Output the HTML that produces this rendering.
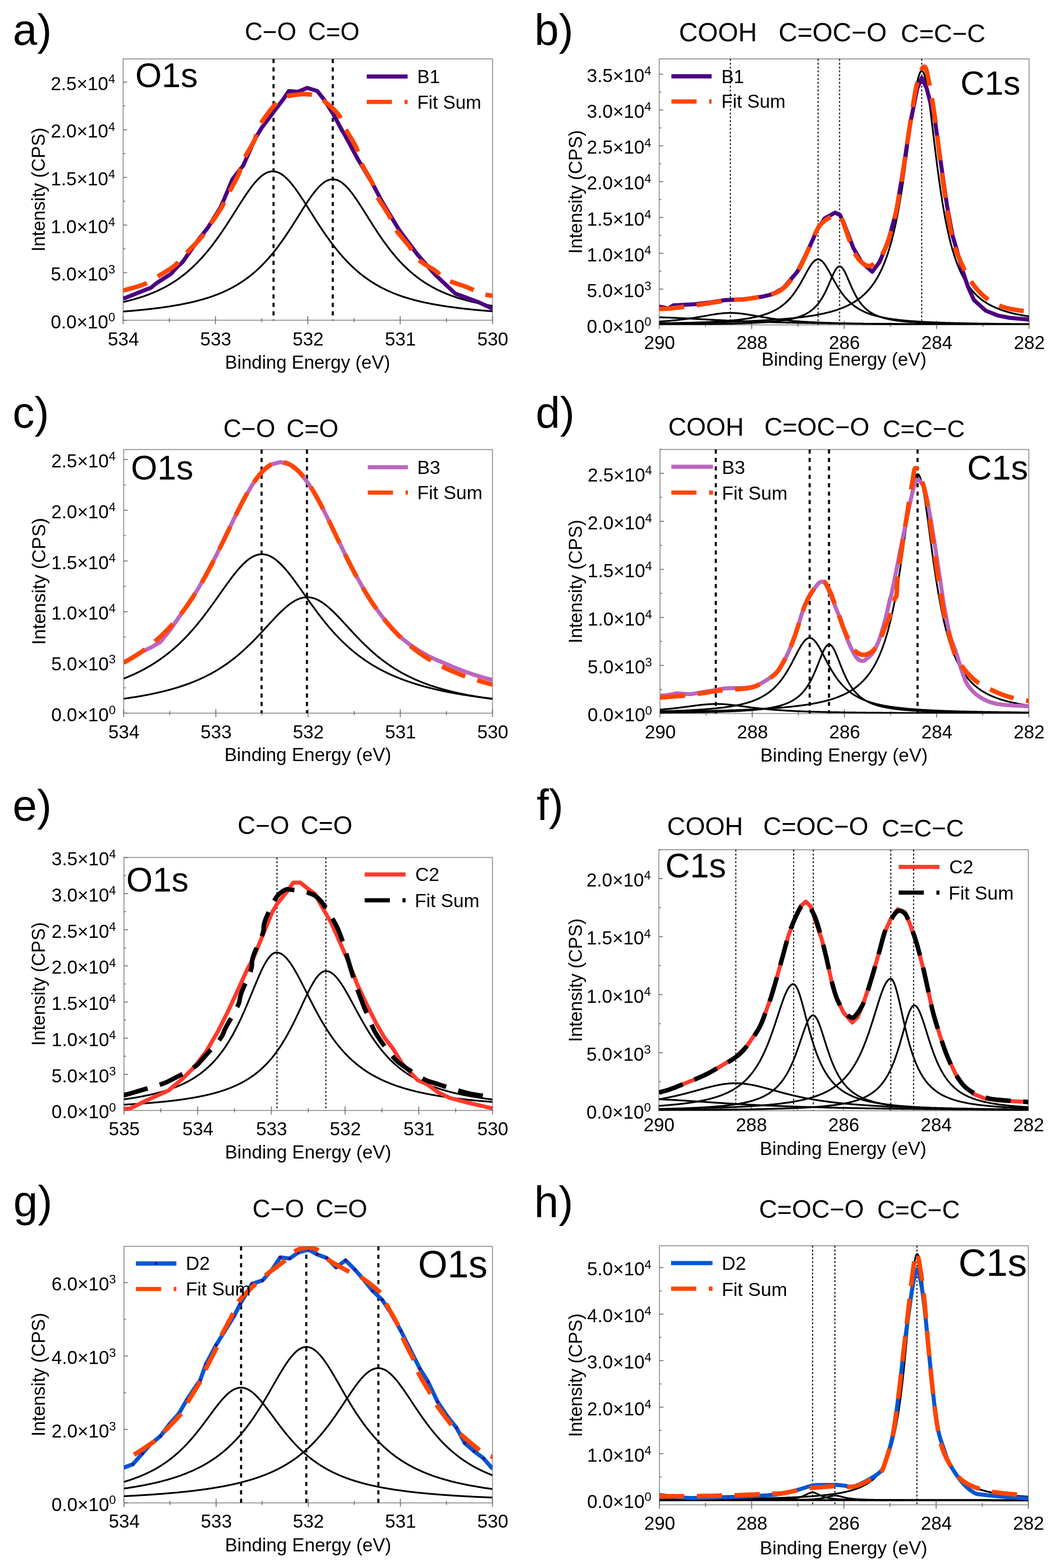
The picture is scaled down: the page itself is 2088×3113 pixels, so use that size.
<!DOCTYPE html><html><head><meta charset="utf-8"><style>html,body{margin:0;padding:0;background:#fff}svg{display:block}text{font-family:'Liberation Sans', Arial, Helvetica, sans-serif;fill:#000}</style></head><body>
<svg xmlns="http://www.w3.org/2000/svg" width="2088" height="3113" viewBox="0 0 2088 3113">
<rect width="100%" height="100%" fill="#fff"/>
<clipPath id="clipa"><rect x="244.4" y="117.0" width="733.2" height="518.7"/></clipPath>
<rect x="244.4" y="117.0" width="733.2" height="518.7" fill="none" stroke="#8c8c8c" stroke-width="1.8"/>
<line x1="244.4" y1="627.7" x2="244.4" y2="643.7" stroke="#707070" stroke-width="1.8"/>
<text x="244.9" y="685.6" font-size="37.00" text-anchor="middle">534</text>
<line x1="336.1" y1="631.7" x2="336.1" y2="639.7" stroke="#707070" stroke-width="1.8"/>
<line x1="427.7" y1="627.7" x2="427.7" y2="643.7" stroke="#707070" stroke-width="1.8"/>
<text x="428.2" y="685.6" font-size="37.00" text-anchor="middle">533</text>
<line x1="519.4" y1="631.7" x2="519.4" y2="639.7" stroke="#707070" stroke-width="1.8"/>
<line x1="611.0" y1="627.7" x2="611.0" y2="643.7" stroke="#707070" stroke-width="1.8"/>
<text x="611.5" y="685.6" font-size="37.00" text-anchor="middle">532</text>
<line x1="702.6" y1="631.7" x2="702.6" y2="639.7" stroke="#707070" stroke-width="1.8"/>
<line x1="794.3" y1="627.7" x2="794.3" y2="643.7" stroke="#707070" stroke-width="1.8"/>
<text x="794.8" y="685.6" font-size="37.00" text-anchor="middle">531</text>
<line x1="886.0" y1="631.7" x2="886.0" y2="639.7" stroke="#707070" stroke-width="1.8"/>
<line x1="977.6" y1="627.7" x2="977.6" y2="643.7" stroke="#707070" stroke-width="1.8"/>
<text x="978.1" y="685.6" font-size="37.00" text-anchor="middle">530</text>
<line x1="244.4" y1="636.0" x2="252.4" y2="636.0" stroke="#707070" stroke-width="1.8"/>
<text x="228.6" y="651.8" font-size="37" text-anchor="end">0.0×10<tspan font-size="24.5" dy="-13.8">0</tspan></text>
<line x1="244.4" y1="588.7" x2="248.4" y2="588.7" stroke="#707070" stroke-width="1.8"/>
<line x1="244.4" y1="541.4" x2="252.4" y2="541.4" stroke="#707070" stroke-width="1.8"/>
<text x="228.6" y="557.2" font-size="37" text-anchor="end">5.0×10<tspan font-size="24.5" dy="-13.8">3</tspan></text>
<line x1="244.4" y1="494.1" x2="248.4" y2="494.1" stroke="#707070" stroke-width="1.8"/>
<line x1="244.4" y1="446.8" x2="252.4" y2="446.8" stroke="#707070" stroke-width="1.8"/>
<text x="228.6" y="462.6" font-size="37" text-anchor="end">1.0×10<tspan font-size="24.5" dy="-13.8">4</tspan></text>
<line x1="244.4" y1="399.5" x2="248.4" y2="399.5" stroke="#707070" stroke-width="1.8"/>
<line x1="244.4" y1="352.2" x2="252.4" y2="352.2" stroke="#707070" stroke-width="1.8"/>
<text x="228.6" y="368.0" font-size="37" text-anchor="end">1.5×10<tspan font-size="24.5" dy="-13.8">4</tspan></text>
<line x1="244.4" y1="304.9" x2="248.4" y2="304.9" stroke="#707070" stroke-width="1.8"/>
<line x1="244.4" y1="257.6" x2="252.4" y2="257.6" stroke="#707070" stroke-width="1.8"/>
<text x="228.6" y="273.4" font-size="37" text-anchor="end">2.0×10<tspan font-size="24.5" dy="-13.8">4</tspan></text>
<line x1="244.4" y1="210.3" x2="248.4" y2="210.3" stroke="#707070" stroke-width="1.8"/>
<line x1="244.4" y1="163.0" x2="252.4" y2="163.0" stroke="#707070" stroke-width="1.8"/>
<text x="228.6" y="178.8" font-size="37" text-anchor="end">2.5×10<tspan font-size="24.5" dy="-13.8">4</tspan></text>
<text x="446.6" y="732.2" font-size="36.63" text-anchor="start">Binding Energy (eV)</text>
<text x="0" y="0" font-size="36.6" text-anchor="middle" transform="translate(88.7,376.4) rotate(-90)">Intensity (CPS)</text>
<line x1="542.9" y1="117.0" x2="542.9" y2="635.7" stroke="#000" stroke-width="4.2" stroke-dasharray="8.2,8.5"/>
<line x1="660.5" y1="117.0" x2="660.5" y2="635.7" stroke="#000" stroke-width="4.2" stroke-dasharray="8.2,8.5"/>
<path d="M244.4,599.5 L245.9,599.2 L247.3,598.9 L248.8,598.5 L250.3,598.2 L251.7,597.8 L253.2,597.5 L254.7,597.1 L256.1,596.7 L257.6,596.3 L259.1,596.0 L260.5,595.6 L262.0,595.2 L263.5,594.8 L264.9,594.4 L266.4,594.0 L267.9,593.6 L269.3,593.1 L270.8,592.7 L272.3,592.3 L273.7,591.8 L275.2,591.4 L276.7,590.9 L278.1,590.5 L279.6,590.0 L281.1,589.5 L282.5,589.1 L284.0,588.6 L285.5,588.1 L286.9,587.6 L288.4,587.1 L289.9,586.5 L291.3,586.0 L292.8,585.5 L294.3,584.9 L295.7,584.4 L297.2,583.8 L298.7,583.2 L300.1,582.7 L301.6,582.1 L303.1,581.5 L304.5,580.9 L306.0,580.2 L307.5,579.6 L308.9,579.0 L310.4,578.3 L311.9,577.7 L313.3,577.0 L314.8,576.3 L316.3,575.6 L317.7,574.9 L319.2,574.2 L320.7,573.5 L322.1,572.8 L323.6,572.0 L325.1,571.2 L326.5,570.5 L328.0,569.7 L329.5,568.9 L330.9,568.1 L332.4,567.3 L333.9,566.4 L335.3,565.6 L336.8,564.7 L338.2,563.9 L339.7,563.0 L341.2,562.1 L342.6,561.2 L344.1,560.2 L345.6,559.3 L347.0,558.3 L348.5,557.4 L350.0,556.4 L351.4,555.4 L352.9,554.4 L354.4,553.3 L355.8,552.3 L357.3,551.2 L358.8,550.1 L360.2,549.0 L361.7,547.9 L363.2,546.8 L364.6,545.6 L366.1,544.5 L367.6,543.3 L369.0,542.1 L370.5,540.9 L372.0,539.7 L373.4,538.4 L374.9,537.1 L376.4,535.8 L377.8,534.5 L379.3,533.2 L380.8,531.9 L382.2,530.5 L383.7,529.1 L385.2,527.7 L386.6,526.3 L388.1,524.9 L389.6,523.4 L391.0,521.9 L392.5,520.4 L394.0,518.9 L395.4,517.4 L396.9,515.8 L398.4,514.2 L399.8,512.6 L401.3,511.0 L402.8,509.4 L404.2,507.7 L405.7,506.0 L407.2,504.3 L408.6,502.6 L410.1,500.9 L411.6,499.1 L413.0,497.3 L414.5,495.5 L416.0,493.7 L417.4,491.9 L418.9,490.0 L420.4,488.1 L421.8,486.2 L423.3,484.3 L424.8,482.3 L426.2,480.4 L427.7,478.4 L429.2,476.4 L430.6,474.3 L432.1,472.3 L433.6,470.2 L435.0,468.2 L436.5,466.1 L438.0,463.9 L439.4,461.8 L440.9,459.7 L442.4,457.5 L443.8,455.3 L445.3,453.1 L446.8,450.9 L448.2,448.7 L449.7,446.4 L451.2,444.2 L452.6,441.9 L454.1,439.7 L455.6,437.4 L457.0,435.1 L458.5,432.8 L460.0,430.5 L461.4,428.2 L462.9,425.9 L464.4,423.5 L465.8,421.2 L467.3,418.9 L468.8,416.6 L470.2,414.2 L471.7,411.9 L473.2,409.6 L474.6,407.3 L476.1,405.0 L477.6,402.7 L479.0,400.4 L480.5,398.1 L482.0,395.9 L483.4,393.6 L484.9,391.4 L486.4,389.2 L487.8,387.0 L489.3,384.8 L490.8,382.7 L492.2,380.6 L493.7,378.5 L495.2,376.5 L496.6,374.4 L498.1,372.5 L499.6,370.5 L501.0,368.6 L502.5,366.8 L504.0,365.0 L505.4,363.2 L506.9,361.5 L508.4,359.8 L509.8,358.2 L511.3,356.7 L512.8,355.2 L514.2,353.8 L515.7,352.4 L517.2,351.1 L518.6,349.8 L520.1,348.7 L521.5,347.6 L523.0,346.5 L524.5,345.6 L525.9,344.7 L527.4,343.9 L528.9,343.2 L530.3,342.5 L531.8,341.9 L533.3,341.5 L534.7,341.0 L536.2,340.7 L537.7,340.5 L539.1,340.3 L540.6,340.2 L542.1,340.2 L543.5,340.3 L545.0,340.5 L546.5,340.7 L547.9,341.0 L549.4,341.5 L550.9,341.9 L552.3,342.5 L553.8,343.2 L555.3,343.9 L556.7,344.7 L558.2,345.6 L559.7,346.5 L561.1,347.6 L562.6,348.7 L564.1,349.8 L565.5,351.1 L567.0,352.4 L568.5,353.8 L569.9,355.2 L571.4,356.7 L572.9,358.2 L574.3,359.8 L575.8,361.5 L577.3,363.2 L578.7,365.0 L580.2,366.8 L581.7,368.6 L583.1,370.5 L584.6,372.5 L586.1,374.4 L587.5,376.5 L589.0,378.5 L590.5,380.6 L591.9,382.7 L593.4,384.8 L594.9,387.0 L596.3,389.2 L597.8,391.4 L599.3,393.6 L600.7,395.9 L602.2,398.1 L603.7,400.4 L605.1,402.7 L606.6,405.0 L608.1,407.3 L609.5,409.6 L611.0,411.9 L612.5,414.2 L613.9,416.6 L615.4,418.9 L616.9,421.2 L618.3,423.5 L619.8,425.9 L621.3,428.2 L622.7,430.5 L624.2,432.8 L625.7,435.1 L627.1,437.4 L628.6,439.7 L630.1,441.9 L631.5,444.2 L633.0,446.4 L634.5,448.7 L635.9,450.9 L637.4,453.1 L638.9,455.3 L640.3,457.5 L641.8,459.7 L643.3,461.8 L644.7,463.9 L646.2,466.1 L647.7,468.2 L649.1,470.2 L650.6,472.3 L652.1,474.3 L653.5,476.4 L655.0,478.4 L656.5,480.4 L657.9,482.3 L659.4,484.3 L660.9,486.2 L662.3,488.1 L663.8,490.0 L665.3,491.9 L666.7,493.7 L668.2,495.5 L669.7,497.3 L671.1,499.1 L672.6,500.9 L674.1,502.6 L675.5,504.3 L677.0,506.0 L678.5,507.7 L679.9,509.4 L681.4,511.0 L682.9,512.6 L684.3,514.2 L685.8,515.8 L687.3,517.4 L688.7,518.9 L690.2,520.4 L691.7,521.9 L693.1,523.4 L694.6,524.9 L696.1,526.3 L697.5,527.7 L699.0,529.1 L700.5,530.5 L701.9,531.9 L703.4,533.2 L704.8,534.5 L706.3,535.8 L707.8,537.1 L709.2,538.4 L710.7,539.7 L712.2,540.9 L713.6,542.1 L715.1,543.3 L716.6,544.5 L718.0,545.6 L719.5,546.8 L721.0,547.9 L722.4,549.0 L723.9,550.1 L725.4,551.2 L726.8,552.3 L728.3,553.3 L729.8,554.4 L731.2,555.4 L732.7,556.4 L734.2,557.4 L735.6,558.3 L737.1,559.3 L738.6,560.2 L740.0,561.2 L741.5,562.1 L743.0,563.0 L744.4,563.9 L745.9,564.7 L747.4,565.6 L748.8,566.4 L750.3,567.3 L751.8,568.1 L753.2,568.9 L754.7,569.7 L756.2,570.5 L757.6,571.2 L759.1,572.0 L760.6,572.8 L762.0,573.5 L763.5,574.2 L765.0,574.9 L766.4,575.6 L767.9,576.3 L769.4,577.0 L770.8,577.7 L772.3,578.3 L773.8,579.0 L775.2,579.6 L776.7,580.2 L778.2,580.9 L779.6,581.5 L781.1,582.1 L782.6,582.7 L784.0,583.2 L785.5,583.8 L787.0,584.4 L788.4,584.9 L789.9,585.5 L791.4,586.0 L792.8,586.5 L794.3,587.1 L795.8,587.6 L797.2,588.1 L798.7,588.6 L800.2,589.1 L801.6,589.5 L803.1,590.0 L804.6,590.5 L806.0,590.9 L807.5,591.4 L809.0,591.8 L810.4,592.3 L811.9,592.7 L813.4,593.1 L814.8,593.6 L816.3,594.0 L817.8,594.4 L819.2,594.8 L820.7,595.2 L822.2,595.6 L823.6,596.0 L825.1,596.3 L826.6,596.7 L828.0,597.1 L829.5,597.5 L831.0,597.8 L832.4,598.2 L833.9,598.5 L835.4,598.9 L836.8,599.2 L838.3,599.5 L839.8,599.9 L841.2,600.2 L842.7,600.5 L844.2,600.8 L845.6,601.1 L847.1,601.4 L848.6,601.7 L850.0,602.0 L851.5,602.3 L853.0,602.6 L854.4,602.9 L855.9,603.2 L857.4,603.5 L858.8,603.7 L860.3,604.0 L861.8,604.3 L863.2,604.6 L864.7,604.8 L866.2,605.1 L867.6,605.3 L869.1,605.6 L870.6,605.8 L872.0,606.1 L873.5,606.3 L875.0,606.6 L876.4,606.8 L877.9,607.0 L879.4,607.3 L880.8,607.5 L882.3,607.7 L883.8,607.9 L885.2,608.1 L886.7,608.4 L888.1,608.6 L889.6,608.8 L891.1,609.0 L892.5,609.2 L894.0,609.4 L895.5,609.6 L896.9,609.8 L898.4,610.0 L899.9,610.2 L901.3,610.4 L902.8,610.6 L904.3,610.8 L905.7,611.0 L907.2,611.1 L908.7,611.3 L910.1,611.5 L911.6,611.7 L913.1,611.9 L914.5,612.0 L916.0,612.2 L917.5,612.4 L918.9,612.5 L920.4,612.7 L921.9,612.9 L923.3,613.0 L924.8,613.2 L926.3,613.4 L927.7,613.5 L929.2,613.7 L930.7,613.8 L932.1,614.0 L933.6,614.1 L935.1,614.3 L936.5,614.4 L938.0,614.6 L939.5,614.7 L940.9,614.9 L942.4,615.0 L943.9,615.2 L945.3,615.3 L946.8,615.4 L948.3,615.6 L949.7,615.7 L951.2,615.8 L952.7,616.0 L954.1,616.1 L955.6,616.2 L957.1,616.4 L958.5,616.5 L960.0,616.6 L961.5,616.7 L962.9,616.9 L964.4,617.0 L965.9,617.1 L967.3,617.2 L968.8,617.3 L970.3,617.5 L971.7,617.6 L973.2,617.7 L974.7,617.8 L976.1,617.9 L977.6,618.0" fill="none" stroke="#000" stroke-width="3.5" stroke-linejoin="round" clip-path="url(#clipa)"/>
<path d="M244.4,618.5 L245.9,618.4 L247.3,618.3 L248.8,618.2 L250.3,618.0 L251.7,617.9 L253.2,617.8 L254.7,617.7 L256.1,617.5 L257.6,617.4 L259.1,617.3 L260.5,617.2 L262.0,617.0 L263.5,616.9 L264.9,616.8 L266.4,616.6 L267.9,616.5 L269.3,616.4 L270.8,616.2 L272.3,616.1 L273.7,616.0 L275.2,615.8 L276.7,615.7 L278.1,615.5 L279.6,615.4 L281.1,615.2 L282.5,615.1 L284.0,614.9 L285.5,614.8 L286.9,614.6 L288.4,614.5 L289.9,614.3 L291.3,614.2 L292.8,614.0 L294.3,613.8 L295.7,613.7 L297.2,613.5 L298.7,613.3 L300.1,613.2 L301.6,613.0 L303.1,612.8 L304.5,612.7 L306.0,612.5 L307.5,612.3 L308.9,612.1 L310.4,611.9 L311.9,611.8 L313.3,611.6 L314.8,611.4 L316.3,611.2 L317.7,611.0 L319.2,610.8 L320.7,610.6 L322.1,610.4 L323.6,610.2 L325.1,610.0 L326.5,609.8 L328.0,609.6 L329.5,609.4 L330.9,609.1 L332.4,608.9 L333.9,608.7 L335.3,608.5 L336.8,608.2 L338.2,608.0 L339.7,607.8 L341.2,607.5 L342.6,607.3 L344.1,607.1 L345.6,606.8 L347.0,606.6 L348.5,606.3 L350.0,606.1 L351.4,605.8 L352.9,605.6 L354.4,605.3 L355.8,605.0 L357.3,604.7 L358.8,604.5 L360.2,604.2 L361.7,603.9 L363.2,603.6 L364.6,603.3 L366.1,603.0 L367.6,602.7 L369.0,602.4 L370.5,602.1 L372.0,601.8 L373.4,601.5 L374.9,601.2 L376.4,600.9 L377.8,600.5 L379.3,600.2 L380.8,599.9 L382.2,599.5 L383.7,599.2 L385.2,598.8 L386.6,598.5 L388.1,598.1 L389.6,597.7 L391.0,597.4 L392.5,597.0 L394.0,596.6 L395.4,596.2 L396.9,595.8 L398.4,595.4 L399.8,595.0 L401.3,594.6 L402.8,594.2 L404.2,593.8 L405.7,593.3 L407.2,592.9 L408.6,592.4 L410.1,592.0 L411.6,591.5 L413.0,591.1 L414.5,590.6 L416.0,590.1 L417.4,589.6 L418.9,589.1 L420.4,588.6 L421.8,588.1 L423.3,587.6 L424.8,587.1 L426.2,586.5 L427.7,586.0 L429.2,585.4 L430.6,584.9 L432.1,584.3 L433.6,583.7 L435.0,583.1 L436.5,582.5 L438.0,581.9 L439.4,581.3 L440.9,580.7 L442.4,580.0 L443.8,579.4 L445.3,578.7 L446.8,578.0 L448.2,577.4 L449.7,576.7 L451.2,576.0 L452.6,575.2 L454.1,574.5 L455.6,573.8 L457.0,573.0 L458.5,572.3 L460.0,571.5 L461.4,570.7 L462.9,569.9 L464.4,569.1 L465.8,568.3 L467.3,567.4 L468.8,566.6 L470.2,565.7 L471.7,564.8 L473.2,563.9 L474.6,563.0 L476.1,562.1 L477.6,561.2 L479.0,560.2 L480.5,559.3 L482.0,558.3 L483.4,557.3 L484.9,556.3 L486.4,555.2 L487.8,554.2 L489.3,553.1 L490.8,552.0 L492.2,550.9 L493.7,549.8 L495.2,548.7 L496.6,547.5 L498.1,546.4 L499.6,545.2 L501.0,544.0 L502.5,542.7 L504.0,541.5 L505.4,540.2 L506.9,539.0 L508.4,537.7 L509.8,536.3 L511.3,535.0 L512.8,533.6 L514.2,532.3 L515.7,530.9 L517.2,529.4 L518.6,528.0 L520.1,526.5 L521.5,525.0 L523.0,523.5 L524.5,522.0 L525.9,520.5 L527.4,518.9 L528.9,517.3 L530.3,515.7 L531.8,514.0 L533.3,512.4 L534.7,510.7 L536.2,509.0 L537.7,507.3 L539.1,505.5 L540.6,503.8 L542.1,502.0 L543.5,500.2 L545.0,498.3 L546.5,496.5 L547.9,494.6 L549.4,492.7 L550.9,490.7 L552.3,488.8 L553.8,486.8 L555.3,484.8 L556.7,482.8 L558.2,480.8 L559.7,478.7 L561.1,476.7 L562.6,474.6 L564.1,472.5 L565.5,470.3 L567.0,468.2 L568.5,466.0 L569.9,463.8 L571.4,461.6 L572.9,459.4 L574.3,457.2 L575.8,454.9 L577.3,452.6 L578.7,450.4 L580.2,448.1 L581.7,445.8 L583.1,443.5 L584.6,441.1 L586.1,438.8 L587.5,436.5 L589.0,434.1 L590.5,431.8 L591.9,429.5 L593.4,427.1 L594.9,424.8 L596.3,422.4 L597.8,420.1 L599.3,417.8 L600.7,415.5 L602.2,413.1 L603.7,410.8 L605.1,408.6 L606.6,406.3 L608.1,404.0 L609.5,401.8 L611.0,399.6 L612.5,397.4 L613.9,395.3 L615.4,393.2 L616.9,391.1 L618.3,389.0 L619.8,387.0 L621.3,385.0 L622.7,383.1 L624.2,381.2 L625.7,379.4 L627.1,377.6 L628.6,375.9 L630.1,374.2 L631.5,372.6 L633.0,371.0 L634.5,369.5 L635.9,368.1 L637.4,366.8 L638.9,365.5 L640.3,364.3 L641.8,363.1 L643.3,362.1 L644.7,361.1 L646.2,360.2 L647.7,359.4 L649.1,358.7 L650.6,358.0 L652.1,357.5 L653.5,357.0 L655.0,356.6 L656.5,356.3 L657.9,356.1 L659.4,356.0 L660.9,356.0 L662.3,356.1 L663.8,356.2 L665.3,356.5 L666.7,356.8 L668.2,357.2 L669.7,357.7 L671.1,358.3 L672.6,359.0 L674.1,359.8 L675.5,360.7 L677.0,361.6 L678.5,362.6 L679.9,363.7 L681.4,364.9 L682.9,366.1 L684.3,367.4 L685.8,368.8 L687.3,370.3 L688.7,371.8 L690.2,373.4 L691.7,375.0 L693.1,376.7 L694.6,378.5 L696.1,380.3 L697.5,382.2 L699.0,384.1 L700.5,386.0 L701.9,388.0 L703.4,390.0 L704.8,392.1 L706.3,394.2 L707.8,396.3 L709.2,398.5 L710.7,400.7 L712.2,402.9 L713.6,405.2 L715.1,407.4 L716.6,409.7 L718.0,412.0 L719.5,414.3 L721.0,416.6 L722.4,418.9 L723.9,421.3 L725.4,423.6 L726.8,425.9 L728.3,428.3 L729.8,430.6 L731.2,433.0 L732.7,435.3 L734.2,437.7 L735.6,440.0 L737.1,442.3 L738.6,444.6 L740.0,446.9 L741.5,449.2 L743.0,451.5 L744.4,453.8 L745.9,456.0 L747.4,458.3 L748.8,460.5 L750.3,462.7 L751.8,464.9 L753.2,467.1 L754.7,469.3 L756.2,471.4 L757.6,473.5 L759.1,475.6 L760.6,477.7 L762.0,479.8 L763.5,481.8 L765.0,483.8 L766.4,485.8 L767.9,487.8 L769.4,489.8 L770.8,491.7 L772.3,493.6 L773.8,495.5 L775.2,497.4 L776.7,499.2 L778.2,501.1 L779.6,502.9 L781.1,504.7 L782.6,506.4 L784.0,508.1 L785.5,509.9 L787.0,511.6 L788.4,513.2 L789.9,514.9 L791.4,516.5 L792.8,518.1 L794.3,519.7 L795.8,521.2 L797.2,522.8 L798.7,524.3 L800.2,525.8 L801.6,527.3 L803.1,528.7 L804.6,530.1 L806.0,531.6 L807.5,532.9 L809.0,534.3 L810.4,535.7 L811.9,537.0 L813.4,538.3 L814.8,539.6 L816.3,540.9 L817.8,542.1 L819.2,543.4 L820.7,544.6 L822.2,545.8 L823.6,546.9 L825.1,548.1 L826.6,549.2 L828.0,550.4 L829.5,551.5 L831.0,552.6 L832.4,553.6 L833.9,554.7 L835.4,555.7 L836.8,556.8 L838.3,557.8 L839.8,558.8 L841.2,559.7 L842.7,560.7 L844.2,561.6 L845.6,562.6 L847.1,563.5 L848.6,564.4 L850.0,565.3 L851.5,566.2 L853.0,567.0 L854.4,567.9 L855.9,568.7 L857.4,569.5 L858.8,570.3 L860.3,571.1 L861.8,571.9 L863.2,572.7 L864.7,573.4 L866.2,574.2 L867.6,574.9 L869.1,575.6 L870.6,576.3 L872.0,577.0 L873.5,577.7 L875.0,578.4 L876.4,579.0 L877.9,579.7 L879.4,580.3 L880.8,581.0 L882.3,581.6 L883.8,582.2 L885.2,582.8 L886.7,583.4 L888.1,584.0 L889.6,584.6 L891.1,585.1 L892.5,585.7 L894.0,586.2 L895.5,586.8 L896.9,587.3 L898.4,587.8 L899.9,588.4 L901.3,588.9 L902.8,589.4 L904.3,589.9 L905.7,590.3 L907.2,590.8 L908.7,591.3 L910.1,591.8 L911.6,592.2 L913.1,592.7 L914.5,593.1 L916.0,593.5 L917.5,594.0 L918.9,594.4 L920.4,594.8 L921.9,595.2 L923.3,595.6 L924.8,596.0 L926.3,596.4 L927.7,596.8 L929.2,597.2 L930.7,597.6 L932.1,597.9 L933.6,598.3 L935.1,598.7 L936.5,599.0 L938.0,599.4 L939.5,599.7 L940.9,600.0 L942.4,600.4 L943.9,600.7 L945.3,601.0 L946.8,601.4 L948.3,601.7 L949.7,602.0 L951.2,602.3 L952.7,602.6 L954.1,602.9 L955.6,603.2 L957.1,603.5 L958.5,603.8 L960.0,604.1 L961.5,604.3 L962.9,604.6 L964.4,604.9 L965.9,605.2 L967.3,605.4 L968.8,605.7 L970.3,605.9 L971.7,606.2 L973.2,606.5 L974.7,606.7 L976.1,606.9 L977.6,607.2" fill="none" stroke="#000" stroke-width="3.5" stroke-linejoin="round" clip-path="url(#clipa)"/>
<path d="M244.6,593.0 L263.0,585.7 L282.1,578.0 L299.7,571.2 L308.9,563.5 L320.3,555.9 L339.5,543.6 L351.0,530.6 L362.0,520.7 L393.0,477.0 L413.0,451.4 L437.0,412.9 L443.0,400.0 L461.4,355.9 L482.9,328.4 L505.8,276.3 L519.6,253.4 L542.6,222.8 L562.5,196.7 L573.2,180.7 L591.5,182.2 L609.9,174.5 L629.8,180.7 L643.6,198.3 L662.0,227.4 L680.0,261.0 L681.2,262.1 L711.6,318.3 L739.7,365.1 L760.8,404.9 L793.6,458.7 L828.7,505.5 L863.8,545.3 L903.6,582.8 L948.0,599.2 L978.0,613.2" fill="none" stroke="#4B0082" stroke-width="8" stroke-linejoin="round" clip-path="url(#clipa)"/>
<path d="M244.0,576.9 L247.2,576.0 L251.5,574.8 L256.7,573.4 L262.4,571.9 L268.3,570.2 L274.1,568.5 L279.3,566.8 L283.8,565.2 L287.4,563.7 L290.5,562.3 L293.1,560.9 L295.6,559.5 L298.1,558.0 L300.7,556.3 L303.7,554.5 L307.2,552.3 L311.3,549.9 L316.0,547.1 L321.1,544.1 L326.3,541.0 L331.4,537.8 L336.4,534.7 L340.8,531.7 L344.6,528.9 L347.7,526.5 L350.0,524.3 L352.0,522.3 L353.6,520.3 L355.3,518.2 L357.1,515.9 L359.4,513.3 L362.2,510.2 L365.8,506.5 L370.0,502.3 L374.5,497.6 L379.3,492.8 L384.1,488.0 L388.6,483.3 L392.7,478.9 L396.1,475.1 L398.9,471.9 L401.0,469.3 L402.7,467.0 L404.2,464.9 L405.6,462.7 L407.2,460.3 L409.0,457.5 L411.3,454.0 L414.2,449.9 L417.6,445.1 L421.2,439.9 L425.0,434.4 L428.7,429.0 L432.2,423.6 L435.5,418.7 L438.3,414.2 L440.5,410.5 L442.3,407.2 L443.7,404.3 L445.0,401.5 L446.2,398.7 L447.6,395.8 L449.2,392.4 L451.1,388.5 L453.6,383.9 L456.4,378.7 L459.4,373.2 L462.5,367.4 L465.7,361.7 L468.6,356.1 L471.2,351.0 L473.4,346.4 L475.0,342.5 L476.1,339.2 L476.8,336.2 L477.4,333.5 L478.0,330.8 L478.8,327.8 L479.9,324.5 L481.6,320.6 L483.9,316.0 L486.7,310.9 L489.9,305.3 L493.3,299.6 L496.6,293.8 L499.8,288.3 L502.7,283.1 L505.0,278.5 L506.6,274.6 L507.6,271.2 L508.3,268.3 L508.8,265.5 L509.3,262.7 L510.1,259.8 L511.3,256.5 L513.2,252.8 L515.8,248.3 L519.0,243.3 L522.5,237.9 L526.4,232.4 L530.4,227.0 L534.3,221.8 L537.9,217.0 L541.2,213.0 L544.2,209.5 L547.0,206.5 L549.6,203.8 L552.1,201.5 L554.6,199.4 L557.0,197.5 L559.6,195.8 L562.3,194.2 L565.1,192.9 L568.0,191.8 L570.8,190.9 L573.8,190.2 L576.7,189.7 L579.7,189.2 L582.7,188.8 L585.7,188.4 L588.8,188.0 L592.0,187.6 L595.1,187.2 L598.4,187.0 L601.6,186.8 L604.8,186.8 L607.9,186.9 L611.0,187.2 L613.9,187.5 L616.7,187.8 L619.4,188.2 L622.1,188.8 L624.9,189.5 L627.8,190.6 L630.9,192.2 L634.4,194.2 L638.4,197.0 L642.9,200.3 L647.7,204.1 L652.6,208.3 L657.5,212.6 L662.0,216.8 L666.1,220.9 L669.5,224.7 L672.1,228.0 L674.0,231.0 L675.5,233.9 L676.6,236.8 L677.7,239.8 L678.9,242.9 L680.4,246.4 L682.4,250.4 L685.0,255.0 L688.1,260.2 L691.5,265.7 L695.0,271.5 L698.5,277.2 L701.8,282.8 L704.7,287.9 L707.0,292.5 L708.6,296.4 L709.5,299.7 L710.1,302.6 L710.5,305.3 L710.8,308.0 L711.4,310.9 L712.4,314.3 L714.0,318.3 L716.3,323.1 L719.3,328.6 L722.7,334.5 L726.2,340.7 L729.8,346.8 L733.2,352.7 L736.2,358.1 L738.6,362.8 L740.2,366.6 L741.2,369.7 L741.9,372.3 L742.3,374.6 L742.8,376.9 L743.4,379.5 L744.5,382.5 L746.3,386.2 L748.8,390.6 L751.9,395.8 L755.4,401.3 L759.1,407.1 L762.9,412.9 L766.5,418.5 L769.8,423.7 L772.5,428.3 L774.5,432.2 L776.1,435.7 L777.2,438.7 L778.2,441.6 L779.2,444.4 L780.5,447.3 L782.1,450.5 L784.2,454.0 L787.0,458.0 L790.3,462.4 L794.0,466.9 L797.9,471.6 L801.8,476.3 L805.6,480.8 L809.2,485.1 L812.3,489.1 L814.9,492.8 L817.0,496.3 L818.9,499.6 L820.6,502.8 L822.4,505.8 L824.5,508.8 L826.9,511.9 L829.8,514.9 L833.5,518.0 L837.7,521.1 L842.4,524.2 L847.2,527.2 L852.1,530.1 L856.8,533.0 L861.2,535.7 L864.9,538.3 L868.0,540.7 L870.4,542.9 L872.4,545.0 L874.3,546.9 L876.3,548.8 L878.5,550.8 L881.3,552.7 L884.8,554.7 L889.4,556.8 L894.7,558.9 L900.5,561.0 L906.7,563.2 L912.9,565.3 L918.9,567.3 L924.5,569.2 L929.3,571.1 L933.4,572.8 L937.1,574.5 L940.5,576.1 L943.5,577.6 L946.4,579.1 L949.3,580.4 L952.1,581.7 L955.1,582.8 L958.2,583.7 L961.5,584.5 L964.9,585.2 L968.1,585.8 L971.2,586.3 L973.9,586.8 L976.2,587.1 L978.0,587.5" fill="none" stroke="#FF4500" stroke-width="9" stroke-linejoin="round" stroke-dasharray="50,25" clip-path="url(#clipa)"/>
<line x1="727.9" y1="151.9" x2="809.0" y2="151.9" stroke="#4B0082" stroke-width="8.3"/>
<line x1="727.9" y1="202.3" x2="809.0" y2="202.3" stroke="#FF4500" stroke-width="8.3" stroke-dasharray="50,25"/>
<text x="828.0" y="165.1" font-size="36.97" text-anchor="start">B1</text>
<text x="828.0" y="215.7" font-size="36.97" text-anchor="start">Fit Sum</text>
<text x="268.5" y="172.5" font-size="67.60" text-anchor="start">O1s</text>
<text x="25.4" y="88.8" font-size="87.00" text-anchor="start">a)</text>
<text x="485.7" y="80.0" font-size="49.32" text-anchor="start">C−O</text>
<text x="611.5" y="80.0" font-size="49.02" text-anchor="start">C=O</text>
<clipPath id="clipb"><rect x="1308.5" y="117.0" width="734.0" height="528.0"/></clipPath>
<rect x="1308.5" y="117.0" width="734.0" height="528.0" fill="none" stroke="#8c8c8c" stroke-width="1.8"/>
<line x1="1308.5" y1="637.0" x2="1308.5" y2="653.0" stroke="#707070" stroke-width="1.8"/>
<text x="1309.0" y="692.9" font-size="37.00" text-anchor="middle">290</text>
<line x1="1400.2" y1="641.0" x2="1400.2" y2="649.0" stroke="#707070" stroke-width="1.8"/>
<line x1="1492.0" y1="637.0" x2="1492.0" y2="653.0" stroke="#707070" stroke-width="1.8"/>
<text x="1492.5" y="692.9" font-size="37.00" text-anchor="middle">288</text>
<line x1="1583.8" y1="641.0" x2="1583.8" y2="649.0" stroke="#707070" stroke-width="1.8"/>
<line x1="1675.5" y1="637.0" x2="1675.5" y2="653.0" stroke="#707070" stroke-width="1.8"/>
<text x="1676.0" y="692.9" font-size="37.00" text-anchor="middle">286</text>
<line x1="1767.2" y1="641.0" x2="1767.2" y2="649.0" stroke="#707070" stroke-width="1.8"/>
<line x1="1859.0" y1="637.0" x2="1859.0" y2="653.0" stroke="#707070" stroke-width="1.8"/>
<text x="1859.5" y="692.9" font-size="37.00" text-anchor="middle">284</text>
<line x1="1950.8" y1="641.0" x2="1950.8" y2="649.0" stroke="#707070" stroke-width="1.8"/>
<line x1="2042.5" y1="637.0" x2="2042.5" y2="653.0" stroke="#707070" stroke-width="1.8"/>
<text x="2043.0" y="692.9" font-size="37.00" text-anchor="middle">282</text>
<line x1="1308.5" y1="645.0" x2="1316.5" y2="645.0" stroke="#707070" stroke-width="1.8"/>
<text x="1292.7" y="660.8" font-size="37" text-anchor="end">0.0×10<tspan font-size="24.5" dy="-13.8">0</tspan></text>
<line x1="1308.5" y1="609.5" x2="1312.5" y2="609.5" stroke="#707070" stroke-width="1.8"/>
<line x1="1308.5" y1="573.9" x2="1316.5" y2="573.9" stroke="#707070" stroke-width="1.8"/>
<text x="1292.7" y="589.7" font-size="37" text-anchor="end">5.0×10<tspan font-size="24.5" dy="-13.8">3</tspan></text>
<line x1="1308.5" y1="538.4" x2="1312.5" y2="538.4" stroke="#707070" stroke-width="1.8"/>
<line x1="1308.5" y1="502.8" x2="1316.5" y2="502.8" stroke="#707070" stroke-width="1.8"/>
<text x="1292.7" y="518.6" font-size="37" text-anchor="end">1.0×10<tspan font-size="24.5" dy="-13.8">4</tspan></text>
<line x1="1308.5" y1="467.2" x2="1312.5" y2="467.2" stroke="#707070" stroke-width="1.8"/>
<line x1="1308.5" y1="431.7" x2="1316.5" y2="431.7" stroke="#707070" stroke-width="1.8"/>
<text x="1292.7" y="447.5" font-size="37" text-anchor="end">1.5×10<tspan font-size="24.5" dy="-13.8">4</tspan></text>
<line x1="1308.5" y1="396.2" x2="1312.5" y2="396.2" stroke="#707070" stroke-width="1.8"/>
<line x1="1308.5" y1="360.6" x2="1316.5" y2="360.6" stroke="#707070" stroke-width="1.8"/>
<text x="1292.7" y="376.4" font-size="37" text-anchor="end">2.0×10<tspan font-size="24.5" dy="-13.8">4</tspan></text>
<line x1="1308.5" y1="325.1" x2="1312.5" y2="325.1" stroke="#707070" stroke-width="1.8"/>
<line x1="1308.5" y1="289.5" x2="1316.5" y2="289.5" stroke="#707070" stroke-width="1.8"/>
<text x="1292.7" y="305.3" font-size="37" text-anchor="end">2.5×10<tspan font-size="24.5" dy="-13.8">4</tspan></text>
<line x1="1308.5" y1="254.0" x2="1312.5" y2="254.0" stroke="#707070" stroke-width="1.8"/>
<line x1="1308.5" y1="218.4" x2="1316.5" y2="218.4" stroke="#707070" stroke-width="1.8"/>
<text x="1292.7" y="234.2" font-size="37" text-anchor="end">3.0×10<tspan font-size="24.5" dy="-13.8">4</tspan></text>
<line x1="1308.5" y1="182.9" x2="1312.5" y2="182.9" stroke="#707070" stroke-width="1.8"/>
<line x1="1308.5" y1="147.3" x2="1316.5" y2="147.3" stroke="#707070" stroke-width="1.8"/>
<text x="1292.7" y="163.1" font-size="37" text-anchor="end">3.5×10<tspan font-size="24.5" dy="-13.8">4</tspan></text>
<text x="1511.5" y="726.0" font-size="36.59" text-anchor="start">Binding Energy (eV)</text>
<text x="0" y="0" font-size="36.5" text-anchor="middle" transform="translate(1155.3,381.0) rotate(-90)">Intensity (CPS)</text>
<line x1="1449.6" y1="117.0" x2="1449.6" y2="645.0" stroke="#000" stroke-width="2" stroke-dasharray="3.8,3.8"/>
<line x1="1623.7" y1="117.0" x2="1623.7" y2="645.0" stroke="#000" stroke-width="2" stroke-dasharray="3.8,3.8"/>
<line x1="1666.4" y1="117.0" x2="1666.4" y2="645.0" stroke="#000" stroke-width="2" stroke-dasharray="3.8,3.8"/>
<line x1="1829.4" y1="117.0" x2="1829.4" y2="645.0" stroke="#000" stroke-width="2" stroke-dasharray="3.8,3.8"/>
<path d="M1308.5,641.7 L1310.0,641.7 L1311.4,641.7 L1312.9,641.7 L1314.4,641.6 L1315.8,641.6 L1317.3,641.6 L1318.8,641.6 L1320.2,641.6 L1321.7,641.5 L1323.2,641.5 L1324.6,641.5 L1326.1,641.5 L1327.6,641.5 L1329.1,641.4 L1330.5,641.4 L1332.0,641.4 L1333.5,641.4 L1334.9,641.4 L1336.4,641.3 L1337.9,641.3 L1339.3,641.3 L1340.8,641.3 L1342.3,641.2 L1343.7,641.2 L1345.2,641.2 L1346.7,641.2 L1348.1,641.2 L1349.6,641.1 L1351.1,641.1 L1352.5,641.1 L1354.0,641.1 L1355.5,641.0 L1356.9,641.0 L1358.4,641.0 L1359.9,641.0 L1361.3,640.9 L1362.8,640.9 L1364.3,640.9 L1365.8,640.9 L1367.2,640.8 L1368.7,640.8 L1370.2,640.8 L1371.6,640.8 L1373.1,640.7 L1374.6,640.7 L1376.0,640.7 L1377.5,640.6 L1379.0,640.6 L1380.4,640.6 L1381.9,640.6 L1383.4,640.5 L1384.8,640.5 L1386.3,640.5 L1387.8,640.4 L1389.2,640.4 L1390.7,640.4 L1392.2,640.3 L1393.6,640.3 L1395.1,640.3 L1396.6,640.3 L1398.0,640.2 L1399.5,640.2 L1401.0,640.2 L1402.5,640.1 L1403.9,640.1 L1405.4,640.1 L1406.9,640.0 L1408.3,640.0 L1409.8,640.0 L1411.3,639.9 L1412.7,639.9 L1414.2,639.8 L1415.7,639.8 L1417.1,639.8 L1418.6,639.7 L1420.1,639.7 L1421.5,639.7 L1423.0,639.6 L1424.5,639.6 L1425.9,639.5 L1427.4,639.5 L1428.9,639.5 L1430.3,639.4 L1431.8,639.4 L1433.3,639.3 L1434.7,639.3 L1436.2,639.3 L1437.7,639.2 L1439.2,639.2 L1440.6,639.1 L1442.1,639.1 L1443.6,639.0 L1445.0,639.0 L1446.5,639.0 L1448.0,638.9 L1449.4,638.9 L1450.9,638.8 L1452.4,638.8 L1453.8,638.7 L1455.3,638.7 L1456.8,638.6 L1458.2,638.6 L1459.7,638.5 L1461.2,638.5 L1462.6,638.4 L1464.1,638.4 L1465.6,638.3 L1467.0,638.3 L1468.5,638.2 L1470.0,638.1 L1471.4,638.1 L1472.9,638.0 L1474.4,638.0 L1475.9,637.9 L1477.3,637.9 L1478.8,637.8 L1480.3,637.7 L1481.7,637.7 L1483.2,637.6 L1484.7,637.6 L1486.1,637.5 L1487.6,637.4 L1489.1,637.4 L1490.5,637.3 L1492.0,637.2 L1493.5,637.2 L1494.9,637.1 L1496.4,637.0 L1497.9,637.0 L1499.3,636.9 L1500.8,636.8 L1502.3,636.8 L1503.7,636.7 L1505.2,636.6 L1506.7,636.5 L1508.1,636.5 L1509.6,636.4 L1511.1,636.3 L1512.6,636.2 L1514.0,636.1 L1515.5,636.1 L1517.0,636.0 L1518.4,635.9 L1519.9,635.8 L1521.4,635.7 L1522.8,635.6 L1524.3,635.5 L1525.8,635.5 L1527.2,635.4 L1528.7,635.3 L1530.2,635.2 L1531.6,635.1 L1533.1,635.0 L1534.6,634.9 L1536.0,634.8 L1537.5,634.7 L1539.0,634.6 L1540.4,634.5 L1541.9,634.4 L1543.4,634.3 L1544.8,634.2 L1546.3,634.0 L1547.8,633.9 L1549.3,633.8 L1550.7,633.7 L1552.2,633.6 L1553.7,633.5 L1555.1,633.3 L1556.6,633.2 L1558.1,633.1 L1559.5,633.0 L1561.0,632.8 L1562.5,632.7 L1563.9,632.6 L1565.4,632.4 L1566.9,632.3 L1568.3,632.2 L1569.8,632.0 L1571.3,631.9 L1572.7,631.7 L1574.2,631.6 L1575.7,631.4 L1577.1,631.3 L1578.6,631.1 L1580.1,631.0 L1581.5,630.8 L1583.0,630.6 L1584.5,630.5 L1586.0,630.3 L1587.4,630.1 L1588.9,630.0 L1590.4,629.8 L1591.8,629.6 L1593.3,629.4 L1594.8,629.2 L1596.2,629.0 L1597.7,628.8 L1599.2,628.6 L1600.6,628.4 L1602.1,628.2 L1603.6,628.0 L1605.0,627.8 L1606.5,627.6 L1608.0,627.4 L1609.4,627.1 L1610.9,626.9 L1612.4,626.7 L1613.8,626.4 L1615.3,626.2 L1616.8,625.9 L1618.2,625.7 L1619.7,625.4 L1621.2,625.1 L1622.7,624.9 L1624.1,624.6 L1625.6,624.3 L1627.1,624.0 L1628.5,623.7 L1630.0,623.4 L1631.5,623.1 L1632.9,622.8 L1634.4,622.5 L1635.9,622.2 L1637.3,621.8 L1638.8,621.5 L1640.3,621.1 L1641.7,620.8 L1643.2,620.4 L1644.7,620.0 L1646.1,619.7 L1647.6,619.3 L1649.1,618.9 L1650.5,618.5 L1652.0,618.0 L1653.5,617.6 L1654.9,617.2 L1656.4,616.7 L1657.9,616.3 L1659.4,615.8 L1660.8,615.3 L1662.3,614.8 L1663.8,614.3 L1665.2,613.8 L1666.7,613.3 L1668.2,612.7 L1669.6,612.2 L1671.1,611.6 L1672.6,611.0 L1674.0,610.4 L1675.5,609.8 L1677.0,609.2 L1678.4,608.5 L1679.9,607.9 L1681.4,607.2 L1682.8,606.5 L1684.3,605.8 L1685.8,605.0 L1687.2,604.3 L1688.7,603.5 L1690.2,602.7 L1691.6,601.8 L1693.1,601.0 L1694.6,600.1 L1696.1,599.2 L1697.5,598.3 L1699.0,597.3 L1700.5,596.3 L1701.9,595.3 L1703.4,594.3 L1704.9,593.2 L1706.3,592.1 L1707.8,591.0 L1709.3,589.8 L1710.7,588.6 L1712.2,587.3 L1713.7,586.0 L1715.1,584.7 L1716.6,583.3 L1718.1,581.8 L1719.5,580.4 L1721.0,578.8 L1722.5,577.3 L1723.9,575.6 L1725.4,573.9 L1726.9,572.2 L1728.3,570.4 L1729.8,568.5 L1731.3,566.5 L1732.8,564.5 L1734.2,562.4 L1735.7,560.3 L1737.2,558.0 L1738.6,555.7 L1740.1,553.3 L1741.6,550.8 L1743.0,548.2 L1744.5,545.5 L1746.0,542.7 L1747.4,539.8 L1748.9,536.7 L1750.4,533.6 L1751.8,530.3 L1753.3,526.9 L1754.8,523.3 L1756.2,519.6 L1757.7,515.8 L1759.2,511.8 L1760.6,507.6 L1762.1,503.3 L1763.6,498.8 L1765.0,494.0 L1766.5,489.1 L1768.0,484.0 L1769.5,478.7 L1770.9,473.1 L1772.4,467.4 L1773.9,461.3 L1775.3,455.1 L1776.8,448.5 L1778.3,441.7 L1779.7,434.7 L1781.2,427.3 L1782.7,419.7 L1784.1,411.7 L1785.6,403.5 L1787.1,394.9 L1788.5,386.1 L1790.0,376.9 L1791.5,367.5 L1792.9,357.7 L1794.4,347.7 L1795.9,337.4 L1797.3,326.8 L1798.8,316.0 L1800.3,305.0 L1801.7,293.8 L1803.2,282.5 L1804.7,271.2 L1806.2,259.8 L1807.6,248.4 L1809.1,237.2 L1810.6,226.1 L1812.0,215.3 L1813.5,204.9 L1815.0,194.9 L1816.4,185.5 L1817.9,176.7 L1819.4,168.7 L1820.8,161.5 L1822.3,155.3 L1823.8,150.1 L1825.2,145.9 L1826.7,142.9 L1828.2,141.1 L1829.6,140.5 L1831.1,141.2 L1832.6,143.3 L1834.0,146.7 L1835.5,151.4 L1837.0,157.4 L1838.4,164.4 L1839.9,172.5 L1841.4,181.5 L1842.9,191.3 L1844.3,201.8 L1845.8,212.9 L1847.3,224.3 L1848.7,236.1 L1850.2,248.2 L1851.7,260.3 L1853.1,272.5 L1854.6,284.7 L1856.1,296.7 L1857.5,308.6 L1859.0,320.3 L1860.5,331.7 L1861.9,342.9 L1863.4,353.8 L1864.9,364.3 L1866.3,374.5 L1867.8,384.4 L1869.3,393.9 L1870.7,403.1 L1872.2,411.9 L1873.7,420.4 L1875.1,428.5 L1876.6,436.3 L1878.1,443.8 L1879.6,451.0 L1881.0,457.9 L1882.5,464.4 L1884.0,470.8 L1885.4,476.8 L1886.9,482.6 L1888.4,488.1 L1889.8,493.4 L1891.3,498.4 L1892.8,503.3 L1894.2,507.9 L1895.7,512.4 L1897.2,516.6 L1898.6,520.7 L1900.1,524.6 L1901.6,528.3 L1903.0,531.9 L1904.5,535.3 L1906.0,538.6 L1907.4,541.8 L1908.9,544.8 L1910.4,547.8 L1911.8,550.6 L1913.3,553.2 L1914.8,555.8 L1916.3,558.3 L1917.7,560.7 L1919.2,563.0 L1920.7,565.2 L1922.1,567.3 L1923.6,569.4 L1925.1,571.3 L1926.5,573.2 L1928.0,575.1 L1929.5,576.8 L1930.9,578.5 L1932.4,580.2 L1933.9,581.8 L1935.3,583.3 L1936.8,584.8 L1938.3,586.2 L1939.7,587.6 L1941.2,588.9 L1942.7,590.2 L1944.1,591.5 L1945.6,592.7 L1947.1,593.8 L1948.5,595.0 L1950.0,596.1 L1951.5,597.1 L1953.0,598.2 L1954.4,599.1 L1955.9,600.1 L1957.4,601.0 L1958.8,602.0 L1960.3,602.8 L1961.8,603.7 L1963.2,604.5 L1964.7,605.3 L1966.2,606.1 L1967.6,606.9 L1969.1,607.6 L1970.6,608.3 L1972.0,609.0 L1973.5,609.7 L1975.0,610.4 L1976.4,611.0 L1977.9,611.6 L1979.4,612.2 L1980.8,612.8 L1982.3,613.4 L1983.8,614.0 L1985.2,614.5 L1986.7,615.1 L1988.2,615.6 L1989.7,616.1 L1991.1,616.6 L1992.6,617.1 L1994.1,617.5 L1995.5,618.0 L1997.0,618.4 L1998.5,618.9 L1999.9,619.3 L2001.4,619.7 L2002.9,620.1 L2004.3,620.5 L2005.8,620.9 L2007.3,621.3 L2008.7,621.7 L2010.2,622.0 L2011.7,622.4 L2013.1,622.7 L2014.6,623.0 L2016.1,623.4 L2017.5,623.7 L2019.0,624.0 L2020.5,624.3 L2021.9,624.6 L2023.4,624.9 L2024.9,625.2 L2026.4,625.5 L2027.8,625.8 L2029.3,626.0 L2030.8,626.3 L2032.2,626.6 L2033.7,626.8 L2035.2,627.1 L2036.6,627.3 L2038.1,627.6 L2039.6,627.8 L2041.0,628.0 L2042.5,628.2" fill="none" stroke="#000" stroke-width="3.5" stroke-linejoin="round" clip-path="url(#clipb)"/>
<path d="M1308.5,642.3 L1310.0,642.3 L1311.4,642.2 L1312.9,642.2 L1314.4,642.2 L1315.8,642.2 L1317.3,642.1 L1318.8,642.1 L1320.2,642.1 L1321.7,642.1 L1323.2,642.0 L1324.6,642.0 L1326.1,642.0 L1327.6,641.9 L1329.1,641.9 L1330.5,641.9 L1332.0,641.9 L1333.5,641.8 L1334.9,641.8 L1336.4,641.8 L1337.9,641.7 L1339.3,641.7 L1340.8,641.7 L1342.3,641.6 L1343.7,641.6 L1345.2,641.6 L1346.7,641.5 L1348.1,641.5 L1349.6,641.5 L1351.1,641.4 L1352.5,641.4 L1354.0,641.3 L1355.5,641.3 L1356.9,641.3 L1358.4,641.2 L1359.9,641.2 L1361.3,641.1 L1362.8,641.1 L1364.3,641.1 L1365.8,641.0 L1367.2,641.0 L1368.7,640.9 L1370.2,640.9 L1371.6,640.8 L1373.1,640.8 L1374.6,640.7 L1376.0,640.7 L1377.5,640.6 L1379.0,640.6 L1380.4,640.5 L1381.9,640.5 L1383.4,640.4 L1384.8,640.4 L1386.3,640.3 L1387.8,640.3 L1389.2,640.2 L1390.7,640.1 L1392.2,640.1 L1393.6,640.0 L1395.1,640.0 L1396.6,639.9 L1398.0,639.8 L1399.5,639.8 L1401.0,639.7 L1402.5,639.6 L1403.9,639.6 L1405.4,639.5 L1406.9,639.4 L1408.3,639.3 L1409.8,639.3 L1411.3,639.2 L1412.7,639.1 L1414.2,639.0 L1415.7,639.0 L1417.1,638.9 L1418.6,638.8 L1420.1,638.7 L1421.5,638.6 L1423.0,638.5 L1424.5,638.4 L1425.9,638.3 L1427.4,638.3 L1428.9,638.2 L1430.3,638.1 L1431.8,638.0 L1433.3,637.9 L1434.7,637.7 L1436.2,637.6 L1437.7,637.5 L1439.2,637.4 L1440.6,637.3 L1442.1,637.2 L1443.6,637.1 L1445.0,636.9 L1446.5,636.8 L1448.0,636.7 L1449.4,636.6 L1450.9,636.4 L1452.4,636.3 L1453.8,636.1 L1455.3,636.0 L1456.8,635.9 L1458.2,635.7 L1459.7,635.5 L1461.2,635.4 L1462.6,635.2 L1464.1,635.1 L1465.6,634.9 L1467.0,634.7 L1468.5,634.5 L1470.0,634.3 L1471.4,634.2 L1472.9,634.0 L1474.4,633.8 L1475.9,633.6 L1477.3,633.4 L1478.8,633.1 L1480.3,632.9 L1481.7,632.7 L1483.2,632.5 L1484.7,632.2 L1486.1,632.0 L1487.6,631.7 L1489.1,631.4 L1490.5,631.2 L1492.0,630.9 L1493.5,630.6 L1494.9,630.3 L1496.4,630.0 L1497.9,629.7 L1499.3,629.4 L1500.8,629.1 L1502.3,628.7 L1503.7,628.4 L1505.2,628.0 L1506.7,627.6 L1508.1,627.3 L1509.6,626.9 L1511.1,626.5 L1512.6,626.0 L1514.0,625.6 L1515.5,625.2 L1517.0,624.7 L1518.4,624.2 L1519.9,623.7 L1521.4,623.2 L1522.8,622.7 L1524.3,622.1 L1525.8,621.6 L1527.2,621.0 L1528.7,620.4 L1530.2,619.7 L1531.6,619.1 L1533.1,618.4 L1534.6,617.7 L1536.0,617.0 L1537.5,616.2 L1539.0,615.5 L1540.4,614.7 L1541.9,613.8 L1543.4,613.0 L1544.8,612.1 L1546.3,611.1 L1547.8,610.1 L1549.3,609.1 L1550.7,608.1 L1552.2,607.0 L1553.7,605.9 L1555.1,604.7 L1556.6,603.5 L1558.1,602.2 L1559.5,600.9 L1561.0,599.6 L1562.5,598.2 L1563.9,596.7 L1565.4,595.2 L1566.9,593.6 L1568.3,592.0 L1569.8,590.3 L1571.3,588.5 L1572.7,586.7 L1574.2,584.8 L1575.7,582.8 L1577.1,580.8 L1578.6,578.7 L1580.1,576.6 L1581.5,574.3 L1583.0,572.1 L1584.5,569.7 L1586.0,567.3 L1587.4,564.8 L1588.9,562.3 L1590.4,559.7 L1591.8,557.1 L1593.3,554.5 L1594.8,551.8 L1596.2,549.1 L1597.7,546.4 L1599.2,543.7 L1600.6,541.0 L1602.1,538.4 L1603.6,535.8 L1605.0,533.2 L1606.5,530.8 L1608.0,528.4 L1609.4,526.2 L1610.9,524.1 L1612.4,522.2 L1613.8,520.5 L1615.3,519.0 L1616.8,517.7 L1618.2,516.6 L1619.7,515.8 L1621.2,515.2 L1622.7,514.9 L1624.1,514.8 L1625.6,515.0 L1627.1,515.5 L1628.5,516.2 L1630.0,517.2 L1631.5,518.5 L1632.9,519.9 L1634.4,521.6 L1635.9,523.4 L1637.3,525.4 L1638.8,527.6 L1640.3,529.9 L1641.7,532.3 L1643.2,534.8 L1644.7,537.4 L1646.1,540.0 L1647.6,542.7 L1649.1,545.4 L1650.5,548.1 L1652.0,550.8 L1653.5,553.5 L1654.9,556.1 L1656.4,558.8 L1657.9,561.4 L1659.4,563.9 L1660.8,566.4 L1662.3,568.8 L1663.8,571.2 L1665.2,573.5 L1666.7,575.7 L1668.2,577.9 L1669.6,580.0 L1671.1,582.1 L1672.6,584.1 L1674.0,586.0 L1675.5,587.8 L1677.0,589.6 L1678.4,591.3 L1679.9,593.0 L1681.4,594.6 L1682.8,596.1 L1684.3,597.6 L1685.8,599.0 L1687.2,600.4 L1688.7,601.8 L1690.2,603.0 L1691.6,604.3 L1693.1,605.5 L1694.6,606.6 L1696.1,607.7 L1697.5,608.8 L1699.0,609.8 L1700.5,610.8 L1701.9,611.7 L1703.4,612.6 L1704.9,613.5 L1706.3,614.3 L1707.8,615.2 L1709.3,616.0 L1710.7,616.7 L1712.2,617.4 L1713.7,618.2 L1715.1,618.8 L1716.6,619.5 L1718.1,620.1 L1719.5,620.7 L1721.0,621.3 L1722.5,621.9 L1723.9,622.5 L1725.4,623.0 L1726.9,623.5 L1728.3,624.0 L1729.8,624.5 L1731.3,625.0 L1732.8,625.4 L1734.2,625.9 L1735.7,626.3 L1737.2,626.7 L1738.6,627.1 L1740.1,627.5 L1741.6,627.9 L1743.0,628.2 L1744.5,628.6 L1746.0,628.9 L1747.4,629.3 L1748.9,629.6 L1750.4,629.9 L1751.8,630.2 L1753.3,630.5 L1754.8,630.8 L1756.2,631.1 L1757.7,631.3 L1759.2,631.6 L1760.6,631.9 L1762.1,632.1 L1763.6,632.4 L1765.0,632.6 L1766.5,632.8 L1768.0,633.1 L1769.5,633.3 L1770.9,633.5 L1772.4,633.7 L1773.9,633.9 L1775.3,634.1 L1776.8,634.3 L1778.3,634.5 L1779.7,634.6 L1781.2,634.8 L1782.7,635.0 L1784.1,635.2 L1785.6,635.3 L1787.1,635.5 L1788.5,635.6 L1790.0,635.8 L1791.5,635.9 L1792.9,636.1 L1794.4,636.2 L1795.9,636.4 L1797.3,636.5 L1798.8,636.6 L1800.3,636.8 L1801.7,636.9 L1803.2,637.0 L1804.7,637.1 L1806.2,637.3 L1807.6,637.4 L1809.1,637.5 L1810.6,637.6 L1812.0,637.7 L1813.5,637.8 L1815.0,637.9 L1816.4,638.0 L1817.9,638.1 L1819.4,638.2 L1820.8,638.3 L1822.3,638.4 L1823.8,638.5 L1825.2,638.6 L1826.7,638.7 L1828.2,638.8 L1829.6,638.8 L1831.1,638.9 L1832.6,639.0 L1834.0,639.1 L1835.5,639.2 L1837.0,639.2 L1838.4,639.3 L1839.9,639.4 L1841.4,639.5 L1842.9,639.5 L1844.3,639.6 L1845.8,639.7 L1847.3,639.7 L1848.7,639.8 L1850.2,639.9 L1851.7,639.9 L1853.1,640.0 L1854.6,640.1 L1856.1,640.1 L1857.5,640.2 L1859.0,640.2 L1860.5,640.3 L1861.9,640.3 L1863.4,640.4 L1864.9,640.5 L1866.3,640.5 L1867.8,640.6 L1869.3,640.6 L1870.7,640.7 L1872.2,640.7 L1873.7,640.8 L1875.1,640.8 L1876.6,640.9 L1878.1,640.9 L1879.6,640.9 L1881.0,641.0 L1882.5,641.0 L1884.0,641.1 L1885.4,641.1 L1886.9,641.2 L1888.4,641.2 L1889.8,641.2 L1891.3,641.3 L1892.8,641.3 L1894.2,641.4 L1895.7,641.4 L1897.2,641.4 L1898.6,641.5 L1900.1,641.5 L1901.6,641.5 L1903.0,641.6 L1904.5,641.6 L1906.0,641.7 L1907.4,641.7 L1908.9,641.7 L1910.4,641.8 L1911.8,641.8 L1913.3,641.8 L1914.8,641.8 L1916.3,641.9 L1917.7,641.9 L1919.2,641.9 L1920.7,642.0 L1922.1,642.0 L1923.6,642.0 L1925.1,642.1 L1926.5,642.1 L1928.0,642.1 L1929.5,642.1 L1930.9,642.2 L1932.4,642.2 L1933.9,642.2 L1935.3,642.2 L1936.8,642.3 L1938.3,642.3 L1939.7,642.3 L1941.2,642.3 L1942.7,642.4 L1944.1,642.4 L1945.6,642.4 L1947.1,642.4 L1948.5,642.5 L1950.0,642.5 L1951.5,642.5 L1953.0,642.5 L1954.4,642.5 L1955.9,642.6 L1957.4,642.6 L1958.8,642.6 L1960.3,642.6 L1961.8,642.6 L1963.2,642.7 L1964.7,642.7 L1966.2,642.7 L1967.6,642.7 L1969.1,642.7 L1970.6,642.8 L1972.0,642.8 L1973.5,642.8 L1975.0,642.8 L1976.4,642.8 L1977.9,642.9 L1979.4,642.9 L1980.8,642.9 L1982.3,642.9 L1983.8,642.9 L1985.2,642.9 L1986.7,643.0 L1988.2,643.0 L1989.7,643.0 L1991.1,643.0 L1992.6,643.0 L1994.1,643.0 L1995.5,643.0 L1997.0,643.1 L1998.5,643.1 L1999.9,643.1 L2001.4,643.1 L2002.9,643.1 L2004.3,643.1 L2005.8,643.2 L2007.3,643.2 L2008.7,643.2 L2010.2,643.2 L2011.7,643.2 L2013.1,643.2 L2014.6,643.2 L2016.1,643.2 L2017.5,643.3 L2019.0,643.3 L2020.5,643.3 L2021.9,643.3 L2023.4,643.3 L2024.9,643.3 L2026.4,643.3 L2027.8,643.3 L2029.3,643.4 L2030.8,643.4 L2032.2,643.4 L2033.7,643.4 L2035.2,643.4 L2036.6,643.4 L2038.1,643.4 L2039.6,643.4 L2041.0,643.4 L2042.5,643.5" fill="none" stroke="#000" stroke-width="3.5" stroke-linejoin="round" clip-path="url(#clipb)"/>
<path d="M1308.5,644.1 L1310.0,644.1 L1311.4,644.1 L1312.9,644.0 L1314.4,644.0 L1315.8,644.0 L1317.3,644.0 L1318.8,644.0 L1320.2,644.0 L1321.7,644.0 L1323.2,644.0 L1324.6,644.0 L1326.1,644.0 L1327.6,644.0 L1329.1,644.0 L1330.5,643.9 L1332.0,643.9 L1333.5,643.9 L1334.9,643.9 L1336.4,643.9 L1337.9,643.9 L1339.3,643.9 L1340.8,643.9 L1342.3,643.9 L1343.7,643.9 L1345.2,643.9 L1346.7,643.8 L1348.1,643.8 L1349.6,643.8 L1351.1,643.8 L1352.5,643.8 L1354.0,643.8 L1355.5,643.8 L1356.9,643.8 L1358.4,643.8 L1359.9,643.7 L1361.3,643.7 L1362.8,643.7 L1364.3,643.7 L1365.8,643.7 L1367.2,643.7 L1368.7,643.7 L1370.2,643.7 L1371.6,643.6 L1373.1,643.6 L1374.6,643.6 L1376.0,643.6 L1377.5,643.6 L1379.0,643.6 L1380.4,643.6 L1381.9,643.5 L1383.4,643.5 L1384.8,643.5 L1386.3,643.5 L1387.8,643.5 L1389.2,643.5 L1390.7,643.4 L1392.2,643.4 L1393.6,643.4 L1395.1,643.4 L1396.6,643.4 L1398.0,643.4 L1399.5,643.3 L1401.0,643.3 L1402.5,643.3 L1403.9,643.3 L1405.4,643.3 L1406.9,643.2 L1408.3,643.2 L1409.8,643.2 L1411.3,643.2 L1412.7,643.2 L1414.2,643.1 L1415.7,643.1 L1417.1,643.1 L1418.6,643.1 L1420.1,643.1 L1421.5,643.0 L1423.0,643.0 L1424.5,643.0 L1425.9,643.0 L1427.4,642.9 L1428.9,642.9 L1430.3,642.9 L1431.8,642.9 L1433.3,642.8 L1434.7,642.8 L1436.2,642.8 L1437.7,642.8 L1439.2,642.7 L1440.6,642.7 L1442.1,642.7 L1443.6,642.6 L1445.0,642.6 L1446.5,642.6 L1448.0,642.5 L1449.4,642.5 L1450.9,642.5 L1452.4,642.4 L1453.8,642.4 L1455.3,642.4 L1456.8,642.3 L1458.2,642.3 L1459.7,642.3 L1461.2,642.2 L1462.6,642.2 L1464.1,642.1 L1465.6,642.1 L1467.0,642.1 L1468.5,642.0 L1470.0,642.0 L1471.4,641.9 L1472.9,641.9 L1474.4,641.8 L1475.9,641.8 L1477.3,641.7 L1478.8,641.7 L1480.3,641.6 L1481.7,641.6 L1483.2,641.5 L1484.7,641.5 L1486.1,641.4 L1487.6,641.4 L1489.1,641.3 L1490.5,641.3 L1492.0,641.2 L1493.5,641.1 L1494.9,641.1 L1496.4,641.0 L1497.9,640.9 L1499.3,640.9 L1500.8,640.8 L1502.3,640.7 L1503.7,640.6 L1505.2,640.6 L1506.7,640.5 L1508.1,640.4 L1509.6,640.3 L1511.1,640.2 L1512.6,640.2 L1514.0,640.1 L1515.5,640.0 L1517.0,639.9 L1518.4,639.8 L1519.9,639.7 L1521.4,639.6 L1522.8,639.5 L1524.3,639.4 L1525.8,639.2 L1527.2,639.1 L1528.7,639.0 L1530.2,638.9 L1531.6,638.8 L1533.1,638.6 L1534.6,638.5 L1536.0,638.4 L1537.5,638.2 L1539.0,638.1 L1540.4,637.9 L1541.9,637.8 L1543.4,637.6 L1544.8,637.4 L1546.3,637.3 L1547.8,637.1 L1549.3,636.9 L1550.7,636.7 L1552.2,636.5 L1553.7,636.3 L1555.1,636.1 L1556.6,635.9 L1558.1,635.6 L1559.5,635.4 L1561.0,635.1 L1562.5,634.9 L1563.9,634.6 L1565.4,634.3 L1566.9,634.1 L1568.3,633.8 L1569.8,633.4 L1571.3,633.1 L1572.7,632.8 L1574.2,632.4 L1575.7,632.1 L1577.1,631.7 L1578.6,631.3 L1580.1,630.9 L1581.5,630.5 L1583.0,630.0 L1584.5,629.5 L1586.0,629.0 L1587.4,628.5 L1588.9,628.0 L1590.4,627.4 L1591.8,626.8 L1593.3,626.2 L1594.8,625.6 L1596.2,624.9 L1597.7,624.2 L1599.2,623.4 L1600.6,622.7 L1602.1,621.8 L1603.6,621.0 L1605.0,620.1 L1606.5,619.1 L1608.0,618.1 L1609.4,617.0 L1610.9,615.9 L1612.4,614.7 L1613.8,613.5 L1615.3,612.1 L1616.8,610.7 L1618.2,609.3 L1619.7,607.7 L1621.2,606.1 L1622.7,604.4 L1624.1,602.5 L1625.6,600.6 L1627.1,598.6 L1628.5,596.5 L1630.0,594.2 L1631.5,591.9 L1632.9,589.4 L1634.4,586.8 L1635.9,584.1 L1637.3,581.2 L1638.8,578.3 L1640.3,575.2 L1641.7,572.0 L1643.2,568.7 L1644.7,565.4 L1646.1,562.0 L1647.6,558.6 L1649.1,555.1 L1650.5,551.7 L1652.0,548.3 L1653.5,545.1 L1654.9,542.0 L1656.4,539.2 L1657.9,536.6 L1659.4,534.3 L1660.8,532.3 L1662.3,530.8 L1663.8,529.7 L1665.2,529.1 L1666.7,528.9 L1668.2,529.2 L1669.6,530.0 L1671.1,531.3 L1672.6,533.0 L1674.0,535.1 L1675.5,537.5 L1677.0,540.2 L1678.4,543.2 L1679.9,546.3 L1681.4,549.6 L1682.8,553.0 L1684.3,556.4 L1685.8,559.8 L1687.2,563.3 L1688.7,566.7 L1690.2,570.0 L1691.6,573.2 L1693.1,576.3 L1694.6,579.4 L1696.1,582.3 L1697.5,585.1 L1699.0,587.8 L1700.5,590.3 L1701.9,592.8 L1703.4,595.1 L1704.9,597.3 L1706.3,599.4 L1707.8,601.4 L1709.3,603.2 L1710.7,605.0 L1712.2,606.7 L1713.7,608.3 L1715.1,609.8 L1716.6,611.3 L1718.1,612.6 L1719.5,613.9 L1721.0,615.2 L1722.5,616.3 L1723.9,617.4 L1725.4,618.5 L1726.9,619.5 L1728.3,620.4 L1729.8,621.3 L1731.3,622.1 L1732.8,623.0 L1734.2,623.7 L1735.7,624.5 L1737.2,625.2 L1738.6,625.8 L1740.1,626.5 L1741.6,627.1 L1743.0,627.6 L1744.5,628.2 L1746.0,628.7 L1747.4,629.2 L1748.9,629.7 L1750.4,630.2 L1751.8,630.6 L1753.3,631.0 L1754.8,631.5 L1756.2,631.8 L1757.7,632.2 L1759.2,632.6 L1760.6,632.9 L1762.1,633.2 L1763.6,633.6 L1765.0,633.9 L1766.5,634.2 L1768.0,634.4 L1769.5,634.7 L1770.9,635.0 L1772.4,635.2 L1773.9,635.5 L1775.3,635.7 L1776.8,635.9 L1778.3,636.2 L1779.7,636.4 L1781.2,636.6 L1782.7,636.8 L1784.1,637.0 L1785.6,637.1 L1787.1,637.3 L1788.5,637.5 L1790.0,637.7 L1791.5,637.8 L1792.9,638.0 L1794.4,638.1 L1795.9,638.3 L1797.3,638.4 L1798.8,638.5 L1800.3,638.7 L1801.7,638.8 L1803.2,638.9 L1804.7,639.1 L1806.2,639.2 L1807.6,639.3 L1809.1,639.4 L1810.6,639.5 L1812.0,639.6 L1813.5,639.7 L1815.0,639.8 L1816.4,639.9 L1817.9,640.0 L1819.4,640.1 L1820.8,640.2 L1822.3,640.3 L1823.8,640.4 L1825.2,640.4 L1826.7,640.5 L1828.2,640.6 L1829.6,640.7 L1831.1,640.7 L1832.6,640.8 L1834.0,640.9 L1835.5,641.0 L1837.0,641.0 L1838.4,641.1 L1839.9,641.2 L1841.4,641.2 L1842.9,641.3 L1844.3,641.3 L1845.8,641.4 L1847.3,641.5 L1848.7,641.5 L1850.2,641.6 L1851.7,641.6 L1853.1,641.7 L1854.6,641.7 L1856.1,641.8 L1857.5,641.8 L1859.0,641.9 L1860.5,641.9 L1861.9,642.0 L1863.4,642.0 L1864.9,642.0 L1866.3,642.1 L1867.8,642.1 L1869.3,642.2 L1870.7,642.2 L1872.2,642.2 L1873.7,642.3 L1875.1,642.3 L1876.6,642.4 L1878.1,642.4 L1879.6,642.4 L1881.0,642.5 L1882.5,642.5 L1884.0,642.5 L1885.4,642.6 L1886.9,642.6 L1888.4,642.6 L1889.8,642.6 L1891.3,642.7 L1892.8,642.7 L1894.2,642.7 L1895.7,642.8 L1897.2,642.8 L1898.6,642.8 L1900.1,642.8 L1901.6,642.9 L1903.0,642.9 L1904.5,642.9 L1906.0,643.0 L1907.4,643.0 L1908.9,643.0 L1910.4,643.0 L1911.8,643.0 L1913.3,643.1 L1914.8,643.1 L1916.3,643.1 L1917.7,643.1 L1919.2,643.2 L1920.7,643.2 L1922.1,643.2 L1923.6,643.2 L1925.1,643.2 L1926.5,643.3 L1928.0,643.3 L1929.5,643.3 L1930.9,643.3 L1932.4,643.3 L1933.9,643.3 L1935.3,643.4 L1936.8,643.4 L1938.3,643.4 L1939.7,643.4 L1941.2,643.4 L1942.7,643.5 L1944.1,643.5 L1945.6,643.5 L1947.1,643.5 L1948.5,643.5 L1950.0,643.5 L1951.5,643.5 L1953.0,643.6 L1954.4,643.6 L1955.9,643.6 L1957.4,643.6 L1958.8,643.6 L1960.3,643.6 L1961.8,643.6 L1963.2,643.7 L1964.7,643.7 L1966.2,643.7 L1967.6,643.7 L1969.1,643.7 L1970.6,643.7 L1972.0,643.7 L1973.5,643.7 L1975.0,643.8 L1976.4,643.8 L1977.9,643.8 L1979.4,643.8 L1980.8,643.8 L1982.3,643.8 L1983.8,643.8 L1985.2,643.8 L1986.7,643.8 L1988.2,643.9 L1989.7,643.9 L1991.1,643.9 L1992.6,643.9 L1994.1,643.9 L1995.5,643.9 L1997.0,643.9 L1998.5,643.9 L1999.9,643.9 L2001.4,643.9 L2002.9,644.0 L2004.3,644.0 L2005.8,644.0 L2007.3,644.0 L2008.7,644.0 L2010.2,644.0 L2011.7,644.0 L2013.1,644.0 L2014.6,644.0 L2016.1,644.0 L2017.5,644.0 L2019.0,644.0 L2020.5,644.1 L2021.9,644.1 L2023.4,644.1 L2024.9,644.1 L2026.4,644.1 L2027.8,644.1 L2029.3,644.1 L2030.8,644.1 L2032.2,644.1 L2033.7,644.1 L2035.2,644.1 L2036.6,644.1 L2038.1,644.1 L2039.6,644.1 L2041.0,644.2 L2042.5,644.2" fill="none" stroke="#000" stroke-width="3.5" stroke-linejoin="round" clip-path="url(#clipb)"/>
<path d="M1308.5,638.5 L1310.0,638.4 L1311.4,638.3 L1312.9,638.1 L1314.4,638.0 L1315.8,637.9 L1317.3,637.8 L1318.8,637.7 L1320.2,637.6 L1321.7,637.5 L1323.2,637.4 L1324.6,637.2 L1326.1,637.1 L1327.6,637.0 L1329.1,636.9 L1330.5,636.7 L1332.0,636.6 L1333.5,636.5 L1334.9,636.3 L1336.4,636.2 L1337.9,636.0 L1339.3,635.9 L1340.8,635.7 L1342.3,635.6 L1343.7,635.4 L1345.2,635.3 L1346.7,635.1 L1348.1,634.9 L1349.6,634.8 L1351.1,634.6 L1352.5,634.4 L1354.0,634.2 L1355.5,634.1 L1356.9,633.9 L1358.4,633.7 L1359.9,633.5 L1361.3,633.3 L1362.8,633.1 L1364.3,632.9 L1365.8,632.7 L1367.2,632.5 L1368.7,632.3 L1370.2,632.1 L1371.6,631.8 L1373.1,631.6 L1374.6,631.4 L1376.0,631.2 L1377.5,630.9 L1379.0,630.7 L1380.4,630.5 L1381.9,630.2 L1383.4,630.0 L1384.8,629.7 L1386.3,629.5 L1387.8,629.2 L1389.2,629.0 L1390.7,628.7 L1392.2,628.5 L1393.6,628.2 L1395.1,628.0 L1396.6,627.7 L1398.0,627.4 L1399.5,627.2 L1401.0,626.9 L1402.5,626.7 L1403.9,626.4 L1405.4,626.1 L1406.9,625.9 L1408.3,625.6 L1409.8,625.4 L1411.3,625.1 L1412.7,624.9 L1414.2,624.6 L1415.7,624.4 L1417.1,624.2 L1418.6,623.9 L1420.1,623.7 L1421.5,623.5 L1423.0,623.3 L1424.5,623.1 L1425.9,622.9 L1427.4,622.7 L1428.9,622.5 L1430.3,622.4 L1431.8,622.2 L1433.3,622.1 L1434.7,621.9 L1436.2,621.8 L1437.7,621.7 L1439.2,621.6 L1440.6,621.5 L1442.1,621.4 L1443.6,621.4 L1445.0,621.3 L1446.5,621.3 L1448.0,621.3 L1449.4,621.3 L1450.9,621.3 L1452.4,621.3 L1453.8,621.3 L1455.3,621.3 L1456.8,621.4 L1458.2,621.5 L1459.7,621.6 L1461.2,621.7 L1462.6,621.8 L1464.1,621.9 L1465.6,622.0 L1467.0,622.1 L1468.5,622.3 L1470.0,622.5 L1471.4,622.6 L1472.9,622.8 L1474.4,623.0 L1475.9,623.2 L1477.3,623.4 L1478.8,623.6 L1480.3,623.8 L1481.7,624.1 L1483.2,624.3 L1484.7,624.5 L1486.1,624.8 L1487.6,625.0 L1489.1,625.3 L1490.5,625.5 L1492.0,625.8 L1493.5,626.0 L1494.9,626.3 L1496.4,626.5 L1497.9,626.8 L1499.3,627.1 L1500.8,627.3 L1502.3,627.6 L1503.7,627.8 L1505.2,628.1 L1506.7,628.3 L1508.1,628.6 L1509.6,628.9 L1511.1,629.1 L1512.6,629.4 L1514.0,629.6 L1515.5,629.9 L1517.0,630.1 L1518.4,630.3 L1519.9,630.6 L1521.4,630.8 L1522.8,631.0 L1524.3,631.3 L1525.8,631.5 L1527.2,631.7 L1528.7,631.9 L1530.2,632.2 L1531.6,632.4 L1533.1,632.6 L1534.6,632.8 L1536.0,633.0 L1537.5,633.2 L1539.0,633.4 L1540.4,633.6 L1541.9,633.8 L1543.4,634.0 L1544.8,634.2 L1546.3,634.3 L1547.8,634.5 L1549.3,634.7 L1550.7,634.9 L1552.2,635.0 L1553.7,635.2 L1555.1,635.3 L1556.6,635.5 L1558.1,635.7 L1559.5,635.8 L1561.0,636.0 L1562.5,636.1 L1563.9,636.3 L1565.4,636.4 L1566.9,636.5 L1568.3,636.7 L1569.8,636.8 L1571.3,636.9 L1572.7,637.1 L1574.2,637.2 L1575.7,637.3 L1577.1,637.4 L1578.6,637.5 L1580.1,637.7 L1581.5,637.8 L1583.0,637.9 L1584.5,638.0 L1586.0,638.1 L1587.4,638.2 L1588.9,638.3 L1590.4,638.4 L1591.8,638.5 L1593.3,638.6 L1594.8,638.7 L1596.2,638.8 L1597.7,638.9 L1599.2,639.0 L1600.6,639.1 L1602.1,639.1 L1603.6,639.2 L1605.0,639.3 L1606.5,639.4 L1608.0,639.5 L1609.4,639.5 L1610.9,639.6 L1612.4,639.7 L1613.8,639.8 L1615.3,639.8 L1616.8,639.9 L1618.2,640.0 L1619.7,640.1 L1621.2,640.1 L1622.7,640.2 L1624.1,640.3 L1625.6,640.3 L1627.1,640.4 L1628.5,640.4 L1630.0,640.5 L1631.5,640.6 L1632.9,640.6 L1634.4,640.7 L1635.9,640.7 L1637.3,640.8 L1638.8,640.8 L1640.3,640.9 L1641.7,640.9 L1643.2,641.0 L1644.7,641.0 L1646.1,641.1 L1647.6,641.1 L1649.1,641.2 L1650.5,641.2 L1652.0,641.3 L1653.5,641.3 L1654.9,641.4 L1656.4,641.4 L1657.9,641.5 L1659.4,641.5 L1660.8,641.5 L1662.3,641.6 L1663.8,641.6 L1665.2,641.7 L1666.7,641.7 L1668.2,641.7 L1669.6,641.8 L1671.1,641.8 L1672.6,641.8 L1674.0,641.9 L1675.5,641.9 L1677.0,642.0 L1678.4,642.0 L1679.9,642.0 L1681.4,642.1 L1682.8,642.1 L1684.3,642.1 L1685.8,642.1 L1687.2,642.2 L1688.7,642.2 L1690.2,642.2 L1691.6,642.3 L1693.1,642.3 L1694.6,642.3 L1696.1,642.4 L1697.5,642.4 L1699.0,642.4 L1700.5,642.4 L1701.9,642.5 L1703.4,642.5 L1704.9,642.5 L1706.3,642.5 L1707.8,642.6 L1709.3,642.6 L1710.7,642.6 L1712.2,642.6 L1713.7,642.7 L1715.1,642.7 L1716.6,642.7 L1718.1,642.7 L1719.5,642.8 L1721.0,642.8 L1722.5,642.8 L1723.9,642.8 L1725.4,642.8 L1726.9,642.9 L1728.3,642.9 L1729.8,642.9 L1731.3,642.9 L1732.8,642.9 L1734.2,643.0 L1735.7,643.0 L1737.2,643.0 L1738.6,643.0 L1740.1,643.0 L1741.6,643.1 L1743.0,643.1 L1744.5,643.1 L1746.0,643.1 L1747.4,643.1 L1748.9,643.1 L1750.4,643.2 L1751.8,643.2 L1753.3,643.2 L1754.8,643.2 L1756.2,643.2 L1757.7,643.2 L1759.2,643.3 L1760.6,643.3 L1762.1,643.3 L1763.6,643.3 L1765.0,643.3 L1766.5,643.3 L1768.0,643.3 L1769.5,643.4 L1770.9,643.4 L1772.4,643.4 L1773.9,643.4 L1775.3,643.4 L1776.8,643.4 L1778.3,643.4 L1779.7,643.5 L1781.2,643.5 L1782.7,643.5 L1784.1,643.5 L1785.6,643.5 L1787.1,643.5 L1788.5,643.5 L1790.0,643.5 L1791.5,643.5 L1792.9,643.6 L1794.4,643.6 L1795.9,643.6 L1797.3,643.6 L1798.8,643.6 L1800.3,643.6 L1801.7,643.6 L1803.2,643.6 L1804.7,643.6 L1806.2,643.7 L1807.6,643.7 L1809.1,643.7 L1810.6,643.7 L1812.0,643.7 L1813.5,643.7 L1815.0,643.7 L1816.4,643.7 L1817.9,643.7 L1819.4,643.7 L1820.8,643.8 L1822.3,643.8 L1823.8,643.8 L1825.2,643.8 L1826.7,643.8 L1828.2,643.8 L1829.6,643.8 L1831.1,643.8 L1832.6,643.8 L1834.0,643.8 L1835.5,643.8 L1837.0,643.9 L1838.4,643.9 L1839.9,643.9 L1841.4,643.9 L1842.9,643.9 L1844.3,643.9 L1845.8,643.9 L1847.3,643.9 L1848.7,643.9 L1850.2,643.9 L1851.7,643.9 L1853.1,643.9 L1854.6,643.9 L1856.1,644.0 L1857.5,644.0 L1859.0,644.0 L1860.5,644.0 L1861.9,644.0 L1863.4,644.0 L1864.9,644.0 L1866.3,644.0 L1867.8,644.0 L1869.3,644.0 L1870.7,644.0 L1872.2,644.0 L1873.7,644.0 L1875.1,644.0 L1876.6,644.0 L1878.1,644.1 L1879.6,644.1 L1881.0,644.1 L1882.5,644.1 L1884.0,644.1 L1885.4,644.1 L1886.9,644.1 L1888.4,644.1 L1889.8,644.1 L1891.3,644.1 L1892.8,644.1 L1894.2,644.1 L1895.7,644.1 L1897.2,644.1 L1898.6,644.1 L1900.1,644.1 L1901.6,644.1 L1903.0,644.2 L1904.5,644.2 L1906.0,644.2 L1907.4,644.2 L1908.9,644.2 L1910.4,644.2 L1911.8,644.2 L1913.3,644.2 L1914.8,644.2 L1916.3,644.2 L1917.7,644.2 L1919.2,644.2 L1920.7,644.2 L1922.1,644.2 L1923.6,644.2 L1925.1,644.2 L1926.5,644.2 L1928.0,644.2 L1929.5,644.2 L1930.9,644.2 L1932.4,644.2 L1933.9,644.3 L1935.3,644.3 L1936.8,644.3 L1938.3,644.3 L1939.7,644.3 L1941.2,644.3 L1942.7,644.3 L1944.1,644.3 L1945.6,644.3 L1947.1,644.3 L1948.5,644.3 L1950.0,644.3 L1951.5,644.3 L1953.0,644.3 L1954.4,644.3 L1955.9,644.3 L1957.4,644.3 L1958.8,644.3 L1960.3,644.3 L1961.8,644.3 L1963.2,644.3 L1964.7,644.3 L1966.2,644.3 L1967.6,644.3 L1969.1,644.3 L1970.6,644.4 L1972.0,644.4 L1973.5,644.4 L1975.0,644.4 L1976.4,644.4 L1977.9,644.4 L1979.4,644.4 L1980.8,644.4 L1982.3,644.4 L1983.8,644.4 L1985.2,644.4 L1986.7,644.4 L1988.2,644.4 L1989.7,644.4 L1991.1,644.4 L1992.6,644.4 L1994.1,644.4 L1995.5,644.4 L1997.0,644.4 L1998.5,644.4 L1999.9,644.4 L2001.4,644.4 L2002.9,644.4 L2004.3,644.4 L2005.8,644.4 L2007.3,644.4 L2008.7,644.4 L2010.2,644.4 L2011.7,644.4 L2013.1,644.4 L2014.6,644.4 L2016.1,644.5 L2017.5,644.5 L2019.0,644.5 L2020.5,644.5 L2021.9,644.5 L2023.4,644.5 L2024.9,644.5 L2026.4,644.5 L2027.8,644.5 L2029.3,644.5 L2030.8,644.5 L2032.2,644.5 L2033.7,644.5 L2035.2,644.5 L2036.6,644.5 L2038.1,644.5 L2039.6,644.5 L2041.0,644.5 L2042.5,644.5" fill="none" stroke="#000" stroke-width="3.5" stroke-linejoin="round" clip-path="url(#clipb)"/>
<path d="M1308.5,630.0 L1310.0,630.0 L1311.4,630.1 L1312.9,630.1 L1314.4,630.1 L1315.8,630.2 L1317.3,630.2 L1318.8,630.3 L1320.2,630.3 L1321.7,630.4 L1323.2,630.4 L1324.6,630.5 L1326.1,630.5 L1327.6,630.6 L1329.1,630.6 L1330.5,630.7 L1332.0,630.7 L1333.5,630.8 L1334.9,630.9 L1336.4,630.9 L1337.9,631.0 L1339.3,631.1 L1340.8,631.1 L1342.3,631.2 L1343.7,631.3 L1345.2,631.3 L1346.7,631.4 L1348.1,631.5 L1349.6,631.5 L1351.1,631.6 L1352.5,631.7 L1354.0,631.7 L1355.5,631.8 L1356.9,631.9 L1358.4,632.0 L1359.9,632.0 L1361.3,632.1 L1362.8,632.2 L1364.3,632.3 L1365.8,632.3 L1367.2,632.4 L1368.7,632.5 L1370.2,632.6 L1371.6,632.7 L1373.1,632.7 L1374.6,632.8 L1376.0,632.9 L1377.5,633.0 L1379.0,633.1 L1380.4,633.1 L1381.9,633.2 L1383.4,633.3 L1384.8,633.4 L1386.3,633.4 L1387.8,633.5 L1389.2,633.6 L1390.7,633.7 L1392.2,633.8 L1393.6,633.8 L1395.1,633.9 L1396.6,634.0 L1398.0,634.1 L1399.5,634.2 L1401.0,634.2 L1402.5,634.3 L1403.9,634.4 L1405.4,634.5 L1406.9,634.6 L1408.3,634.6 L1409.8,634.7 L1411.3,634.8 L1412.7,634.9 L1414.2,634.9 L1415.7,635.0 L1417.1,635.1 L1418.6,635.2 L1420.1,635.2 L1421.5,635.3 L1423.0,635.4 L1424.5,635.5 L1425.9,635.5 L1427.4,635.6 L1428.9,635.7 L1430.3,635.8 L1431.8,635.8 L1433.3,635.9 L1434.7,636.0 L1436.2,636.0 L1437.7,636.1 L1439.2,636.2 L1440.6,636.3 L1442.1,636.3 L1443.6,636.4 L1445.0,636.5 L1446.5,636.5 L1448.0,636.6 L1449.4,636.7 L1450.9,636.7 L1452.4,636.8 L1453.8,636.9 L1455.3,636.9 L1456.8,637.0 L1458.2,637.1 L1459.7,637.1 L1461.2,637.2 L1462.6,637.2 L1464.1,637.3 L1465.6,637.4 L1467.0,637.4 L1468.5,637.5 L1470.0,637.5 L1471.4,637.6 L1472.9,637.7 L1474.4,637.7 L1475.9,637.8 L1477.3,637.8 L1478.8,637.9 L1480.3,638.0 L1481.7,638.0 L1483.2,638.1 L1484.7,638.1 L1486.1,638.2 L1487.6,638.2 L1489.1,638.3 L1490.5,638.3 L1492.0,638.4 L1493.5,638.4 L1494.9,638.5 L1496.4,638.5 L1497.9,638.6 L1499.3,638.6 L1500.8,638.7 L1502.3,638.7 L1503.7,638.8 L1505.2,638.8 L1506.7,638.9 L1508.1,638.9 L1509.6,639.0 L1511.1,639.0 L1512.6,639.1 L1514.0,639.1 L1515.5,639.2 L1517.0,639.2 L1518.4,639.3 L1519.9,639.3 L1521.4,639.3 L1522.8,639.4 L1524.3,639.4 L1525.8,639.5 L1527.2,639.5 L1528.7,639.6 L1530.2,639.6 L1531.6,639.6 L1533.1,639.7 L1534.6,639.7 L1536.0,639.8 L1537.5,639.8 L1539.0,639.8 L1540.4,639.9 L1541.9,639.9 L1543.4,640.0 L1544.8,640.0 L1546.3,640.0 L1547.8,640.1 L1549.3,640.1 L1550.7,640.1 L1552.2,640.2 L1553.7,640.2 L1555.1,640.2 L1556.6,640.3 L1558.1,640.3 L1559.5,640.4 L1561.0,640.4 L1562.5,640.4 L1563.9,640.5 L1565.4,640.5 L1566.9,640.5 L1568.3,640.6 L1569.8,640.6 L1571.3,640.6 L1572.7,640.6 L1574.2,640.7 L1575.7,640.7 L1577.1,640.7 L1578.6,640.8 L1580.1,640.8 L1581.5,640.8 L1583.0,640.9 L1584.5,640.9 L1586.0,640.9 L1587.4,640.9 L1588.9,641.0 L1590.4,641.0 L1591.8,641.0 L1593.3,641.1 L1594.8,641.1 L1596.2,641.1 L1597.7,641.1 L1599.2,641.2 L1600.6,641.2 L1602.1,641.2 L1603.6,641.2 L1605.0,641.3 L1606.5,641.3 L1608.0,641.3 L1609.4,641.3 L1610.9,641.4 L1612.4,641.4 L1613.8,641.4 L1615.3,641.4 L1616.8,641.5 L1618.2,641.5 L1619.7,641.5 L1621.2,641.5 L1622.7,641.6 L1624.1,641.6 L1625.6,641.6 L1627.1,641.6 L1628.5,641.7 L1630.0,641.7 L1631.5,641.7 L1632.9,641.7 L1634.4,641.7 L1635.9,641.8 L1637.3,641.8 L1638.8,641.8 L1640.3,641.8 L1641.7,641.8 L1643.2,641.9 L1644.7,641.9 L1646.1,641.9 L1647.6,641.9 L1649.1,641.9 L1650.5,642.0 L1652.0,642.0 L1653.5,642.0 L1654.9,642.0 L1656.4,642.0 L1657.9,642.1 L1659.4,642.1 L1660.8,642.1 L1662.3,642.1 L1663.8,642.1 L1665.2,642.1 L1666.7,642.2 L1668.2,642.2 L1669.6,642.2 L1671.1,642.2 L1672.6,642.2 L1674.0,642.3 L1675.5,642.3 L1677.0,642.3 L1678.4,642.3 L1679.9,642.3 L1681.4,642.3 L1682.8,642.4 L1684.3,642.4 L1685.8,642.4 L1687.2,642.4 L1688.7,642.4 L1690.2,642.4 L1691.6,642.4 L1693.1,642.5 L1694.6,642.5 L1696.1,642.5 L1697.5,642.5 L1699.0,642.5 L1700.5,642.5 L1701.9,642.5 L1703.4,642.6 L1704.9,642.6 L1706.3,642.6 L1707.8,642.6 L1709.3,642.6 L1710.7,642.6 L1712.2,642.6 L1713.7,642.7 L1715.1,642.7 L1716.6,642.7 L1718.1,642.7 L1719.5,642.7 L1721.0,642.7 L1722.5,642.7 L1723.9,642.8 L1725.4,642.8 L1726.9,642.8 L1728.3,642.8 L1729.8,642.8 L1731.3,642.8 L1732.8,642.8 L1734.2,642.8 L1735.7,642.8 L1737.2,642.9 L1738.6,642.9 L1740.1,642.9 L1741.6,642.9 L1743.0,642.9 L1744.5,642.9 L1746.0,642.9 L1747.4,642.9 L1748.9,643.0 L1750.4,643.0 L1751.8,643.0 L1753.3,643.0 L1754.8,643.0 L1756.2,643.0 L1757.7,643.0 L1759.2,643.0 L1760.6,643.0 L1762.1,643.0 L1763.6,643.1 L1765.0,643.1 L1766.5,643.1 L1768.0,643.1 L1769.5,643.1 L1770.9,643.1 L1772.4,643.1 L1773.9,643.1 L1775.3,643.1 L1776.8,643.1 L1778.3,643.2 L1779.7,643.2 L1781.2,643.2 L1782.7,643.2 L1784.1,643.2 L1785.6,643.2 L1787.1,643.2 L1788.5,643.2 L1790.0,643.2 L1791.5,643.2 L1792.9,643.3 L1794.4,643.3 L1795.9,643.3 L1797.3,643.3 L1798.8,643.3 L1800.3,643.3 L1801.7,643.3 L1803.2,643.3 L1804.7,643.3 L1806.2,643.3 L1807.6,643.3 L1809.1,643.3 L1810.6,643.4 L1812.0,643.4 L1813.5,643.4 L1815.0,643.4 L1816.4,643.4 L1817.9,643.4 L1819.4,643.4 L1820.8,643.4 L1822.3,643.4 L1823.8,643.4 L1825.2,643.4 L1826.7,643.4 L1828.2,643.4 L1829.6,643.5 L1831.1,643.5 L1832.6,643.5 L1834.0,643.5 L1835.5,643.5 L1837.0,643.5 L1838.4,643.5 L1839.9,643.5 L1841.4,643.5 L1842.9,643.5 L1844.3,643.5 L1845.8,643.5 L1847.3,643.5 L1848.7,643.5 L1850.2,643.6 L1851.7,643.6 L1853.1,643.6 L1854.6,643.6 L1856.1,643.6 L1857.5,643.6 L1859.0,643.6 L1860.5,643.6 L1861.9,643.6 L1863.4,643.6 L1864.9,643.6 L1866.3,643.6 L1867.8,643.6 L1869.3,643.6 L1870.7,643.6 L1872.2,643.7 L1873.7,643.7 L1875.1,643.7 L1876.6,643.7 L1878.1,643.7 L1879.6,643.7 L1881.0,643.7 L1882.5,643.7 L1884.0,643.7 L1885.4,643.7 L1886.9,643.7 L1888.4,643.7 L1889.8,643.7 L1891.3,643.7 L1892.8,643.7 L1894.2,643.7 L1895.7,643.7 L1897.2,643.7 L1898.6,643.8 L1900.1,643.8 L1901.6,643.8 L1903.0,643.8 L1904.5,643.8 L1906.0,643.8 L1907.4,643.8 L1908.9,643.8 L1910.4,643.8 L1911.8,643.8 L1913.3,643.8 L1914.8,643.8 L1916.3,643.8 L1917.7,643.8 L1919.2,643.8 L1920.7,643.8 L1922.1,643.8 L1923.6,643.8 L1925.1,643.8 L1926.5,643.9 L1928.0,643.9 L1929.5,643.9 L1930.9,643.9 L1932.4,643.9 L1933.9,643.9 L1935.3,643.9 L1936.8,643.9 L1938.3,643.9 L1939.7,643.9 L1941.2,643.9 L1942.7,643.9 L1944.1,643.9 L1945.6,643.9 L1947.1,643.9 L1948.5,643.9 L1950.0,643.9 L1951.5,643.9 L1953.0,643.9 L1954.4,643.9 L1955.9,643.9 L1957.4,643.9 L1958.8,644.0 L1960.3,644.0 L1961.8,644.0 L1963.2,644.0 L1964.7,644.0 L1966.2,644.0 L1967.6,644.0 L1969.1,644.0 L1970.6,644.0 L1972.0,644.0 L1973.5,644.0 L1975.0,644.0 L1976.4,644.0 L1977.9,644.0 L1979.4,644.0 L1980.8,644.0 L1982.3,644.0 L1983.8,644.0 L1985.2,644.0 L1986.7,644.0 L1988.2,644.0 L1989.7,644.0 L1991.1,644.0 L1992.6,644.0 L1994.1,644.0 L1995.5,644.0 L1997.0,644.1 L1998.5,644.1 L1999.9,644.1 L2001.4,644.1 L2002.9,644.1 L2004.3,644.1 L2005.8,644.1 L2007.3,644.1 L2008.7,644.1 L2010.2,644.1 L2011.7,644.1 L2013.1,644.1 L2014.6,644.1 L2016.1,644.1 L2017.5,644.1 L2019.0,644.1 L2020.5,644.1 L2021.9,644.1 L2023.4,644.1 L2024.9,644.1 L2026.4,644.1 L2027.8,644.1 L2029.3,644.1 L2030.8,644.1 L2032.2,644.1 L2033.7,644.1 L2035.2,644.1 L2036.6,644.1 L2038.1,644.1 L2039.6,644.2 L2041.0,644.2 L2042.5,644.2" fill="none" stroke="#000" stroke-width="3.5" stroke-linejoin="round" clip-path="url(#clipb)"/>
<path d="M1308.0,608.7 L1326.8,612.2 L1336.2,606.3 L1378.4,604.0 L1408.9,600.5 L1439.4,595.8 L1472.3,594.6 L1514.5,588.7 L1533.3,584.0 L1554.4,572.3 L1582.6,539.4 L1603.7,497.2 L1622.5,454.9 L1636.6,433.8 L1657.7,422.1 L1667.1,426.8 L1675.0,443.2 L1693.8,492.5 L1710.2,520.7 L1731.3,539.4 L1745.4,520.7 L1761.8,483.1 L1778.3,422.1 L1792.3,340.0 L1806.4,246.1 L1820.5,175.7 L1829.4,154.5 L1839.3,175.7 L1855.7,239.0 L1867.4,323.5 L1879.2,405.7 L1890.9,469.0 L1898.0,492.5 L1909.7,534.7 L1921.4,569.9 L1933.2,595.8 L1956.6,616.9 L1980.1,626.3 L2003.6,631.0 L2043.0,634.5" fill="none" stroke="#4B0082" stroke-width="8" stroke-linejoin="round" clip-path="url(#clipb)"/>
<path d="M1308.0,613.4 L1309.7,613.3 L1311.7,613.3 L1314.1,613.2 L1316.8,613.1 L1319.9,613.0 L1323.4,612.8 L1327.3,612.6 L1331.5,612.2 L1336.3,611.7 L1341.9,611.0 L1348.1,610.3 L1354.5,609.5 L1361.0,608.6 L1367.3,607.8 L1373.2,607.0 L1378.4,606.3 L1382.9,605.7 L1387.0,605.1 L1390.6,604.5 L1394.1,604.0 L1397.5,603.4 L1401.0,602.9 L1404.8,602.3 L1408.9,601.6 L1413.5,600.9 L1418.3,600.2 L1423.4,599.4 L1428.6,598.5 L1433.8,597.8 L1438.9,597.0 L1444.0,596.3 L1448.8,595.8 L1453.4,595.3 L1457.7,595.1 L1461.8,594.9 L1466.0,594.8 L1470.2,594.7 L1474.5,594.4 L1479.1,594.0 L1484.0,593.4 L1489.5,592.6 L1495.5,591.6 L1501.8,590.5 L1508.2,589.3 L1514.6,588.0 L1520.6,586.7 L1526.1,585.4 L1531.0,584.0 L1535.0,582.8 L1538.4,581.8 L1541.3,580.7 L1543.9,579.6 L1546.3,578.3 L1548.8,576.8 L1551.4,574.8 L1554.4,572.3 L1557.8,569.3 L1561.3,565.8 L1564.9,561.9 L1568.6,557.8 L1572.3,553.4 L1575.9,548.8 L1579.4,544.1 L1582.6,539.4 L1585.6,534.6 L1588.4,529.5 L1591.1,524.3 L1593.7,518.9 L1596.3,513.4 L1598.8,508.0 L1601.2,502.5 L1603.7,497.2 L1606.2,491.7 L1608.7,486.0 L1611.1,480.2 L1613.5,474.5 L1615.9,468.9 L1618.2,463.7 L1620.4,459.0 L1622.5,454.9 L1624.4,451.6 L1626.2,448.9 L1627.8,446.7 L1629.4,444.8 L1631.0,443.2 L1632.7,441.7 L1634.5,440.2 L1636.6,438.5 L1638.9,436.7 L1641.6,434.9 L1644.5,433.2 L1647.4,431.5 L1650.3,429.9 L1653.1,428.6 L1655.6,427.5 L1657.7,426.8 L1659.4,426.3 L1660.9,426.1 L1662.1,426.0 L1663.2,426.2 L1664.2,426.6 L1665.1,427.2 L1666.0,428.1 L1667.1,429.1 L1668.1,430.3 L1668.9,431.4 L1669.7,432.7 L1670.4,434.3 L1671.3,436.2 L1672.3,438.6 L1673.5,441.7 L1675.0,445.6 L1676.8,450.5 L1679.0,456.7 L1681.3,463.6 L1683.9,470.9 L1686.4,478.3 L1689.0,485.4 L1691.5,491.8 L1693.8,497.2 L1695.9,501.6 L1698.0,505.4 L1700.1,508.8 L1702.1,511.7 L1704.1,514.3 L1706.2,516.6 L1708.2,518.7 L1710.2,520.7 L1712.2,522.5 L1714.3,524.1 L1716.3,525.4 L1718.3,526.5 L1720.3,527.3 L1722.4,527.8 L1724.5,527.9 L1726.6,527.7 L1728.9,527.1 L1731.2,526.1 L1733.6,524.8 L1736.0,523.2 L1738.4,521.2 L1740.8,519.0 L1743.2,516.4 L1745.4,513.6 L1747.6,510.6 L1749.7,507.3 L1751.7,503.8 L1753.8,500.0 L1755.8,495.8 L1757.8,491.2 L1759.8,486.2 L1761.8,480.8 L1763.9,474.8 L1766.0,468.5 L1768.1,461.7 L1770.2,454.5 L1772.3,446.9 L1774.3,439.0 L1776.3,430.7 L1778.3,422.1 L1780.1,413.0 L1781.9,403.5 L1783.7,393.5 L1785.4,383.2 L1787.2,372.6 L1788.9,361.9 L1790.6,350.9 L1792.3,340.0 L1794.1,328.7 L1795.9,317.0 L1797.6,305.1 L1799.4,293.0 L1801.1,280.9 L1802.9,269.0 L1804.7,257.3 L1806.4,246.1 L1808.2,234.9 L1809.9,223.5 L1811.7,212.2 L1813.5,201.1 L1815.2,190.5 L1817.0,180.6 L1818.7,171.7 L1820.5,163.9 L1822.3,157.1 L1824.1,151.0 L1826.0,145.6 L1827.8,141.0 L1829.7,137.3 L1831.4,134.5 L1833.1,132.8 L1834.6,132.3 L1836.0,132.9 L1837.2,134.8 L1838.3,137.8 L1839.4,141.7 L1840.5,146.4 L1841.6,151.8 L1842.7,157.7 L1844.0,163.9 L1845.3,170.7 L1846.7,178.3 L1848.2,186.5 L1849.7,195.3 L1851.2,204.5 L1852.7,214.2 L1854.2,224.2 L1855.7,234.3 L1857.2,245.0 L1858.6,256.4 L1860.1,268.3 L1861.6,280.5 L1863.0,292.8 L1864.5,305.0 L1866.0,316.9 L1867.4,328.2 L1868.9,339.2 L1870.4,350.0 L1871.8,360.6 L1873.3,371.0 L1874.8,381.3 L1876.2,391.3 L1877.7,401.0 L1879.2,410.4 L1880.6,419.5 L1882.0,428.4 L1883.4,437.1 L1884.8,445.6 L1886.2,453.7 L1887.6,461.5 L1889.2,469.0 L1890.9,476.1 L1892.7,482.7 L1894.6,488.8 L1896.5,494.5 L1898.5,500.0 L1900.6,505.2 L1902.8,510.3 L1905.0,515.5 L1907.3,520.7 L1909.7,525.9 L1912.1,531.2 L1914.6,536.4 L1917.2,541.5 L1919.8,546.5 L1922.6,551.4 L1925.5,556.1 L1928.5,560.6 L1931.6,564.9 L1934.8,569.1 L1938.2,573.2 L1941.7,577.1 L1945.2,580.9 L1948.9,584.5 L1952.7,587.9 L1956.6,591.1 L1960.6,594.0 L1964.6,596.8 L1968.6,599.4 L1972.8,601.8 L1977.1,604.0 L1981.7,606.1 L1986.6,608.0 L1991.8,609.8 L1997.8,611.5 L2004.7,613.1 L2012.1,614.5 L2019.6,615.7 L2026.8,616.8 L2033.4,617.8 L2038.9,618.6 L2043.0,619.2" fill="none" stroke="#FF4500" stroke-width="9" stroke-linejoin="round" stroke-dasharray="50,25" clip-path="url(#clipb)"/>
<line x1="1332.6" y1="151.5" x2="1412.4" y2="151.5" stroke="#4B0082" stroke-width="8.3"/>
<line x1="1332.6" y1="201.5" x2="1412.4" y2="201.5" stroke="#FF4500" stroke-width="8.3" stroke-dasharray="50,25"/>
<text x="1431.7" y="165.1" font-size="37.00" text-anchor="start">B1</text>
<text x="1431.7" y="214.4" font-size="37.00" text-anchor="start">Fit Sum</text>
<text x="1906.3" y="188.0" font-size="66.80" text-anchor="start">C1s</text>
<text x="1060.7" y="88.6" font-size="87.00" text-anchor="start">b)</text>
<text x="1347.5" y="81.8" font-size="51.74" text-anchor="start">COOH</text>
<text x="1545.2" y="81.8" font-size="51.55" text-anchor="start">C=OC−O</text>
<text x="1787.7" y="84.0" font-size="50.48" text-anchor="start">C=C−C</text>
<clipPath id="clipc"><rect x="245.4" y="892.5" width="732.1" height="523.3"/></clipPath>
<rect x="245.4" y="892.5" width="732.1" height="523.3" fill="none" stroke="#8c8c8c" stroke-width="1.8"/>
<line x1="245.4" y1="1407.8" x2="245.4" y2="1423.8" stroke="#707070" stroke-width="1.8"/>
<text x="245.9" y="1465.6" font-size="37.00" text-anchor="middle">534</text>
<line x1="336.9" y1="1411.8" x2="336.9" y2="1419.8" stroke="#707070" stroke-width="1.8"/>
<line x1="428.4" y1="1407.8" x2="428.4" y2="1423.8" stroke="#707070" stroke-width="1.8"/>
<text x="428.9" y="1465.6" font-size="37.00" text-anchor="middle">533</text>
<line x1="519.9" y1="1411.8" x2="519.9" y2="1419.8" stroke="#707070" stroke-width="1.8"/>
<line x1="611.5" y1="1407.8" x2="611.5" y2="1423.8" stroke="#707070" stroke-width="1.8"/>
<text x="612.0" y="1465.6" font-size="37.00" text-anchor="middle">532</text>
<line x1="703.0" y1="1411.8" x2="703.0" y2="1419.8" stroke="#707070" stroke-width="1.8"/>
<line x1="794.5" y1="1407.8" x2="794.5" y2="1423.8" stroke="#707070" stroke-width="1.8"/>
<text x="795.0" y="1465.6" font-size="37.00" text-anchor="middle">531</text>
<line x1="886.0" y1="1411.8" x2="886.0" y2="1419.8" stroke="#707070" stroke-width="1.8"/>
<line x1="977.5" y1="1407.8" x2="977.5" y2="1423.8" stroke="#707070" stroke-width="1.8"/>
<text x="978.0" y="1465.6" font-size="37.00" text-anchor="middle">530</text>
<line x1="245.4" y1="1415.8" x2="253.4" y2="1415.8" stroke="#707070" stroke-width="1.8"/>
<text x="229.6" y="1431.6" font-size="37" text-anchor="end">0.0×10<tspan font-size="24.5" dy="-13.8">0</tspan></text>
<line x1="245.4" y1="1365.5" x2="249.4" y2="1365.5" stroke="#707070" stroke-width="1.8"/>
<line x1="245.4" y1="1315.1" x2="253.4" y2="1315.1" stroke="#707070" stroke-width="1.8"/>
<text x="229.6" y="1330.9" font-size="37" text-anchor="end">5.0×10<tspan font-size="24.5" dy="-13.8">3</tspan></text>
<line x1="245.4" y1="1264.8" x2="249.4" y2="1264.8" stroke="#707070" stroke-width="1.8"/>
<line x1="245.4" y1="1214.4" x2="253.4" y2="1214.4" stroke="#707070" stroke-width="1.8"/>
<text x="229.6" y="1230.2" font-size="37" text-anchor="end">1.0×10<tspan font-size="24.5" dy="-13.8">4</tspan></text>
<line x1="245.4" y1="1164.0" x2="249.4" y2="1164.0" stroke="#707070" stroke-width="1.8"/>
<line x1="245.4" y1="1113.7" x2="253.4" y2="1113.7" stroke="#707070" stroke-width="1.8"/>
<text x="229.6" y="1129.5" font-size="37" text-anchor="end">1.5×10<tspan font-size="24.5" dy="-13.8">4</tspan></text>
<line x1="245.4" y1="1063.3" x2="249.4" y2="1063.3" stroke="#707070" stroke-width="1.8"/>
<line x1="245.4" y1="1013.0" x2="253.4" y2="1013.0" stroke="#707070" stroke-width="1.8"/>
<text x="229.6" y="1028.8" font-size="37" text-anchor="end">2.0×10<tspan font-size="24.5" dy="-13.8">4</tspan></text>
<line x1="245.4" y1="962.6" x2="249.4" y2="962.6" stroke="#707070" stroke-width="1.8"/>
<line x1="245.4" y1="912.3" x2="253.4" y2="912.3" stroke="#707070" stroke-width="1.8"/>
<text x="229.6" y="928.1" font-size="37" text-anchor="end">2.5×10<tspan font-size="24.5" dy="-13.8">4</tspan></text>
<text x="445.4" y="1510.8" font-size="37.02" text-anchor="start">Binding Energy (eV)</text>
<text x="0" y="0" font-size="37.5" text-anchor="middle" transform="translate(89.5,1154.2) rotate(-90)">Intensity (CPS)</text>
<line x1="519.2" y1="892.5" x2="519.2" y2="1415.8" stroke="#000" stroke-width="4.2" stroke-dasharray="8.2,8.5"/>
<line x1="609.2" y1="892.5" x2="609.2" y2="1415.8" stroke="#000" stroke-width="4.2" stroke-dasharray="8.2,8.5"/>
<path d="M245.4,1347.3 L246.9,1346.7 L248.3,1346.1 L249.8,1345.5 L251.3,1345.0 L252.7,1344.3 L254.2,1343.7 L255.6,1343.1 L257.1,1342.5 L258.6,1341.9 L260.0,1341.2 L261.5,1340.6 L263.0,1339.9 L264.4,1339.3 L265.9,1338.6 L267.4,1337.9 L268.8,1337.2 L270.3,1336.6 L271.8,1335.9 L273.2,1335.1 L274.7,1334.4 L276.1,1333.7 L277.6,1333.0 L279.1,1332.2 L280.5,1331.5 L282.0,1330.7 L283.5,1329.9 L284.9,1329.2 L286.4,1328.4 L287.9,1327.6 L289.3,1326.8 L290.8,1326.0 L292.3,1325.1 L293.7,1324.3 L295.2,1323.4 L296.6,1322.6 L298.1,1321.7 L299.6,1320.9 L301.0,1320.0 L302.5,1319.1 L304.0,1318.2 L305.4,1317.2 L306.9,1316.3 L308.4,1315.4 L309.8,1314.4 L311.3,1313.4 L312.8,1312.5 L314.2,1311.5 L315.7,1310.5 L317.1,1309.5 L318.6,1308.4 L320.1,1307.4 L321.5,1306.4 L323.0,1305.3 L324.5,1304.2 L325.9,1303.1 L327.4,1302.0 L328.9,1300.9 L330.3,1299.8 L331.8,1298.7 L333.3,1297.5 L334.7,1296.3 L336.2,1295.2 L337.6,1294.0 L339.1,1292.8 L340.6,1291.5 L342.0,1290.3 L343.5,1289.0 L345.0,1287.8 L346.4,1286.5 L347.9,1285.2 L349.4,1283.9 L350.8,1282.6 L352.3,1281.2 L353.8,1279.9 L355.2,1278.5 L356.7,1277.1 L358.1,1275.7 L359.6,1274.3 L361.1,1272.9 L362.5,1271.4 L364.0,1269.9 L365.5,1268.5 L366.9,1267.0 L368.4,1265.5 L369.9,1263.9 L371.3,1262.4 L372.8,1260.8 L374.2,1259.2 L375.7,1257.7 L377.2,1256.0 L378.6,1254.4 L380.1,1252.8 L381.6,1251.1 L383.0,1249.4 L384.5,1247.8 L386.0,1246.0 L387.4,1244.3 L388.9,1242.6 L390.4,1240.8 L391.8,1239.1 L393.3,1237.3 L394.7,1235.5 L396.2,1233.7 L397.7,1231.8 L399.1,1230.0 L400.6,1228.1 L402.1,1226.3 L403.5,1224.4 L405.0,1222.5 L406.5,1220.6 L407.9,1218.6 L409.4,1216.7 L410.9,1214.7 L412.3,1212.8 L413.8,1210.8 L415.2,1208.8 L416.7,1206.8 L418.2,1204.8 L419.6,1202.8 L421.1,1200.8 L422.6,1198.7 L424.0,1196.7 L425.5,1194.7 L427.0,1192.6 L428.4,1190.5 L429.9,1188.5 L431.4,1186.4 L432.8,1184.3 L434.3,1182.3 L435.7,1180.2 L437.2,1178.1 L438.7,1176.0 L440.1,1174.0 L441.6,1171.9 L443.1,1169.8 L444.5,1167.8 L446.0,1165.7 L447.5,1163.7 L448.9,1161.6 L450.4,1159.6 L451.9,1157.6 L453.3,1155.6 L454.8,1153.6 L456.2,1151.6 L457.7,1149.6 L459.2,1147.7 L460.6,1145.7 L462.1,1143.8 L463.6,1141.9 L465.0,1140.1 L466.5,1138.2 L468.0,1136.4 L469.4,1134.6 L470.9,1132.9 L472.4,1131.1 L473.8,1129.4 L475.3,1127.8 L476.7,1126.2 L478.2,1124.6 L479.7,1123.0 L481.1,1121.5 L482.6,1120.0 L484.1,1118.6 L485.5,1117.2 L487.0,1115.9 L488.5,1114.6 L489.9,1113.3 L491.4,1112.1 L492.8,1111.0 L494.3,1109.9 L495.8,1108.9 L497.2,1107.9 L498.7,1107.0 L500.2,1106.1 L501.6,1105.3 L503.1,1104.5 L504.6,1103.8 L506.0,1103.2 L507.5,1102.6 L509.0,1102.1 L510.4,1101.7 L511.9,1101.3 L513.3,1101.0 L514.8,1100.7 L516.3,1100.5 L517.7,1100.4 L519.2,1100.3 L520.7,1100.3 L522.1,1100.4 L523.6,1100.5 L525.1,1100.7 L526.5,1101.0 L528.0,1101.3 L529.5,1101.7 L530.9,1102.1 L532.4,1102.6 L533.8,1103.2 L535.3,1103.8 L536.8,1104.5 L538.2,1105.3 L539.7,1106.1 L541.2,1107.0 L542.6,1107.9 L544.1,1108.9 L545.6,1109.9 L547.0,1111.0 L548.5,1112.1 L550.0,1113.3 L551.4,1114.6 L552.9,1115.9 L554.3,1117.2 L555.8,1118.6 L557.3,1120.0 L558.7,1121.5 L560.2,1123.0 L561.7,1124.6 L563.1,1126.2 L564.6,1127.8 L566.1,1129.4 L567.5,1131.1 L569.0,1132.9 L570.5,1134.6 L571.9,1136.4 L573.4,1138.2 L574.8,1140.1 L576.3,1141.9 L577.8,1143.8 L579.2,1145.7 L580.7,1147.7 L582.2,1149.6 L583.6,1151.6 L585.1,1153.6 L586.6,1155.6 L588.0,1157.6 L589.5,1159.6 L591.0,1161.6 L592.4,1163.7 L593.9,1165.7 L595.3,1167.8 L596.8,1169.8 L598.3,1171.9 L599.7,1174.0 L601.2,1176.0 L602.7,1178.1 L604.1,1180.2 L605.6,1182.3 L607.1,1184.3 L608.5,1186.4 L610.0,1188.5 L611.5,1190.5 L612.9,1192.6 L614.4,1194.7 L615.8,1196.7 L617.3,1198.7 L618.8,1200.8 L620.2,1202.8 L621.7,1204.8 L623.2,1206.8 L624.6,1208.8 L626.1,1210.8 L627.6,1212.8 L629.0,1214.7 L630.5,1216.7 L631.9,1218.6 L633.4,1220.6 L634.9,1222.5 L636.3,1224.4 L637.8,1226.3 L639.3,1228.1 L640.7,1230.0 L642.2,1231.8 L643.7,1233.7 L645.1,1235.5 L646.6,1237.3 L648.1,1239.1 L649.5,1240.8 L651.0,1242.6 L652.4,1244.3 L653.9,1246.0 L655.4,1247.8 L656.8,1249.4 L658.3,1251.1 L659.8,1252.8 L661.2,1254.4 L662.7,1256.0 L664.2,1257.7 L665.6,1259.2 L667.1,1260.8 L668.6,1262.4 L670.0,1263.9 L671.5,1265.5 L672.9,1267.0 L674.4,1268.5 L675.9,1269.9 L677.3,1271.4 L678.8,1272.9 L680.3,1274.3 L681.7,1275.7 L683.2,1277.1 L684.7,1278.5 L686.1,1279.9 L687.6,1281.2 L689.1,1282.6 L690.5,1283.9 L692.0,1285.2 L693.4,1286.5 L694.9,1287.8 L696.4,1289.0 L697.8,1290.3 L699.3,1291.5 L700.8,1292.8 L702.2,1294.0 L703.7,1295.2 L705.2,1296.3 L706.6,1297.5 L708.1,1298.7 L709.6,1299.8 L711.0,1300.9 L712.5,1302.0 L713.9,1303.1 L715.4,1304.2 L716.9,1305.3 L718.3,1306.4 L719.8,1307.4 L721.3,1308.4 L722.7,1309.5 L724.2,1310.5 L725.7,1311.5 L727.1,1312.5 L728.6,1313.4 L730.1,1314.4 L731.5,1315.4 L733.0,1316.3 L734.4,1317.2 L735.9,1318.2 L737.4,1319.1 L738.8,1320.0 L740.3,1320.9 L741.8,1321.7 L743.2,1322.6 L744.7,1323.4 L746.2,1324.3 L747.6,1325.1 L749.1,1326.0 L750.5,1326.8 L752.0,1327.6 L753.5,1328.4 L754.9,1329.2 L756.4,1329.9 L757.9,1330.7 L759.3,1331.5 L760.8,1332.2 L762.3,1333.0 L763.7,1333.7 L765.2,1334.4 L766.7,1335.1 L768.1,1335.9 L769.6,1336.6 L771.0,1337.2 L772.5,1337.9 L774.0,1338.6 L775.4,1339.3 L776.9,1339.9 L778.4,1340.6 L779.8,1341.2 L781.3,1341.9 L782.8,1342.5 L784.2,1343.1 L785.7,1343.7 L787.2,1344.3 L788.6,1345.0 L790.1,1345.5 L791.5,1346.1 L793.0,1346.7 L794.5,1347.3 L795.9,1347.9 L797.4,1348.4 L798.9,1349.0 L800.3,1349.5 L801.8,1350.1 L803.3,1350.6 L804.7,1351.1 L806.2,1351.7 L807.7,1352.2 L809.1,1352.7 L810.6,1353.2 L812.0,1353.7 L813.5,1354.2 L815.0,1354.7 L816.4,1355.2 L817.9,1355.7 L819.4,1356.1 L820.8,1356.6 L822.3,1357.1 L823.8,1357.5 L825.2,1358.0 L826.7,1358.4 L828.2,1358.9 L829.6,1359.3 L831.1,1359.8 L832.5,1360.2 L834.0,1360.6 L835.5,1361.0 L836.9,1361.5 L838.4,1361.9 L839.9,1362.3 L841.3,1362.7 L842.8,1363.1 L844.3,1363.5 L845.7,1363.9 L847.2,1364.3 L848.7,1364.7 L850.1,1365.0 L851.6,1365.4 L853.0,1365.8 L854.5,1366.1 L856.0,1366.5 L857.4,1366.9 L858.9,1367.2 L860.4,1367.6 L861.8,1367.9 L863.3,1368.3 L864.8,1368.6 L866.2,1369.0 L867.7,1369.3 L869.1,1369.6 L870.6,1370.0 L872.1,1370.3 L873.5,1370.6 L875.0,1370.9 L876.5,1371.2 L877.9,1371.6 L879.4,1371.9 L880.9,1372.2 L882.3,1372.5 L883.8,1372.8 L885.3,1373.1 L886.7,1373.4 L888.2,1373.7 L889.6,1373.9 L891.1,1374.2 L892.6,1374.5 L894.0,1374.8 L895.5,1375.1 L897.0,1375.3 L898.4,1375.6 L899.9,1375.9 L901.4,1376.2 L902.8,1376.4 L904.3,1376.7 L905.8,1376.9 L907.2,1377.2 L908.7,1377.5 L910.1,1377.7 L911.6,1378.0 L913.1,1378.2 L914.5,1378.5 L916.0,1378.7 L917.5,1378.9 L918.9,1379.2 L920.4,1379.4 L921.9,1379.6 L923.3,1379.9 L924.8,1380.1 L926.3,1380.3 L927.7,1380.6 L929.2,1380.8 L930.6,1381.0 L932.1,1381.2 L933.6,1381.4 L935.0,1381.7 L936.5,1381.9 L938.0,1382.1 L939.4,1382.3 L940.9,1382.5 L942.4,1382.7 L943.8,1382.9 L945.3,1383.1 L946.8,1383.3 L948.2,1383.5 L949.7,1383.7 L951.1,1383.9 L952.6,1384.1 L954.1,1384.3 L955.5,1384.5 L957.0,1384.7 L958.5,1384.9 L959.9,1385.1 L961.4,1385.2 L962.9,1385.4 L964.3,1385.6 L965.8,1385.8 L967.3,1386.0 L968.7,1386.1 L970.2,1386.3 L971.6,1386.5 L973.1,1386.6 L974.6,1386.8 L976.0,1387.0 L977.5,1387.2" fill="none" stroke="#000" stroke-width="3.5" stroke-linejoin="round" clip-path="url(#clipc)"/>
<path d="M245.4,1387.2 L246.9,1387.0 L248.3,1386.8 L249.8,1386.6 L251.3,1386.4 L252.7,1386.1 L254.2,1385.9 L255.6,1385.7 L257.1,1385.5 L258.6,1385.3 L260.0,1385.1 L261.5,1384.8 L263.0,1384.6 L264.4,1384.4 L265.9,1384.1 L267.4,1383.9 L268.8,1383.7 L270.3,1383.4 L271.8,1383.2 L273.2,1383.0 L274.7,1382.7 L276.1,1382.5 L277.6,1382.2 L279.1,1382.0 L280.5,1381.7 L282.0,1381.4 L283.5,1381.2 L284.9,1380.9 L286.4,1380.6 L287.9,1380.4 L289.3,1380.1 L290.8,1379.8 L292.3,1379.5 L293.7,1379.3 L295.2,1379.0 L296.6,1378.7 L298.1,1378.4 L299.6,1378.1 L301.0,1377.8 L302.5,1377.5 L304.0,1377.2 L305.4,1376.9 L306.9,1376.6 L308.4,1376.2 L309.8,1375.9 L311.3,1375.6 L312.8,1375.3 L314.2,1374.9 L315.7,1374.6 L317.1,1374.3 L318.6,1373.9 L320.1,1373.6 L321.5,1373.2 L323.0,1372.9 L324.5,1372.5 L325.9,1372.1 L327.4,1371.8 L328.9,1371.4 L330.3,1371.0 L331.8,1370.7 L333.3,1370.3 L334.7,1369.9 L336.2,1369.5 L337.6,1369.1 L339.1,1368.7 L340.6,1368.3 L342.0,1367.9 L343.5,1367.4 L345.0,1367.0 L346.4,1366.6 L347.9,1366.2 L349.4,1365.7 L350.8,1365.3 L352.3,1364.8 L353.8,1364.4 L355.2,1363.9 L356.7,1363.5 L358.1,1363.0 L359.6,1362.5 L361.1,1362.0 L362.5,1361.5 L364.0,1361.0 L365.5,1360.5 L366.9,1360.0 L368.4,1359.5 L369.9,1359.0 L371.3,1358.5 L372.8,1357.9 L374.2,1357.4 L375.7,1356.9 L377.2,1356.3 L378.6,1355.7 L380.1,1355.2 L381.6,1354.6 L383.0,1354.0 L384.5,1353.4 L386.0,1352.8 L387.4,1352.2 L388.9,1351.6 L390.4,1351.0 L391.8,1350.4 L393.3,1349.8 L394.7,1349.1 L396.2,1348.5 L397.7,1347.8 L399.1,1347.1 L400.6,1346.5 L402.1,1345.8 L403.5,1345.1 L405.0,1344.4 L406.5,1343.7 L407.9,1343.0 L409.4,1342.2 L410.9,1341.5 L412.3,1340.7 L413.8,1340.0 L415.2,1339.2 L416.7,1338.5 L418.2,1337.7 L419.6,1336.9 L421.1,1336.1 L422.6,1335.3 L424.0,1334.4 L425.5,1333.6 L427.0,1332.8 L428.4,1331.9 L429.9,1331.0 L431.4,1330.2 L432.8,1329.3 L434.3,1328.4 L435.7,1327.5 L437.2,1326.5 L438.7,1325.6 L440.1,1324.6 L441.6,1323.7 L443.1,1322.7 L444.5,1321.7 L446.0,1320.8 L447.5,1319.7 L448.9,1318.7 L450.4,1317.7 L451.9,1316.7 L453.3,1315.6 L454.8,1314.5 L456.2,1313.5 L457.7,1312.4 L459.2,1311.3 L460.6,1310.2 L462.1,1309.0 L463.6,1307.9 L465.0,1306.7 L466.5,1305.6 L468.0,1304.4 L469.4,1303.2 L470.9,1302.0 L472.4,1300.8 L473.8,1299.5 L475.3,1298.3 L476.7,1297.0 L478.2,1295.7 L479.7,1294.5 L481.1,1293.2 L482.6,1291.8 L484.1,1290.5 L485.5,1289.2 L487.0,1287.8 L488.5,1286.5 L489.9,1285.1 L491.4,1283.7 L492.8,1282.3 L494.3,1280.9 L495.8,1279.5 L497.2,1278.0 L498.7,1276.6 L500.2,1275.1 L501.6,1273.7 L503.1,1272.2 L504.6,1270.7 L506.0,1269.2 L507.5,1267.7 L509.0,1266.2 L510.4,1264.6 L511.9,1263.1 L513.3,1261.6 L514.8,1260.0 L516.3,1258.5 L517.7,1256.9 L519.2,1255.3 L520.7,1253.7 L522.1,1252.2 L523.6,1250.6 L525.1,1249.0 L526.5,1247.4 L528.0,1245.8 L529.5,1244.2 L530.9,1242.6 L532.4,1241.0 L533.8,1239.4 L535.3,1237.8 L536.8,1236.3 L538.2,1234.7 L539.7,1233.1 L541.2,1231.5 L542.6,1230.0 L544.1,1228.4 L545.6,1226.8 L547.0,1225.3 L548.5,1223.8 L550.0,1222.3 L551.4,1220.8 L552.9,1219.3 L554.3,1217.8 L555.8,1216.3 L557.3,1214.9 L558.7,1213.5 L560.2,1212.1 L561.7,1210.7 L563.1,1209.4 L564.6,1208.1 L566.1,1206.8 L567.5,1205.5 L569.0,1204.2 L570.5,1203.0 L571.9,1201.8 L573.4,1200.7 L574.8,1199.6 L576.3,1198.5 L577.8,1197.5 L579.2,1196.4 L580.7,1195.5 L582.2,1194.6 L583.6,1193.7 L585.1,1192.8 L586.6,1192.0 L588.0,1191.3 L589.5,1190.5 L591.0,1189.9 L592.4,1189.3 L593.9,1188.7 L595.3,1188.2 L596.8,1187.7 L598.3,1187.3 L599.7,1186.9 L601.2,1186.6 L602.7,1186.3 L604.1,1186.1 L605.6,1185.9 L607.1,1185.8 L608.5,1185.7 L610.0,1185.7 L611.5,1185.7 L612.9,1185.8 L614.4,1186.0 L615.8,1186.2 L617.3,1186.4 L618.8,1186.7 L620.2,1187.1 L621.7,1187.5 L623.2,1187.9 L624.6,1188.4 L626.1,1189.0 L627.6,1189.6 L629.0,1190.2 L630.5,1190.9 L631.9,1191.6 L633.4,1192.4 L634.9,1193.2 L636.3,1194.1 L637.8,1195.0 L639.3,1196.0 L640.7,1196.9 L642.2,1198.0 L643.7,1199.0 L645.1,1200.1 L646.6,1201.3 L648.1,1202.4 L649.5,1203.6 L651.0,1204.9 L652.4,1206.1 L653.9,1207.4 L655.4,1208.7 L656.8,1210.0 L658.3,1211.4 L659.8,1212.8 L661.2,1214.2 L662.7,1215.6 L664.2,1217.1 L665.6,1218.5 L667.1,1220.0 L668.6,1221.5 L670.0,1223.0 L671.5,1224.5 L672.9,1226.1 L674.4,1227.6 L675.9,1229.2 L677.3,1230.7 L678.8,1232.3 L680.3,1233.9 L681.7,1235.5 L683.2,1237.1 L684.7,1238.6 L686.1,1240.2 L687.6,1241.8 L689.1,1243.4 L690.5,1245.0 L692.0,1246.6 L693.4,1248.2 L694.9,1249.8 L696.4,1251.4 L697.8,1253.0 L699.3,1254.5 L700.8,1256.1 L702.2,1257.7 L703.7,1259.2 L705.2,1260.8 L706.6,1262.3 L708.1,1263.9 L709.6,1265.4 L711.0,1266.9 L712.5,1268.4 L713.9,1269.9 L715.4,1271.4 L716.9,1272.9 L718.3,1274.4 L719.8,1275.9 L721.3,1277.3 L722.7,1278.8 L724.2,1280.2 L725.7,1281.6 L727.1,1283.0 L728.6,1284.4 L730.1,1285.8 L731.5,1287.1 L733.0,1288.5 L734.4,1289.8 L735.9,1291.2 L737.4,1292.5 L738.8,1293.8 L740.3,1295.1 L741.8,1296.4 L743.2,1297.6 L744.7,1298.9 L746.2,1300.1 L747.6,1301.4 L749.1,1302.6 L750.5,1303.8 L752.0,1305.0 L753.5,1306.1 L754.9,1307.3 L756.4,1308.5 L757.9,1309.6 L759.3,1310.7 L760.8,1311.8 L762.3,1312.9 L763.7,1314.0 L765.2,1315.1 L766.7,1316.1 L768.1,1317.2 L769.6,1318.2 L771.0,1319.2 L772.5,1320.3 L774.0,1321.2 L775.4,1322.2 L776.9,1323.2 L778.4,1324.2 L779.8,1325.1 L781.3,1326.1 L782.8,1327.0 L784.2,1327.9 L785.7,1328.8 L787.2,1329.7 L788.6,1330.6 L790.1,1331.5 L791.5,1332.3 L793.0,1333.2 L794.5,1334.0 L795.9,1334.8 L797.4,1335.7 L798.9,1336.5 L800.3,1337.3 L801.8,1338.1 L803.3,1338.8 L804.7,1339.6 L806.2,1340.4 L807.7,1341.1 L809.1,1341.9 L810.6,1342.6 L812.0,1343.3 L813.5,1344.0 L815.0,1344.7 L816.4,1345.4 L817.9,1346.1 L819.4,1346.8 L820.8,1347.5 L822.3,1348.1 L823.8,1348.8 L825.2,1349.4 L826.7,1350.1 L828.2,1350.7 L829.6,1351.3 L831.1,1351.9 L832.5,1352.5 L834.0,1353.1 L835.5,1353.7 L836.9,1354.3 L838.4,1354.9 L839.9,1355.5 L841.3,1356.0 L842.8,1356.6 L844.3,1357.1 L845.7,1357.7 L847.2,1358.2 L848.7,1358.7 L850.1,1359.3 L851.6,1359.8 L853.0,1360.3 L854.5,1360.8 L856.0,1361.3 L857.4,1361.8 L858.9,1362.3 L860.4,1362.7 L861.8,1363.2 L863.3,1363.7 L864.8,1364.1 L866.2,1364.6 L867.7,1365.1 L869.1,1365.5 L870.6,1365.9 L872.1,1366.4 L873.5,1366.8 L875.0,1367.2 L876.5,1367.7 L877.9,1368.1 L879.4,1368.5 L880.9,1368.9 L882.3,1369.3 L883.8,1369.7 L885.3,1370.1 L886.7,1370.5 L888.2,1370.8 L889.6,1371.2 L891.1,1371.6 L892.6,1372.0 L894.0,1372.3 L895.5,1372.7 L897.0,1373.0 L898.4,1373.4 L899.9,1373.7 L901.4,1374.1 L902.8,1374.4 L904.3,1374.8 L905.8,1375.1 L907.2,1375.4 L908.7,1375.8 L910.1,1376.1 L911.6,1376.4 L913.1,1376.7 L914.5,1377.0 L916.0,1377.3 L917.5,1377.6 L918.9,1377.9 L920.4,1378.2 L921.9,1378.5 L923.3,1378.8 L924.8,1379.1 L926.3,1379.4 L927.7,1379.7 L929.2,1380.0 L930.6,1380.2 L932.1,1380.5 L933.6,1380.8 L935.0,1381.0 L936.5,1381.3 L938.0,1381.6 L939.4,1381.8 L940.9,1382.1 L942.4,1382.3 L943.8,1382.6 L945.3,1382.8 L946.8,1383.1 L948.2,1383.3 L949.7,1383.6 L951.1,1383.8 L952.6,1384.0 L954.1,1384.3 L955.5,1384.5 L957.0,1384.7 L958.5,1384.9 L959.9,1385.2 L961.4,1385.4 L962.9,1385.6 L964.3,1385.8 L965.8,1386.0 L967.3,1386.3 L968.7,1386.5 L970.2,1386.7 L971.6,1386.9 L973.1,1387.1 L974.6,1387.3 L976.0,1387.5 L977.5,1387.7" fill="none" stroke="#000" stroke-width="3.5" stroke-linejoin="round" clip-path="url(#clipc)"/>
<path d="M245.4,1315.5 L263.7,1305.2 L282.0,1293.8 L300.3,1285.1 L318.6,1274.2 L336.9,1251.8 L355.2,1225.4 L373.5,1199.2 L391.8,1171.1 L410.1,1139.3 L428.4,1104.2 L446.7,1066.8 L465.0,1028.7 L483.3,992.5 L501.6,961.0 L519.9,937.0 L538.2,922.2 L556.5,917.3 L574.8,922.1 L593.1,936.2 L611.5,958.9 L629.8,988.9 L648.1,1024.2 L666.4,1062.1 L684.7,1100.1 L703.0,1136.0 L721.3,1168.8 L739.6,1198.0 L757.9,1223.5 L776.2,1245.6 L794.5,1264.7 L812.8,1279.3 L831.1,1291.6 L849.4,1302.0 L867.7,1310.8 L886.0,1318.2 L904.3,1326.3 L922.6,1333.3 L940.9,1339.6 L959.2,1345.1 L977.5,1350.0" fill="none" stroke="#BC66BE" stroke-width="8" stroke-linejoin="round" clip-path="url(#clipc)"/>
<path d="M245.4,1315.5 L247.8,1314.2 L250.3,1312.8 L252.7,1311.5 L255.2,1310.1 L257.6,1308.8 L260.0,1307.3 L262.5,1305.9 L264.9,1304.4 L267.4,1302.9 L269.8,1301.4 L272.2,1299.8 L274.7,1298.2 L277.1,1296.6 L279.6,1295.0 L282.0,1293.3 L284.4,1291.6 L286.9,1289.8 L289.3,1288.0 L291.8,1286.2 L294.2,1284.4 L296.6,1282.5 L299.1,1280.5 L301.5,1278.6 L304.0,1276.6 L306.4,1274.5 L308.8,1272.4 L311.3,1270.3 L313.7,1268.1 L316.2,1265.9 L318.6,1263.7 L321.1,1261.4 L323.5,1259.0 L325.9,1256.6 L328.4,1254.2 L330.8,1251.7 L333.3,1249.1 L335.7,1246.5 L338.1,1243.9 L340.6,1241.2 L343.0,1238.5 L345.5,1235.7 L347.9,1232.8 L350.3,1229.9 L352.8,1226.9 L355.2,1223.9 L357.7,1220.8 L360.1,1217.6 L362.5,1214.4 L365.0,1211.2 L367.4,1207.8 L369.9,1204.5 L372.3,1201.0 L374.7,1197.5 L377.2,1193.9 L379.6,1190.3 L382.1,1186.6 L384.5,1182.8 L386.9,1178.9 L389.4,1175.0 L391.8,1171.1 L394.3,1167.0 L396.7,1162.9 L399.1,1158.8 L401.6,1154.6 L404.0,1150.3 L406.5,1145.9 L408.9,1141.5 L411.3,1137.0 L413.8,1132.5 L416.2,1127.9 L418.7,1123.3 L421.1,1118.6 L423.5,1113.9 L426.0,1109.1 L428.4,1104.2 L430.9,1099.3 L433.3,1094.4 L435.7,1089.5 L438.2,1084.5 L440.6,1079.4 L443.1,1074.4 L445.5,1069.3 L447.9,1064.3 L450.4,1059.2 L452.8,1054.1 L455.3,1049.0 L457.7,1043.9 L460.1,1038.8 L462.6,1033.8 L465.0,1028.7 L467.5,1023.7 L469.9,1018.8 L472.4,1013.9 L474.8,1009.0 L477.2,1004.2 L479.7,999.5 L482.1,994.8 L484.6,990.2 L487.0,985.7 L489.4,981.4 L491.9,977.1 L494.3,972.9 L496.8,968.8 L499.2,964.9 L501.6,961.0 L504.1,957.4 L506.5,953.8 L509.0,950.4 L511.4,947.2 L513.8,944.1 L516.3,941.1 L518.7,938.4 L521.2,935.7 L523.6,933.3 L526.0,931.0 L528.5,928.9 L530.9,927.0 L533.4,925.2 L535.8,923.6 L538.2,922.2 L540.7,921.0 L543.1,919.9 L545.6,919.1 L548.0,918.4 L550.4,917.8 L552.9,917.5 L555.3,917.3 L557.8,917.3 L560.2,917.5 L562.6,917.8 L565.1,918.3 L567.5,919.0 L570.0,919.9 L572.4,920.9 L574.8,922.1 L577.3,923.4 L579.7,924.9 L582.2,926.6 L584.6,928.5 L587.0,930.5 L589.5,932.6 L591.9,934.9 L594.4,937.4 L596.8,940.0 L599.2,942.8 L601.7,945.7 L604.1,948.8 L606.6,952.0 L609.0,955.4 L611.5,958.9 L613.9,962.5 L616.3,966.2 L618.8,970.1 L621.2,974.1 L623.7,978.2 L626.1,982.4 L628.5,986.7 L631.0,991.2 L633.4,995.7 L635.9,1000.2 L638.3,1004.9 L640.7,1009.7 L643.2,1014.5 L645.6,1019.3 L648.1,1024.2 L650.5,1029.2 L652.9,1034.2 L655.4,1039.2 L657.8,1044.3 L660.3,1049.4 L662.7,1054.5 L665.1,1059.6 L667.6,1064.7 L670.0,1069.8 L672.5,1074.9 L674.9,1080.0 L677.3,1085.0 L679.8,1090.1 L682.2,1095.1 L684.7,1100.1 L687.1,1105.0 L689.5,1109.9 L692.0,1114.8 L694.4,1119.6 L696.9,1124.3 L699.3,1129.0 L701.7,1133.7 L704.2,1138.3 L706.6,1142.9 L709.1,1147.3 L711.5,1151.8 L713.9,1156.1 L716.4,1160.4 L718.8,1164.7 L721.3,1168.8 L723.7,1172.9 L726.1,1177.0 L728.6,1180.9 L731.0,1184.9 L733.5,1188.7 L735.9,1192.5 L738.3,1196.2 L740.8,1199.8 L743.2,1203.4 L745.7,1206.9 L748.1,1210.4 L750.5,1213.8 L753.0,1217.1 L755.4,1220.3 L757.9,1223.5 L760.3,1226.7 L762.8,1229.7 L765.2,1232.8 L767.6,1235.7 L770.1,1238.6 L772.5,1241.5 L775.0,1244.3 L777.4,1247.0 L779.8,1249.7 L782.3,1252.3 L784.7,1254.9 L787.2,1257.4 L789.6,1259.9 L792.0,1262.3 L794.5,1264.7 L796.9,1267.0 L799.4,1269.3 L801.8,1271.6 L804.2,1273.8 L806.7,1275.9 L809.1,1278.0 L811.6,1280.1 L814.0,1282.1 L816.4,1284.1 L818.9,1286.1 L821.3,1288.0 L823.8,1289.8 L826.2,1291.7 L828.6,1293.5 L831.1,1295.3 L833.5,1297.0 L836.0,1298.7 L838.4,1300.4 L840.8,1302.0 L843.3,1303.6 L845.7,1305.2 L848.2,1306.7 L850.6,1308.2 L853.0,1309.7 L855.5,1311.2 L857.9,1312.6 L860.4,1314.0 L862.8,1315.4 L865.2,1316.7 L867.7,1318.1 L870.1,1319.4 L872.6,1320.7 L875.0,1321.9 L877.4,1323.1 L879.9,1324.4 L882.3,1325.5 L884.8,1326.7 L887.2,1327.9 L889.6,1329.0 L892.1,1330.1 L894.5,1331.2 L897.0,1332.2 L899.4,1333.3 L901.8,1334.3 L904.3,1335.3 L906.7,1336.3 L909.2,1337.3 L911.6,1338.3 L914.1,1339.2 L916.5,1340.1 L918.9,1341.1 L921.4,1342.0 L923.8,1342.8 L926.3,1343.7 L928.7,1344.6 L931.1,1345.4 L933.6,1346.2 L936.0,1347.0 L938.5,1347.8 L940.9,1348.6 L943.3,1349.4 L945.8,1350.2 L948.2,1350.9 L950.7,1351.6 L953.1,1352.4 L955.5,1353.1 L958.0,1353.8 L960.4,1354.5 L962.9,1355.2 L965.3,1355.8 L967.7,1356.5 L970.2,1357.1 L972.6,1357.8 L975.1,1358.4 L977.5,1359.0" fill="none" stroke="#FF4500" stroke-width="9" stroke-linejoin="round" stroke-dasharray="50,25" clip-path="url(#clipc)"/>
<line x1="729.9" y1="927.6" x2="809.7" y2="927.6" stroke="#BC66BE" stroke-width="8.3"/>
<line x1="729.9" y1="977.8" x2="809.7" y2="977.8" stroke="#FF4500" stroke-width="8.3" stroke-dasharray="50,25"/>
<text x="827.9" y="940.7" font-size="37.70" text-anchor="start">B3</text>
<text x="827.9" y="990.9" font-size="37.70" text-anchor="start">Fit Sum</text>
<text x="259.8" y="952.4" font-size="67.60" text-anchor="start">O1s</text>
<text x="25.1" y="849.0" font-size="87.00" text-anchor="start">c)</text>
<text x="443.3" y="867.5" font-size="49.52" text-anchor="start">C−O</text>
<text x="568.5" y="867.5" font-size="49.67" text-anchor="start">C=O</text>
<clipPath id="clipd"><rect x="1310.0" y="892.4" width="732.0" height="524.1"/></clipPath>
<rect x="1310.0" y="892.4" width="732.0" height="524.1" fill="none" stroke="#8c8c8c" stroke-width="1.8"/>
<line x1="1310.0" y1="1408.5" x2="1310.0" y2="1424.5" stroke="#707070" stroke-width="1.8"/>
<text x="1310.5" y="1465.9" font-size="37.00" text-anchor="middle">290</text>
<line x1="1401.5" y1="1412.5" x2="1401.5" y2="1420.5" stroke="#707070" stroke-width="1.8"/>
<line x1="1493.0" y1="1408.5" x2="1493.0" y2="1424.5" stroke="#707070" stroke-width="1.8"/>
<text x="1493.5" y="1465.9" font-size="37.00" text-anchor="middle">288</text>
<line x1="1584.5" y1="1412.5" x2="1584.5" y2="1420.5" stroke="#707070" stroke-width="1.8"/>
<line x1="1676.0" y1="1408.5" x2="1676.0" y2="1424.5" stroke="#707070" stroke-width="1.8"/>
<text x="1676.5" y="1465.9" font-size="37.00" text-anchor="middle">286</text>
<line x1="1767.5" y1="1412.5" x2="1767.5" y2="1420.5" stroke="#707070" stroke-width="1.8"/>
<line x1="1859.0" y1="1408.5" x2="1859.0" y2="1424.5" stroke="#707070" stroke-width="1.8"/>
<text x="1859.5" y="1465.9" font-size="37.00" text-anchor="middle">284</text>
<line x1="1950.5" y1="1412.5" x2="1950.5" y2="1420.5" stroke="#707070" stroke-width="1.8"/>
<line x1="2042.0" y1="1408.5" x2="2042.0" y2="1424.5" stroke="#707070" stroke-width="1.8"/>
<text x="2042.5" y="1465.9" font-size="37.00" text-anchor="middle">282</text>
<line x1="1310.0" y1="1416.5" x2="1318.0" y2="1416.5" stroke="#707070" stroke-width="1.8"/>
<text x="1294.2" y="1432.3" font-size="37" text-anchor="end">0.0×10<tspan font-size="24.5" dy="-13.8">0</tspan></text>
<line x1="1310.0" y1="1368.8" x2="1314.0" y2="1368.8" stroke="#707070" stroke-width="1.8"/>
<line x1="1310.0" y1="1321.1" x2="1318.0" y2="1321.1" stroke="#707070" stroke-width="1.8"/>
<text x="1294.2" y="1336.9" font-size="37" text-anchor="end">5.0×10<tspan font-size="24.5" dy="-13.8">3</tspan></text>
<line x1="1310.0" y1="1273.5" x2="1314.0" y2="1273.5" stroke="#707070" stroke-width="1.8"/>
<line x1="1310.0" y1="1225.8" x2="1318.0" y2="1225.8" stroke="#707070" stroke-width="1.8"/>
<text x="1294.2" y="1241.6" font-size="37" text-anchor="end">1.0×10<tspan font-size="24.5" dy="-13.8">4</tspan></text>
<line x1="1310.0" y1="1178.1" x2="1314.0" y2="1178.1" stroke="#707070" stroke-width="1.8"/>
<line x1="1310.0" y1="1130.4" x2="1318.0" y2="1130.4" stroke="#707070" stroke-width="1.8"/>
<text x="1294.2" y="1146.2" font-size="37" text-anchor="end">1.5×10<tspan font-size="24.5" dy="-13.8">4</tspan></text>
<line x1="1310.0" y1="1082.7" x2="1314.0" y2="1082.7" stroke="#707070" stroke-width="1.8"/>
<line x1="1310.0" y1="1035.1" x2="1318.0" y2="1035.1" stroke="#707070" stroke-width="1.8"/>
<text x="1294.2" y="1050.9" font-size="37" text-anchor="end">2.0×10<tspan font-size="24.5" dy="-13.8">4</tspan></text>
<line x1="1310.0" y1="987.4" x2="1314.0" y2="987.4" stroke="#707070" stroke-width="1.8"/>
<line x1="1310.0" y1="939.7" x2="1318.0" y2="939.7" stroke="#707070" stroke-width="1.8"/>
<text x="1294.2" y="955.5" font-size="37" text-anchor="end">2.5×10<tspan font-size="24.5" dy="-13.8">4</tspan></text>
<line x1="1310.0" y1="892.0" x2="1314.0" y2="892.0" stroke="#707070" stroke-width="1.8"/>
<text x="1508.9" y="1512.3" font-size="37.17" text-anchor="start">Binding Energy (eV)</text>
<text x="0" y="0" font-size="36.5" text-anchor="middle" transform="translate(1155.3,1154.5) rotate(-90)">Intensity (CPS)</text>
<line x1="1420.7" y1="892.4" x2="1420.7" y2="1416.5" stroke="#000" stroke-width="4.2" stroke-dasharray="8.2,8.5"/>
<line x1="1607.0" y1="892.4" x2="1607.0" y2="1416.5" stroke="#000" stroke-width="4.2" stroke-dasharray="8.2,8.5"/>
<line x1="1645.4" y1="892.4" x2="1645.4" y2="1416.5" stroke="#000" stroke-width="4.2" stroke-dasharray="8.2,8.5"/>
<line x1="1821.2" y1="892.4" x2="1821.2" y2="1416.5" stroke="#000" stroke-width="4.2" stroke-dasharray="8.2,8.5"/>
<path d="M1310.0,1413.2 L1311.5,1413.1 L1312.9,1413.1 L1314.4,1413.1 L1315.9,1413.1 L1317.3,1413.1 L1318.8,1413.0 L1320.2,1413.0 L1321.7,1413.0 L1323.2,1413.0 L1324.6,1413.0 L1326.1,1412.9 L1327.6,1412.9 L1329.0,1412.9 L1330.5,1412.9 L1332.0,1412.9 L1333.4,1412.8 L1334.9,1412.8 L1336.4,1412.8 L1337.8,1412.8 L1339.3,1412.7 L1340.7,1412.7 L1342.2,1412.7 L1343.7,1412.7 L1345.1,1412.7 L1346.6,1412.6 L1348.1,1412.6 L1349.5,1412.6 L1351.0,1412.6 L1352.5,1412.5 L1353.9,1412.5 L1355.4,1412.5 L1356.8,1412.5 L1358.3,1412.4 L1359.8,1412.4 L1361.2,1412.4 L1362.7,1412.4 L1364.2,1412.3 L1365.6,1412.3 L1367.1,1412.3 L1368.6,1412.3 L1370.0,1412.2 L1371.5,1412.2 L1373.0,1412.2 L1374.4,1412.1 L1375.9,1412.1 L1377.3,1412.1 L1378.8,1412.1 L1380.3,1412.0 L1381.7,1412.0 L1383.2,1412.0 L1384.7,1411.9 L1386.1,1411.9 L1387.6,1411.9 L1389.1,1411.8 L1390.5,1411.8 L1392.0,1411.8 L1393.4,1411.8 L1394.9,1411.7 L1396.4,1411.7 L1397.8,1411.7 L1399.3,1411.6 L1400.8,1411.6 L1402.2,1411.6 L1403.7,1411.5 L1405.2,1411.5 L1406.6,1411.4 L1408.1,1411.4 L1409.6,1411.4 L1411.0,1411.3 L1412.5,1411.3 L1413.9,1411.3 L1415.4,1411.2 L1416.9,1411.2 L1418.3,1411.2 L1419.8,1411.1 L1421.3,1411.1 L1422.7,1411.0 L1424.2,1411.0 L1425.7,1411.0 L1427.1,1410.9 L1428.6,1410.9 L1430.0,1410.8 L1431.5,1410.8 L1433.0,1410.7 L1434.4,1410.7 L1435.9,1410.7 L1437.4,1410.6 L1438.8,1410.6 L1440.3,1410.5 L1441.8,1410.5 L1443.2,1410.4 L1444.7,1410.4 L1446.2,1410.3 L1447.6,1410.3 L1449.1,1410.2 L1450.5,1410.2 L1452.0,1410.1 L1453.5,1410.1 L1454.9,1410.0 L1456.4,1410.0 L1457.9,1409.9 L1459.3,1409.9 L1460.8,1409.8 L1462.3,1409.8 L1463.7,1409.7 L1465.2,1409.7 L1466.6,1409.6 L1468.1,1409.6 L1469.6,1409.5 L1471.0,1409.4 L1472.5,1409.4 L1474.0,1409.3 L1475.4,1409.3 L1476.9,1409.2 L1478.4,1409.1 L1479.8,1409.1 L1481.3,1409.0 L1482.8,1409.0 L1484.2,1408.9 L1485.7,1408.8 L1487.1,1408.8 L1488.6,1408.7 L1490.1,1408.6 L1491.5,1408.6 L1493.0,1408.5 L1494.5,1408.4 L1495.9,1408.3 L1497.4,1408.3 L1498.9,1408.2 L1500.3,1408.1 L1501.8,1408.1 L1503.2,1408.0 L1504.7,1407.9 L1506.2,1407.8 L1507.6,1407.7 L1509.1,1407.7 L1510.6,1407.6 L1512.0,1407.5 L1513.5,1407.4 L1515.0,1407.3 L1516.4,1407.2 L1517.9,1407.2 L1519.4,1407.1 L1520.8,1407.0 L1522.3,1406.9 L1523.7,1406.8 L1525.2,1406.7 L1526.7,1406.6 L1528.1,1406.5 L1529.6,1406.4 L1531.1,1406.3 L1532.5,1406.2 L1534.0,1406.1 L1535.5,1406.0 L1536.9,1405.9 L1538.4,1405.8 L1539.8,1405.7 L1541.3,1405.6 L1542.8,1405.4 L1544.2,1405.3 L1545.7,1405.2 L1547.2,1405.1 L1548.6,1405.0 L1550.1,1404.9 L1551.6,1404.7 L1553.0,1404.6 L1554.5,1404.5 L1556.0,1404.4 L1557.4,1404.2 L1558.9,1404.1 L1560.3,1404.0 L1561.8,1403.8 L1563.3,1403.7 L1564.7,1403.5 L1566.2,1403.4 L1567.7,1403.2 L1569.1,1403.1 L1570.6,1402.9 L1572.1,1402.8 L1573.5,1402.6 L1575.0,1402.5 L1576.4,1402.3 L1577.9,1402.1 L1579.4,1402.0 L1580.8,1401.8 L1582.3,1401.6 L1583.8,1401.4 L1585.2,1401.3 L1586.7,1401.1 L1588.2,1400.9 L1589.6,1400.7 L1591.1,1400.5 L1592.6,1400.3 L1594.0,1400.1 L1595.5,1399.9 L1596.9,1399.7 L1598.4,1399.5 L1599.9,1399.3 L1601.3,1399.0 L1602.8,1398.8 L1604.3,1398.6 L1605.7,1398.3 L1607.2,1398.1 L1608.7,1397.9 L1610.1,1397.6 L1611.6,1397.4 L1613.0,1397.1 L1614.5,1396.8 L1616.0,1396.6 L1617.4,1396.3 L1618.9,1396.0 L1620.4,1395.7 L1621.8,1395.4 L1623.3,1395.1 L1624.8,1394.8 L1626.2,1394.5 L1627.7,1394.2 L1629.2,1393.9 L1630.6,1393.5 L1632.1,1393.2 L1633.5,1392.9 L1635.0,1392.5 L1636.5,1392.1 L1637.9,1391.8 L1639.4,1391.4 L1640.9,1391.0 L1642.3,1390.6 L1643.8,1390.2 L1645.3,1389.8 L1646.7,1389.4 L1648.2,1388.9 L1649.6,1388.5 L1651.1,1388.0 L1652.6,1387.6 L1654.0,1387.1 L1655.5,1386.6 L1657.0,1386.1 L1658.4,1385.6 L1659.9,1385.1 L1661.4,1384.5 L1662.8,1384.0 L1664.3,1383.4 L1665.8,1382.8 L1667.2,1382.2 L1668.7,1381.6 L1670.1,1381.0 L1671.6,1380.3 L1673.1,1379.7 L1674.5,1379.0 L1676.0,1378.3 L1677.5,1377.6 L1678.9,1376.9 L1680.4,1376.1 L1681.9,1375.3 L1683.3,1374.5 L1684.8,1373.7 L1686.2,1372.9 L1687.7,1372.0 L1689.2,1371.1 L1690.6,1370.2 L1692.1,1369.2 L1693.6,1368.2 L1695.0,1367.2 L1696.5,1366.2 L1698.0,1365.1 L1699.4,1364.0 L1700.9,1362.9 L1702.4,1361.7 L1703.8,1360.5 L1705.3,1359.2 L1706.7,1358.0 L1708.2,1356.6 L1709.7,1355.3 L1711.1,1353.8 L1712.6,1352.4 L1714.1,1350.8 L1715.5,1349.3 L1717.0,1347.7 L1718.5,1346.0 L1719.9,1344.2 L1721.4,1342.4 L1722.8,1340.6 L1724.3,1338.7 L1725.8,1336.7 L1727.2,1334.6 L1728.7,1332.4 L1730.2,1330.2 L1731.6,1327.9 L1733.1,1325.5 L1734.6,1323.0 L1736.0,1320.5 L1737.5,1317.8 L1739.0,1315.0 L1740.4,1312.1 L1741.9,1309.1 L1743.3,1306.0 L1744.8,1302.8 L1746.3,1299.4 L1747.7,1295.9 L1749.2,1292.2 L1750.7,1288.5 L1752.1,1284.5 L1753.6,1280.4 L1755.1,1276.1 L1756.5,1271.7 L1758.0,1267.1 L1759.4,1262.2 L1760.9,1257.2 L1762.4,1252.0 L1763.8,1246.6 L1765.3,1240.9 L1766.8,1235.0 L1768.2,1228.9 L1769.7,1222.5 L1771.2,1215.9 L1772.6,1209.0 L1774.1,1201.9 L1775.6,1194.5 L1777.0,1186.8 L1778.5,1178.9 L1779.9,1170.6 L1781.4,1162.1 L1782.9,1153.4 L1784.3,1144.3 L1785.8,1135.0 L1787.3,1125.5 L1788.7,1115.7 L1790.2,1105.7 L1791.7,1095.6 L1793.1,1085.3 L1794.6,1074.9 L1796.0,1064.4 L1797.5,1053.9 L1799.0,1043.4 L1800.4,1033.0 L1801.9,1022.8 L1803.4,1012.8 L1804.8,1003.2 L1806.3,993.9 L1807.8,985.1 L1809.2,976.9 L1810.7,969.4 L1812.2,962.6 L1813.6,956.6 L1815.1,951.5 L1816.5,947.4 L1818.0,944.3 L1819.5,942.2 L1820.9,941.3 L1822.4,941.4 L1823.9,942.8 L1825.3,945.3 L1826.8,949.0 L1828.3,953.7 L1829.7,959.5 L1831.2,966.2 L1832.6,973.7 L1834.1,982.1 L1835.6,991.0 L1837.0,1000.6 L1838.5,1010.6 L1840.0,1020.9 L1841.4,1031.5 L1842.9,1042.4 L1844.4,1053.3 L1845.8,1064.3 L1847.3,1075.2 L1848.8,1086.1 L1850.2,1096.8 L1851.7,1107.4 L1853.1,1117.8 L1854.6,1127.9 L1856.1,1137.8 L1857.5,1147.5 L1859.0,1156.8 L1860.5,1165.8 L1861.9,1174.6 L1863.4,1183.0 L1864.9,1191.2 L1866.3,1199.0 L1867.8,1206.6 L1869.2,1213.9 L1870.7,1220.9 L1872.2,1227.6 L1873.6,1234.0 L1875.1,1240.2 L1876.6,1246.1 L1878.0,1251.8 L1879.5,1257.3 L1881.0,1262.5 L1882.4,1267.5 L1883.9,1272.3 L1885.4,1277.0 L1886.8,1281.4 L1888.3,1285.6 L1889.7,1289.7 L1891.2,1293.6 L1892.7,1297.4 L1894.1,1300.9 L1895.6,1304.4 L1897.1,1307.7 L1898.5,1310.9 L1900.0,1314.0 L1901.5,1316.9 L1902.9,1319.7 L1904.4,1322.4 L1905.8,1325.1 L1907.3,1327.6 L1908.8,1330.0 L1910.2,1332.3 L1911.7,1334.6 L1913.2,1336.7 L1914.6,1338.8 L1916.1,1340.8 L1917.6,1342.7 L1919.0,1344.6 L1920.5,1346.4 L1922.0,1348.1 L1923.4,1349.8 L1924.9,1351.4 L1926.3,1353.0 L1927.8,1354.5 L1929.3,1356.0 L1930.7,1357.4 L1932.2,1358.7 L1933.7,1360.1 L1935.1,1361.3 L1936.6,1362.6 L1938.1,1363.8 L1939.5,1364.9 L1941.0,1366.1 L1942.4,1367.1 L1943.9,1368.2 L1945.4,1369.2 L1946.8,1370.2 L1948.3,1371.2 L1949.8,1372.1 L1951.2,1373.0 L1952.7,1373.9 L1954.2,1374.7 L1955.6,1375.6 L1957.1,1376.4 L1958.6,1377.2 L1960.0,1377.9 L1961.5,1378.7 L1962.9,1379.4 L1964.4,1380.1 L1965.9,1380.8 L1967.3,1381.4 L1968.8,1382.1 L1970.3,1382.7 L1971.7,1383.3 L1973.2,1383.9 L1974.7,1384.5 L1976.1,1385.0 L1977.6,1385.6 L1979.0,1386.1 L1980.5,1386.6 L1982.0,1387.1 L1983.4,1387.6 L1984.9,1388.1 L1986.4,1388.6 L1987.8,1389.1 L1989.3,1389.5 L1990.8,1389.9 L1992.2,1390.4 L1993.7,1390.8 L1995.2,1391.2 L1996.6,1391.6 L1998.1,1392.0 L1999.5,1392.4 L2001.0,1392.7 L2002.5,1393.1 L2003.9,1393.5 L2005.4,1393.8 L2006.9,1394.2 L2008.3,1394.5 L2009.8,1394.8 L2011.3,1395.1 L2012.7,1395.4 L2014.2,1395.7 L2015.6,1396.0 L2017.1,1396.3 L2018.6,1396.6 L2020.0,1396.9 L2021.5,1397.2 L2023.0,1397.4 L2024.4,1397.7 L2025.9,1398.0 L2027.4,1398.2 L2028.8,1398.5 L2030.3,1398.7 L2031.8,1398.9 L2033.2,1399.2 L2034.7,1399.4 L2036.1,1399.6 L2037.6,1399.9 L2039.1,1400.1 L2040.5,1400.3 L2042.0,1400.5" fill="none" stroke="#000" stroke-width="3.5" stroke-linejoin="round" clip-path="url(#clipd)"/>
<path d="M1310.0,1412.3 L1311.5,1412.3 L1312.9,1412.2 L1314.4,1412.2 L1315.9,1412.1 L1317.3,1412.1 L1318.8,1412.1 L1320.2,1412.0 L1321.7,1412.0 L1323.2,1411.9 L1324.6,1411.9 L1326.1,1411.8 L1327.6,1411.8 L1329.0,1411.7 L1330.5,1411.7 L1332.0,1411.6 L1333.4,1411.6 L1334.9,1411.5 L1336.4,1411.5 L1337.8,1411.4 L1339.3,1411.4 L1340.7,1411.3 L1342.2,1411.3 L1343.7,1411.2 L1345.1,1411.2 L1346.6,1411.1 L1348.1,1411.0 L1349.5,1411.0 L1351.0,1410.9 L1352.5,1410.9 L1353.9,1410.8 L1355.4,1410.7 L1356.8,1410.7 L1358.3,1410.6 L1359.8,1410.5 L1361.2,1410.5 L1362.7,1410.4 L1364.2,1410.3 L1365.6,1410.3 L1367.1,1410.2 L1368.6,1410.1 L1370.0,1410.0 L1371.5,1410.0 L1373.0,1409.9 L1374.4,1409.8 L1375.9,1409.7 L1377.3,1409.6 L1378.8,1409.5 L1380.3,1409.5 L1381.7,1409.4 L1383.2,1409.3 L1384.7,1409.2 L1386.1,1409.1 L1387.6,1409.0 L1389.1,1408.9 L1390.5,1408.8 L1392.0,1408.7 L1393.4,1408.6 L1394.9,1408.5 L1396.4,1408.4 L1397.8,1408.3 L1399.3,1408.2 L1400.8,1408.1 L1402.2,1408.0 L1403.7,1407.8 L1405.2,1407.7 L1406.6,1407.6 L1408.1,1407.5 L1409.6,1407.4 L1411.0,1407.2 L1412.5,1407.1 L1413.9,1407.0 L1415.4,1406.8 L1416.9,1406.7 L1418.3,1406.5 L1419.8,1406.4 L1421.3,1406.2 L1422.7,1406.1 L1424.2,1405.9 L1425.7,1405.8 L1427.1,1405.6 L1428.6,1405.4 L1430.0,1405.3 L1431.5,1405.1 L1433.0,1404.9 L1434.4,1404.7 L1435.9,1404.6 L1437.4,1404.4 L1438.8,1404.2 L1440.3,1404.0 L1441.8,1403.8 L1443.2,1403.6 L1444.7,1403.3 L1446.2,1403.1 L1447.6,1402.9 L1449.1,1402.7 L1450.5,1402.4 L1452.0,1402.2 L1453.5,1401.9 L1454.9,1401.7 L1456.4,1401.4 L1457.9,1401.2 L1459.3,1400.9 L1460.8,1400.6 L1462.3,1400.3 L1463.7,1400.0 L1465.2,1399.7 L1466.6,1399.4 L1468.1,1399.1 L1469.6,1398.8 L1471.0,1398.4 L1472.5,1398.1 L1474.0,1397.7 L1475.4,1397.4 L1476.9,1397.0 L1478.4,1396.6 L1479.8,1396.2 L1481.3,1395.8 L1482.8,1395.4 L1484.2,1394.9 L1485.7,1394.5 L1487.1,1394.0 L1488.6,1393.5 L1490.1,1393.1 L1491.5,1392.6 L1493.0,1392.0 L1494.5,1391.5 L1495.9,1391.0 L1497.4,1390.4 L1498.9,1389.8 L1500.3,1389.2 L1501.8,1388.6 L1503.2,1387.9 L1504.7,1387.3 L1506.2,1386.6 L1507.6,1385.9 L1509.1,1385.2 L1510.6,1384.4 L1512.0,1383.6 L1513.5,1382.8 L1515.0,1382.0 L1516.4,1381.1 L1517.9,1380.2 L1519.4,1379.3 L1520.8,1378.4 L1522.3,1377.4 L1523.7,1376.4 L1525.2,1375.3 L1526.7,1374.2 L1528.1,1373.1 L1529.6,1371.9 L1531.1,1370.7 L1532.5,1369.5 L1534.0,1368.2 L1535.5,1366.9 L1536.9,1365.5 L1538.4,1364.0 L1539.8,1362.6 L1541.3,1361.0 L1542.8,1359.4 L1544.2,1357.8 L1545.7,1356.1 L1547.2,1354.4 L1548.6,1352.5 L1550.1,1350.7 L1551.6,1348.7 L1553.0,1346.8 L1554.5,1344.7 L1556.0,1342.6 L1557.4,1340.4 L1558.9,1338.2 L1560.3,1335.8 L1561.8,1333.5 L1563.3,1331.0 L1564.7,1328.6 L1566.2,1326.0 L1567.7,1323.4 L1569.1,1320.8 L1570.6,1318.1 L1572.1,1315.3 L1573.5,1312.5 L1575.0,1309.7 L1576.4,1306.9 L1577.9,1304.1 L1579.4,1301.2 L1580.8,1298.4 L1582.3,1295.6 L1583.8,1292.9 L1585.2,1290.2 L1586.7,1287.5 L1588.2,1285.0 L1589.6,1282.5 L1591.1,1280.1 L1592.6,1277.9 L1594.0,1275.9 L1595.5,1274.0 L1596.9,1272.3 L1598.4,1270.8 L1599.9,1269.5 L1601.3,1268.4 L1602.8,1267.5 L1604.3,1266.9 L1605.7,1266.6 L1607.2,1266.5 L1608.7,1266.7 L1610.1,1267.1 L1611.6,1267.7 L1613.0,1268.6 L1614.5,1269.8 L1616.0,1271.1 L1617.4,1272.7 L1618.9,1274.4 L1620.4,1276.4 L1621.8,1278.5 L1623.3,1280.7 L1624.8,1283.1 L1626.2,1285.6 L1627.7,1288.2 L1629.2,1290.8 L1630.6,1293.6 L1632.1,1296.3 L1633.5,1299.1 L1635.0,1302.0 L1636.5,1304.8 L1637.9,1307.6 L1639.4,1310.4 L1640.9,1313.2 L1642.3,1316.0 L1643.8,1318.7 L1645.3,1321.4 L1646.7,1324.1 L1648.2,1326.6 L1649.6,1329.2 L1651.1,1331.7 L1652.6,1334.1 L1654.0,1336.4 L1655.5,1338.7 L1657.0,1341.0 L1658.4,1343.1 L1659.9,1345.2 L1661.4,1347.3 L1662.8,1349.2 L1664.3,1351.2 L1665.8,1353.0 L1667.2,1354.8 L1668.7,1356.5 L1670.1,1358.2 L1671.6,1359.8 L1673.1,1361.4 L1674.5,1362.9 L1676.0,1364.4 L1677.5,1365.8 L1678.9,1367.2 L1680.4,1368.5 L1681.9,1369.8 L1683.3,1371.0 L1684.8,1372.2 L1686.2,1373.4 L1687.7,1374.5 L1689.2,1375.6 L1690.6,1376.6 L1692.1,1377.6 L1693.6,1378.6 L1695.0,1379.5 L1696.5,1380.5 L1698.0,1381.3 L1699.4,1382.2 L1700.9,1383.0 L1702.4,1383.8 L1703.8,1384.6 L1705.3,1385.3 L1706.7,1386.1 L1708.2,1386.8 L1709.7,1387.4 L1711.1,1388.1 L1712.6,1388.7 L1714.1,1389.4 L1715.5,1390.0 L1717.0,1390.5 L1718.5,1391.1 L1719.9,1391.6 L1721.4,1392.2 L1722.8,1392.7 L1724.3,1393.2 L1725.8,1393.7 L1727.2,1394.1 L1728.7,1394.6 L1730.2,1395.0 L1731.6,1395.5 L1733.1,1395.9 L1734.6,1396.3 L1736.0,1396.7 L1737.5,1397.1 L1739.0,1397.4 L1740.4,1397.8 L1741.9,1398.2 L1743.3,1398.5 L1744.8,1398.8 L1746.3,1399.2 L1747.7,1399.5 L1749.2,1399.8 L1750.7,1400.1 L1752.1,1400.4 L1753.6,1400.7 L1755.1,1401.0 L1756.5,1401.2 L1758.0,1401.5 L1759.4,1401.8 L1760.9,1402.0 L1762.4,1402.3 L1763.8,1402.5 L1765.3,1402.7 L1766.8,1403.0 L1768.2,1403.2 L1769.7,1403.4 L1771.2,1403.6 L1772.6,1403.8 L1774.1,1404.0 L1775.6,1404.2 L1777.0,1404.4 L1778.5,1404.6 L1779.9,1404.8 L1781.4,1405.0 L1782.9,1405.1 L1784.3,1405.3 L1785.8,1405.5 L1787.3,1405.7 L1788.7,1405.8 L1790.2,1406.0 L1791.7,1406.1 L1793.1,1406.3 L1794.6,1406.4 L1796.0,1406.6 L1797.5,1406.7 L1799.0,1406.9 L1800.4,1407.0 L1801.9,1407.1 L1803.4,1407.3 L1804.8,1407.4 L1806.3,1407.5 L1807.8,1407.6 L1809.2,1407.8 L1810.7,1407.9 L1812.2,1408.0 L1813.6,1408.1 L1815.1,1408.2 L1816.5,1408.3 L1818.0,1408.4 L1819.5,1408.5 L1820.9,1408.6 L1822.4,1408.7 L1823.9,1408.8 L1825.3,1408.9 L1826.8,1409.0 L1828.3,1409.1 L1829.7,1409.2 L1831.2,1409.3 L1832.6,1409.4 L1834.1,1409.5 L1835.6,1409.6 L1837.0,1409.6 L1838.5,1409.7 L1840.0,1409.8 L1841.4,1409.9 L1842.9,1410.0 L1844.4,1410.0 L1845.8,1410.1 L1847.3,1410.2 L1848.8,1410.3 L1850.2,1410.3 L1851.7,1410.4 L1853.1,1410.5 L1854.6,1410.5 L1856.1,1410.6 L1857.5,1410.7 L1859.0,1410.7 L1860.5,1410.8 L1861.9,1410.9 L1863.4,1410.9 L1864.9,1411.0 L1866.3,1411.1 L1867.8,1411.1 L1869.2,1411.2 L1870.7,1411.2 L1872.2,1411.3 L1873.6,1411.3 L1875.1,1411.4 L1876.6,1411.4 L1878.0,1411.5 L1879.5,1411.6 L1881.0,1411.6 L1882.4,1411.7 L1883.9,1411.7 L1885.4,1411.8 L1886.8,1411.8 L1888.3,1411.8 L1889.7,1411.9 L1891.2,1411.9 L1892.7,1412.0 L1894.1,1412.0 L1895.6,1412.1 L1897.1,1412.1 L1898.5,1412.2 L1900.0,1412.2 L1901.5,1412.2 L1902.9,1412.3 L1904.4,1412.3 L1905.8,1412.4 L1907.3,1412.4 L1908.8,1412.4 L1910.2,1412.5 L1911.7,1412.5 L1913.2,1412.6 L1914.6,1412.6 L1916.1,1412.6 L1917.6,1412.7 L1919.0,1412.7 L1920.5,1412.7 L1922.0,1412.8 L1923.4,1412.8 L1924.9,1412.8 L1926.3,1412.9 L1927.8,1412.9 L1929.3,1412.9 L1930.7,1413.0 L1932.2,1413.0 L1933.7,1413.0 L1935.1,1413.1 L1936.6,1413.1 L1938.1,1413.1 L1939.5,1413.1 L1941.0,1413.2 L1942.4,1413.2 L1943.9,1413.2 L1945.4,1413.3 L1946.8,1413.3 L1948.3,1413.3 L1949.8,1413.3 L1951.2,1413.4 L1952.7,1413.4 L1954.2,1413.4 L1955.6,1413.4 L1957.1,1413.5 L1958.6,1413.5 L1960.0,1413.5 L1961.5,1413.5 L1962.9,1413.6 L1964.4,1413.6 L1965.9,1413.6 L1967.3,1413.6 L1968.8,1413.7 L1970.3,1413.7 L1971.7,1413.7 L1973.2,1413.7 L1974.7,1413.7 L1976.1,1413.8 L1977.6,1413.8 L1979.0,1413.8 L1980.5,1413.8 L1982.0,1413.8 L1983.4,1413.9 L1984.9,1413.9 L1986.4,1413.9 L1987.8,1413.9 L1989.3,1413.9 L1990.8,1414.0 L1992.2,1414.0 L1993.7,1414.0 L1995.2,1414.0 L1996.6,1414.0 L1998.1,1414.1 L1999.5,1414.1 L2001.0,1414.1 L2002.5,1414.1 L2003.9,1414.1 L2005.4,1414.1 L2006.9,1414.2 L2008.3,1414.2 L2009.8,1414.2 L2011.3,1414.2 L2012.7,1414.2 L2014.2,1414.2 L2015.6,1414.3 L2017.1,1414.3 L2018.6,1414.3 L2020.0,1414.3 L2021.5,1414.3 L2023.0,1414.3 L2024.4,1414.4 L2025.9,1414.4 L2027.4,1414.4 L2028.8,1414.4 L2030.3,1414.4 L2031.8,1414.4 L2033.2,1414.4 L2034.7,1414.5 L2036.1,1414.5 L2037.6,1414.5 L2039.1,1414.5 L2040.5,1414.5 L2042.0,1414.5" fill="none" stroke="#000" stroke-width="3.5" stroke-linejoin="round" clip-path="url(#clipd)"/>
<path d="M1310.0,1415.0 L1311.5,1415.0 L1312.9,1415.0 L1314.4,1415.0 L1315.9,1415.0 L1317.3,1415.0 L1318.8,1415.0 L1320.2,1415.0 L1321.7,1414.9 L1323.2,1414.9 L1324.6,1414.9 L1326.1,1414.9 L1327.6,1414.9 L1329.0,1414.9 L1330.5,1414.9 L1332.0,1414.8 L1333.4,1414.8 L1334.9,1414.8 L1336.4,1414.8 L1337.8,1414.8 L1339.3,1414.8 L1340.7,1414.7 L1342.2,1414.7 L1343.7,1414.7 L1345.1,1414.7 L1346.6,1414.7 L1348.1,1414.7 L1349.5,1414.6 L1351.0,1414.6 L1352.5,1414.6 L1353.9,1414.6 L1355.4,1414.6 L1356.8,1414.5 L1358.3,1414.5 L1359.8,1414.5 L1361.2,1414.5 L1362.7,1414.5 L1364.2,1414.4 L1365.6,1414.4 L1367.1,1414.4 L1368.6,1414.4 L1370.0,1414.4 L1371.5,1414.3 L1373.0,1414.3 L1374.4,1414.3 L1375.9,1414.3 L1377.3,1414.2 L1378.8,1414.2 L1380.3,1414.2 L1381.7,1414.2 L1383.2,1414.1 L1384.7,1414.1 L1386.1,1414.1 L1387.6,1414.1 L1389.1,1414.0 L1390.5,1414.0 L1392.0,1414.0 L1393.4,1413.9 L1394.9,1413.9 L1396.4,1413.9 L1397.8,1413.9 L1399.3,1413.8 L1400.8,1413.8 L1402.2,1413.8 L1403.7,1413.7 L1405.2,1413.7 L1406.6,1413.7 L1408.1,1413.6 L1409.6,1413.6 L1411.0,1413.6 L1412.5,1413.5 L1413.9,1413.5 L1415.4,1413.4 L1416.9,1413.4 L1418.3,1413.4 L1419.8,1413.3 L1421.3,1413.3 L1422.7,1413.2 L1424.2,1413.2 L1425.7,1413.2 L1427.1,1413.1 L1428.6,1413.1 L1430.0,1413.0 L1431.5,1413.0 L1433.0,1412.9 L1434.4,1412.9 L1435.9,1412.8 L1437.4,1412.8 L1438.8,1412.7 L1440.3,1412.7 L1441.8,1412.6 L1443.2,1412.6 L1444.7,1412.5 L1446.2,1412.5 L1447.6,1412.4 L1449.1,1412.3 L1450.5,1412.3 L1452.0,1412.2 L1453.5,1412.2 L1454.9,1412.1 L1456.4,1412.0 L1457.9,1412.0 L1459.3,1411.9 L1460.8,1411.8 L1462.3,1411.7 L1463.7,1411.7 L1465.2,1411.6 L1466.6,1411.5 L1468.1,1411.4 L1469.6,1411.4 L1471.0,1411.3 L1472.5,1411.2 L1474.0,1411.1 L1475.4,1411.0 L1476.9,1410.9 L1478.4,1410.8 L1479.8,1410.7 L1481.3,1410.6 L1482.8,1410.5 L1484.2,1410.4 L1485.7,1410.3 L1487.1,1410.2 L1488.6,1410.1 L1490.1,1410.0 L1491.5,1409.9 L1493.0,1409.7 L1494.5,1409.6 L1495.9,1409.5 L1497.4,1409.4 L1498.9,1409.2 L1500.3,1409.1 L1501.8,1408.9 L1503.2,1408.8 L1504.7,1408.6 L1506.2,1408.5 L1507.6,1408.3 L1509.1,1408.1 L1510.6,1408.0 L1512.0,1407.8 L1513.5,1407.6 L1515.0,1407.4 L1516.4,1407.2 L1517.9,1407.0 L1519.4,1406.8 L1520.8,1406.6 L1522.3,1406.4 L1523.7,1406.2 L1525.2,1405.9 L1526.7,1405.7 L1528.1,1405.5 L1529.6,1405.2 L1531.1,1404.9 L1532.5,1404.7 L1534.0,1404.4 L1535.5,1404.1 L1536.9,1403.8 L1538.4,1403.5 L1539.8,1403.1 L1541.3,1402.8 L1542.8,1402.4 L1544.2,1402.1 L1545.7,1401.7 L1547.2,1401.3 L1548.6,1400.9 L1550.1,1400.5 L1551.6,1400.0 L1553.0,1399.6 L1554.5,1399.1 L1556.0,1398.6 L1557.4,1398.1 L1558.9,1397.5 L1560.3,1397.0 L1561.8,1396.4 L1563.3,1395.8 L1564.7,1395.1 L1566.2,1394.5 L1567.7,1393.8 L1569.1,1393.0 L1570.6,1392.3 L1572.1,1391.5 L1573.5,1390.6 L1575.0,1389.8 L1576.4,1388.8 L1577.9,1387.9 L1579.4,1386.9 L1580.8,1385.8 L1582.3,1384.7 L1583.8,1383.6 L1585.2,1382.4 L1586.7,1381.1 L1588.2,1379.8 L1589.6,1378.4 L1591.1,1376.9 L1592.6,1375.3 L1594.0,1373.7 L1595.5,1372.0 L1596.9,1370.2 L1598.4,1368.3 L1599.9,1366.3 L1601.3,1364.2 L1602.8,1362.0 L1604.3,1359.7 L1605.7,1357.3 L1607.2,1354.8 L1608.7,1352.1 L1610.1,1349.4 L1611.6,1346.5 L1613.0,1343.5 L1614.5,1340.4 L1616.0,1337.1 L1617.4,1333.8 L1618.9,1330.3 L1620.4,1326.8 L1621.8,1323.1 L1623.3,1319.4 L1624.8,1315.7 L1626.2,1312.0 L1627.7,1308.2 L1629.2,1304.5 L1630.6,1300.9 L1632.1,1297.5 L1633.5,1294.2 L1635.0,1291.1 L1636.5,1288.3 L1637.9,1285.8 L1639.4,1283.7 L1640.9,1281.9 L1642.3,1280.6 L1643.8,1279.8 L1645.3,1279.4 L1646.7,1279.5 L1648.2,1280.2 L1649.6,1281.2 L1651.1,1282.7 L1652.6,1284.7 L1654.0,1287.0 L1655.5,1289.7 L1657.0,1292.6 L1658.4,1295.8 L1659.9,1299.2 L1661.4,1302.7 L1662.8,1306.4 L1664.3,1310.1 L1665.8,1313.8 L1667.2,1317.6 L1668.7,1321.3 L1670.1,1324.9 L1671.6,1328.5 L1673.1,1332.0 L1674.5,1335.5 L1676.0,1338.8 L1677.5,1341.9 L1678.9,1345.0 L1680.4,1348.0 L1681.9,1350.8 L1683.3,1353.5 L1684.8,1356.1 L1686.2,1358.5 L1687.7,1360.9 L1689.2,1363.1 L1690.6,1365.3 L1692.1,1367.3 L1693.6,1369.3 L1695.0,1371.1 L1696.5,1372.9 L1698.0,1374.5 L1699.4,1376.1 L1700.9,1377.6 L1702.4,1379.1 L1703.8,1380.4 L1705.3,1381.7 L1706.7,1383.0 L1708.2,1384.2 L1709.7,1385.3 L1711.1,1386.4 L1712.6,1387.4 L1714.1,1388.4 L1715.5,1389.3 L1717.0,1390.2 L1718.5,1391.1 L1719.9,1391.9 L1721.4,1392.6 L1722.8,1393.4 L1724.3,1394.1 L1725.8,1394.8 L1727.2,1395.4 L1728.7,1396.1 L1730.2,1396.7 L1731.6,1397.2 L1733.1,1397.8 L1734.6,1398.3 L1736.0,1398.8 L1737.5,1399.3 L1739.0,1399.8 L1740.4,1400.2 L1741.9,1400.7 L1743.3,1401.1 L1744.8,1401.5 L1746.3,1401.9 L1747.7,1402.3 L1749.2,1402.6 L1750.7,1403.0 L1752.1,1403.3 L1753.6,1403.6 L1755.1,1403.9 L1756.5,1404.2 L1758.0,1404.5 L1759.4,1404.8 L1760.9,1405.1 L1762.4,1405.3 L1763.8,1405.6 L1765.3,1405.8 L1766.8,1406.1 L1768.2,1406.3 L1769.7,1406.5 L1771.2,1406.7 L1772.6,1406.9 L1774.1,1407.1 L1775.6,1407.3 L1777.0,1407.5 L1778.5,1407.7 L1779.9,1407.9 L1781.4,1408.1 L1782.9,1408.2 L1784.3,1408.4 L1785.8,1408.6 L1787.3,1408.7 L1788.7,1408.9 L1790.2,1409.0 L1791.7,1409.1 L1793.1,1409.3 L1794.6,1409.4 L1796.0,1409.5 L1797.5,1409.7 L1799.0,1409.8 L1800.4,1409.9 L1801.9,1410.0 L1803.4,1410.1 L1804.8,1410.3 L1806.3,1410.4 L1807.8,1410.5 L1809.2,1410.6 L1810.7,1410.7 L1812.2,1410.8 L1813.6,1410.9 L1815.1,1411.0 L1816.5,1411.1 L1818.0,1411.1 L1819.5,1411.2 L1820.9,1411.3 L1822.4,1411.4 L1823.9,1411.5 L1825.3,1411.6 L1826.8,1411.6 L1828.3,1411.7 L1829.7,1411.8 L1831.2,1411.9 L1832.6,1411.9 L1834.1,1412.0 L1835.6,1412.1 L1837.0,1412.1 L1838.5,1412.2 L1840.0,1412.2 L1841.4,1412.3 L1842.9,1412.4 L1844.4,1412.4 L1845.8,1412.5 L1847.3,1412.5 L1848.8,1412.6 L1850.2,1412.7 L1851.7,1412.7 L1853.1,1412.8 L1854.6,1412.8 L1856.1,1412.9 L1857.5,1412.9 L1859.0,1413.0 L1860.5,1413.0 L1861.9,1413.0 L1863.4,1413.1 L1864.9,1413.1 L1866.3,1413.2 L1867.8,1413.2 L1869.2,1413.3 L1870.7,1413.3 L1872.2,1413.3 L1873.6,1413.4 L1875.1,1413.4 L1876.6,1413.5 L1878.0,1413.5 L1879.5,1413.5 L1881.0,1413.6 L1882.4,1413.6 L1883.9,1413.6 L1885.4,1413.7 L1886.8,1413.7 L1888.3,1413.7 L1889.7,1413.8 L1891.2,1413.8 L1892.7,1413.8 L1894.1,1413.9 L1895.6,1413.9 L1897.1,1413.9 L1898.5,1414.0 L1900.0,1414.0 L1901.5,1414.0 L1902.9,1414.0 L1904.4,1414.1 L1905.8,1414.1 L1907.3,1414.1 L1908.8,1414.1 L1910.2,1414.2 L1911.7,1414.2 L1913.2,1414.2 L1914.6,1414.2 L1916.1,1414.3 L1917.6,1414.3 L1919.0,1414.3 L1920.5,1414.3 L1922.0,1414.4 L1923.4,1414.4 L1924.9,1414.4 L1926.3,1414.4 L1927.8,1414.4 L1929.3,1414.5 L1930.7,1414.5 L1932.2,1414.5 L1933.7,1414.5 L1935.1,1414.6 L1936.6,1414.6 L1938.1,1414.6 L1939.5,1414.6 L1941.0,1414.6 L1942.4,1414.6 L1943.9,1414.7 L1945.4,1414.7 L1946.8,1414.7 L1948.3,1414.7 L1949.8,1414.7 L1951.2,1414.7 L1952.7,1414.8 L1954.2,1414.8 L1955.6,1414.8 L1957.1,1414.8 L1958.6,1414.8 L1960.0,1414.8 L1961.5,1414.9 L1962.9,1414.9 L1964.4,1414.9 L1965.9,1414.9 L1967.3,1414.9 L1968.8,1414.9 L1970.3,1414.9 L1971.7,1415.0 L1973.2,1415.0 L1974.7,1415.0 L1976.1,1415.0 L1977.6,1415.0 L1979.0,1415.0 L1980.5,1415.0 L1982.0,1415.1 L1983.4,1415.1 L1984.9,1415.1 L1986.4,1415.1 L1987.8,1415.1 L1989.3,1415.1 L1990.8,1415.1 L1992.2,1415.1 L1993.7,1415.1 L1995.2,1415.2 L1996.6,1415.2 L1998.1,1415.2 L1999.5,1415.2 L2001.0,1415.2 L2002.5,1415.2 L2003.9,1415.2 L2005.4,1415.2 L2006.9,1415.2 L2008.3,1415.3 L2009.8,1415.3 L2011.3,1415.3 L2012.7,1415.3 L2014.2,1415.3 L2015.6,1415.3 L2017.1,1415.3 L2018.6,1415.3 L2020.0,1415.3 L2021.5,1415.3 L2023.0,1415.3 L2024.4,1415.4 L2025.9,1415.4 L2027.4,1415.4 L2028.8,1415.4 L2030.3,1415.4 L2031.8,1415.4 L2033.2,1415.4 L2034.7,1415.4 L2036.1,1415.4 L2037.6,1415.4 L2039.1,1415.4 L2040.5,1415.4 L2042.0,1415.5" fill="none" stroke="#000" stroke-width="3.5" stroke-linejoin="round" clip-path="url(#clipd)"/>
<path d="M1310.0,1408.9 L1311.5,1408.8 L1312.9,1408.7 L1314.4,1408.5 L1315.9,1408.4 L1317.3,1408.3 L1318.8,1408.1 L1320.2,1408.0 L1321.7,1407.9 L1323.2,1407.7 L1324.6,1407.6 L1326.1,1407.5 L1327.6,1407.3 L1329.0,1407.2 L1330.5,1407.0 L1332.0,1406.9 L1333.4,1406.7 L1334.9,1406.5 L1336.4,1406.4 L1337.8,1406.2 L1339.3,1406.1 L1340.7,1405.9 L1342.2,1405.7 L1343.7,1405.5 L1345.1,1405.4 L1346.6,1405.2 L1348.1,1405.0 L1349.5,1404.8 L1351.0,1404.7 L1352.5,1404.5 L1353.9,1404.3 L1355.4,1404.1 L1356.8,1403.9 L1358.3,1403.7 L1359.8,1403.5 L1361.2,1403.3 L1362.7,1403.1 L1364.2,1402.9 L1365.6,1402.7 L1367.1,1402.6 L1368.6,1402.4 L1370.0,1402.2 L1371.5,1402.0 L1373.0,1401.8 L1374.4,1401.6 L1375.9,1401.4 L1377.3,1401.2 L1378.8,1401.0 L1380.3,1400.8 L1381.7,1400.6 L1383.2,1400.4 L1384.7,1400.3 L1386.1,1400.1 L1387.6,1399.9 L1389.1,1399.7 L1390.5,1399.6 L1392.0,1399.4 L1393.4,1399.2 L1394.9,1399.1 L1396.4,1398.9 L1397.8,1398.8 L1399.3,1398.7 L1400.8,1398.5 L1402.2,1398.4 L1403.7,1398.3 L1405.2,1398.2 L1406.6,1398.1 L1408.1,1398.0 L1409.6,1397.9 L1411.0,1397.9 L1412.5,1397.8 L1413.9,1397.7 L1415.4,1397.7 L1416.9,1397.7 L1418.3,1397.6 L1419.8,1397.6 L1421.3,1397.6 L1422.7,1397.6 L1424.2,1397.6 L1425.7,1397.6 L1427.1,1397.7 L1428.6,1397.7 L1430.0,1397.8 L1431.5,1397.8 L1433.0,1397.9 L1434.4,1398.0 L1435.9,1398.0 L1437.4,1398.1 L1438.8,1398.2 L1440.3,1398.4 L1441.8,1398.5 L1443.2,1398.6 L1444.7,1398.7 L1446.2,1398.9 L1447.6,1399.0 L1449.1,1399.2 L1450.5,1399.3 L1452.0,1399.5 L1453.5,1399.6 L1454.9,1399.8 L1456.4,1400.0 L1457.9,1400.2 L1459.3,1400.3 L1460.8,1400.5 L1462.3,1400.7 L1463.7,1400.9 L1465.2,1401.1 L1466.6,1401.3 L1468.1,1401.5 L1469.6,1401.7 L1471.0,1401.9 L1472.5,1402.1 L1474.0,1402.3 L1475.4,1402.5 L1476.9,1402.7 L1478.4,1402.8 L1479.8,1403.0 L1481.3,1403.2 L1482.8,1403.4 L1484.2,1403.6 L1485.7,1403.8 L1487.1,1404.0 L1488.6,1404.2 L1490.1,1404.4 L1491.5,1404.6 L1493.0,1404.7 L1494.5,1404.9 L1495.9,1405.1 L1497.4,1405.3 L1498.9,1405.5 L1500.3,1405.6 L1501.8,1405.8 L1503.2,1406.0 L1504.7,1406.1 L1506.2,1406.3 L1507.6,1406.5 L1509.1,1406.6 L1510.6,1406.8 L1512.0,1406.9 L1513.5,1407.1 L1515.0,1407.2 L1516.4,1407.4 L1517.9,1407.5 L1519.4,1407.7 L1520.8,1407.8 L1522.3,1407.9 L1523.7,1408.1 L1525.2,1408.2 L1526.7,1408.3 L1528.1,1408.5 L1529.6,1408.6 L1531.1,1408.7 L1532.5,1408.8 L1534.0,1409.0 L1535.5,1409.1 L1536.9,1409.2 L1538.4,1409.3 L1539.8,1409.4 L1541.3,1409.5 L1542.8,1409.6 L1544.2,1409.7 L1545.7,1409.8 L1547.2,1409.9 L1548.6,1410.0 L1550.1,1410.1 L1551.6,1410.2 L1553.0,1410.3 L1554.5,1410.4 L1556.0,1410.5 L1557.4,1410.6 L1558.9,1410.7 L1560.3,1410.8 L1561.8,1410.9 L1563.3,1410.9 L1564.7,1411.0 L1566.2,1411.1 L1567.7,1411.2 L1569.1,1411.2 L1570.6,1411.3 L1572.1,1411.4 L1573.5,1411.5 L1575.0,1411.5 L1576.4,1411.6 L1577.9,1411.7 L1579.4,1411.7 L1580.8,1411.8 L1582.3,1411.9 L1583.8,1411.9 L1585.2,1412.0 L1586.7,1412.1 L1588.2,1412.1 L1589.6,1412.2 L1591.1,1412.2 L1592.6,1412.3 L1594.0,1412.3 L1595.5,1412.4 L1596.9,1412.5 L1598.4,1412.5 L1599.9,1412.6 L1601.3,1412.6 L1602.8,1412.7 L1604.3,1412.7 L1605.7,1412.8 L1607.2,1412.8 L1608.7,1412.8 L1610.1,1412.9 L1611.6,1412.9 L1613.0,1413.0 L1614.5,1413.0 L1616.0,1413.1 L1617.4,1413.1 L1618.9,1413.2 L1620.4,1413.2 L1621.8,1413.2 L1623.3,1413.3 L1624.8,1413.3 L1626.2,1413.3 L1627.7,1413.4 L1629.2,1413.4 L1630.6,1413.5 L1632.1,1413.5 L1633.5,1413.5 L1635.0,1413.6 L1636.5,1413.6 L1637.9,1413.6 L1639.4,1413.7 L1640.9,1413.7 L1642.3,1413.7 L1643.8,1413.8 L1645.3,1413.8 L1646.7,1413.8 L1648.2,1413.8 L1649.6,1413.9 L1651.1,1413.9 L1652.6,1413.9 L1654.0,1414.0 L1655.5,1414.0 L1657.0,1414.0 L1658.4,1414.0 L1659.9,1414.1 L1661.4,1414.1 L1662.8,1414.1 L1664.3,1414.1 L1665.8,1414.2 L1667.2,1414.2 L1668.7,1414.2 L1670.1,1414.2 L1671.6,1414.3 L1673.1,1414.3 L1674.5,1414.3 L1676.0,1414.3 L1677.5,1414.4 L1678.9,1414.4 L1680.4,1414.4 L1681.9,1414.4 L1683.3,1414.4 L1684.8,1414.5 L1686.2,1414.5 L1687.7,1414.5 L1689.2,1414.5 L1690.6,1414.5 L1692.1,1414.6 L1693.6,1414.6 L1695.0,1414.6 L1696.5,1414.6 L1698.0,1414.6 L1699.4,1414.7 L1700.9,1414.7 L1702.4,1414.7 L1703.8,1414.7 L1705.3,1414.7 L1706.7,1414.7 L1708.2,1414.8 L1709.7,1414.8 L1711.1,1414.8 L1712.6,1414.8 L1714.1,1414.8 L1715.5,1414.8 L1717.0,1414.8 L1718.5,1414.9 L1719.9,1414.9 L1721.4,1414.9 L1722.8,1414.9 L1724.3,1414.9 L1725.8,1414.9 L1727.2,1414.9 L1728.7,1415.0 L1730.2,1415.0 L1731.6,1415.0 L1733.1,1415.0 L1734.6,1415.0 L1736.0,1415.0 L1737.5,1415.0 L1739.0,1415.0 L1740.4,1415.1 L1741.9,1415.1 L1743.3,1415.1 L1744.8,1415.1 L1746.3,1415.1 L1747.7,1415.1 L1749.2,1415.1 L1750.7,1415.1 L1752.1,1415.2 L1753.6,1415.2 L1755.1,1415.2 L1756.5,1415.2 L1758.0,1415.2 L1759.4,1415.2 L1760.9,1415.2 L1762.4,1415.2 L1763.8,1415.2 L1765.3,1415.2 L1766.8,1415.3 L1768.2,1415.3 L1769.7,1415.3 L1771.2,1415.3 L1772.6,1415.3 L1774.1,1415.3 L1775.6,1415.3 L1777.0,1415.3 L1778.5,1415.3 L1779.9,1415.3 L1781.4,1415.4 L1782.9,1415.4 L1784.3,1415.4 L1785.8,1415.4 L1787.3,1415.4 L1788.7,1415.4 L1790.2,1415.4 L1791.7,1415.4 L1793.1,1415.4 L1794.6,1415.4 L1796.0,1415.4 L1797.5,1415.4 L1799.0,1415.5 L1800.4,1415.5 L1801.9,1415.5 L1803.4,1415.5 L1804.8,1415.5 L1806.3,1415.5 L1807.8,1415.5 L1809.2,1415.5 L1810.7,1415.5 L1812.2,1415.5 L1813.6,1415.5 L1815.1,1415.5 L1816.5,1415.5 L1818.0,1415.5 L1819.5,1415.6 L1820.9,1415.6 L1822.4,1415.6 L1823.9,1415.6 L1825.3,1415.6 L1826.8,1415.6 L1828.3,1415.6 L1829.7,1415.6 L1831.2,1415.6 L1832.6,1415.6 L1834.1,1415.6 L1835.6,1415.6 L1837.0,1415.6 L1838.5,1415.6 L1840.0,1415.6 L1841.4,1415.6 L1842.9,1415.6 L1844.4,1415.7 L1845.8,1415.7 L1847.3,1415.7 L1848.8,1415.7 L1850.2,1415.7 L1851.7,1415.7 L1853.1,1415.7 L1854.6,1415.7 L1856.1,1415.7 L1857.5,1415.7 L1859.0,1415.7 L1860.5,1415.7 L1861.9,1415.7 L1863.4,1415.7 L1864.9,1415.7 L1866.3,1415.7 L1867.8,1415.7 L1869.2,1415.7 L1870.7,1415.7 L1872.2,1415.8 L1873.6,1415.8 L1875.1,1415.8 L1876.6,1415.8 L1878.0,1415.8 L1879.5,1415.8 L1881.0,1415.8 L1882.4,1415.8 L1883.9,1415.8 L1885.4,1415.8 L1886.8,1415.8 L1888.3,1415.8 L1889.7,1415.8 L1891.2,1415.8 L1892.7,1415.8 L1894.1,1415.8 L1895.6,1415.8 L1897.1,1415.8 L1898.5,1415.8 L1900.0,1415.8 L1901.5,1415.8 L1902.9,1415.8 L1904.4,1415.8 L1905.8,1415.8 L1907.3,1415.9 L1908.8,1415.9 L1910.2,1415.9 L1911.7,1415.9 L1913.2,1415.9 L1914.6,1415.9 L1916.1,1415.9 L1917.6,1415.9 L1919.0,1415.9 L1920.5,1415.9 L1922.0,1415.9 L1923.4,1415.9 L1924.9,1415.9 L1926.3,1415.9 L1927.8,1415.9 L1929.3,1415.9 L1930.7,1415.9 L1932.2,1415.9 L1933.7,1415.9 L1935.1,1415.9 L1936.6,1415.9 L1938.1,1415.9 L1939.5,1415.9 L1941.0,1415.9 L1942.4,1415.9 L1943.9,1415.9 L1945.4,1415.9 L1946.8,1415.9 L1948.3,1415.9 L1949.8,1415.9 L1951.2,1416.0 L1952.7,1416.0 L1954.2,1416.0 L1955.6,1416.0 L1957.1,1416.0 L1958.6,1416.0 L1960.0,1416.0 L1961.5,1416.0 L1962.9,1416.0 L1964.4,1416.0 L1965.9,1416.0 L1967.3,1416.0 L1968.8,1416.0 L1970.3,1416.0 L1971.7,1416.0 L1973.2,1416.0 L1974.7,1416.0 L1976.1,1416.0 L1977.6,1416.0 L1979.0,1416.0 L1980.5,1416.0 L1982.0,1416.0 L1983.4,1416.0 L1984.9,1416.0 L1986.4,1416.0 L1987.8,1416.0 L1989.3,1416.0 L1990.8,1416.0 L1992.2,1416.0 L1993.7,1416.0 L1995.2,1416.0 L1996.6,1416.0 L1998.1,1416.0 L1999.5,1416.0 L2001.0,1416.0 L2002.5,1416.0 L2003.9,1416.0 L2005.4,1416.0 L2006.9,1416.0 L2008.3,1416.1 L2009.8,1416.1 L2011.3,1416.1 L2012.7,1416.1 L2014.2,1416.1 L2015.6,1416.1 L2017.1,1416.1 L2018.6,1416.1 L2020.0,1416.1 L2021.5,1416.1 L2023.0,1416.1 L2024.4,1416.1 L2025.9,1416.1 L2027.4,1416.1 L2028.8,1416.1 L2030.3,1416.1 L2031.8,1416.1 L2033.2,1416.1 L2034.7,1416.1 L2036.1,1416.1 L2037.6,1416.1 L2039.1,1416.1 L2040.5,1416.1 L2042.0,1416.1" fill="none" stroke="#000" stroke-width="3.5" stroke-linejoin="round" clip-path="url(#clipd)"/>
<path d="M1310.0,1381.2 L1312.7,1381.0 L1316.6,1380.8 L1320.9,1380.5 L1325.0,1380.0 L1329.0,1379.3 L1333.1,1378.5 L1336.9,1377.6 L1340.0,1377.0 L1341.7,1376.7 L1342.4,1376.5 L1343.4,1376.5 L1346.0,1376.6 L1350.7,1376.9 L1356.8,1377.5 L1363.5,1378.0 L1370.0,1378.0 L1376.2,1377.4 L1382.4,1376.3 L1388.7,1375.1 L1395.0,1374.0 L1401.4,1373.0 L1408.0,1371.9 L1414.3,1370.9 L1420.0,1370.0 L1424.8,1369.1 L1429.0,1368.3 L1433.1,1367.5 L1437.7,1366.9 L1442.9,1366.5 L1448.4,1366.3 L1454.1,1366.2 L1460.0,1366.0 L1466.3,1365.9 L1473.0,1365.8 L1479.5,1365.6 L1485.5,1365.0 L1490.7,1364.1 L1495.3,1363.0 L1499.8,1361.5 L1504.6,1359.5 L1510.0,1356.9 L1515.6,1353.8 L1521.2,1350.4 L1526.3,1347.0 L1530.9,1343.8 L1535.1,1340.6 L1539.1,1337.1 L1542.9,1333.0 L1546.6,1328.0 L1550.2,1322.4 L1553.6,1316.4 L1556.9,1310.5 L1559.9,1304.8 L1562.7,1299.2 L1565.5,1293.1 L1568.4,1286.3 L1571.6,1278.4 L1574.9,1269.6 L1578.2,1260.6 L1581.2,1251.8 L1584.0,1243.2 L1586.5,1234.5 L1589.0,1226.2 L1591.4,1218.7 L1593.7,1212.1 L1595.9,1206.2 L1598.1,1200.8 L1600.3,1195.7 L1602.5,1191.1 L1604.7,1186.9 L1606.9,1183.0 L1609.2,1179.1 L1611.7,1175.2 L1614.4,1171.3 L1617.0,1167.7 L1619.4,1164.5 L1621.5,1161.7 L1623.4,1159.3 L1625.3,1157.3 L1627.3,1156.0 L1629.6,1155.1 L1631.9,1154.5 L1634.4,1155.0 L1637.0,1157.0 L1639.7,1161.0 L1642.4,1166.6 L1645.3,1173.2 L1648.2,1180.0 L1651.2,1187.3 L1654.4,1195.2 L1657.5,1203.3 L1660.5,1210.8 L1663.2,1217.4 L1665.8,1223.6 L1668.3,1229.8 L1670.8,1236.4 L1673.4,1243.9 L1675.9,1251.9 L1678.4,1259.9 L1681.0,1267.2 L1683.6,1273.8 L1686.1,1279.9 L1688.7,1285.6 L1691.3,1290.8 L1693.9,1295.7 L1696.4,1300.2 L1699.0,1304.1 L1701.6,1307.3 L1704.3,1309.6 L1707.0,1311.3 L1709.8,1312.2 L1712.4,1312.4 L1714.9,1311.7 L1717.3,1310.3 L1719.7,1308.3 L1722.1,1306.2 L1724.7,1304.1 L1727.3,1301.7 L1730.0,1299.0 L1732.4,1296.0 L1734.6,1292.6 L1736.7,1288.8 L1738.7,1284.8 L1740.6,1280.6 L1742.4,1276.6 L1744.1,1272.6 L1745.8,1268.0 L1747.8,1262.1 L1750.2,1254.3 L1752.8,1245.2 L1755.5,1235.6 L1758.0,1226.2 L1760.3,1216.6 L1762.5,1206.7 L1764.6,1197.5 L1766.2,1190.3 L1767.1,1186.9 L1767.6,1186.3 L1768.1,1185.0 L1769.3,1180.0 L1771.4,1170.2 L1774.0,1157.5 L1777.0,1142.5 L1780.3,1126.1 L1784.0,1107.4 L1788.2,1086.4 L1792.5,1064.8 L1796.7,1044.1 L1801.0,1023.5 L1805.4,1002.6 L1809.6,983.7 L1813.1,969.2 L1815.6,960.3 L1817.4,955.3 L1819.1,953.3 L1821.3,952.9 L1824.2,953.8 L1827.5,956.7 L1830.9,961.7 L1834.2,969.2 L1837.1,978.9 L1839.8,990.7 L1842.6,1005.3 L1845.9,1023.1 L1849.7,1046.0 L1854.1,1073.1 L1858.4,1101.0 L1862.2,1126.1 L1865.5,1147.6 L1868.4,1167.5 L1871.1,1185.9 L1873.9,1203.3 L1876.9,1219.8 L1879.8,1235.3 L1882.7,1249.4 L1885.6,1261.8 L1888.6,1271.7 L1891.5,1279.5 L1894.4,1286.7 L1897.4,1294.6 L1900.3,1303.8 L1903.2,1313.6 L1906.1,1323.2 L1909.1,1332.0 L1911.7,1339.8 L1914.2,1346.9 L1917.0,1353.6 L1920.8,1360.1 L1925.5,1366.5 L1931.0,1372.7 L1937.2,1378.4 L1944.2,1383.5 L1951.5,1387.9 L1959.3,1391.7 L1968.3,1394.9 L1979.3,1397.6 L1994.5,1399.5 L2012.8,1400.8 L2030.1,1401.6 L2042.0,1402.2" fill="none" stroke="#BC66BE" stroke-width="8" stroke-linejoin="round" clip-path="url(#clipd)"/>
<path d="M1310.0,1384.8 L1313.6,1384.5 L1318.5,1384.2 L1324.3,1383.8 L1330.8,1383.3 L1337.5,1382.8 L1344.1,1382.3 L1350.4,1381.7 L1356.0,1381.2 L1361.0,1380.7 L1365.7,1380.1 L1370.3,1379.6 L1374.7,1379.0 L1379.0,1378.4 L1383.3,1377.8 L1387.6,1377.1 L1392.0,1376.5 L1396.4,1375.8 L1400.9,1375.1 L1405.3,1374.4 L1409.7,1373.6 L1414.1,1372.9 L1418.4,1372.2 L1422.7,1371.5 L1427.0,1371.0 L1431.3,1370.5 L1435.6,1370.2 L1439.9,1369.8 L1444.1,1369.6 L1448.3,1369.3 L1452.3,1369.1 L1456.2,1368.8 L1460.0,1368.5 L1463.6,1368.2 L1467.1,1367.9 L1470.4,1367.7 L1473.6,1367.5 L1476.7,1367.2 L1479.8,1366.9 L1482.7,1366.5 L1485.5,1366.0 L1488.2,1365.5 L1490.7,1365.0 L1493.0,1364.4 L1495.3,1363.8 L1497.5,1363.1 L1499.8,1362.3 L1502.1,1361.4 L1504.6,1360.3 L1507.2,1359.0 L1510.0,1357.6 L1512.8,1356.1 L1515.6,1354.4 L1518.4,1352.7 L1521.2,1351.0 L1523.8,1349.2 L1526.3,1347.5 L1528.6,1345.9 L1530.9,1344.3 L1533.0,1342.7 L1535.1,1341.1 L1537.1,1339.5 L1539.1,1337.7 L1541.0,1335.7 L1542.9,1333.5 L1544.8,1331.1 L1546.6,1328.4 L1548.5,1325.6 L1550.2,1322.6 L1551.9,1319.6 L1553.6,1316.5 L1555.3,1313.5 L1556.9,1310.5 L1558.4,1307.6 L1559.9,1304.8 L1561.3,1302.0 L1562.7,1299.1 L1564.1,1296.2 L1565.5,1293.1 L1566.9,1289.8 L1568.4,1286.3 L1570.0,1282.5 L1571.6,1278.4 L1573.2,1274.1 L1574.9,1269.6 L1576.5,1265.1 L1578.2,1260.6 L1579.7,1256.1 L1581.2,1251.8 L1582.6,1247.5 L1584.0,1243.2 L1585.3,1238.8 L1586.5,1234.5 L1587.8,1230.3 L1589.0,1226.2 L1590.2,1222.3 L1591.4,1218.7 L1592.6,1215.3 L1593.7,1212.1 L1594.8,1209.1 L1595.9,1206.2 L1597.0,1203.4 L1598.1,1200.8 L1599.2,1198.2 L1600.3,1195.7 L1601.4,1193.3 L1602.5,1191.1 L1603.6,1188.9 L1604.7,1186.9 L1605.8,1184.9 L1606.9,1183.0 L1608.0,1181.1 L1609.2,1179.1 L1610.4,1177.1 L1611.7,1175.0 L1613.0,1173.0 L1614.4,1170.9 L1615.7,1169.0 L1617.0,1167.1 L1618.2,1165.4 L1619.4,1163.8 L1620.5,1162.4 L1621.5,1161.0 L1622.5,1159.8 L1623.4,1158.7 L1624.3,1157.7 L1625.3,1156.8 L1626.2,1156.1 L1627.3,1155.5 L1628.4,1155.0 L1629.6,1154.5 L1630.7,1154.2 L1631.9,1154.0 L1633.2,1154.0 L1634.4,1154.3 L1635.7,1154.9 L1637.0,1156.0 L1638.4,1157.6 L1639.8,1159.6 L1641.3,1162.1 L1642.8,1164.8 L1644.2,1167.7 L1645.6,1170.6 L1647.0,1173.4 L1648.2,1176.0 L1649.3,1178.4 L1650.2,1180.7 L1651.1,1183.0 L1651.9,1185.2 L1652.6,1187.5 L1653.5,1190.0 L1654.4,1192.6 L1655.4,1195.4 L1656.6,1198.5 L1657.8,1201.8 L1659.1,1205.4 L1660.5,1209.0 L1661.9,1212.6 L1663.2,1216.3 L1664.5,1219.8 L1665.7,1223.1 L1666.8,1226.3 L1667.9,1229.4 L1668.9,1232.4 L1669.9,1235.3 L1670.8,1238.3 L1671.8,1241.1 L1672.8,1243.9 L1673.9,1246.7 L1675.0,1249.4 L1676.1,1252.0 L1677.2,1254.6 L1678.3,1257.1 L1679.5,1259.6 L1680.6,1262.1 L1681.8,1264.6 L1683.1,1267.2 L1684.4,1269.9 L1685.8,1272.8 L1687.3,1275.8 L1688.8,1278.8 L1690.2,1281.6 L1691.7,1284.3 L1693.1,1286.7 L1694.4,1288.8 L1695.6,1290.5 L1696.8,1291.9 L1698.0,1293.1 L1699.1,1294.1 L1700.2,1294.9 L1701.3,1295.6 L1702.4,1296.3 L1703.6,1297.0 L1704.8,1297.7 L1706.1,1298.3 L1707.3,1298.8 L1708.6,1299.3 L1709.9,1299.6 L1711.2,1299.9 L1712.6,1300.0 L1713.9,1300.1 L1715.3,1300.0 L1716.7,1299.9 L1718.1,1299.6 L1719.6,1299.3 L1721.0,1298.8 L1722.4,1298.3 L1723.8,1297.7 L1725.2,1297.0 L1726.5,1296.3 L1727.8,1295.6 L1729.0,1294.9 L1730.2,1294.1 L1731.5,1293.1 L1732.7,1291.9 L1734.0,1290.5 L1735.4,1288.8 L1736.9,1286.8 L1738.4,1284.4 L1740.0,1281.9 L1741.6,1279.1 L1743.2,1276.2 L1744.8,1273.2 L1746.3,1270.2 L1747.8,1267.2 L1749.2,1264.1 L1750.6,1260.9 L1751.9,1257.6 L1753.2,1254.2 L1754.4,1250.9 L1755.6,1247.6 L1756.8,1244.5 L1758.0,1241.6 L1759.1,1239.0 L1760.2,1236.8 L1761.2,1234.8 L1762.2,1232.8 L1763.1,1230.8 L1764.1,1228.6 L1765.1,1226.0 L1766.2,1223.1 L1767.3,1219.5 L1768.6,1215.4 L1769.8,1210.9 L1771.1,1206.2 L1772.3,1201.6 L1773.5,1197.3 L1774.6,1193.4 L1775.5,1190.3 L1776.3,1188.2 L1776.9,1186.9 L1777.5,1186.2 L1777.9,1185.7 L1778.4,1185.2 L1778.8,1184.3 L1779.2,1182.7 L1779.6,1180.0 L1780.0,1176.6 L1780.2,1172.9 L1780.3,1168.8 L1780.5,1164.1 L1780.8,1158.8 L1781.2,1152.7 L1781.8,1145.7 L1782.7,1137.8 L1783.9,1128.5 L1785.4,1117.8 L1787.1,1106.1 L1789.0,1093.7 L1791.0,1081.0 L1792.9,1068.3 L1794.9,1055.9 L1796.7,1044.1 L1798.5,1032.6 L1800.4,1020.6 L1802.3,1008.6 L1804.2,996.7 L1806.1,985.4 L1807.8,974.9 L1809.4,965.5 L1810.8,957.5 L1811.8,950.9 L1812.7,945.4 L1813.3,940.8 L1813.9,937.1 L1814.4,934.2 L1815.0,932.0 L1815.7,930.4 L1816.6,929.4 L1817.7,929.2 L1818.9,929.8 L1820.2,931.1 L1821.5,933.1 L1822.9,935.7 L1824.3,938.7 L1825.7,942.1 L1827.1,945.8 L1828.5,949.8 L1830.0,954.2 L1831.4,959.0 L1832.9,964.3 L1834.4,970.0 L1835.9,976.2 L1837.4,983.0 L1838.8,990.3 L1840.3,998.4 L1841.8,1007.2 L1843.2,1016.7 L1844.7,1026.6 L1846.2,1036.8 L1847.6,1047.1 L1849.1,1057.4 L1850.5,1067.5 L1852.0,1077.6 L1853.5,1088.0 L1854.9,1098.4 L1856.4,1108.9 L1857.9,1119.4 L1859.3,1129.7 L1860.8,1139.7 L1862.2,1149.5 L1863.7,1159.0 L1865.2,1168.4 L1866.6,1177.7 L1868.1,1186.8 L1869.6,1195.6 L1871.0,1204.0 L1872.5,1212.1 L1873.9,1219.7 L1875.4,1226.7 L1876.8,1233.1 L1878.2,1239.2 L1879.7,1244.8 L1881.1,1250.3 L1882.6,1255.7 L1884.1,1261.0 L1885.6,1266.5 L1887.2,1272.0 L1888.6,1277.4 L1889.9,1282.7 L1891.4,1288.0 L1893.0,1293.2 L1894.8,1298.4 L1897.0,1303.5 L1899.7,1308.6 L1902.9,1313.8 L1906.5,1319.2 L1910.5,1324.5 L1914.8,1329.8 L1919.2,1335.0 L1923.7,1339.8 L1928.1,1344.3 L1932.5,1348.4 L1936.7,1352.0 L1941.1,1355.2 L1945.5,1358.0 L1949.9,1360.5 L1954.3,1362.9 L1958.7,1365.1 L1963.2,1367.3 L1967.6,1369.5 L1971.9,1371.6 L1976.2,1373.6 L1980.5,1375.5 L1984.9,1377.3 L1989.2,1379.0 L1993.6,1380.6 L1998.1,1382.1 L2002.7,1383.5 L2007.7,1384.9 L2013.1,1386.2 L2018.8,1387.4 L2024.5,1388.5 L2029.9,1389.5 L2034.8,1390.4 L2038.9,1391.1 L2042.0,1391.7" fill="none" stroke="#FF4500" stroke-width="9" stroke-linejoin="round" stroke-dasharray="50,25" clip-path="url(#clipd)"/>
<line x1="1332.4" y1="926.6" x2="1415.0" y2="926.6" stroke="#BC66BE" stroke-width="8.3"/>
<line x1="1332.4" y1="977.8" x2="1415.0" y2="977.8" stroke="#FF4500" stroke-width="8.3" stroke-dasharray="50,25"/>
<text x="1432.7" y="940.7" font-size="37.85" text-anchor="start">B3</text>
<text x="1432.7" y="991.9" font-size="37.85" text-anchor="start">Fit Sum</text>
<text x="1919.6" y="952.4" font-size="68.05" text-anchor="start">C1s</text>
<text x="1063.2" y="848.5" font-size="87.00" text-anchor="start">d)</text>
<text x="1326.2" y="864.8" font-size="50.10" text-anchor="start">COOH</text>
<text x="1516.9" y="864.8" font-size="50.10" text-anchor="start">C=OC−O</text>
<text x="1752.0" y="867.7" font-size="48.94" text-anchor="start">C=C−C</text>
<clipPath id="clipe"><rect x="246.0" y="1702.4" width="731.5" height="502.2"/></clipPath>
<rect x="246.0" y="1702.4" width="731.5" height="502.2" fill="none" stroke="#8c8c8c" stroke-width="1.8"/>
<line x1="246.0" y1="2196.6" x2="246.0" y2="2212.6" stroke="#707070" stroke-width="1.8"/>
<text x="246.5" y="2254.3" font-size="37.00" text-anchor="middle">535</text>
<line x1="319.1" y1="2200.6" x2="319.1" y2="2208.6" stroke="#707070" stroke-width="1.8"/>
<line x1="392.3" y1="2196.6" x2="392.3" y2="2212.6" stroke="#707070" stroke-width="1.8"/>
<text x="392.8" y="2254.3" font-size="37.00" text-anchor="middle">534</text>
<line x1="465.4" y1="2200.6" x2="465.4" y2="2208.6" stroke="#707070" stroke-width="1.8"/>
<line x1="538.6" y1="2196.6" x2="538.6" y2="2212.6" stroke="#707070" stroke-width="1.8"/>
<text x="539.1" y="2254.3" font-size="37.00" text-anchor="middle">533</text>
<line x1="611.8" y1="2200.6" x2="611.8" y2="2208.6" stroke="#707070" stroke-width="1.8"/>
<line x1="684.9" y1="2196.6" x2="684.9" y2="2212.6" stroke="#707070" stroke-width="1.8"/>
<text x="685.4" y="2254.3" font-size="37.00" text-anchor="middle">532</text>
<line x1="758.0" y1="2200.6" x2="758.0" y2="2208.6" stroke="#707070" stroke-width="1.8"/>
<line x1="831.2" y1="2196.6" x2="831.2" y2="2212.6" stroke="#707070" stroke-width="1.8"/>
<text x="831.7" y="2254.3" font-size="37.00" text-anchor="middle">531</text>
<line x1="904.4" y1="2200.6" x2="904.4" y2="2208.6" stroke="#707070" stroke-width="1.8"/>
<line x1="977.5" y1="2196.6" x2="977.5" y2="2212.6" stroke="#707070" stroke-width="1.8"/>
<text x="978.0" y="2254.3" font-size="37.00" text-anchor="middle">530</text>
<line x1="246.0" y1="2204.6" x2="254.0" y2="2204.6" stroke="#707070" stroke-width="1.8"/>
<text x="230.2" y="2220.4" font-size="37" text-anchor="end">0.0×10<tspan font-size="24.5" dy="-13.8">0</tspan></text>
<line x1="246.0" y1="2168.7" x2="250.0" y2="2168.7" stroke="#707070" stroke-width="1.8"/>
<line x1="246.0" y1="2132.9" x2="254.0" y2="2132.9" stroke="#707070" stroke-width="1.8"/>
<text x="230.2" y="2148.7" font-size="37" text-anchor="end">5.0×10<tspan font-size="24.5" dy="-13.8">3</tspan></text>
<line x1="246.0" y1="2097.0" x2="250.0" y2="2097.0" stroke="#707070" stroke-width="1.8"/>
<line x1="246.0" y1="2061.1" x2="254.0" y2="2061.1" stroke="#707070" stroke-width="1.8"/>
<text x="230.2" y="2076.9" font-size="37" text-anchor="end">1.0×10<tspan font-size="24.5" dy="-13.8">4</tspan></text>
<line x1="246.0" y1="2025.2" x2="250.0" y2="2025.2" stroke="#707070" stroke-width="1.8"/>
<line x1="246.0" y1="1989.4" x2="254.0" y2="1989.4" stroke="#707070" stroke-width="1.8"/>
<text x="230.2" y="2005.2" font-size="37" text-anchor="end">1.5×10<tspan font-size="24.5" dy="-13.8">4</tspan></text>
<line x1="246.0" y1="1953.5" x2="250.0" y2="1953.5" stroke="#707070" stroke-width="1.8"/>
<line x1="246.0" y1="1917.6" x2="254.0" y2="1917.6" stroke="#707070" stroke-width="1.8"/>
<text x="230.2" y="1933.4" font-size="37" text-anchor="end">2.0×10<tspan font-size="24.5" dy="-13.8">4</tspan></text>
<line x1="246.0" y1="1881.8" x2="250.0" y2="1881.8" stroke="#707070" stroke-width="1.8"/>
<line x1="246.0" y1="1845.9" x2="254.0" y2="1845.9" stroke="#707070" stroke-width="1.8"/>
<text x="230.2" y="1861.7" font-size="37" text-anchor="end">2.5×10<tspan font-size="24.5" dy="-13.8">4</tspan></text>
<line x1="246.0" y1="1810.0" x2="250.0" y2="1810.0" stroke="#707070" stroke-width="1.8"/>
<line x1="246.0" y1="1774.2" x2="254.0" y2="1774.2" stroke="#707070" stroke-width="1.8"/>
<text x="230.2" y="1790.0" font-size="37" text-anchor="end">3.0×10<tspan font-size="24.5" dy="-13.8">4</tspan></text>
<line x1="246.0" y1="1738.3" x2="250.0" y2="1738.3" stroke="#707070" stroke-width="1.8"/>
<line x1="246.0" y1="1702.4" x2="254.0" y2="1702.4" stroke="#707070" stroke-width="1.8"/>
<text x="230.2" y="1718.2" font-size="37" text-anchor="end">3.5×10<tspan font-size="24.5" dy="-13.8">4</tspan></text>
<text x="446.5" y="2300.0" font-size="36.90" text-anchor="start">Binding Energy (eV)</text>
<text x="0" y="0" font-size="36.5" text-anchor="middle" transform="translate(89.0,1953.5) rotate(-90)">Intensity (CPS)</text>
<line x1="549.7" y1="1702.4" x2="549.7" y2="2204.6" stroke="#000" stroke-width="2" stroke-dasharray="3.8,3.8"/>
<line x1="646.8" y1="1702.4" x2="646.8" y2="2204.6" stroke="#000" stroke-width="2" stroke-dasharray="3.8,3.8"/>
<path d="M246.0,2182.5 L247.5,2182.3 L248.9,2182.1 L250.4,2181.9 L251.9,2181.7 L253.3,2181.5 L254.8,2181.3 L256.2,2181.0 L257.7,2180.8 L259.2,2180.6 L260.6,2180.4 L262.1,2180.2 L263.6,2179.9 L265.0,2179.7 L266.5,2179.4 L267.9,2179.2 L269.4,2179.0 L270.9,2178.7 L272.3,2178.5 L273.8,2178.2 L275.3,2177.9 L276.7,2177.7 L278.2,2177.4 L279.6,2177.1 L281.1,2176.9 L282.6,2176.6 L284.0,2176.3 L285.5,2176.0 L287.0,2175.7 L288.4,2175.4 L289.9,2175.1 L291.4,2174.8 L292.8,2174.5 L294.3,2174.2 L295.7,2173.9 L297.2,2173.6 L298.7,2173.2 L300.1,2172.9 L301.6,2172.6 L303.1,2172.2 L304.5,2171.9 L306.0,2171.5 L307.4,2171.2 L308.9,2170.8 L310.4,2170.4 L311.8,2170.1 L313.3,2169.7 L314.8,2169.3 L316.2,2168.9 L317.7,2168.5 L319.1,2168.1 L320.6,2167.7 L322.1,2167.3 L323.5,2166.8 L325.0,2166.4 L326.5,2165.9 L327.9,2165.5 L329.4,2165.0 L330.9,2164.6 L332.3,2164.1 L333.8,2163.6 L335.2,2163.1 L336.7,2162.6 L338.2,2162.1 L339.6,2161.6 L341.1,2161.1 L342.6,2160.6 L344.0,2160.0 L345.5,2159.5 L346.9,2158.9 L348.4,2158.3 L349.9,2157.8 L351.3,2157.2 L352.8,2156.6 L354.3,2156.0 L355.7,2155.3 L357.2,2154.7 L358.7,2154.0 L360.1,2153.4 L361.6,2152.7 L363.0,2152.0 L364.5,2151.3 L366.0,2150.6 L367.4,2149.9 L368.9,2149.2 L370.4,2148.4 L371.8,2147.7 L373.3,2146.9 L374.7,2146.1 L376.2,2145.3 L377.7,2144.5 L379.1,2143.6 L380.6,2142.8 L382.1,2141.9 L383.5,2141.0 L385.0,2140.1 L386.4,2139.2 L387.9,2138.2 L389.4,2137.3 L390.8,2136.3 L392.3,2135.3 L393.8,2134.3 L395.2,2133.2 L396.7,2132.2 L398.2,2131.1 L399.6,2130.0 L401.1,2128.9 L402.5,2127.7 L404.0,2126.5 L405.5,2125.4 L406.9,2124.1 L408.4,2122.9 L409.9,2121.6 L411.3,2120.3 L412.8,2119.0 L414.2,2117.6 L415.7,2116.3 L417.2,2114.8 L418.6,2113.4 L420.1,2111.9 L421.6,2110.4 L423.0,2108.9 L424.5,2107.4 L425.9,2105.8 L427.4,2104.1 L428.9,2102.5 L430.3,2100.8 L431.8,2099.0 L433.3,2097.3 L434.7,2095.5 L436.2,2093.6 L437.7,2091.7 L439.1,2089.8 L440.6,2087.9 L442.0,2085.9 L443.5,2083.8 L445.0,2081.7 L446.4,2079.6 L447.9,2077.4 L449.4,2075.2 L450.8,2073.0 L452.3,2070.7 L453.7,2068.3 L455.2,2065.9 L456.7,2063.5 L458.1,2061.0 L459.6,2058.5 L461.1,2055.9 L462.5,2053.3 L464.0,2050.6 L465.4,2047.8 L466.9,2045.1 L468.4,2042.3 L469.8,2039.4 L471.3,2036.5 L472.8,2033.5 L474.2,2030.5 L475.7,2027.4 L477.2,2024.3 L478.6,2021.2 L480.1,2018.0 L481.5,2014.7 L483.0,2011.5 L484.5,2008.2 L485.9,2004.8 L487.4,2001.4 L488.9,1998.0 L490.3,1994.5 L491.8,1991.1 L493.2,1987.6 L494.7,1984.0 L496.2,1980.5 L497.6,1976.9 L499.1,1973.4 L500.6,1969.8 L502.0,1966.2 L503.5,1962.7 L505.0,1959.1 L506.4,1955.6 L507.9,1952.0 L509.3,1948.5 L510.8,1945.1 L512.3,1941.7 L513.7,1938.3 L515.2,1935.0 L516.7,1931.7 L518.1,1928.6 L519.6,1925.5 L521.0,1922.4 L522.5,1919.5 L524.0,1916.7 L525.4,1914.0 L526.9,1911.4 L528.4,1908.9 L529.8,1906.6 L531.3,1904.4 L532.7,1902.4 L534.2,1900.5 L535.7,1898.7 L537.1,1897.2 L538.6,1895.8 L540.1,1894.5 L541.5,1893.5 L543.0,1892.6 L544.5,1892.0 L545.9,1891.5 L547.4,1891.2 L548.8,1891.1 L550.3,1891.2 L551.8,1891.4 L553.2,1891.7 L554.7,1892.1 L556.2,1892.7 L557.6,1893.4 L559.1,1894.2 L560.5,1895.1 L562.0,1896.2 L563.5,1897.4 L564.9,1898.7 L566.4,1900.0 L567.9,1901.5 L569.3,1903.2 L570.8,1904.9 L572.2,1906.7 L573.7,1908.6 L575.2,1910.5 L576.6,1912.6 L578.1,1914.8 L579.6,1917.0 L581.0,1919.3 L582.5,1921.6 L584.0,1924.1 L585.4,1926.6 L586.9,1929.1 L588.3,1931.7 L589.8,1934.3 L591.3,1937.0 L592.7,1939.7 L594.2,1942.5 L595.7,1945.3 L597.1,1948.1 L598.6,1950.9 L600.0,1953.8 L601.5,1956.7 L603.0,1959.6 L604.4,1962.5 L605.9,1965.4 L607.4,1968.3 L608.8,1971.2 L610.3,1974.1 L611.8,1977.0 L613.2,1979.9 L614.7,1982.8 L616.1,1985.6 L617.6,1988.5 L619.1,1991.4 L620.5,1994.2 L622.0,1997.0 L623.5,1999.8 L624.9,2002.6 L626.4,2005.3 L627.8,2008.1 L629.3,2010.8 L630.8,2013.4 L632.2,2016.1 L633.7,2018.7 L635.2,2021.3 L636.6,2023.9 L638.1,2026.4 L639.5,2028.9 L641.0,2031.4 L642.5,2033.8 L643.9,2036.3 L645.4,2038.6 L646.9,2041.0 L648.3,2043.3 L649.8,2045.6 L651.3,2047.8 L652.7,2050.1 L654.2,2052.3 L655.6,2054.4 L657.1,2056.5 L658.6,2058.6 L660.0,2060.7 L661.5,2062.7 L663.0,2064.7 L664.4,2066.7 L665.9,2068.7 L667.3,2070.6 L668.8,2072.4 L670.3,2074.3 L671.7,2076.1 L673.2,2077.9 L674.7,2079.7 L676.1,2081.4 L677.6,2083.1 L679.0,2084.8 L680.5,2086.4 L682.0,2088.1 L683.4,2089.7 L684.9,2091.2 L686.4,2092.8 L687.8,2094.3 L689.3,2095.8 L690.8,2097.2 L692.2,2098.7 L693.7,2100.1 L695.1,2101.5 L696.6,2102.9 L698.1,2104.2 L699.5,2105.5 L701.0,2106.9 L702.5,2108.1 L703.9,2109.4 L705.4,2110.6 L706.8,2111.9 L708.3,2113.1 L709.8,2114.2 L711.2,2115.4 L712.7,2116.5 L714.2,2117.7 L715.6,2118.8 L717.1,2119.8 L718.5,2120.9 L720.0,2122.0 L721.5,2123.0 L722.9,2124.0 L724.4,2125.0 L725.9,2126.0 L727.3,2127.0 L728.8,2127.9 L730.3,2128.8 L731.7,2129.8 L733.2,2130.7 L734.6,2131.5 L736.1,2132.4 L737.6,2133.3 L739.0,2134.1 L740.5,2135.0 L742.0,2135.8 L743.4,2136.6 L744.9,2137.4 L746.3,2138.2 L747.8,2138.9 L749.3,2139.7 L750.7,2140.4 L752.2,2141.2 L753.7,2141.9 L755.1,2142.6 L756.6,2143.3 L758.0,2144.0 L759.5,2144.7 L761.0,2145.3 L762.4,2146.0 L763.9,2146.7 L765.4,2147.3 L766.8,2147.9 L768.3,2148.5 L769.8,2149.1 L771.2,2149.7 L772.7,2150.3 L774.1,2150.9 L775.6,2151.5 L777.1,2152.1 L778.5,2152.6 L780.0,2153.2 L781.5,2153.7 L782.9,2154.2 L784.4,2154.8 L785.8,2155.3 L787.3,2155.8 L788.8,2156.3 L790.2,2156.8 L791.7,2157.3 L793.2,2157.7 L794.6,2158.2 L796.1,2158.7 L797.6,2159.2 L799.0,2159.6 L800.5,2160.1 L801.9,2160.5 L803.4,2160.9 L804.9,2161.4 L806.3,2161.8 L807.8,2162.2 L809.3,2162.6 L810.7,2163.0 L812.2,2163.4 L813.6,2163.8 L815.1,2164.2 L816.6,2164.6 L818.0,2165.0 L819.5,2165.3 L821.0,2165.7 L822.4,2166.1 L823.9,2166.4 L825.3,2166.8 L826.8,2167.1 L828.3,2167.5 L829.7,2167.8 L831.2,2168.2 L832.7,2168.5 L834.1,2168.8 L835.6,2169.1 L837.1,2169.5 L838.5,2169.8 L840.0,2170.1 L841.4,2170.4 L842.9,2170.7 L844.4,2171.0 L845.8,2171.3 L847.3,2171.6 L848.8,2171.9 L850.2,2172.1 L851.7,2172.4 L853.1,2172.7 L854.6,2173.0 L856.1,2173.2 L857.5,2173.5 L859.0,2173.8 L860.5,2174.0 L861.9,2174.3 L863.4,2174.6 L864.8,2174.8 L866.3,2175.1 L867.8,2175.3 L869.2,2175.5 L870.7,2175.8 L872.2,2176.0 L873.6,2176.2 L875.1,2176.5 L876.6,2176.7 L878.0,2176.9 L879.5,2177.2 L880.9,2177.4 L882.4,2177.6 L883.9,2177.8 L885.3,2178.0 L886.8,2178.2 L888.3,2178.4 L889.7,2178.6 L891.2,2178.8 L892.6,2179.1 L894.1,2179.2 L895.6,2179.4 L897.0,2179.6 L898.5,2179.8 L900.0,2180.0 L901.4,2180.2 L902.9,2180.4 L904.4,2180.6 L905.8,2180.8 L907.3,2180.9 L908.7,2181.1 L910.2,2181.3 L911.7,2181.5 L913.1,2181.6 L914.6,2181.8 L916.1,2182.0 L917.5,2182.1 L919.0,2182.3 L920.4,2182.5 L921.9,2182.6 L923.4,2182.8 L924.8,2182.9 L926.3,2183.1 L927.8,2183.3 L929.2,2183.4 L930.7,2183.6 L932.1,2183.7 L933.6,2183.9 L935.1,2184.0 L936.5,2184.2 L938.0,2184.3 L939.5,2184.4 L940.9,2184.6 L942.4,2184.7 L943.9,2184.9 L945.3,2185.0 L946.8,2185.1 L948.2,2185.3 L949.7,2185.4 L951.2,2185.5 L952.6,2185.7 L954.1,2185.8 L955.6,2185.9 L957.0,2186.0 L958.5,2186.2 L959.9,2186.3 L961.4,2186.4 L962.9,2186.5 L964.3,2186.6 L965.8,2186.8 L967.3,2186.9 L968.7,2187.0 L970.2,2187.1 L971.6,2187.2 L973.1,2187.3 L974.6,2187.5 L976.0,2187.6 L977.5,2187.7" fill="none" stroke="#000" stroke-width="3.5" stroke-linejoin="round" clip-path="url(#clipe)"/>
<path d="M246.0,2193.1 L247.5,2193.0 L248.9,2193.0 L250.4,2192.9 L251.9,2192.8 L253.3,2192.7 L254.8,2192.6 L256.2,2192.5 L257.7,2192.5 L259.2,2192.4 L260.6,2192.3 L262.1,2192.2 L263.6,2192.1 L265.0,2192.0 L266.5,2191.9 L267.9,2191.8 L269.4,2191.7 L270.9,2191.6 L272.3,2191.5 L273.8,2191.4 L275.3,2191.3 L276.7,2191.2 L278.2,2191.1 L279.6,2191.0 L281.1,2190.9 L282.6,2190.8 L284.0,2190.7 L285.5,2190.6 L287.0,2190.5 L288.4,2190.4 L289.9,2190.3 L291.4,2190.2 L292.8,2190.1 L294.3,2189.9 L295.7,2189.8 L297.2,2189.7 L298.7,2189.6 L300.1,2189.5 L301.6,2189.3 L303.1,2189.2 L304.5,2189.1 L306.0,2189.0 L307.4,2188.8 L308.9,2188.7 L310.4,2188.6 L311.8,2188.5 L313.3,2188.3 L314.8,2188.2 L316.2,2188.1 L317.7,2187.9 L319.1,2187.8 L320.6,2187.6 L322.1,2187.5 L323.5,2187.3 L325.0,2187.2 L326.5,2187.0 L327.9,2186.9 L329.4,2186.7 L330.9,2186.6 L332.3,2186.4 L333.8,2186.3 L335.2,2186.1 L336.7,2185.9 L338.2,2185.8 L339.6,2185.6 L341.1,2185.4 L342.6,2185.3 L344.0,2185.1 L345.5,2184.9 L346.9,2184.7 L348.4,2184.6 L349.9,2184.4 L351.3,2184.2 L352.8,2184.0 L354.3,2183.8 L355.7,2183.6 L357.2,2183.4 L358.7,2183.2 L360.1,2183.0 L361.6,2182.8 L363.0,2182.6 L364.5,2182.4 L366.0,2182.2 L367.4,2182.0 L368.9,2181.8 L370.4,2181.5 L371.8,2181.3 L373.3,2181.1 L374.7,2180.8 L376.2,2180.6 L377.7,2180.4 L379.1,2180.1 L380.6,2179.9 L382.1,2179.6 L383.5,2179.4 L385.0,2179.1 L386.4,2178.9 L387.9,2178.6 L389.4,2178.3 L390.8,2178.1 L392.3,2177.8 L393.8,2177.5 L395.2,2177.2 L396.7,2176.9 L398.2,2176.6 L399.6,2176.3 L401.1,2176.0 L402.5,2175.7 L404.0,2175.4 L405.5,2175.1 L406.9,2174.8 L408.4,2174.5 L409.9,2174.1 L411.3,2173.8 L412.8,2173.4 L414.2,2173.1 L415.7,2172.7 L417.2,2172.4 L418.6,2172.0 L420.1,2171.6 L421.6,2171.3 L423.0,2170.9 L424.5,2170.5 L425.9,2170.1 L427.4,2169.7 L428.9,2169.3 L430.3,2168.9 L431.8,2168.4 L433.3,2168.0 L434.7,2167.6 L436.2,2167.1 L437.7,2166.7 L439.1,2166.2 L440.6,2165.7 L442.0,2165.3 L443.5,2164.8 L445.0,2164.3 L446.4,2163.8 L447.9,2163.3 L449.4,2162.7 L450.8,2162.2 L452.3,2161.7 L453.7,2161.1 L455.2,2160.6 L456.7,2160.0 L458.1,2159.4 L459.6,2158.8 L461.1,2158.2 L462.5,2157.6 L464.0,2157.0 L465.4,2156.3 L466.9,2155.7 L468.4,2155.0 L469.8,2154.3 L471.3,2153.7 L472.8,2153.0 L474.2,2152.3 L475.7,2151.5 L477.2,2150.8 L478.6,2150.0 L480.1,2149.3 L481.5,2148.5 L483.0,2147.7 L484.5,2146.9 L485.9,2146.0 L487.4,2145.2 L488.9,2144.3 L490.3,2143.4 L491.8,2142.5 L493.2,2141.6 L494.7,2140.7 L496.2,2139.7 L497.6,2138.8 L499.1,2137.8 L500.6,2136.7 L502.0,2135.7 L503.5,2134.7 L505.0,2133.6 L506.4,2132.5 L507.9,2131.4 L509.3,2130.2 L510.8,2129.0 L512.3,2127.8 L513.7,2126.6 L515.2,2125.4 L516.7,2124.1 L518.1,2122.8 L519.6,2121.5 L521.0,2120.1 L522.5,2118.8 L524.0,2117.4 L525.4,2115.9 L526.9,2114.5 L528.4,2113.0 L529.8,2111.4 L531.3,2109.9 L532.7,2108.3 L534.2,2106.6 L535.7,2105.0 L537.1,2103.3 L538.6,2101.6 L540.1,2099.8 L541.5,2098.0 L543.0,2096.2 L544.5,2094.3 L545.9,2092.4 L547.4,2090.4 L548.8,2088.4 L550.3,2086.4 L551.8,2084.3 L553.2,2082.2 L554.7,2080.0 L556.2,2077.9 L557.6,2075.6 L559.1,2073.3 L560.5,2071.0 L562.0,2068.7 L563.5,2066.2 L564.9,2063.8 L566.4,2061.3 L567.9,2058.8 L569.3,2056.2 L570.8,2053.6 L572.2,2050.9 L573.7,2048.2 L575.2,2045.5 L576.6,2042.7 L578.1,2039.9 L579.6,2037.0 L581.0,2034.1 L582.5,2031.2 L584.0,2028.3 L585.4,2025.3 L586.9,2022.2 L588.3,2019.2 L589.8,2016.1 L591.3,2013.0 L592.7,2009.9 L594.2,2006.8 L595.7,2003.7 L597.1,2000.5 L598.6,1997.4 L600.0,1994.2 L601.5,1991.1 L603.0,1987.9 L604.4,1984.8 L605.9,1981.7 L607.4,1978.6 L608.8,1975.6 L610.3,1972.5 L611.8,1969.6 L613.2,1966.6 L614.7,1963.8 L616.1,1961.0 L617.6,1958.2 L619.1,1955.6 L620.5,1953.0 L622.0,1950.5 L623.5,1948.1 L624.9,1945.8 L626.4,1943.6 L627.8,1941.6 L629.3,1939.6 L630.8,1937.8 L632.2,1936.2 L633.7,1934.6 L635.2,1933.2 L636.6,1932.0 L638.1,1930.9 L639.5,1930.0 L641.0,1929.3 L642.5,1928.7 L643.9,1928.2 L645.4,1928.0 L646.9,1927.9 L648.3,1928.0 L649.8,1928.2 L651.3,1928.5 L652.7,1928.9 L654.2,1929.5 L655.6,1930.2 L657.1,1931.0 L658.6,1931.9 L660.0,1933.0 L661.5,1934.1 L663.0,1935.4 L664.4,1936.8 L665.9,1938.2 L667.3,1939.8 L668.8,1941.5 L670.3,1943.3 L671.7,1945.1 L673.2,1947.1 L674.7,1949.1 L676.1,1951.2 L677.6,1953.3 L679.0,1955.6 L680.5,1957.9 L682.0,1960.2 L683.4,1962.6 L684.9,1965.1 L686.4,1967.6 L687.8,1970.1 L689.3,1972.7 L690.8,1975.3 L692.2,1977.9 L693.7,1980.6 L695.1,1983.2 L696.6,1985.9 L698.1,1988.6 L699.5,1991.3 L701.0,1994.1 L702.5,1996.8 L703.9,1999.5 L705.4,2002.2 L706.8,2004.9 L708.3,2007.7 L709.8,2010.4 L711.2,2013.0 L712.7,2015.7 L714.2,2018.4 L715.6,2021.0 L717.1,2023.6 L718.5,2026.2 L720.0,2028.8 L721.5,2031.3 L722.9,2033.9 L724.4,2036.4 L725.9,2038.9 L727.3,2041.3 L728.8,2043.7 L730.3,2046.1 L731.7,2048.5 L733.2,2050.8 L734.6,2053.1 L736.1,2055.4 L737.6,2057.6 L739.0,2059.8 L740.5,2062.0 L742.0,2064.1 L743.4,2066.2 L744.9,2068.3 L746.3,2070.4 L747.8,2072.4 L749.3,2074.4 L750.7,2076.3 L752.2,2078.3 L753.7,2080.1 L755.1,2082.0 L756.6,2083.8 L758.0,2085.6 L759.5,2087.4 L761.0,2089.1 L762.4,2090.9 L763.9,2092.5 L765.4,2094.2 L766.8,2095.8 L768.3,2097.4 L769.8,2099.0 L771.2,2100.5 L772.7,2102.0 L774.1,2103.5 L775.6,2105.0 L777.1,2106.4 L778.5,2107.8 L780.0,2109.2 L781.5,2110.6 L782.9,2111.9 L784.4,2113.2 L785.8,2114.5 L787.3,2115.8 L788.8,2117.0 L790.2,2118.3 L791.7,2119.5 L793.2,2120.6 L794.6,2121.8 L796.1,2122.9 L797.6,2124.1 L799.0,2125.2 L800.5,2126.2 L801.9,2127.3 L803.4,2128.3 L804.9,2129.4 L806.3,2130.4 L807.8,2131.4 L809.3,2132.3 L810.7,2133.3 L812.2,2134.2 L813.6,2135.1 L815.1,2136.0 L816.6,2136.9 L818.0,2137.8 L819.5,2138.7 L821.0,2139.5 L822.4,2140.3 L823.9,2141.2 L825.3,2142.0 L826.8,2142.7 L828.3,2143.5 L829.7,2144.3 L831.2,2145.0 L832.7,2145.8 L834.1,2146.5 L835.6,2147.2 L837.1,2147.9 L838.5,2148.6 L840.0,2149.3 L841.4,2149.9 L842.9,2150.6 L844.4,2151.2 L845.8,2151.9 L847.3,2152.5 L848.8,2153.1 L850.2,2153.7 L851.7,2154.3 L853.1,2154.9 L854.6,2155.4 L856.1,2156.0 L857.5,2156.6 L859.0,2157.1 L860.5,2157.6 L861.9,2158.2 L863.4,2158.7 L864.8,2159.2 L866.3,2159.7 L867.8,2160.2 L869.2,2160.7 L870.7,2161.2 L872.2,2161.7 L873.6,2162.1 L875.1,2162.6 L876.6,2163.0 L878.0,2163.5 L879.5,2163.9 L880.9,2164.4 L882.4,2164.8 L883.9,2165.2 L885.3,2165.6 L886.8,2166.0 L888.3,2166.4 L889.7,2166.8 L891.2,2167.2 L892.6,2167.6 L894.1,2168.0 L895.6,2168.4 L897.0,2168.7 L898.5,2169.1 L900.0,2169.4 L901.4,2169.8 L902.9,2170.1 L904.4,2170.5 L905.8,2170.8 L907.3,2171.2 L908.7,2171.5 L910.2,2171.8 L911.7,2172.1 L913.1,2172.4 L914.6,2172.8 L916.1,2173.1 L917.5,2173.4 L919.0,2173.7 L920.4,2174.0 L921.9,2174.2 L923.4,2174.5 L924.8,2174.8 L926.3,2175.1 L927.8,2175.4 L929.2,2175.6 L930.7,2175.9 L932.1,2176.2 L933.6,2176.4 L935.1,2176.7 L936.5,2176.9 L938.0,2177.2 L939.5,2177.4 L940.9,2177.7 L942.4,2177.9 L943.9,2178.1 L945.3,2178.4 L946.8,2178.6 L948.2,2178.8 L949.7,2179.1 L951.2,2179.3 L952.6,2179.5 L954.1,2179.7 L955.6,2179.9 L957.0,2180.2 L958.5,2180.4 L959.9,2180.6 L961.4,2180.8 L962.9,2181.0 L964.3,2181.2 L965.8,2181.4 L967.3,2181.6 L968.7,2181.8 L970.2,2181.9 L971.6,2182.1 L973.1,2182.3 L974.6,2182.5 L976.0,2182.7 L977.5,2182.9" fill="none" stroke="#000" stroke-width="3.5" stroke-linejoin="round" clip-path="url(#clipe)"/>
<path d="M245.0,2201.7 L259.0,2200.5 L291.8,2184.2 L333.9,2165.4 L362.0,2142.0 L385.4,2118.6 L408.8,2088.2 L432.2,2048.4 L451.0,2011.0 L467.4,1975.8 L490.8,1924.4 L502.5,1903.3 L523.5,1851.8 L539.9,1812.0 L549.3,1795.6 L568.0,1772.2 L582.0,1752.3 L596.1,1752.3 L612.0,1765.2 L625.0,1774.6 L639.1,1800.3 L657.8,1833.1 L676.5,1875.2 L692.9,1912.6 L709.3,1954.8 L728.0,1994.6 L746.8,2032.0 L763.1,2060.1 L779.5,2081.2 L798.2,2111.6 L828.7,2144.4 L847.4,2152.6 L868.5,2167.8 L891.9,2179.5 L927.0,2188.8 L978.0,2200.5" fill="none" stroke="#FF3A2D" stroke-width="8" stroke-linejoin="round" clip-path="url(#clipe)"/>
<path d="M245.0,2174.8 L247.0,2174.2 L249.6,2173.5 L252.7,2172.6 L256.1,2171.6 L259.9,2170.5 L264.1,2169.3 L268.5,2168.0 L273.1,2166.6 L278.2,2165.1 L284.0,2163.4 L290.3,2161.6 L296.8,2159.7 L303.2,2157.8 L309.4,2156.0 L315.0,2154.2 L319.9,2152.6 L323.8,2151.2 L327.0,2150.0 L329.6,2148.9 L331.9,2147.9 L334.2,2146.8 L336.7,2145.5 L339.6,2143.9 L343.3,2142.0 L347.8,2139.7 L353.1,2137.0 L358.8,2134.0 L364.7,2130.8 L370.5,2127.6 L376.1,2124.4 L381.2,2121.4 L385.4,2118.6 L388.8,2116.2 L391.4,2114.0 L393.6,2112.1 L395.4,2110.1 L397.1,2108.1 L399.0,2105.8 L401.3,2103.1 L404.2,2099.9 L407.7,2096.0 L411.9,2091.5 L416.3,2086.6 L421.0,2081.5 L425.6,2076.3 L429.9,2071.3 L433.7,2066.6 L436.9,2062.4 L439.3,2059.0 L441.1,2056.0 L442.3,2053.5 L443.4,2051.0 L444.3,2048.6 L445.4,2045.9 L446.7,2042.8 L448.6,2039.0 L451.1,2034.6 L454.0,2029.4 L457.3,2023.9 L460.6,2018.1 L463.9,2012.3 L467.1,2006.7 L469.8,2001.5 L472.0,1996.9 L473.6,1993.0 L474.7,1989.8 L475.4,1986.9 L475.8,1984.2 L476.3,1981.5 L476.9,1978.5 L477.7,1975.2 L479.1,1971.2 L480.9,1966.4 L483.2,1961.0 L485.8,1955.1 L488.6,1949.1 L491.3,1943.0 L493.8,1937.1 L496.0,1931.6 L497.8,1926.7 L498.9,1922.5 L499.6,1918.9 L499.9,1915.7 L500.1,1912.6 L500.3,1909.6 L500.6,1906.4 L501.3,1902.8 L502.5,1898.6 L504.2,1893.7 L506.5,1888.2 L509.1,1882.3 L511.8,1876.2 L514.6,1870.2 L517.2,1864.3 L519.4,1858.9 L521.2,1854.1 L522.3,1850.1 L523.0,1846.8 L523.2,1843.9 L523.4,1841.3 L523.5,1838.6 L523.9,1835.7 L524.6,1832.4 L525.9,1828.4 L527.7,1823.5 L530.1,1817.9 L532.7,1811.9 L535.6,1805.6 L538.6,1799.4 L541.5,1793.5 L544.4,1788.3 L546.9,1783.9 L549.3,1780.4 L551.7,1777.5 L554.0,1775.0 L556.2,1773.0 L558.4,1771.3 L560.5,1769.9 L562.5,1768.7 L564.5,1767.5 L566.2,1766.6 L567.5,1766.0 L568.7,1765.7 L569.9,1765.6 L571.2,1765.6 L572.8,1765.8 L574.8,1766.1 L577.4,1766.4 L580.6,1766.7 L584.5,1767.1 L588.9,1767.7 L593.5,1768.3 L598.2,1769.1 L602.8,1770.0 L607.1,1771.0 L611.0,1772.2 L614.4,1773.4 L617.5,1774.5 L620.3,1775.6 L623.0,1777.0 L625.7,1778.6 L628.5,1780.6 L631.3,1783.1 L634.4,1786.3 L637.8,1790.2 L641.4,1794.9 L645.1,1800.2 L648.9,1805.9 L652.6,1811.7 L656.2,1817.5 L659.5,1823.2 L662.5,1828.4 L665.1,1833.1 L667.3,1837.3 L669.3,1841.3 L671.1,1845.4 L672.9,1849.6 L674.7,1854.3 L676.7,1859.6 L678.9,1865.8 L681.3,1873.2 L683.9,1881.6 L686.6,1890.8 L689.4,1900.4 L692.2,1910.0 L694.9,1919.4 L697.5,1928.2 L699.9,1936.1 L702.2,1943.0 L704.3,1949.3 L706.2,1955.1 L708.1,1960.6 L710.0,1966.0 L712.0,1971.4 L714.1,1977.0 L716.3,1982.9 L718.8,1989.3 L721.4,1996.0 L724.2,2003.0 L727.0,2009.9 L729.8,2016.7 L732.5,2023.2 L735.1,2029.1 L737.4,2034.4 L739.4,2038.7 L741.1,2042.3 L742.6,2045.4 L744.0,2048.1 L745.4,2050.7 L747.1,2053.4 L749.1,2056.5 L751.4,2060.1 L754.3,2064.4 L757.6,2069.1 L761.2,2074.1 L765.0,2079.3 L768.9,2084.4 L772.7,2089.2 L776.2,2093.7 L779.5,2097.6 L782.4,2100.7 L784.8,2103.4 L787.1,2105.6 L789.3,2107.6 L791.6,2109.6 L794.2,2111.5 L797.1,2113.7 L800.6,2116.3 L804.8,2119.3 L809.5,2122.6 L814.8,2126.1 L820.2,2129.7 L825.7,2133.3 L831.0,2136.6 L835.9,2139.5 L840.4,2142.0 L844.1,2143.9 L847.4,2145.4 L850.2,2146.5 L853.0,2147.4 L855.7,2148.3 L858.7,2149.1 L862.1,2150.1 L866.1,2151.4 L870.9,2153.0 L876.3,2154.7 L882.1,2156.6 L888.2,2158.6 L894.3,2160.5 L900.2,2162.3 L905.7,2164.0 L910.6,2165.4 L914.8,2166.7 L918.5,2167.7 L921.8,2168.6 L925.0,2169.5 L928.0,2170.2 L931.2,2170.9 L934.7,2171.7 L938.7,2172.5 L943.3,2173.3 L948.6,2174.1 L954.3,2175.0 L960.1,2175.8 L965.6,2176.6 L970.7,2177.3 L974.9,2177.9 L978.0,2178.3" fill="none" stroke="#000" stroke-width="9" stroke-linejoin="round" stroke-dasharray="50,25" clip-path="url(#clipe)"/>
<line x1="723.8" y1="1736.2" x2="805.0" y2="1736.2" stroke="#FF3A2D" stroke-width="8.3"/>
<line x1="723.8" y1="1787.3" x2="805.0" y2="1787.3" stroke="#000" stroke-width="8.3" stroke-dasharray="50,25"/>
<text x="824.3" y="1749.3" font-size="37.27" text-anchor="start">C2</text>
<text x="823.2" y="1801.0" font-size="37.27" text-anchor="start">Fit Sum</text>
<text x="250.4" y="1770.4" font-size="67.60" text-anchor="start">O1s</text>
<text x="25.1" y="1629.0" font-size="87.00" text-anchor="start">e)</text>
<text x="471.6" y="1656.3" font-size="49.27" text-anchor="start">C−O</text>
<text x="596.8" y="1656.3" font-size="49.27" text-anchor="start">C=O</text>
<clipPath id="clipf"><rect x="1307.6" y="1687.0" width="733.4" height="518.1"/></clipPath>
<rect x="1307.6" y="1687.0" width="733.4" height="518.1" fill="none" stroke="#8c8c8c" stroke-width="1.8"/>
<line x1="1307.6" y1="2197.1" x2="1307.6" y2="2205.1" stroke="#707070" stroke-width="1.8"/>
<text x="1308.1" y="2246.3" font-size="37.00" text-anchor="middle">290</text>
<line x1="1399.3" y1="2201.1" x2="1399.3" y2="2205.1" stroke="#707070" stroke-width="1.8"/>
<line x1="1490.9" y1="2197.1" x2="1490.9" y2="2205.1" stroke="#707070" stroke-width="1.8"/>
<text x="1491.4" y="2246.3" font-size="37.00" text-anchor="middle">288</text>
<line x1="1582.6" y1="2201.1" x2="1582.6" y2="2205.1" stroke="#707070" stroke-width="1.8"/>
<line x1="1674.3" y1="2197.1" x2="1674.3" y2="2205.1" stroke="#707070" stroke-width="1.8"/>
<text x="1674.8" y="2246.3" font-size="37.00" text-anchor="middle">286</text>
<line x1="1766.0" y1="2201.1" x2="1766.0" y2="2205.1" stroke="#707070" stroke-width="1.8"/>
<line x1="1857.7" y1="2197.1" x2="1857.7" y2="2205.1" stroke="#707070" stroke-width="1.8"/>
<text x="1858.2" y="2246.3" font-size="37.00" text-anchor="middle">284</text>
<line x1="1949.3" y1="2201.1" x2="1949.3" y2="2205.1" stroke="#707070" stroke-width="1.8"/>
<line x1="2041.0" y1="2197.1" x2="2041.0" y2="2205.1" stroke="#707070" stroke-width="1.8"/>
<text x="2041.5" y="2246.3" font-size="37.00" text-anchor="middle">282</text>
<line x1="1307.6" y1="2205.1" x2="1315.6" y2="2205.1" stroke="#707070" stroke-width="1.8"/>
<text x="1291.8" y="2220.9" font-size="37" text-anchor="end">0.0×10<tspan font-size="24.5" dy="-13.8">0</tspan></text>
<line x1="1307.6" y1="2147.5" x2="1311.6" y2="2147.5" stroke="#707070" stroke-width="1.8"/>
<line x1="1307.6" y1="2089.9" x2="1315.6" y2="2089.9" stroke="#707070" stroke-width="1.8"/>
<text x="1291.8" y="2105.7" font-size="37" text-anchor="end">5.0×10<tspan font-size="24.5" dy="-13.8">3</tspan></text>
<line x1="1307.6" y1="2032.3" x2="1311.6" y2="2032.3" stroke="#707070" stroke-width="1.8"/>
<line x1="1307.6" y1="1974.7" x2="1315.6" y2="1974.7" stroke="#707070" stroke-width="1.8"/>
<text x="1291.8" y="1990.5" font-size="37" text-anchor="end">1.0×10<tspan font-size="24.5" dy="-13.8">4</tspan></text>
<line x1="1307.6" y1="1917.1" x2="1311.6" y2="1917.1" stroke="#707070" stroke-width="1.8"/>
<line x1="1307.6" y1="1859.5" x2="1315.6" y2="1859.5" stroke="#707070" stroke-width="1.8"/>
<text x="1291.8" y="1875.3" font-size="37" text-anchor="end">1.5×10<tspan font-size="24.5" dy="-13.8">4</tspan></text>
<line x1="1307.6" y1="1801.9" x2="1311.6" y2="1801.9" stroke="#707070" stroke-width="1.8"/>
<line x1="1307.6" y1="1744.3" x2="1315.6" y2="1744.3" stroke="#707070" stroke-width="1.8"/>
<text x="1291.8" y="1760.1" font-size="37" text-anchor="end">2.0×10<tspan font-size="24.5" dy="-13.8">4</tspan></text>
<line x1="1307.6" y1="1686.7" x2="1311.6" y2="1686.7" stroke="#707070" stroke-width="1.8"/>
<text x="1508.1" y="2292.9" font-size="36.97" text-anchor="start">Binding Energy (eV)</text>
<text x="0" y="0" font-size="36.5" text-anchor="middle" transform="translate(1155.3,1946.0) rotate(-90)">Intensity (CPS)</text>
<line x1="1460.4" y1="1687.0" x2="1460.4" y2="2205.1" stroke="#000" stroke-width="2" stroke-dasharray="3.8,3.8"/>
<line x1="1575.2" y1="1687.0" x2="1575.2" y2="2205.1" stroke="#000" stroke-width="2" stroke-dasharray="3.8,3.8"/>
<line x1="1614.2" y1="1687.0" x2="1614.2" y2="2205.1" stroke="#000" stroke-width="2" stroke-dasharray="3.8,3.8"/>
<line x1="1768.1" y1="1687.0" x2="1768.1" y2="2205.1" stroke="#000" stroke-width="2" stroke-dasharray="3.8,3.8"/>
<line x1="1813.3" y1="1687.0" x2="1813.3" y2="2205.1" stroke="#000" stroke-width="2" stroke-dasharray="3.8,3.8"/>
<path d="M1307.6,2182.5 L1309.1,2182.2 L1310.5,2181.9 L1312.0,2181.7 L1313.5,2181.4 L1314.9,2181.1 L1316.4,2180.9 L1317.9,2180.6 L1319.3,2180.3 L1320.8,2180.0 L1322.3,2179.7 L1323.7,2179.4 L1325.2,2179.1 L1326.7,2178.8 L1328.1,2178.5 L1329.6,2178.2 L1331.1,2177.9 L1332.5,2177.6 L1334.0,2177.3 L1335.5,2177.0 L1336.9,2176.7 L1338.4,2176.3 L1339.9,2176.0 L1341.3,2175.7 L1342.8,2175.3 L1344.3,2175.0 L1345.7,2174.7 L1347.2,2174.3 L1348.7,2174.0 L1350.1,2173.6 L1351.6,2173.2 L1353.1,2172.9 L1354.5,2172.5 L1356.0,2172.2 L1357.5,2171.8 L1358.9,2171.4 L1360.4,2171.0 L1361.9,2170.7 L1363.3,2170.3 L1364.8,2169.9 L1366.3,2169.5 L1367.7,2169.1 L1369.2,2168.7 L1370.7,2168.3 L1372.1,2167.9 L1373.6,2167.5 L1375.1,2167.1 L1376.5,2166.7 L1378.0,2166.3 L1379.5,2165.9 L1380.9,2165.5 L1382.4,2165.1 L1383.9,2164.7 L1385.3,2164.3 L1386.8,2163.9 L1388.3,2163.5 L1389.7,2163.1 L1391.2,2162.7 L1392.7,2162.3 L1394.1,2161.9 L1395.6,2161.5 L1397.1,2161.1 L1398.5,2160.7 L1400.0,2160.3 L1401.5,2159.9 L1402.9,2159.5 L1404.4,2159.2 L1405.9,2158.8 L1407.3,2158.4 L1408.8,2158.0 L1410.3,2157.7 L1411.7,2157.3 L1413.2,2157.0 L1414.7,2156.6 L1416.1,2156.3 L1417.6,2155.9 L1419.1,2155.6 L1420.5,2155.3 L1422.0,2155.0 L1423.5,2154.6 L1424.9,2154.3 L1426.4,2154.1 L1427.9,2153.8 L1429.3,2153.5 L1430.8,2153.3 L1432.3,2153.0 L1433.7,2152.8 L1435.2,2152.5 L1436.7,2152.3 L1438.1,2152.1 L1439.6,2151.9 L1441.1,2151.7 L1442.5,2151.6 L1444.0,2151.4 L1445.5,2151.3 L1446.9,2151.1 L1448.4,2151.0 L1449.9,2150.9 L1451.3,2150.8 L1452.8,2150.8 L1454.3,2150.7 L1455.7,2150.7 L1457.2,2150.6 L1458.7,2150.6 L1460.1,2150.6 L1461.6,2150.6 L1463.1,2150.6 L1464.5,2150.7 L1466.0,2150.7 L1467.5,2150.8 L1468.9,2150.9 L1470.4,2151.0 L1471.9,2151.1 L1473.3,2151.2 L1474.8,2151.3 L1476.3,2151.5 L1477.7,2151.7 L1479.2,2151.8 L1480.7,2152.0 L1482.1,2152.2 L1483.6,2152.4 L1485.1,2152.6 L1486.5,2152.9 L1488.0,2153.1 L1489.5,2153.4 L1490.9,2153.6 L1492.4,2153.9 L1493.9,2154.2 L1495.4,2154.5 L1496.8,2154.8 L1498.3,2155.1 L1499.8,2155.4 L1501.2,2155.8 L1502.7,2156.1 L1504.2,2156.4 L1505.6,2156.8 L1507.1,2157.1 L1508.6,2157.5 L1510.0,2157.8 L1511.5,2158.2 L1513.0,2158.6 L1514.4,2159.0 L1515.9,2159.4 L1517.4,2159.7 L1518.8,2160.1 L1520.3,2160.5 L1521.8,2160.9 L1523.2,2161.3 L1524.7,2161.7 L1526.2,2162.1 L1527.6,2162.5 L1529.1,2162.9 L1530.6,2163.3 L1532.0,2163.7 L1533.5,2164.1 L1535.0,2164.5 L1536.4,2164.9 L1537.9,2165.3 L1539.4,2165.7 L1540.8,2166.1 L1542.3,2166.5 L1543.8,2166.9 L1545.2,2167.3 L1546.7,2167.7 L1548.2,2168.1 L1549.6,2168.5 L1551.1,2168.9 L1552.6,2169.3 L1554.0,2169.7 L1555.5,2170.1 L1557.0,2170.5 L1558.4,2170.8 L1559.9,2171.2 L1561.4,2171.6 L1562.8,2172.0 L1564.3,2172.3 L1565.8,2172.7 L1567.2,2173.1 L1568.7,2173.4 L1570.2,2173.8 L1571.6,2174.1 L1573.1,2174.5 L1574.6,2174.8 L1576.0,2175.2 L1577.5,2175.5 L1579.0,2175.8 L1580.4,2176.2 L1581.9,2176.5 L1583.4,2176.8 L1584.8,2177.1 L1586.3,2177.5 L1587.8,2177.8 L1589.2,2178.1 L1590.7,2178.4 L1592.2,2178.7 L1593.6,2179.0 L1595.1,2179.3 L1596.6,2179.6 L1598.0,2179.9 L1599.5,2180.2 L1601.0,2180.4 L1602.4,2180.7 L1603.9,2181.0 L1605.4,2181.3 L1606.8,2181.5 L1608.3,2181.8 L1609.8,2182.1 L1611.2,2182.3 L1612.7,2182.6 L1614.2,2182.8 L1615.6,2183.1 L1617.1,2183.3 L1618.6,2183.6 L1620.0,2183.8 L1621.5,2184.0 L1623.0,2184.3 L1624.4,2184.5 L1625.9,2184.7 L1627.4,2185.0 L1628.8,2185.2 L1630.3,2185.4 L1631.8,2185.6 L1633.2,2185.8 L1634.7,2186.0 L1636.2,2186.2 L1637.6,2186.4 L1639.1,2186.6 L1640.6,2186.8 L1642.0,2187.0 L1643.5,2187.2 L1645.0,2187.4 L1646.4,2187.6 L1647.9,2187.8 L1649.4,2188.0 L1650.8,2188.2 L1652.3,2188.3 L1653.8,2188.5 L1655.2,2188.7 L1656.7,2188.9 L1658.2,2189.0 L1659.6,2189.2 L1661.1,2189.4 L1662.6,2189.5 L1664.0,2189.7 L1665.5,2189.8 L1667.0,2190.0 L1668.4,2190.1 L1669.9,2190.3 L1671.4,2190.4 L1672.8,2190.6 L1674.3,2190.7 L1675.8,2190.9 L1677.2,2191.0 L1678.7,2191.2 L1680.2,2191.3 L1681.6,2191.4 L1683.1,2191.6 L1684.6,2191.7 L1686.0,2191.8 L1687.5,2192.0 L1689.0,2192.1 L1690.4,2192.2 L1691.9,2192.3 L1693.4,2192.5 L1694.8,2192.6 L1696.3,2192.7 L1697.8,2192.8 L1699.2,2192.9 L1700.7,2193.1 L1702.2,2193.2 L1703.6,2193.3 L1705.1,2193.4 L1706.6,2193.5 L1708.0,2193.6 L1709.5,2193.7 L1711.0,2193.8 L1712.4,2193.9 L1713.9,2194.0 L1715.4,2194.1 L1716.8,2194.2 L1718.3,2194.3 L1719.8,2194.4 L1721.2,2194.5 L1722.7,2194.6 L1724.2,2194.7 L1725.6,2194.8 L1727.1,2194.9 L1728.6,2195.0 L1730.0,2195.1 L1731.5,2195.2 L1733.0,2195.2 L1734.4,2195.3 L1735.9,2195.4 L1737.4,2195.5 L1738.8,2195.6 L1740.3,2195.7 L1741.8,2195.7 L1743.2,2195.8 L1744.7,2195.9 L1746.2,2196.0 L1747.6,2196.1 L1749.1,2196.1 L1750.6,2196.2 L1752.0,2196.3 L1753.5,2196.4 L1755.0,2196.4 L1756.4,2196.5 L1757.9,2196.6 L1759.4,2196.7 L1760.8,2196.7 L1762.3,2196.8 L1763.8,2196.9 L1765.2,2196.9 L1766.7,2197.0 L1768.2,2197.1 L1769.6,2197.1 L1771.1,2197.2 L1772.6,2197.2 L1774.0,2197.3 L1775.5,2197.4 L1777.0,2197.4 L1778.4,2197.5 L1779.9,2197.6 L1781.4,2197.6 L1782.8,2197.7 L1784.3,2197.7 L1785.8,2197.8 L1787.2,2197.8 L1788.7,2197.9 L1790.2,2198.0 L1791.6,2198.0 L1793.1,2198.1 L1794.6,2198.1 L1796.0,2198.2 L1797.5,2198.2 L1799.0,2198.3 L1800.4,2198.3 L1801.9,2198.4 L1803.4,2198.4 L1804.8,2198.5 L1806.3,2198.5 L1807.8,2198.6 L1809.2,2198.6 L1810.7,2198.7 L1812.2,2198.7 L1813.6,2198.8 L1815.1,2198.8 L1816.6,2198.9 L1818.0,2198.9 L1819.5,2198.9 L1821.0,2199.0 L1822.4,2199.0 L1823.9,2199.1 L1825.4,2199.1 L1826.8,2199.2 L1828.3,2199.2 L1829.8,2199.2 L1831.2,2199.3 L1832.7,2199.3 L1834.2,2199.4 L1835.6,2199.4 L1837.1,2199.4 L1838.6,2199.5 L1840.0,2199.5 L1841.5,2199.6 L1843.0,2199.6 L1844.4,2199.6 L1845.9,2199.7 L1847.4,2199.7 L1848.8,2199.8 L1850.3,2199.8 L1851.8,2199.8 L1853.2,2199.9 L1854.7,2199.9 L1856.2,2199.9 L1857.7,2200.0 L1859.1,2200.0 L1860.6,2200.0 L1862.1,2200.1 L1863.5,2200.1 L1865.0,2200.1 L1866.5,2200.2 L1867.9,2200.2 L1869.4,2200.2 L1870.9,2200.3 L1872.3,2200.3 L1873.8,2200.3 L1875.3,2200.4 L1876.7,2200.4 L1878.2,2200.4 L1879.7,2200.4 L1881.1,2200.5 L1882.6,2200.5 L1884.1,2200.5 L1885.5,2200.6 L1887.0,2200.6 L1888.5,2200.6 L1889.9,2200.6 L1891.4,2200.7 L1892.9,2200.7 L1894.3,2200.7 L1895.8,2200.8 L1897.3,2200.8 L1898.7,2200.8 L1900.2,2200.8 L1901.7,2200.9 L1903.1,2200.9 L1904.6,2200.9 L1906.1,2200.9 L1907.5,2201.0 L1909.0,2201.0 L1910.5,2201.0 L1911.9,2201.0 L1913.4,2201.1 L1914.9,2201.1 L1916.3,2201.1 L1917.8,2201.1 L1919.3,2201.2 L1920.7,2201.2 L1922.2,2201.2 L1923.7,2201.2 L1925.1,2201.2 L1926.6,2201.3 L1928.1,2201.3 L1929.5,2201.3 L1931.0,2201.3 L1932.5,2201.4 L1933.9,2201.4 L1935.4,2201.4 L1936.9,2201.4 L1938.3,2201.4 L1939.8,2201.5 L1941.3,2201.5 L1942.7,2201.5 L1944.2,2201.5 L1945.7,2201.5 L1947.1,2201.6 L1948.6,2201.6 L1950.1,2201.6 L1951.5,2201.6 L1953.0,2201.6 L1954.5,2201.7 L1955.9,2201.7 L1957.4,2201.7 L1958.9,2201.7 L1960.3,2201.7 L1961.8,2201.8 L1963.3,2201.8 L1964.7,2201.8 L1966.2,2201.8 L1967.7,2201.8 L1969.1,2201.8 L1970.6,2201.9 L1972.1,2201.9 L1973.5,2201.9 L1975.0,2201.9 L1976.5,2201.9 L1977.9,2202.0 L1979.4,2202.0 L1980.9,2202.0 L1982.3,2202.0 L1983.8,2202.0 L1985.3,2202.0 L1986.7,2202.0 L1988.2,2202.1 L1989.7,2202.1 L1991.1,2202.1 L1992.6,2202.1 L1994.1,2202.1 L1995.5,2202.1 L1997.0,2202.2 L1998.5,2202.2 L1999.9,2202.2 L2001.4,2202.2 L2002.9,2202.2 L2004.3,2202.2 L2005.8,2202.2 L2007.3,2202.3 L2008.7,2202.3 L2010.2,2202.3 L2011.7,2202.3 L2013.1,2202.3 L2014.6,2202.3 L2016.1,2202.3 L2017.5,2202.4 L2019.0,2202.4 L2020.5,2202.4 L2021.9,2202.4 L2023.4,2202.4 L2024.9,2202.4 L2026.3,2202.4 L2027.8,2202.5 L2029.3,2202.5 L2030.7,2202.5 L2032.2,2202.5 L2033.7,2202.5 L2035.1,2202.5 L2036.6,2202.5 L2038.1,2202.5 L2039.5,2202.6 L2041.0,2202.6" fill="none" stroke="#000" stroke-width="3.5" stroke-linejoin="round" clip-path="url(#clipf)"/>
<path d="M1307.6,2195.5 L1309.1,2195.4 L1310.5,2195.3 L1312.0,2195.2 L1313.5,2195.1 L1314.9,2195.0 L1316.4,2194.9 L1317.9,2194.7 L1319.3,2194.6 L1320.8,2194.5 L1322.3,2194.4 L1323.7,2194.3 L1325.2,2194.2 L1326.7,2194.0 L1328.1,2193.9 L1329.6,2193.8 L1331.1,2193.6 L1332.5,2193.5 L1334.0,2193.4 L1335.5,2193.2 L1336.9,2193.1 L1338.4,2193.0 L1339.9,2192.8 L1341.3,2192.7 L1342.8,2192.5 L1344.3,2192.4 L1345.7,2192.2 L1347.2,2192.0 L1348.7,2191.9 L1350.1,2191.7 L1351.6,2191.6 L1353.1,2191.4 L1354.5,2191.2 L1356.0,2191.0 L1357.5,2190.9 L1358.9,2190.7 L1360.4,2190.5 L1361.9,2190.3 L1363.3,2190.1 L1364.8,2189.9 L1366.3,2189.7 L1367.7,2189.5 L1369.2,2189.3 L1370.7,2189.1 L1372.1,2188.9 L1373.6,2188.6 L1375.1,2188.4 L1376.5,2188.2 L1378.0,2187.9 L1379.5,2187.7 L1380.9,2187.4 L1382.4,2187.2 L1383.9,2186.9 L1385.3,2186.7 L1386.8,2186.4 L1388.3,2186.1 L1389.7,2185.9 L1391.2,2185.6 L1392.7,2185.3 L1394.1,2185.0 L1395.6,2184.7 L1397.1,2184.4 L1398.5,2184.0 L1400.0,2183.7 L1401.5,2183.4 L1402.9,2183.0 L1404.4,2182.7 L1405.9,2182.3 L1407.3,2182.0 L1408.8,2181.6 L1410.3,2181.2 L1411.7,2180.8 L1413.2,2180.4 L1414.7,2180.0 L1416.1,2179.6 L1417.6,2179.2 L1419.1,2178.7 L1420.5,2178.3 L1422.0,2177.8 L1423.5,2177.3 L1424.9,2176.9 L1426.4,2176.4 L1427.9,2175.8 L1429.3,2175.3 L1430.8,2174.8 L1432.3,2174.2 L1433.7,2173.7 L1435.2,2173.1 L1436.7,2172.5 L1438.1,2171.9 L1439.6,2171.2 L1441.1,2170.6 L1442.5,2169.9 L1444.0,2169.3 L1445.5,2168.6 L1446.9,2167.8 L1448.4,2167.1 L1449.9,2166.3 L1451.3,2165.5 L1452.8,2164.7 L1454.3,2163.9 L1455.7,2163.1 L1457.2,2162.2 L1458.7,2161.3 L1460.1,2160.3 L1461.6,2159.4 L1463.1,2158.4 L1464.5,2157.4 L1466.0,2156.3 L1467.5,2155.3 L1468.9,2154.1 L1470.4,2153.0 L1471.9,2151.8 L1473.3,2150.6 L1474.8,2149.3 L1476.3,2148.0 L1477.7,2146.7 L1479.2,2145.3 L1480.7,2143.9 L1482.1,2142.4 L1483.6,2140.9 L1485.1,2139.3 L1486.5,2137.7 L1488.0,2136.0 L1489.5,2134.3 L1490.9,2132.5 L1492.4,2130.7 L1493.9,2128.8 L1495.4,2126.8 L1496.8,2124.8 L1498.3,2122.6 L1499.8,2120.5 L1501.2,2118.2 L1502.7,2115.9 L1504.2,2113.5 L1505.6,2111.1 L1507.1,2108.5 L1508.6,2105.9 L1510.0,2103.2 L1511.5,2100.3 L1513.0,2097.5 L1514.4,2094.5 L1515.9,2091.4 L1517.4,2088.2 L1518.8,2085.0 L1520.3,2081.6 L1521.8,2078.1 L1523.2,2074.6 L1524.7,2071.0 L1526.2,2067.2 L1527.6,2063.4 L1529.1,2059.5 L1530.6,2055.4 L1532.0,2051.4 L1533.5,2047.2 L1535.0,2042.9 L1536.4,2038.6 L1537.9,2034.3 L1539.4,2029.8 L1540.8,2025.4 L1542.3,2020.9 L1543.8,2016.4 L1545.2,2011.9 L1546.7,2007.4 L1548.2,2003.0 L1549.6,1998.6 L1551.1,1994.2 L1552.6,1990.0 L1554.0,1985.9 L1555.5,1982.0 L1557.0,1978.2 L1558.4,1974.6 L1559.9,1971.2 L1561.4,1968.0 L1562.8,1965.1 L1564.3,1962.5 L1565.8,1960.2 L1567.2,1958.3 L1568.7,1956.6 L1570.2,1955.4 L1571.6,1954.5 L1573.1,1953.9 L1574.6,1953.8 L1576.0,1954.2 L1577.5,1955.2 L1579.0,1956.7 L1580.4,1958.9 L1581.9,1961.5 L1583.4,1964.7 L1584.8,1968.3 L1586.3,1972.4 L1587.8,1976.8 L1589.2,1981.5 L1590.7,1986.5 L1592.2,1991.7 L1593.6,1997.1 L1595.1,2002.7 L1596.6,2008.3 L1598.0,2013.9 L1599.5,2019.6 L1601.0,2025.3 L1602.4,2030.9 L1603.9,2036.4 L1605.4,2041.9 L1606.8,2047.3 L1608.3,2052.5 L1609.8,2057.6 L1611.2,2062.6 L1612.7,2067.5 L1614.2,2072.1 L1615.6,2076.7 L1617.1,2081.1 L1618.6,2085.3 L1620.0,2089.4 L1621.5,2093.3 L1623.0,2097.1 L1624.4,2100.8 L1625.9,2104.3 L1627.4,2107.7 L1628.8,2110.9 L1630.3,2114.0 L1631.8,2117.0 L1633.2,2119.9 L1634.7,2122.6 L1636.2,2125.2 L1637.6,2127.8 L1639.1,2130.2 L1640.6,2132.5 L1642.0,2134.8 L1643.5,2136.9 L1645.0,2139.0 L1646.4,2141.0 L1647.9,2142.9 L1649.4,2144.7 L1650.8,2146.5 L1652.3,2148.2 L1653.8,2149.8 L1655.2,2151.4 L1656.7,2152.9 L1658.2,2154.3 L1659.6,2155.7 L1661.1,2157.0 L1662.6,2158.3 L1664.0,2159.6 L1665.5,2160.8 L1667.0,2161.9 L1668.4,2163.0 L1669.9,2164.1 L1671.4,2165.1 L1672.8,2166.1 L1674.3,2167.1 L1675.8,2168.0 L1677.2,2168.9 L1678.7,2169.8 L1680.2,2170.6 L1681.6,2171.5 L1683.1,2172.2 L1684.6,2173.0 L1686.0,2173.7 L1687.5,2174.4 L1689.0,2175.1 L1690.4,2175.8 L1691.9,2176.4 L1693.4,2177.1 L1694.8,2177.7 L1696.3,2178.3 L1697.8,2178.8 L1699.2,2179.4 L1700.7,2179.9 L1702.2,2180.4 L1703.6,2180.9 L1705.1,2181.4 L1706.6,2181.9 L1708.0,2182.4 L1709.5,2182.8 L1711.0,2183.2 L1712.4,2183.7 L1713.9,2184.1 L1715.4,2184.5 L1716.8,2184.9 L1718.3,2185.2 L1719.8,2185.6 L1721.2,2186.0 L1722.7,2186.3 L1724.2,2186.6 L1725.6,2187.0 L1727.1,2187.3 L1728.6,2187.6 L1730.0,2187.9 L1731.5,2188.2 L1733.0,2188.5 L1734.4,2188.8 L1735.9,2189.1 L1737.4,2189.3 L1738.8,2189.6 L1740.3,2189.9 L1741.8,2190.1 L1743.2,2190.3 L1744.7,2190.6 L1746.2,2190.8 L1747.6,2191.0 L1749.1,2191.3 L1750.6,2191.5 L1752.0,2191.7 L1753.5,2191.9 L1755.0,2192.1 L1756.4,2192.3 L1757.9,2192.5 L1759.4,2192.7 L1760.8,2192.9 L1762.3,2193.1 L1763.8,2193.2 L1765.2,2193.4 L1766.7,2193.6 L1768.2,2193.7 L1769.6,2193.9 L1771.1,2194.1 L1772.6,2194.2 L1774.0,2194.4 L1775.5,2194.5 L1777.0,2194.7 L1778.4,2194.8 L1779.9,2194.9 L1781.4,2195.1 L1782.8,2195.2 L1784.3,2195.4 L1785.8,2195.5 L1787.2,2195.6 L1788.7,2195.7 L1790.2,2195.9 L1791.6,2196.0 L1793.1,2196.1 L1794.6,2196.2 L1796.0,2196.3 L1797.5,2196.4 L1799.0,2196.5 L1800.4,2196.6 L1801.9,2196.8 L1803.4,2196.9 L1804.8,2197.0 L1806.3,2197.1 L1807.8,2197.2 L1809.2,2197.3 L1810.7,2197.3 L1812.2,2197.4 L1813.6,2197.5 L1815.1,2197.6 L1816.6,2197.7 L1818.0,2197.8 L1819.5,2197.9 L1821.0,2198.0 L1822.4,2198.0 L1823.9,2198.1 L1825.4,2198.2 L1826.8,2198.3 L1828.3,2198.4 L1829.8,2198.4 L1831.2,2198.5 L1832.7,2198.6 L1834.2,2198.6 L1835.6,2198.7 L1837.1,2198.8 L1838.6,2198.9 L1840.0,2198.9 L1841.5,2199.0 L1843.0,2199.1 L1844.4,2199.1 L1845.9,2199.2 L1847.4,2199.2 L1848.8,2199.3 L1850.3,2199.4 L1851.8,2199.4 L1853.2,2199.5 L1854.7,2199.5 L1856.2,2199.6 L1857.7,2199.7 L1859.1,2199.7 L1860.6,2199.8 L1862.1,2199.8 L1863.5,2199.9 L1865.0,2199.9 L1866.5,2200.0 L1867.9,2200.0 L1869.4,2200.1 L1870.9,2200.1 L1872.3,2200.2 L1873.8,2200.2 L1875.3,2200.3 L1876.7,2200.3 L1878.2,2200.3 L1879.7,2200.4 L1881.1,2200.4 L1882.6,2200.5 L1884.1,2200.5 L1885.5,2200.6 L1887.0,2200.6 L1888.5,2200.6 L1889.9,2200.7 L1891.4,2200.7 L1892.9,2200.8 L1894.3,2200.8 L1895.8,2200.8 L1897.3,2200.9 L1898.7,2200.9 L1900.2,2201.0 L1901.7,2201.0 L1903.1,2201.0 L1904.6,2201.1 L1906.1,2201.1 L1907.5,2201.1 L1909.0,2201.2 L1910.5,2201.2 L1911.9,2201.2 L1913.4,2201.3 L1914.9,2201.3 L1916.3,2201.3 L1917.8,2201.4 L1919.3,2201.4 L1920.7,2201.4 L1922.2,2201.5 L1923.7,2201.5 L1925.1,2201.5 L1926.6,2201.5 L1928.1,2201.6 L1929.5,2201.6 L1931.0,2201.6 L1932.5,2201.7 L1933.9,2201.7 L1935.4,2201.7 L1936.9,2201.7 L1938.3,2201.8 L1939.8,2201.8 L1941.3,2201.8 L1942.7,2201.8 L1944.2,2201.9 L1945.7,2201.9 L1947.1,2201.9 L1948.6,2201.9 L1950.1,2202.0 L1951.5,2202.0 L1953.0,2202.0 L1954.5,2202.0 L1955.9,2202.1 L1957.4,2202.1 L1958.9,2202.1 L1960.3,2202.1 L1961.8,2202.2 L1963.3,2202.2 L1964.7,2202.2 L1966.2,2202.2 L1967.7,2202.2 L1969.1,2202.3 L1970.6,2202.3 L1972.1,2202.3 L1973.5,2202.3 L1975.0,2202.3 L1976.5,2202.4 L1977.9,2202.4 L1979.4,2202.4 L1980.9,2202.4 L1982.3,2202.4 L1983.8,2202.5 L1985.3,2202.5 L1986.7,2202.5 L1988.2,2202.5 L1989.7,2202.5 L1991.1,2202.6 L1992.6,2202.6 L1994.1,2202.6 L1995.5,2202.6 L1997.0,2202.6 L1998.5,2202.6 L1999.9,2202.7 L2001.4,2202.7 L2002.9,2202.7 L2004.3,2202.7 L2005.8,2202.7 L2007.3,2202.7 L2008.7,2202.8 L2010.2,2202.8 L2011.7,2202.8 L2013.1,2202.8 L2014.6,2202.8 L2016.1,2202.8 L2017.5,2202.8 L2019.0,2202.9 L2020.5,2202.9 L2021.9,2202.9 L2023.4,2202.9 L2024.9,2202.9 L2026.3,2202.9 L2027.8,2202.9 L2029.3,2203.0 L2030.7,2203.0 L2032.2,2203.0 L2033.7,2203.0 L2035.1,2203.0 L2036.6,2203.0 L2038.1,2203.0 L2039.5,2203.1 L2041.0,2203.1" fill="none" stroke="#000" stroke-width="3.5" stroke-linejoin="round" clip-path="url(#clipf)"/>
<path d="M1307.6,2201.7 L1309.1,2201.7 L1310.5,2201.7 L1312.0,2201.6 L1313.5,2201.6 L1314.9,2201.6 L1316.4,2201.5 L1317.9,2201.5 L1319.3,2201.5 L1320.8,2201.4 L1322.3,2201.4 L1323.7,2201.3 L1325.2,2201.3 L1326.7,2201.3 L1328.1,2201.2 L1329.6,2201.2 L1331.1,2201.2 L1332.5,2201.1 L1334.0,2201.1 L1335.5,2201.0 L1336.9,2201.0 L1338.4,2200.9 L1339.9,2200.9 L1341.3,2200.9 L1342.8,2200.8 L1344.3,2200.8 L1345.7,2200.7 L1347.2,2200.7 L1348.7,2200.6 L1350.1,2200.6 L1351.6,2200.5 L1353.1,2200.5 L1354.5,2200.4 L1356.0,2200.4 L1357.5,2200.3 L1358.9,2200.3 L1360.4,2200.2 L1361.9,2200.2 L1363.3,2200.1 L1364.8,2200.0 L1366.3,2200.0 L1367.7,2199.9 L1369.2,2199.9 L1370.7,2199.8 L1372.1,2199.7 L1373.6,2199.7 L1375.1,2199.6 L1376.5,2199.5 L1378.0,2199.5 L1379.5,2199.4 L1380.9,2199.3 L1382.4,2199.3 L1383.9,2199.2 L1385.3,2199.1 L1386.8,2199.0 L1388.3,2199.0 L1389.7,2198.9 L1391.2,2198.8 L1392.7,2198.7 L1394.1,2198.7 L1395.6,2198.6 L1397.1,2198.5 L1398.5,2198.4 L1400.0,2198.3 L1401.5,2198.2 L1402.9,2198.1 L1404.4,2198.0 L1405.9,2197.9 L1407.3,2197.8 L1408.8,2197.7 L1410.3,2197.6 L1411.7,2197.5 L1413.2,2197.4 L1414.7,2197.3 L1416.1,2197.2 L1417.6,2197.1 L1419.1,2197.0 L1420.5,2196.8 L1422.0,2196.7 L1423.5,2196.6 L1424.9,2196.5 L1426.4,2196.3 L1427.9,2196.2 L1429.3,2196.1 L1430.8,2195.9 L1432.3,2195.8 L1433.7,2195.7 L1435.2,2195.5 L1436.7,2195.4 L1438.1,2195.2 L1439.6,2195.0 L1441.1,2194.9 L1442.5,2194.7 L1444.0,2194.5 L1445.5,2194.4 L1446.9,2194.2 L1448.4,2194.0 L1449.9,2193.8 L1451.3,2193.6 L1452.8,2193.4 L1454.3,2193.2 L1455.7,2193.0 L1457.2,2192.8 L1458.7,2192.6 L1460.1,2192.4 L1461.6,2192.1 L1463.1,2191.9 L1464.5,2191.7 L1466.0,2191.4 L1467.5,2191.2 L1468.9,2190.9 L1470.4,2190.6 L1471.9,2190.3 L1473.3,2190.1 L1474.8,2189.8 L1476.3,2189.5 L1477.7,2189.2 L1479.2,2188.8 L1480.7,2188.5 L1482.1,2188.2 L1483.6,2187.8 L1485.1,2187.5 L1486.5,2187.1 L1488.0,2186.7 L1489.5,2186.3 L1490.9,2185.9 L1492.4,2185.5 L1493.9,2185.1 L1495.4,2184.6 L1496.8,2184.2 L1498.3,2183.7 L1499.8,2183.2 L1501.2,2182.7 L1502.7,2182.2 L1504.2,2181.6 L1505.6,2181.1 L1507.1,2180.5 L1508.6,2179.9 L1510.0,2179.3 L1511.5,2178.6 L1513.0,2178.0 L1514.4,2177.3 L1515.9,2176.6 L1517.4,2175.8 L1518.8,2175.1 L1520.3,2174.3 L1521.8,2173.4 L1523.2,2172.6 L1524.7,2171.7 L1526.2,2170.8 L1527.6,2169.8 L1529.1,2168.8 L1530.6,2167.8 L1532.0,2166.7 L1533.5,2165.6 L1535.0,2164.4 L1536.4,2163.2 L1537.9,2161.9 L1539.4,2160.6 L1540.8,2159.3 L1542.3,2157.8 L1543.8,2156.3 L1545.2,2154.8 L1546.7,2153.2 L1548.2,2151.5 L1549.6,2149.7 L1551.1,2147.9 L1552.6,2146.0 L1554.0,2144.0 L1555.5,2141.9 L1557.0,2139.8 L1558.4,2137.5 L1559.9,2135.2 L1561.4,2132.7 L1562.8,2130.2 L1564.3,2127.5 L1565.8,2124.8 L1567.2,2121.9 L1568.7,2118.9 L1570.2,2115.8 L1571.6,2112.5 L1573.1,2109.2 L1574.6,2105.7 L1576.0,2102.1 L1577.5,2098.4 L1579.0,2094.6 L1580.4,2090.7 L1581.9,2086.6 L1583.4,2082.5 L1584.8,2078.3 L1586.3,2074.0 L1587.8,2069.7 L1589.2,2065.4 L1590.7,2061.0 L1592.2,2056.6 L1593.6,2052.3 L1595.1,2048.1 L1596.6,2043.9 L1598.0,2039.9 L1599.5,2036.1 L1601.0,2032.5 L1602.4,2029.2 L1603.9,2026.1 L1605.4,2023.4 L1606.8,2021.1 L1608.3,2019.1 L1609.8,2017.6 L1611.2,2016.5 L1612.7,2015.9 L1614.2,2015.8 L1615.6,2016.2 L1617.1,2017.2 L1618.6,2018.7 L1620.0,2020.6 L1621.5,2023.1 L1623.0,2026.0 L1624.4,2029.2 L1625.9,2032.8 L1627.4,2036.7 L1628.8,2040.8 L1630.3,2045.2 L1631.8,2049.7 L1633.2,2054.2 L1634.7,2058.9 L1636.2,2063.6 L1637.6,2068.2 L1639.1,2072.9 L1640.6,2077.5 L1642.0,2082.0 L1643.5,2086.4 L1645.0,2090.7 L1646.4,2094.9 L1647.9,2099.0 L1649.4,2103.0 L1650.8,2106.8 L1652.3,2110.5 L1653.8,2114.0 L1655.2,2117.4 L1656.7,2120.7 L1658.2,2123.8 L1659.6,2126.8 L1661.1,2129.7 L1662.6,2132.4 L1664.0,2135.1 L1665.5,2137.6 L1667.0,2140.0 L1668.4,2142.3 L1669.9,2144.5 L1671.4,2146.6 L1672.8,2148.6 L1674.3,2150.5 L1675.8,2152.4 L1677.2,2154.1 L1678.7,2155.8 L1680.2,2157.4 L1681.6,2159.0 L1683.1,2160.5 L1684.6,2161.9 L1686.0,2163.2 L1687.5,2164.5 L1689.0,2165.8 L1690.4,2167.0 L1691.9,2168.1 L1693.4,2169.2 L1694.8,2170.2 L1696.3,2171.2 L1697.8,2172.2 L1699.2,2173.1 L1700.7,2174.0 L1702.2,2174.9 L1703.6,2175.7 L1705.1,2176.5 L1706.6,2177.3 L1708.0,2178.0 L1709.5,2178.7 L1711.0,2179.4 L1712.4,2180.1 L1713.9,2180.7 L1715.4,2181.3 L1716.8,2181.9 L1718.3,2182.5 L1719.8,2183.0 L1721.2,2183.6 L1722.7,2184.1 L1724.2,2184.6 L1725.6,2185.0 L1727.1,2185.5 L1728.6,2186.0 L1730.0,2186.4 L1731.5,2186.8 L1733.0,2187.2 L1734.4,2187.6 L1735.9,2188.0 L1737.4,2188.3 L1738.8,2188.7 L1740.3,2189.1 L1741.8,2189.4 L1743.2,2189.7 L1744.7,2190.0 L1746.2,2190.3 L1747.6,2190.6 L1749.1,2190.9 L1750.6,2191.2 L1752.0,2191.5 L1753.5,2191.7 L1755.0,2192.0 L1756.4,2192.2 L1757.9,2192.5 L1759.4,2192.7 L1760.8,2193.0 L1762.3,2193.2 L1763.8,2193.4 L1765.2,2193.6 L1766.7,2193.8 L1768.2,2194.0 L1769.6,2194.2 L1771.1,2194.4 L1772.6,2194.6 L1774.0,2194.8 L1775.5,2194.9 L1777.0,2195.1 L1778.4,2195.3 L1779.9,2195.4 L1781.4,2195.6 L1782.8,2195.8 L1784.3,2195.9 L1785.8,2196.1 L1787.2,2196.2 L1788.7,2196.4 L1790.2,2196.5 L1791.6,2196.6 L1793.1,2196.8 L1794.6,2196.9 L1796.0,2197.0 L1797.5,2197.1 L1799.0,2197.3 L1800.4,2197.4 L1801.9,2197.5 L1803.4,2197.6 L1804.8,2197.7 L1806.3,2197.8 L1807.8,2197.9 L1809.2,2198.0 L1810.7,2198.1 L1812.2,2198.2 L1813.6,2198.3 L1815.1,2198.4 L1816.6,2198.5 L1818.0,2198.6 L1819.5,2198.7 L1821.0,2198.8 L1822.4,2198.9 L1823.9,2199.0 L1825.4,2199.0 L1826.8,2199.1 L1828.3,2199.2 L1829.8,2199.3 L1831.2,2199.3 L1832.7,2199.4 L1834.2,2199.5 L1835.6,2199.6 L1837.1,2199.6 L1838.6,2199.7 L1840.0,2199.8 L1841.5,2199.8 L1843.0,2199.9 L1844.4,2200.0 L1845.9,2200.0 L1847.4,2200.1 L1848.8,2200.2 L1850.3,2200.2 L1851.8,2200.3 L1853.2,2200.3 L1854.7,2200.4 L1856.2,2200.4 L1857.7,2200.5 L1859.1,2200.5 L1860.6,2200.6 L1862.1,2200.7 L1863.5,2200.7 L1865.0,2200.8 L1866.5,2200.8 L1867.9,2200.9 L1869.4,2200.9 L1870.9,2200.9 L1872.3,2201.0 L1873.8,2201.0 L1875.3,2201.1 L1876.7,2201.1 L1878.2,2201.2 L1879.7,2201.2 L1881.1,2201.3 L1882.6,2201.3 L1884.1,2201.3 L1885.5,2201.4 L1887.0,2201.4 L1888.5,2201.5 L1889.9,2201.5 L1891.4,2201.5 L1892.9,2201.6 L1894.3,2201.6 L1895.8,2201.6 L1897.3,2201.7 L1898.7,2201.7 L1900.2,2201.7 L1901.7,2201.8 L1903.1,2201.8 L1904.6,2201.8 L1906.1,2201.9 L1907.5,2201.9 L1909.0,2201.9 L1910.5,2202.0 L1911.9,2202.0 L1913.4,2202.0 L1914.9,2202.1 L1916.3,2202.1 L1917.8,2202.1 L1919.3,2202.1 L1920.7,2202.2 L1922.2,2202.2 L1923.7,2202.2 L1925.1,2202.2 L1926.6,2202.3 L1928.1,2202.3 L1929.5,2202.3 L1931.0,2202.4 L1932.5,2202.4 L1933.9,2202.4 L1935.4,2202.4 L1936.9,2202.4 L1938.3,2202.5 L1939.8,2202.5 L1941.3,2202.5 L1942.7,2202.5 L1944.2,2202.6 L1945.7,2202.6 L1947.1,2202.6 L1948.6,2202.6 L1950.1,2202.7 L1951.5,2202.7 L1953.0,2202.7 L1954.5,2202.7 L1955.9,2202.7 L1957.4,2202.8 L1958.9,2202.8 L1960.3,2202.8 L1961.8,2202.8 L1963.3,2202.8 L1964.7,2202.8 L1966.2,2202.9 L1967.7,2202.9 L1969.1,2202.9 L1970.6,2202.9 L1972.1,2202.9 L1973.5,2203.0 L1975.0,2203.0 L1976.5,2203.0 L1977.9,2203.0 L1979.4,2203.0 L1980.9,2203.0 L1982.3,2203.1 L1983.8,2203.1 L1985.3,2203.1 L1986.7,2203.1 L1988.2,2203.1 L1989.7,2203.1 L1991.1,2203.1 L1992.6,2203.2 L1994.1,2203.2 L1995.5,2203.2 L1997.0,2203.2 L1998.5,2203.2 L1999.9,2203.2 L2001.4,2203.3 L2002.9,2203.3 L2004.3,2203.3 L2005.8,2203.3 L2007.3,2203.3 L2008.7,2203.3 L2010.2,2203.3 L2011.7,2203.3 L2013.1,2203.4 L2014.6,2203.4 L2016.1,2203.4 L2017.5,2203.4 L2019.0,2203.4 L2020.5,2203.4 L2021.9,2203.4 L2023.4,2203.4 L2024.9,2203.5 L2026.3,2203.5 L2027.8,2203.5 L2029.3,2203.5 L2030.7,2203.5 L2032.2,2203.5 L2033.7,2203.5 L2035.1,2203.5 L2036.6,2203.5 L2038.1,2203.6 L2039.5,2203.6 L2041.0,2203.6" fill="none" stroke="#000" stroke-width="3.5" stroke-linejoin="round" clip-path="url(#clipf)"/>
<path d="M1307.6,2201.8 L1309.1,2201.7 L1310.5,2201.7 L1312.0,2201.7 L1313.5,2201.7 L1314.9,2201.7 L1316.4,2201.6 L1317.9,2201.6 L1319.3,2201.6 L1320.8,2201.6 L1322.3,2201.5 L1323.7,2201.5 L1325.2,2201.5 L1326.7,2201.5 L1328.1,2201.5 L1329.6,2201.4 L1331.1,2201.4 L1332.5,2201.4 L1334.0,2201.4 L1335.5,2201.3 L1336.9,2201.3 L1338.4,2201.3 L1339.9,2201.3 L1341.3,2201.2 L1342.8,2201.2 L1344.3,2201.2 L1345.7,2201.1 L1347.2,2201.1 L1348.7,2201.1 L1350.1,2201.1 L1351.6,2201.0 L1353.1,2201.0 L1354.5,2201.0 L1356.0,2201.0 L1357.5,2200.9 L1358.9,2200.9 L1360.4,2200.9 L1361.9,2200.8 L1363.3,2200.8 L1364.8,2200.8 L1366.3,2200.7 L1367.7,2200.7 L1369.2,2200.7 L1370.7,2200.6 L1372.1,2200.6 L1373.6,2200.6 L1375.1,2200.5 L1376.5,2200.5 L1378.0,2200.5 L1379.5,2200.4 L1380.9,2200.4 L1382.4,2200.4 L1383.9,2200.3 L1385.3,2200.3 L1386.8,2200.3 L1388.3,2200.2 L1389.7,2200.2 L1391.2,2200.2 L1392.7,2200.1 L1394.1,2200.1 L1395.6,2200.0 L1397.1,2200.0 L1398.5,2200.0 L1400.0,2199.9 L1401.5,2199.9 L1402.9,2199.8 L1404.4,2199.8 L1405.9,2199.8 L1407.3,2199.7 L1408.8,2199.7 L1410.3,2199.6 L1411.7,2199.6 L1413.2,2199.5 L1414.7,2199.5 L1416.1,2199.4 L1417.6,2199.4 L1419.1,2199.4 L1420.5,2199.3 L1422.0,2199.3 L1423.5,2199.2 L1424.9,2199.2 L1426.4,2199.1 L1427.9,2199.1 L1429.3,2199.0 L1430.8,2199.0 L1432.3,2198.9 L1433.7,2198.8 L1435.2,2198.8 L1436.7,2198.7 L1438.1,2198.7 L1439.6,2198.6 L1441.1,2198.6 L1442.5,2198.5 L1444.0,2198.5 L1445.5,2198.4 L1446.9,2198.3 L1448.4,2198.3 L1449.9,2198.2 L1451.3,2198.2 L1452.8,2198.1 L1454.3,2198.0 L1455.7,2198.0 L1457.2,2197.9 L1458.7,2197.8 L1460.1,2197.8 L1461.6,2197.7 L1463.1,2197.6 L1464.5,2197.6 L1466.0,2197.5 L1467.5,2197.4 L1468.9,2197.3 L1470.4,2197.3 L1471.9,2197.2 L1473.3,2197.1 L1474.8,2197.0 L1476.3,2197.0 L1477.7,2196.9 L1479.2,2196.8 L1480.7,2196.7 L1482.1,2196.6 L1483.6,2196.5 L1485.1,2196.5 L1486.5,2196.4 L1488.0,2196.3 L1489.5,2196.2 L1490.9,2196.1 L1492.4,2196.0 L1493.9,2195.9 L1495.4,2195.8 L1496.8,2195.7 L1498.3,2195.6 L1499.8,2195.5 L1501.2,2195.4 L1502.7,2195.3 L1504.2,2195.2 L1505.6,2195.1 L1507.1,2195.0 L1508.6,2194.9 L1510.0,2194.8 L1511.5,2194.7 L1513.0,2194.5 L1514.4,2194.4 L1515.9,2194.3 L1517.4,2194.2 L1518.8,2194.1 L1520.3,2193.9 L1521.8,2193.8 L1523.2,2193.7 L1524.7,2193.5 L1526.2,2193.4 L1527.6,2193.3 L1529.1,2193.1 L1530.6,2193.0 L1532.0,2192.8 L1533.5,2192.7 L1535.0,2192.5 L1536.4,2192.4 L1537.9,2192.2 L1539.4,2192.1 L1540.8,2191.9 L1542.3,2191.8 L1543.8,2191.6 L1545.2,2191.4 L1546.7,2191.3 L1548.2,2191.1 L1549.6,2190.9 L1551.1,2190.7 L1552.6,2190.5 L1554.0,2190.3 L1555.5,2190.1 L1557.0,2190.0 L1558.4,2189.8 L1559.9,2189.5 L1561.4,2189.3 L1562.8,2189.1 L1564.3,2188.9 L1565.8,2188.7 L1567.2,2188.5 L1568.7,2188.2 L1570.2,2188.0 L1571.6,2187.8 L1573.1,2187.5 L1574.6,2187.3 L1576.0,2187.0 L1577.5,2186.7 L1579.0,2186.5 L1580.4,2186.2 L1581.9,2185.9 L1583.4,2185.6 L1584.8,2185.4 L1586.3,2185.1 L1587.8,2184.8 L1589.2,2184.5 L1590.7,2184.1 L1592.2,2183.8 L1593.6,2183.5 L1595.1,2183.1 L1596.6,2182.8 L1598.0,2182.4 L1599.5,2182.1 L1601.0,2181.7 L1602.4,2181.3 L1603.9,2180.9 L1605.4,2180.6 L1606.8,2180.1 L1608.3,2179.7 L1609.8,2179.3 L1611.2,2178.9 L1612.7,2178.4 L1614.2,2178.0 L1615.6,2177.5 L1617.1,2177.0 L1618.6,2176.5 L1620.0,2176.0 L1621.5,2175.5 L1623.0,2175.0 L1624.4,2174.4 L1625.9,2173.8 L1627.4,2173.3 L1628.8,2172.7 L1630.3,2172.1 L1631.8,2171.4 L1633.2,2170.8 L1634.7,2170.1 L1636.2,2169.5 L1637.6,2168.8 L1639.1,2168.1 L1640.6,2167.3 L1642.0,2166.6 L1643.5,2165.8 L1645.0,2165.0 L1646.4,2164.2 L1647.9,2163.3 L1649.4,2162.4 L1650.8,2161.5 L1652.3,2160.6 L1653.8,2159.7 L1655.2,2158.7 L1656.7,2157.7 L1658.2,2156.6 L1659.6,2155.6 L1661.1,2154.5 L1662.6,2153.3 L1664.0,2152.1 L1665.5,2150.9 L1667.0,2149.7 L1668.4,2148.4 L1669.9,2147.1 L1671.4,2145.7 L1672.8,2144.3 L1674.3,2142.8 L1675.8,2141.3 L1677.2,2139.7 L1678.7,2138.1 L1680.2,2136.4 L1681.6,2134.7 L1683.1,2132.9 L1684.6,2131.1 L1686.0,2129.2 L1687.5,2127.2 L1689.0,2125.2 L1690.4,2123.1 L1691.9,2120.9 L1693.4,2118.7 L1694.8,2116.4 L1696.3,2114.0 L1697.8,2111.5 L1699.2,2108.9 L1700.7,2106.3 L1702.2,2103.5 L1703.6,2100.7 L1705.1,2097.8 L1706.6,2094.8 L1708.0,2091.7 L1709.5,2088.5 L1711.0,2085.2 L1712.4,2081.8 L1713.9,2078.3 L1715.4,2074.7 L1716.8,2070.9 L1718.3,2067.1 L1719.8,2063.2 L1721.2,2059.2 L1722.7,2055.1 L1724.2,2050.9 L1725.6,2046.6 L1727.1,2042.2 L1728.6,2037.7 L1730.0,2033.1 L1731.5,2028.5 L1733.0,2023.9 L1734.4,2019.1 L1735.9,2014.4 L1737.4,2009.6 L1738.8,2004.8 L1740.3,2000.1 L1741.8,1995.4 L1743.2,1990.7 L1744.7,1986.1 L1746.2,1981.6 L1747.6,1977.2 L1749.1,1973.0 L1750.6,1969.0 L1752.0,1965.1 L1753.5,1961.5 L1755.0,1958.2 L1756.4,1955.1 L1757.9,1952.4 L1759.4,1949.9 L1760.8,1947.9 L1762.3,1946.2 L1763.8,1944.8 L1765.2,1943.9 L1766.7,1943.4 L1768.2,1943.3 L1769.6,1943.9 L1771.1,1945.3 L1772.6,1947.4 L1774.0,1950.3 L1775.5,1953.8 L1777.0,1958.0 L1778.4,1962.7 L1779.9,1967.9 L1781.4,1973.5 L1782.8,1979.4 L1784.3,1985.6 L1785.8,1992.0 L1787.2,1998.5 L1788.7,2005.1 L1790.2,2011.8 L1791.6,2018.4 L1793.1,2024.9 L1794.6,2031.4 L1796.0,2037.7 L1797.5,2043.9 L1799.0,2050.0 L1800.4,2055.8 L1801.9,2061.5 L1803.4,2067.0 L1804.8,2072.3 L1806.3,2077.4 L1807.8,2082.2 L1809.2,2086.9 L1810.7,2091.4 L1812.2,2095.7 L1813.6,2099.8 L1815.1,2103.8 L1816.6,2107.5 L1818.0,2111.1 L1819.5,2114.6 L1821.0,2117.9 L1822.4,2121.0 L1823.9,2124.0 L1825.4,2126.9 L1826.8,2129.6 L1828.3,2132.2 L1829.8,2134.7 L1831.2,2137.1 L1832.7,2139.4 L1834.2,2141.5 L1835.6,2143.6 L1837.1,2145.6 L1838.6,2147.5 L1840.0,2149.3 L1841.5,2151.1 L1843.0,2152.7 L1844.4,2154.3 L1845.9,2155.9 L1847.4,2157.3 L1848.8,2158.8 L1850.3,2160.1 L1851.8,2161.4 L1853.2,2162.6 L1854.7,2163.8 L1856.2,2165.0 L1857.7,2166.1 L1859.1,2167.2 L1860.6,2168.2 L1862.1,2169.2 L1863.5,2170.1 L1865.0,2171.0 L1866.5,2171.9 L1867.9,2172.8 L1869.4,2173.6 L1870.9,2174.4 L1872.3,2175.1 L1873.8,2175.8 L1875.3,2176.6 L1876.7,2177.2 L1878.2,2177.9 L1879.7,2178.5 L1881.1,2179.1 L1882.6,2179.7 L1884.1,2180.3 L1885.5,2180.9 L1887.0,2181.4 L1888.5,2181.9 L1889.9,2182.4 L1891.4,2182.9 L1892.9,2183.4 L1894.3,2183.9 L1895.8,2184.3 L1897.3,2184.7 L1898.7,2185.2 L1900.2,2185.6 L1901.7,2186.0 L1903.1,2186.3 L1904.6,2186.7 L1906.1,2187.1 L1907.5,2187.4 L1909.0,2187.8 L1910.5,2188.1 L1911.9,2188.4 L1913.4,2188.7 L1914.9,2189.0 L1916.3,2189.3 L1917.8,2189.6 L1919.3,2189.9 L1920.7,2190.2 L1922.2,2190.4 L1923.7,2190.7 L1925.1,2191.0 L1926.6,2191.2 L1928.1,2191.4 L1929.5,2191.7 L1931.0,2191.9 L1932.5,2192.1 L1933.9,2192.3 L1935.4,2192.6 L1936.9,2192.8 L1938.3,2193.0 L1939.8,2193.2 L1941.3,2193.4 L1942.7,2193.5 L1944.2,2193.7 L1945.7,2193.9 L1947.1,2194.1 L1948.6,2194.3 L1950.1,2194.4 L1951.5,2194.6 L1953.0,2194.7 L1954.5,2194.9 L1955.9,2195.0 L1957.4,2195.2 L1958.9,2195.3 L1960.3,2195.5 L1961.8,2195.6 L1963.3,2195.8 L1964.7,2195.9 L1966.2,2196.0 L1967.7,2196.2 L1969.1,2196.3 L1970.6,2196.4 L1972.1,2196.5 L1973.5,2196.6 L1975.0,2196.8 L1976.5,2196.9 L1977.9,2197.0 L1979.4,2197.1 L1980.9,2197.2 L1982.3,2197.3 L1983.8,2197.4 L1985.3,2197.5 L1986.7,2197.6 L1988.2,2197.7 L1989.7,2197.8 L1991.1,2197.9 L1992.6,2198.0 L1994.1,2198.1 L1995.5,2198.2 L1997.0,2198.2 L1998.5,2198.3 L1999.9,2198.4 L2001.4,2198.5 L2002.9,2198.6 L2004.3,2198.7 L2005.8,2198.7 L2007.3,2198.8 L2008.7,2198.9 L2010.2,2199.0 L2011.7,2199.0 L2013.1,2199.1 L2014.6,2199.2 L2016.1,2199.2 L2017.5,2199.3 L2019.0,2199.4 L2020.5,2199.4 L2021.9,2199.5 L2023.4,2199.6 L2024.9,2199.6 L2026.3,2199.7 L2027.8,2199.7 L2029.3,2199.8 L2030.7,2199.9 L2032.2,2199.9 L2033.7,2200.0 L2035.1,2200.0 L2036.6,2200.1 L2038.1,2200.1 L2039.5,2200.2 L2041.0,2200.2" fill="none" stroke="#000" stroke-width="3.5" stroke-linejoin="round" clip-path="url(#clipf)"/>
<path d="M1307.6,2204.0 L1309.1,2204.0 L1310.5,2203.9 L1312.0,2203.9 L1313.5,2203.9 L1314.9,2203.9 L1316.4,2203.9 L1317.9,2203.9 L1319.3,2203.9 L1320.8,2203.9 L1322.3,2203.9 L1323.7,2203.9 L1325.2,2203.9 L1326.7,2203.9 L1328.1,2203.9 L1329.6,2203.9 L1331.1,2203.8 L1332.5,2203.8 L1334.0,2203.8 L1335.5,2203.8 L1336.9,2203.8 L1338.4,2203.8 L1339.9,2203.8 L1341.3,2203.8 L1342.8,2203.8 L1344.3,2203.8 L1345.7,2203.8 L1347.2,2203.8 L1348.7,2203.7 L1350.1,2203.7 L1351.6,2203.7 L1353.1,2203.7 L1354.5,2203.7 L1356.0,2203.7 L1357.5,2203.7 L1358.9,2203.7 L1360.4,2203.7 L1361.9,2203.7 L1363.3,2203.7 L1364.8,2203.6 L1366.3,2203.6 L1367.7,2203.6 L1369.2,2203.6 L1370.7,2203.6 L1372.1,2203.6 L1373.6,2203.6 L1375.1,2203.6 L1376.5,2203.6 L1378.0,2203.6 L1379.5,2203.6 L1380.9,2203.5 L1382.4,2203.5 L1383.9,2203.5 L1385.3,2203.5 L1386.8,2203.5 L1388.3,2203.5 L1389.7,2203.5 L1391.2,2203.5 L1392.7,2203.5 L1394.1,2203.4 L1395.6,2203.4 L1397.1,2203.4 L1398.5,2203.4 L1400.0,2203.4 L1401.5,2203.4 L1402.9,2203.4 L1404.4,2203.4 L1405.9,2203.3 L1407.3,2203.3 L1408.8,2203.3 L1410.3,2203.3 L1411.7,2203.3 L1413.2,2203.3 L1414.7,2203.3 L1416.1,2203.3 L1417.6,2203.2 L1419.1,2203.2 L1420.5,2203.2 L1422.0,2203.2 L1423.5,2203.2 L1424.9,2203.2 L1426.4,2203.2 L1427.9,2203.1 L1429.3,2203.1 L1430.8,2203.1 L1432.3,2203.1 L1433.7,2203.1 L1435.2,2203.1 L1436.7,2203.1 L1438.1,2203.0 L1439.6,2203.0 L1441.1,2203.0 L1442.5,2203.0 L1444.0,2203.0 L1445.5,2203.0 L1446.9,2202.9 L1448.4,2202.9 L1449.9,2202.9 L1451.3,2202.9 L1452.8,2202.9 L1454.3,2202.8 L1455.7,2202.8 L1457.2,2202.8 L1458.7,2202.8 L1460.1,2202.8 L1461.6,2202.8 L1463.1,2202.7 L1464.5,2202.7 L1466.0,2202.7 L1467.5,2202.7 L1468.9,2202.7 L1470.4,2202.6 L1471.9,2202.6 L1473.3,2202.6 L1474.8,2202.6 L1476.3,2202.5 L1477.7,2202.5 L1479.2,2202.5 L1480.7,2202.5 L1482.1,2202.5 L1483.6,2202.4 L1485.1,2202.4 L1486.5,2202.4 L1488.0,2202.4 L1489.5,2202.3 L1490.9,2202.3 L1492.4,2202.3 L1493.9,2202.3 L1495.4,2202.2 L1496.8,2202.2 L1498.3,2202.2 L1499.8,2202.2 L1501.2,2202.1 L1502.7,2202.1 L1504.2,2202.1 L1505.6,2202.0 L1507.1,2202.0 L1508.6,2202.0 L1510.0,2202.0 L1511.5,2201.9 L1513.0,2201.9 L1514.4,2201.9 L1515.9,2201.8 L1517.4,2201.8 L1518.8,2201.8 L1520.3,2201.7 L1521.8,2201.7 L1523.2,2201.7 L1524.7,2201.6 L1526.2,2201.6 L1527.6,2201.6 L1529.1,2201.5 L1530.6,2201.5 L1532.0,2201.5 L1533.5,2201.4 L1535.0,2201.4 L1536.4,2201.3 L1537.9,2201.3 L1539.4,2201.3 L1540.8,2201.2 L1542.3,2201.2 L1543.8,2201.1 L1545.2,2201.1 L1546.7,2201.1 L1548.2,2201.0 L1549.6,2201.0 L1551.1,2200.9 L1552.6,2200.9 L1554.0,2200.8 L1555.5,2200.8 L1557.0,2200.7 L1558.4,2200.7 L1559.9,2200.6 L1561.4,2200.6 L1562.8,2200.5 L1564.3,2200.5 L1565.8,2200.4 L1567.2,2200.4 L1568.7,2200.3 L1570.2,2200.3 L1571.6,2200.2 L1573.1,2200.2 L1574.6,2200.1 L1576.0,2200.0 L1577.5,2200.0 L1579.0,2199.9 L1580.4,2199.8 L1581.9,2199.8 L1583.4,2199.7 L1584.8,2199.6 L1586.3,2199.6 L1587.8,2199.5 L1589.2,2199.4 L1590.7,2199.4 L1592.2,2199.3 L1593.6,2199.2 L1595.1,2199.1 L1596.6,2199.1 L1598.0,2199.0 L1599.5,2198.9 L1601.0,2198.8 L1602.4,2198.7 L1603.9,2198.6 L1605.4,2198.6 L1606.8,2198.5 L1608.3,2198.4 L1609.8,2198.3 L1611.2,2198.2 L1612.7,2198.1 L1614.2,2198.0 L1615.6,2197.9 L1617.1,2197.8 L1618.6,2197.7 L1620.0,2197.6 L1621.5,2197.5 L1623.0,2197.4 L1624.4,2197.2 L1625.9,2197.1 L1627.4,2197.0 L1628.8,2196.9 L1630.3,2196.7 L1631.8,2196.6 L1633.2,2196.5 L1634.7,2196.4 L1636.2,2196.2 L1637.6,2196.1 L1639.1,2195.9 L1640.6,2195.8 L1642.0,2195.6 L1643.5,2195.5 L1645.0,2195.3 L1646.4,2195.1 L1647.9,2195.0 L1649.4,2194.8 L1650.8,2194.6 L1652.3,2194.5 L1653.8,2194.3 L1655.2,2194.1 L1656.7,2193.9 L1658.2,2193.7 L1659.6,2193.5 L1661.1,2193.3 L1662.6,2193.0 L1664.0,2192.8 L1665.5,2192.6 L1667.0,2192.4 L1668.4,2192.1 L1669.9,2191.9 L1671.4,2191.6 L1672.8,2191.4 L1674.3,2191.1 L1675.8,2190.8 L1677.2,2190.5 L1678.7,2190.2 L1680.2,2189.9 L1681.6,2189.6 L1683.1,2189.3 L1684.6,2189.0 L1686.0,2188.6 L1687.5,2188.3 L1689.0,2187.9 L1690.4,2187.5 L1691.9,2187.2 L1693.4,2186.8 L1694.8,2186.3 L1696.3,2185.9 L1697.8,2185.5 L1699.2,2185.0 L1700.7,2184.6 L1702.2,2184.1 L1703.6,2183.6 L1705.1,2183.0 L1706.6,2182.5 L1708.0,2181.9 L1709.5,2181.4 L1711.0,2180.8 L1712.4,2180.2 L1713.9,2179.5 L1715.4,2178.8 L1716.8,2178.2 L1718.3,2177.4 L1719.8,2176.7 L1721.2,2175.9 L1722.7,2175.1 L1724.2,2174.3 L1725.6,2173.4 L1727.1,2172.5 L1728.6,2171.6 L1730.0,2170.6 L1731.5,2169.6 L1733.0,2168.5 L1734.4,2167.4 L1735.9,2166.2 L1737.4,2165.0 L1738.8,2163.8 L1740.3,2162.5 L1741.8,2161.1 L1743.2,2159.6 L1744.7,2158.2 L1746.2,2156.6 L1747.6,2155.0 L1749.1,2153.2 L1750.6,2151.5 L1752.0,2149.6 L1753.5,2147.6 L1755.0,2145.6 L1756.4,2143.4 L1757.9,2141.2 L1759.4,2138.8 L1760.8,2136.4 L1762.3,2133.8 L1763.8,2131.1 L1765.2,2128.3 L1766.7,2125.3 L1768.2,2122.2 L1769.6,2119.0 L1771.1,2115.6 L1772.6,2112.1 L1774.0,2108.4 L1775.5,2104.5 L1777.0,2100.5 L1778.4,2096.4 L1779.9,2092.1 L1781.4,2087.6 L1782.8,2083.0 L1784.3,2078.2 L1785.8,2073.3 L1787.2,2068.3 L1788.7,2063.1 L1790.2,2057.9 L1791.6,2052.7 L1793.1,2047.4 L1794.6,2042.1 L1796.0,2036.8 L1797.5,2031.7 L1799.0,2026.7 L1800.4,2021.8 L1801.9,2017.3 L1803.4,2013.0 L1804.8,2009.1 L1806.3,2005.6 L1807.8,2002.6 L1809.2,2000.1 L1810.7,1998.2 L1812.2,1996.8 L1813.6,1996.1 L1815.1,1996.0 L1816.6,1996.5 L1818.0,1997.4 L1819.5,1998.8 L1821.0,2000.7 L1822.4,2003.1 L1823.9,2005.8 L1825.4,2008.9 L1826.8,2012.3 L1828.3,2016.1 L1829.8,2020.1 L1831.2,2024.3 L1832.7,2028.7 L1834.2,2033.2 L1835.6,2037.8 L1837.1,2042.5 L1838.6,2047.2 L1840.0,2051.9 L1841.5,2056.6 L1843.0,2061.3 L1844.4,2065.9 L1845.9,2070.4 L1847.4,2074.9 L1848.8,2079.2 L1850.3,2083.4 L1851.8,2087.6 L1853.2,2091.6 L1854.7,2095.4 L1856.2,2099.2 L1857.7,2102.8 L1859.1,2106.3 L1860.6,2109.7 L1862.1,2112.9 L1863.5,2116.0 L1865.0,2119.0 L1866.5,2121.9 L1867.9,2124.7 L1869.4,2127.4 L1870.9,2129.9 L1872.3,2132.4 L1873.8,2134.7 L1875.3,2137.0 L1876.7,2139.2 L1878.2,2141.3 L1879.7,2143.3 L1881.1,2145.2 L1882.6,2147.0 L1884.1,2148.8 L1885.5,2150.5 L1887.0,2152.2 L1888.5,2153.7 L1889.9,2155.2 L1891.4,2156.7 L1892.9,2158.1 L1894.3,2159.4 L1895.8,2160.7 L1897.3,2161.9 L1898.7,2163.1 L1900.2,2164.3 L1901.7,2165.4 L1903.1,2166.4 L1904.6,2167.5 L1906.1,2168.5 L1907.5,2169.4 L1909.0,2170.3 L1910.5,2171.2 L1911.9,2172.1 L1913.4,2172.9 L1914.9,2173.7 L1916.3,2174.5 L1917.8,2175.2 L1919.3,2175.9 L1920.7,2176.6 L1922.2,2177.3 L1923.7,2177.9 L1925.1,2178.5 L1926.6,2179.1 L1928.1,2179.7 L1929.5,2180.3 L1931.0,2180.8 L1932.5,2181.4 L1933.9,2181.9 L1935.4,2182.4 L1936.9,2182.9 L1938.3,2183.3 L1939.8,2183.8 L1941.3,2184.2 L1942.7,2184.7 L1944.2,2185.1 L1945.7,2185.5 L1947.1,2185.9 L1948.6,2186.3 L1950.1,2186.6 L1951.5,2187.0 L1953.0,2187.3 L1954.5,2187.7 L1955.9,2188.0 L1957.4,2188.3 L1958.9,2188.6 L1960.3,2188.9 L1961.8,2189.2 L1963.3,2189.5 L1964.7,2189.8 L1966.2,2190.1 L1967.7,2190.4 L1969.1,2190.6 L1970.6,2190.9 L1972.1,2191.1 L1973.5,2191.4 L1975.0,2191.6 L1976.5,2191.8 L1977.9,2192.0 L1979.4,2192.3 L1980.9,2192.5 L1982.3,2192.7 L1983.8,2192.9 L1985.3,2193.1 L1986.7,2193.3 L1988.2,2193.5 L1989.7,2193.6 L1991.1,2193.8 L1992.6,2194.0 L1994.1,2194.2 L1995.5,2194.3 L1997.0,2194.5 L1998.5,2194.7 L1999.9,2194.8 L2001.4,2195.0 L2002.9,2195.1 L2004.3,2195.3 L2005.8,2195.4 L2007.3,2195.5 L2008.7,2195.7 L2010.2,2195.8 L2011.7,2195.9 L2013.1,2196.1 L2014.6,2196.2 L2016.1,2196.3 L2017.5,2196.4 L2019.0,2196.6 L2020.5,2196.7 L2021.9,2196.8 L2023.4,2196.9 L2024.9,2197.0 L2026.3,2197.1 L2027.8,2197.2 L2029.3,2197.3 L2030.7,2197.4 L2032.2,2197.5 L2033.7,2197.6 L2035.1,2197.7 L2036.6,2197.8 L2038.1,2197.9 L2039.5,2198.0 L2041.0,2198.1" fill="none" stroke="#000" stroke-width="3.5" stroke-linejoin="round" clip-path="url(#clipf)"/>
<path d="M1307.6,2182.5 L1309.1,2182.5 L1310.5,2182.6 L1312.0,2182.6 L1313.5,2182.7 L1314.9,2182.8 L1316.4,2182.8 L1317.9,2182.9 L1319.3,2183.0 L1320.8,2183.0 L1322.3,2183.1 L1323.7,2183.2 L1325.2,2183.2 L1326.7,2183.3 L1328.1,2183.4 L1329.6,2183.5 L1331.1,2183.5 L1332.5,2183.6 L1334.0,2183.7 L1335.5,2183.8 L1336.9,2183.8 L1338.4,2183.9 L1339.9,2184.0 L1341.3,2184.1 L1342.8,2184.2 L1344.3,2184.3 L1345.7,2184.3 L1347.2,2184.4 L1348.7,2184.5 L1350.1,2184.6 L1351.6,2184.7 L1353.1,2184.8 L1354.5,2184.9 L1356.0,2185.0 L1357.5,2185.0 L1358.9,2185.1 L1360.4,2185.2 L1361.9,2185.3 L1363.3,2185.4 L1364.8,2185.5 L1366.3,2185.6 L1367.7,2185.7 L1369.2,2185.8 L1370.7,2185.9 L1372.1,2186.0 L1373.6,2186.1 L1375.1,2186.2 L1376.5,2186.3 L1378.0,2186.4 L1379.5,2186.5 L1380.9,2186.6 L1382.4,2186.7 L1383.9,2186.8 L1385.3,2186.9 L1386.8,2187.0 L1388.3,2187.1 L1389.7,2187.2 L1391.2,2187.2 L1392.7,2187.3 L1394.1,2187.4 L1395.6,2187.5 L1397.1,2187.6 L1398.5,2187.7 L1400.0,2187.8 L1401.5,2187.9 L1402.9,2188.0 L1404.4,2188.1 L1405.9,2188.2 L1407.3,2188.3 L1408.8,2188.4 L1410.3,2188.5 L1411.7,2188.6 L1413.2,2188.7 L1414.7,2188.8 L1416.1,2188.9 L1417.6,2189.0 L1419.1,2189.1 L1420.5,2189.2 L1422.0,2189.3 L1423.5,2189.4 L1424.9,2189.5 L1426.4,2189.6 L1427.9,2189.7 L1429.3,2189.8 L1430.8,2189.8 L1432.3,2189.9 L1433.7,2190.0 L1435.2,2190.1 L1436.7,2190.2 L1438.1,2190.3 L1439.6,2190.4 L1441.1,2190.5 L1442.5,2190.6 L1444.0,2190.7 L1445.5,2190.8 L1446.9,2190.9 L1448.4,2190.9 L1449.9,2191.0 L1451.3,2191.1 L1452.8,2191.2 L1454.3,2191.3 L1455.7,2191.4 L1457.2,2191.5 L1458.7,2191.6 L1460.1,2191.6 L1461.6,2191.7 L1463.1,2191.8 L1464.5,2191.9 L1466.0,2192.0 L1467.5,2192.1 L1468.9,2192.1 L1470.4,2192.2 L1471.9,2192.3 L1473.3,2192.4 L1474.8,2192.5 L1476.3,2192.5 L1477.7,2192.6 L1479.2,2192.7 L1480.7,2192.8 L1482.1,2192.9 L1483.6,2192.9 L1485.1,2193.0 L1486.5,2193.1 L1488.0,2193.2 L1489.5,2193.3 L1490.9,2193.3 L1492.4,2193.4 L1493.9,2193.5 L1495.4,2193.6 L1496.8,2193.6 L1498.3,2193.7 L1499.8,2193.8 L1501.2,2193.8 L1502.7,2193.9 L1504.2,2194.0 L1505.6,2194.1 L1507.1,2194.1 L1508.6,2194.2 L1510.0,2194.3 L1511.5,2194.3 L1513.0,2194.4 L1514.4,2194.5 L1515.9,2194.5 L1517.4,2194.6 L1518.8,2194.7 L1520.3,2194.7 L1521.8,2194.8 L1523.2,2194.9 L1524.7,2194.9 L1526.2,2195.0 L1527.6,2195.1 L1529.1,2195.1 L1530.6,2195.2 L1532.0,2195.2 L1533.5,2195.3 L1535.0,2195.4 L1536.4,2195.4 L1537.9,2195.5 L1539.4,2195.6 L1540.8,2195.6 L1542.3,2195.7 L1543.8,2195.7 L1545.2,2195.8 L1546.7,2195.8 L1548.2,2195.9 L1549.6,2196.0 L1551.1,2196.0 L1552.6,2196.1 L1554.0,2196.1 L1555.5,2196.2 L1557.0,2196.2 L1558.4,2196.3 L1559.9,2196.4 L1561.4,2196.4 L1562.8,2196.5 L1564.3,2196.5 L1565.8,2196.6 L1567.2,2196.6 L1568.7,2196.7 L1570.2,2196.7 L1571.6,2196.8 L1573.1,2196.8 L1574.6,2196.9 L1576.0,2196.9 L1577.5,2197.0 L1579.0,2197.0 L1580.4,2197.1 L1581.9,2197.1 L1583.4,2197.2 L1584.8,2197.2 L1586.3,2197.3 L1587.8,2197.3 L1589.2,2197.4 L1590.7,2197.4 L1592.2,2197.5 L1593.6,2197.5 L1595.1,2197.5 L1596.6,2197.6 L1598.0,2197.6 L1599.5,2197.7 L1601.0,2197.7 L1602.4,2197.8 L1603.9,2197.8 L1605.4,2197.8 L1606.8,2197.9 L1608.3,2197.9 L1609.8,2198.0 L1611.2,2198.0 L1612.7,2198.1 L1614.2,2198.1 L1615.6,2198.1 L1617.1,2198.2 L1618.6,2198.2 L1620.0,2198.3 L1621.5,2198.3 L1623.0,2198.3 L1624.4,2198.4 L1625.9,2198.4 L1627.4,2198.5 L1628.8,2198.5 L1630.3,2198.5 L1631.8,2198.6 L1633.2,2198.6 L1634.7,2198.6 L1636.2,2198.7 L1637.6,2198.7 L1639.1,2198.8 L1640.6,2198.8 L1642.0,2198.8 L1643.5,2198.9 L1645.0,2198.9 L1646.4,2198.9 L1647.9,2199.0 L1649.4,2199.0 L1650.8,2199.0 L1652.3,2199.1 L1653.8,2199.1 L1655.2,2199.1 L1656.7,2199.2 L1658.2,2199.2 L1659.6,2199.2 L1661.1,2199.3 L1662.6,2199.3 L1664.0,2199.3 L1665.5,2199.4 L1667.0,2199.4 L1668.4,2199.4 L1669.9,2199.5 L1671.4,2199.5 L1672.8,2199.5 L1674.3,2199.5 L1675.8,2199.6 L1677.2,2199.6 L1678.7,2199.6 L1680.2,2199.7 L1681.6,2199.7 L1683.1,2199.7 L1684.6,2199.8 L1686.0,2199.8 L1687.5,2199.8 L1689.0,2199.8 L1690.4,2199.9 L1691.9,2199.9 L1693.4,2199.9 L1694.8,2199.9 L1696.3,2200.0 L1697.8,2200.0 L1699.2,2200.0 L1700.7,2200.1 L1702.2,2200.1 L1703.6,2200.1 L1705.1,2200.1 L1706.6,2200.2 L1708.0,2200.2 L1709.5,2200.2 L1711.0,2200.2 L1712.4,2200.3 L1713.9,2200.3 L1715.4,2200.3 L1716.8,2200.3 L1718.3,2200.4 L1719.8,2200.4 L1721.2,2200.4 L1722.7,2200.4 L1724.2,2200.5 L1725.6,2200.5 L1727.1,2200.5 L1728.6,2200.5 L1730.0,2200.5 L1731.5,2200.6 L1733.0,2200.6 L1734.4,2200.6 L1735.9,2200.6 L1737.4,2200.7 L1738.8,2200.7 L1740.3,2200.7 L1741.8,2200.7 L1743.2,2200.8 L1744.7,2200.8 L1746.2,2200.8 L1747.6,2200.8 L1749.1,2200.8 L1750.6,2200.9 L1752.0,2200.9 L1753.5,2200.9 L1755.0,2200.9 L1756.4,2200.9 L1757.9,2201.0 L1759.4,2201.0 L1760.8,2201.0 L1762.3,2201.0 L1763.8,2201.0 L1765.2,2201.1 L1766.7,2201.1 L1768.2,2201.1 L1769.6,2201.1 L1771.1,2201.1 L1772.6,2201.2 L1774.0,2201.2 L1775.5,2201.2 L1777.0,2201.2 L1778.4,2201.2 L1779.9,2201.2 L1781.4,2201.3 L1782.8,2201.3 L1784.3,2201.3 L1785.8,2201.3 L1787.2,2201.3 L1788.7,2201.4 L1790.2,2201.4 L1791.6,2201.4 L1793.1,2201.4 L1794.6,2201.4 L1796.0,2201.4 L1797.5,2201.5 L1799.0,2201.5 L1800.4,2201.5 L1801.9,2201.5 L1803.4,2201.5 L1804.8,2201.5 L1806.3,2201.6 L1807.8,2201.6 L1809.2,2201.6 L1810.7,2201.6 L1812.2,2201.6 L1813.6,2201.6 L1815.1,2201.7 L1816.6,2201.7 L1818.0,2201.7 L1819.5,2201.7 L1821.0,2201.7 L1822.4,2201.7 L1823.9,2201.7 L1825.4,2201.8 L1826.8,2201.8 L1828.3,2201.8 L1829.8,2201.8 L1831.2,2201.8 L1832.7,2201.8 L1834.2,2201.8 L1835.6,2201.9 L1837.1,2201.9 L1838.6,2201.9 L1840.0,2201.9 L1841.5,2201.9 L1843.0,2201.9 L1844.4,2201.9 L1845.9,2202.0 L1847.4,2202.0 L1848.8,2202.0 L1850.3,2202.0 L1851.8,2202.0 L1853.2,2202.0 L1854.7,2202.0 L1856.2,2202.1 L1857.7,2202.1 L1859.1,2202.1 L1860.6,2202.1 L1862.1,2202.1 L1863.5,2202.1 L1865.0,2202.1 L1866.5,2202.1 L1867.9,2202.2 L1869.4,2202.2 L1870.9,2202.2 L1872.3,2202.2 L1873.8,2202.2 L1875.3,2202.2 L1876.7,2202.2 L1878.2,2202.2 L1879.7,2202.3 L1881.1,2202.3 L1882.6,2202.3 L1884.1,2202.3 L1885.5,2202.3 L1887.0,2202.3 L1888.5,2202.3 L1889.9,2202.3 L1891.4,2202.3 L1892.9,2202.4 L1894.3,2202.4 L1895.8,2202.4 L1897.3,2202.4 L1898.7,2202.4 L1900.2,2202.4 L1901.7,2202.4 L1903.1,2202.4 L1904.6,2202.4 L1906.1,2202.5 L1907.5,2202.5 L1909.0,2202.5 L1910.5,2202.5 L1911.9,2202.5 L1913.4,2202.5 L1914.9,2202.5 L1916.3,2202.5 L1917.8,2202.5 L1919.3,2202.5 L1920.7,2202.6 L1922.2,2202.6 L1923.7,2202.6 L1925.1,2202.6 L1926.6,2202.6 L1928.1,2202.6 L1929.5,2202.6 L1931.0,2202.6 L1932.5,2202.6 L1933.9,2202.6 L1935.4,2202.7 L1936.9,2202.7 L1938.3,2202.7 L1939.8,2202.7 L1941.3,2202.7 L1942.7,2202.7 L1944.2,2202.7 L1945.7,2202.7 L1947.1,2202.7 L1948.6,2202.7 L1950.1,2202.7 L1951.5,2202.8 L1953.0,2202.8 L1954.5,2202.8 L1955.9,2202.8 L1957.4,2202.8 L1958.9,2202.8 L1960.3,2202.8 L1961.8,2202.8 L1963.3,2202.8 L1964.7,2202.8 L1966.2,2202.8 L1967.7,2202.9 L1969.1,2202.9 L1970.6,2202.9 L1972.1,2202.9 L1973.5,2202.9 L1975.0,2202.9 L1976.5,2202.9 L1977.9,2202.9 L1979.4,2202.9 L1980.9,2202.9 L1982.3,2202.9 L1983.8,2202.9 L1985.3,2203.0 L1986.7,2203.0 L1988.2,2203.0 L1989.7,2203.0 L1991.1,2203.0 L1992.6,2203.0 L1994.1,2203.0 L1995.5,2203.0 L1997.0,2203.0 L1998.5,2203.0 L1999.9,2203.0 L2001.4,2203.0 L2002.9,2203.0 L2004.3,2203.1 L2005.8,2203.1 L2007.3,2203.1 L2008.7,2203.1 L2010.2,2203.1 L2011.7,2203.1 L2013.1,2203.1 L2014.6,2203.1 L2016.1,2203.1 L2017.5,2203.1 L2019.0,2203.1 L2020.5,2203.1 L2021.9,2203.1 L2023.4,2203.1 L2024.9,2203.2 L2026.3,2203.2 L2027.8,2203.2 L2029.3,2203.2 L2030.7,2203.2 L2032.2,2203.2 L2033.7,2203.2 L2035.1,2203.2 L2036.6,2203.2 L2038.1,2203.2 L2039.5,2203.2 L2041.0,2203.2" fill="none" stroke="#000" stroke-width="3.5" stroke-linejoin="round" clip-path="url(#clipf)"/>
<path d="M1308.0,2169.2 L1331.4,2162.1 L1354.8,2152.8 L1378.2,2143.4 L1401.6,2132.9 L1425.0,2120.0 L1460.1,2098.9 L1483.5,2075.5 L1506.9,2040.4 L1518.6,2012.3 L1530.4,1979.6 L1542.1,1939.8 L1553.8,1897.6 L1565.5,1855.5 L1577.2,1825.1 L1588.9,1801.7 L1588.9,1799.3 L1599.4,1790.0 L1608.8,1799.3 L1631.0,1864.9 L1640.4,1902.3 L1649.7,1944.5 L1659.1,1977.2 L1668.4,1998.3 L1674.0,2010.0 L1691.6,2029.9 L1702.1,2019.4 L1713.8,1991.3 L1727.8,1949.1 L1744.2,1893.0 L1755.9,1850.8 L1767.6,1825.1 L1781.7,1805.2 L1795.7,1811.0 L1805.1,1832.1 L1819.1,1871.9 L1833.2,1925.7 L1842.5,1967.9 L1851.9,2010.0 L1865.9,2056.8 L1880.0,2096.6 L1896.4,2131.7 L1912.7,2155.1 L1931.5,2171.5 L1954.9,2180.9 L1978.3,2184.4 L2041.0,2187.9" fill="none" stroke="#FF3A2D" stroke-width="8" stroke-linejoin="round" clip-path="url(#clipf)"/>
<path d="M1308.0,2169.2 L1309.8,2168.6 L1312.2,2167.9 L1315.1,2167.1 L1318.2,2166.2 L1321.6,2165.2 L1325.0,2164.2 L1328.3,2163.2 L1331.4,2162.1 L1334.3,2161.1 L1337.3,2160.0 L1340.2,2158.8 L1343.1,2157.6 L1346.0,2156.4 L1349.0,2155.2 L1351.9,2154.0 L1354.8,2152.8 L1357.7,2151.6 L1360.7,2150.5 L1363.6,2149.3 L1366.5,2148.2 L1369.4,2147.0 L1372.4,2145.8 L1375.3,2144.6 L1378.2,2143.4 L1381.1,2142.2 L1384.1,2140.9 L1387.0,2139.6 L1389.9,2138.4 L1392.8,2137.0 L1395.8,2135.7 L1398.7,2134.3 L1401.6,2132.9 L1404.5,2131.4 L1407.2,2130.0 L1409.9,2128.6 L1412.6,2127.1 L1415.4,2125.5 L1418.4,2123.9 L1421.5,2122.0 L1425.0,2120.0 L1428.9,2117.8 L1433.3,2115.4 L1437.9,2112.8 L1442.6,2110.1 L1447.3,2107.4 L1451.9,2104.6 L1456.2,2101.7 L1460.1,2098.9 L1463.6,2096.2 L1466.8,2093.5 L1469.8,2090.8 L1472.6,2088.1 L1475.3,2085.3 L1478.0,2082.3 L1480.7,2079.0 L1483.5,2075.5 L1486.5,2071.7 L1489.7,2067.4 L1492.8,2062.9 L1496.0,2058.3 L1499.0,2053.6 L1501.9,2049.0 L1504.6,2044.6 L1506.9,2040.4 L1509.0,2036.6 L1510.7,2033.0 L1512.2,2029.6 L1513.5,2026.2 L1514.8,2022.9 L1516.0,2019.5 L1517.3,2016.0 L1518.6,2012.3 L1520.1,2008.5 L1521.6,2004.6 L1523.0,2000.7 L1524.5,1996.7 L1526.0,1992.6 L1527.4,1988.4 L1528.9,1984.0 L1530.4,1979.6 L1531.8,1974.9 L1533.3,1970.2 L1534.7,1965.3 L1536.2,1960.3 L1537.7,1955.2 L1539.1,1950.1 L1540.6,1944.9 L1542.1,1939.8 L1543.5,1934.6 L1545.0,1929.4 L1546.4,1924.2 L1547.9,1918.9 L1549.4,1913.6 L1550.8,1908.2 L1552.3,1902.9 L1553.8,1897.6 L1555.2,1892.3 L1556.7,1886.8 L1558.1,1881.3 L1559.6,1875.9 L1561.1,1870.5 L1562.5,1865.2 L1564.0,1860.2 L1565.5,1855.5 L1566.9,1851.1 L1568.4,1846.9 L1569.8,1842.9 L1571.3,1839.1 L1572.8,1835.5 L1574.2,1831.9 L1575.7,1828.5 L1577.2,1825.1 L1578.6,1821.7 L1580.1,1818.4 L1581.7,1815.1 L1583.2,1811.9 L1584.6,1809.0 L1586.1,1806.2 L1587.5,1803.8 L1588.9,1801.7 L1590.1,1799.9 L1591.4,1798.5 L1592.5,1797.2 L1593.7,1796.3 L1594.8,1795.5 L1595.9,1795.0 L1597.1,1794.8 L1598.2,1794.7 L1599.4,1794.8 L1600.5,1795.0 L1601.6,1795.5 L1602.8,1796.3 L1603.9,1797.2 L1605.1,1798.5 L1606.3,1799.9 L1607.6,1801.7 L1608.9,1803.7 L1610.4,1806.0 L1611.8,1808.5 L1613.3,1811.3 L1614.8,1814.4 L1616.3,1817.7 L1617.8,1821.3 L1619.3,1825.1 L1620.8,1829.3 L1622.3,1833.9 L1623.8,1838.9 L1625.3,1844.1 L1626.8,1849.4 L1628.2,1854.7 L1629.6,1859.9 L1631.0,1864.9 L1632.3,1869.6 L1633.5,1874.3 L1634.7,1878.9 L1635.8,1883.5 L1637.0,1888.0 L1638.1,1892.7 L1639.2,1897.4 L1640.4,1902.3 L1641.5,1907.4 L1642.7,1912.8 L1643.9,1918.2 L1645.0,1923.7 L1646.2,1929.1 L1647.4,1934.5 L1648.6,1939.6 L1649.7,1944.5 L1650.9,1949.1 L1652.1,1953.6 L1653.2,1957.9 L1654.4,1962.2 L1655.6,1966.2 L1656.7,1970.1 L1657.9,1973.8 L1659.1,1977.2 L1660.3,1980.5 L1661.5,1983.6 L1662.8,1986.5 L1664.0,1989.2 L1665.2,1991.8 L1666.4,1994.1 L1667.5,1996.3 L1668.4,1998.3 L1669.3,2000.0 L1669.9,2001.4 L1670.4,2002.6 L1670.9,2003.6 L1671.5,2004.5 L1672.1,2005.4 L1672.9,2006.5 L1674.0,2007.7 L1675.4,2009.1 L1677.0,2010.7 L1678.9,2012.5 L1680.8,2014.2 L1682.7,2015.9 L1684.7,2017.4 L1686.5,2018.6 L1688.0,2019.4 L1689.4,2019.9 L1690.5,2020.3 L1691.6,2020.5 L1692.6,2020.5 L1693.6,2020.2 L1694.7,2019.6 L1695.9,2018.5 L1697.4,2017.0 L1699.1,2015.0 L1701.1,2012.6 L1703.1,2009.8 L1705.3,2006.6 L1707.5,2003.2 L1709.7,1999.4 L1711.8,1995.4 L1713.8,1991.3 L1715.6,1986.9 L1717.4,1982.2 L1719.1,1977.3 L1720.8,1972.1 L1722.5,1966.7 L1724.2,1961.0 L1726.0,1955.2 L1727.8,1949.1 L1729.8,1942.7 L1731.9,1935.8 L1734.0,1928.5 L1736.2,1921.1 L1738.3,1913.6 L1740.4,1906.4 L1742.4,1899.4 L1744.2,1893.0 L1745.9,1886.9 L1747.5,1881.0 L1748.9,1875.3 L1750.4,1869.9 L1751.7,1864.6 L1753.1,1859.7 L1754.5,1855.1 L1755.9,1850.8 L1757.4,1847.0 L1758.8,1843.6 L1760.2,1840.5 L1761.6,1837.7 L1763.1,1835.0 L1764.5,1832.5 L1766.0,1830.0 L1767.6,1827.4 L1769.3,1824.7 L1771.0,1821.9 L1772.7,1819.0 L1774.5,1816.3 L1776.3,1813.8 L1778.1,1811.6 L1779.9,1809.9 L1781.7,1808.7 L1783.5,1808.1 L1785.3,1807.9 L1787.1,1808.1 L1789.0,1808.7 L1790.8,1809.6 L1792.5,1810.7 L1794.2,1812.0 L1795.7,1813.4 L1797.1,1814.9 L1798.3,1816.6 L1799.4,1818.5 L1800.4,1820.6 L1801.4,1822.9 L1802.5,1825.6 L1803.7,1828.7 L1805.1,1832.1 L1806.6,1836.0 L1808.3,1840.3 L1810.0,1844.9 L1811.8,1849.8 L1813.6,1855.0 L1815.5,1860.5 L1817.3,1866.1 L1819.1,1871.9 L1820.9,1878.0 L1822.7,1884.6 L1824.6,1891.6 L1826.4,1898.7 L1828.2,1905.8 L1830.0,1912.8 L1831.6,1919.5 L1833.2,1925.7 L1834.6,1931.6 L1835.8,1937.1 L1837.0,1942.4 L1838.1,1947.5 L1839.2,1952.6 L1840.3,1957.6 L1841.4,1962.7 L1842.5,1967.9 L1843.7,1973.1 L1844.8,1978.3 L1845.8,1983.5 L1846.9,1988.6 L1848.0,1993.9 L1849.2,1999.1 L1850.5,2004.5 L1851.9,2010.0 L1853.4,2015.7 L1855.1,2021.5 L1856.8,2027.5 L1858.6,2033.5 L1860.5,2039.6 L1862.3,2045.5 L1864.1,2051.3 L1865.9,2056.8 L1867.7,2062.1 L1869.4,2067.4 L1871.1,2072.4 L1872.8,2077.4 L1874.5,2082.3 L1876.3,2087.1 L1878.1,2091.9 L1880.0,2096.6 L1881.9,2101.3 L1883.9,2106.0 L1885.9,2110.6 L1888.0,2115.2 L1890.1,2119.6 L1892.2,2123.9 L1894.3,2127.9 L1896.4,2131.7 L1898.4,2135.3 L1900.4,2138.6 L1902.4,2141.8 L1904.4,2144.7 L1906.4,2147.5 L1908.5,2150.2 L1910.6,2152.7 L1912.7,2155.1 L1914.9,2157.3 L1917.1,2159.4 L1919.4,2161.3 L1921.7,2163.0 L1924.0,2164.6 L1926.4,2166.2 L1928.9,2167.7 L1931.5,2169.2 L1934.2,2170.6 L1937.0,2171.9 L1939.9,2173.2 L1942.9,2174.4 L1945.9,2175.6 L1948.9,2176.6 L1951.9,2177.6 L1954.9,2178.5 L1957.5,2179.3 L1959.8,2180.0 L1961.9,2180.6 L1964.1,2181.1 L1966.6,2181.6 L1969.7,2182.1 L1973.5,2182.6 L1978.3,2183.2 L1984.7,2183.8 L1992.7,2184.5 L2001.7,2185.2 L2011.1,2185.8 L2020.3,2186.5 L2028.8,2187.0 L2035.9,2187.5 L2041.0,2187.9" fill="none" stroke="#000" stroke-width="9" stroke-linejoin="round" stroke-dasharray="50,25" clip-path="url(#clipf)"/>
<line x1="1783.6" y1="1721.2" x2="1864.6" y2="1721.2" stroke="#FF3A2D" stroke-width="8.3"/>
<line x1="1783.6" y1="1772.1" x2="1864.6" y2="1772.1" stroke="#000" stroke-width="8.3" stroke-dasharray="50,25"/>
<text x="1883.9" y="1734.4" font-size="37.48" text-anchor="start">C2</text>
<text x="1882.8" y="1786.2" font-size="37.48" text-anchor="start">Fit Sum</text>
<text x="1320.5" y="1742.4" font-size="67.93" text-anchor="start">C1s</text>
<text x="1065.1" y="1628.0" font-size="87.00" text-anchor="start">f)</text>
<text x="1324.1" y="1657.7" font-size="50.28" text-anchor="start">COOH</text>
<text x="1514.8" y="1657.7" font-size="50.12" text-anchor="start">C=OC−O</text>
<text x="1750.0" y="1660.6" font-size="48.94" text-anchor="start">C=C−C</text>
<clipPath id="clipg"><rect x="246.0" y="2474.4" width="731.5" height="509.3"/></clipPath>
<rect x="246.0" y="2474.4" width="731.5" height="509.3" fill="none" stroke="#8c8c8c" stroke-width="1.8"/>
<line x1="246.0" y1="2975.7" x2="246.0" y2="2991.7" stroke="#707070" stroke-width="1.8"/>
<text x="246.5" y="3033.2" font-size="37.00" text-anchor="middle">534</text>
<line x1="337.4" y1="2979.7" x2="337.4" y2="2987.7" stroke="#707070" stroke-width="1.8"/>
<line x1="428.9" y1="2975.7" x2="428.9" y2="2991.7" stroke="#707070" stroke-width="1.8"/>
<text x="429.4" y="3033.2" font-size="37.00" text-anchor="middle">533</text>
<line x1="520.3" y1="2979.7" x2="520.3" y2="2987.7" stroke="#707070" stroke-width="1.8"/>
<line x1="611.8" y1="2975.7" x2="611.8" y2="2991.7" stroke="#707070" stroke-width="1.8"/>
<text x="612.2" y="3033.2" font-size="37.00" text-anchor="middle">532</text>
<line x1="703.2" y1="2979.7" x2="703.2" y2="2987.7" stroke="#707070" stroke-width="1.8"/>
<line x1="794.6" y1="2975.7" x2="794.6" y2="2991.7" stroke="#707070" stroke-width="1.8"/>
<text x="795.1" y="3033.2" font-size="37.00" text-anchor="middle">531</text>
<line x1="886.1" y1="2979.7" x2="886.1" y2="2987.7" stroke="#707070" stroke-width="1.8"/>
<line x1="977.5" y1="2975.7" x2="977.5" y2="2991.7" stroke="#707070" stroke-width="1.8"/>
<text x="978.0" y="3033.2" font-size="37.00" text-anchor="middle">530</text>
<line x1="246.0" y1="2983.7" x2="254.0" y2="2983.7" stroke="#707070" stroke-width="1.8"/>
<text x="230.2" y="2999.5" font-size="37" text-anchor="end">0.0×10<tspan font-size="24.5" dy="-13.8">0</tspan></text>
<line x1="246.0" y1="2910.8" x2="250.0" y2="2910.8" stroke="#707070" stroke-width="1.8"/>
<line x1="246.0" y1="2837.9" x2="254.0" y2="2837.9" stroke="#707070" stroke-width="1.8"/>
<text x="230.2" y="2853.7" font-size="37" text-anchor="end">2.0×10<tspan font-size="24.5" dy="-13.8">3</tspan></text>
<line x1="246.0" y1="2765.0" x2="250.0" y2="2765.0" stroke="#707070" stroke-width="1.8"/>
<line x1="246.0" y1="2692.2" x2="254.0" y2="2692.2" stroke="#707070" stroke-width="1.8"/>
<text x="230.2" y="2708.0" font-size="37" text-anchor="end">4.0×10<tspan font-size="24.5" dy="-13.8">3</tspan></text>
<line x1="246.0" y1="2619.3" x2="250.0" y2="2619.3" stroke="#707070" stroke-width="1.8"/>
<line x1="246.0" y1="2546.4" x2="254.0" y2="2546.4" stroke="#707070" stroke-width="1.8"/>
<text x="230.2" y="2562.2" font-size="37" text-anchor="end">6.0×10<tspan font-size="24.5" dy="-13.8">3</tspan></text>
<text x="446.5" y="3079.5" font-size="36.90" text-anchor="start">Binding Energy (eV)</text>
<text x="0" y="0" font-size="36.5" text-anchor="middle" transform="translate(89.0,2729.1) rotate(-90)">Intensity (CPS)</text>
<line x1="478.5" y1="2474.4" x2="478.5" y2="2983.7" stroke="#000" stroke-width="4.2" stroke-dasharray="8.2,8.5"/>
<line x1="607.9" y1="2474.4" x2="607.9" y2="2983.7" stroke="#000" stroke-width="4.2" stroke-dasharray="8.2,8.5"/>
<line x1="751.0" y1="2474.4" x2="751.0" y2="2983.7" stroke="#000" stroke-width="4.2" stroke-dasharray="8.2,8.5"/>
<path d="M246.0,2942.0 L247.5,2941.5 L248.9,2941.1 L250.4,2940.6 L251.9,2940.2 L253.3,2939.7 L254.8,2939.3 L256.2,2938.8 L257.7,2938.3 L259.2,2937.8 L260.6,2937.3 L262.1,2936.8 L263.6,2936.3 L265.0,2935.8 L266.5,2935.3 L267.9,2934.7 L269.4,2934.2 L270.9,2933.7 L272.3,2933.1 L273.8,2932.5 L275.3,2932.0 L276.7,2931.4 L278.2,2930.8 L279.6,2930.2 L281.1,2929.6 L282.6,2929.0 L284.0,2928.3 L285.5,2927.7 L287.0,2927.1 L288.4,2926.4 L289.9,2925.7 L291.4,2925.1 L292.8,2924.4 L294.3,2923.7 L295.7,2923.0 L297.2,2922.2 L298.7,2921.5 L300.1,2920.8 L301.6,2920.0 L303.1,2919.2 L304.5,2918.5 L306.0,2917.7 L307.4,2916.9 L308.9,2916.0 L310.4,2915.2 L311.8,2914.4 L313.3,2913.5 L314.8,2912.7 L316.2,2911.8 L317.7,2910.9 L319.1,2910.0 L320.6,2909.0 L322.1,2908.1 L323.5,2907.1 L325.0,2906.2 L326.5,2905.2 L327.9,2904.2 L329.4,2903.2 L330.9,2902.1 L332.3,2901.1 L333.8,2900.0 L335.2,2898.9 L336.7,2897.8 L338.2,2896.7 L339.6,2895.6 L341.1,2894.4 L342.6,2893.2 L344.0,2892.1 L345.5,2890.9 L346.9,2889.6 L348.4,2888.4 L349.9,2887.1 L351.3,2885.8 L352.8,2884.5 L354.3,2883.2 L355.7,2881.9 L357.2,2880.5 L358.7,2879.1 L360.1,2877.7 L361.6,2876.3 L363.0,2874.9 L364.5,2873.4 L366.0,2871.9 L367.4,2870.4 L368.9,2868.9 L370.4,2867.4 L371.8,2865.8 L373.3,2864.2 L374.7,2862.6 L376.2,2861.0 L377.7,2859.4 L379.1,2857.7 L380.6,2856.0 L382.1,2854.3 L383.5,2852.6 L385.0,2850.9 L386.4,2849.1 L387.9,2847.3 L389.4,2845.6 L390.8,2843.7 L392.3,2841.9 L393.8,2840.1 L395.2,2838.2 L396.7,2836.3 L398.2,2834.4 L399.6,2832.5 L401.1,2830.6 L402.5,2828.7 L404.0,2826.8 L405.5,2824.8 L406.9,2822.9 L408.4,2820.9 L409.9,2818.9 L411.3,2817.0 L412.8,2815.0 L414.2,2813.0 L415.7,2811.0 L417.2,2809.0 L418.6,2807.1 L420.1,2805.1 L421.6,2803.1 L423.0,2801.2 L424.5,2799.2 L425.9,2797.3 L427.4,2795.3 L428.9,2793.4 L430.3,2791.6 L431.8,2789.7 L433.3,2787.8 L434.7,2786.0 L436.2,2784.2 L437.7,2782.5 L439.1,2780.7 L440.6,2779.0 L442.0,2777.4 L443.5,2775.8 L445.0,2774.2 L446.4,2772.7 L447.9,2771.2 L449.4,2769.8 L450.8,2768.4 L452.3,2767.0 L453.7,2765.8 L455.2,2764.6 L456.7,2763.4 L458.1,2762.4 L459.6,2761.3 L461.1,2760.4 L462.5,2759.5 L464.0,2758.7 L465.5,2758.0 L466.9,2757.3 L468.4,2756.8 L469.8,2756.3 L471.3,2755.8 L472.8,2755.5 L474.2,2755.2 L475.7,2755.0 L477.2,2754.9 L478.6,2754.9 L480.1,2755.0 L481.5,2755.1 L483.0,2755.3 L484.5,2755.6 L485.9,2756.0 L487.4,2756.5 L488.9,2757.0 L490.3,2757.6 L491.8,2758.3 L493.2,2759.1 L494.7,2759.9 L496.2,2760.9 L497.6,2761.8 L499.1,2762.9 L500.6,2764.0 L502.0,2765.2 L503.5,2766.4 L505.0,2767.7 L506.4,2769.1 L507.9,2770.5 L509.3,2771.9 L510.8,2773.4 L512.3,2775.0 L513.7,2776.6 L515.2,2778.2 L516.7,2779.9 L518.1,2781.6 L519.6,2783.3 L521.0,2785.1 L522.5,2786.9 L524.0,2788.8 L525.4,2790.6 L526.9,2792.5 L528.4,2794.4 L529.8,2796.3 L531.3,2798.2 L532.7,2800.2 L534.2,2802.1 L535.7,2804.1 L537.1,2806.1 L538.6,2808.0 L540.1,2810.0 L541.5,2812.0 L543.0,2814.0 L544.5,2816.0 L545.9,2817.9 L547.4,2819.9 L548.8,2821.9 L550.3,2823.8 L551.8,2825.8 L553.2,2827.7 L554.7,2829.7 L556.2,2831.6 L557.6,2833.5 L559.1,2835.4 L560.5,2837.3 L562.0,2839.1 L563.5,2841.0 L564.9,2842.8 L566.4,2844.6 L567.9,2846.5 L569.3,2848.2 L570.8,2850.0 L572.2,2851.7 L573.7,2853.5 L575.2,2855.2 L576.6,2856.9 L578.1,2858.6 L579.6,2860.2 L581.0,2861.8 L582.5,2863.4 L584.0,2865.0 L585.4,2866.6 L586.9,2868.2 L588.3,2869.7 L589.8,2871.2 L591.3,2872.7 L592.7,2874.2 L594.2,2875.6 L595.7,2877.0 L597.1,2878.4 L598.6,2879.8 L600.0,2881.2 L601.5,2882.6 L603.0,2883.9 L604.4,2885.2 L605.9,2886.5 L607.4,2887.8 L608.8,2889.0 L610.3,2890.2 L611.8,2891.5 L613.2,2892.7 L614.7,2893.8 L616.1,2895.0 L617.6,2896.1 L619.1,2897.3 L620.5,2898.4 L622.0,2899.5 L623.5,2900.5 L624.9,2901.6 L626.4,2902.6 L627.8,2903.7 L629.3,2904.7 L630.8,2905.7 L632.2,2906.7 L633.7,2907.6 L635.2,2908.6 L636.6,2909.5 L638.1,2910.4 L639.5,2911.3 L641.0,2912.2 L642.5,2913.1 L643.9,2914.0 L645.4,2914.8 L646.9,2915.6 L648.3,2916.5 L649.8,2917.3 L651.3,2918.1 L652.7,2918.9 L654.2,2919.6 L655.6,2920.4 L657.1,2921.1 L658.6,2921.9 L660.0,2922.6 L661.5,2923.3 L663.0,2924.0 L664.4,2924.7 L665.9,2925.4 L667.3,2926.1 L668.8,2926.7 L670.3,2927.4 L671.7,2928.0 L673.2,2928.7 L674.7,2929.3 L676.1,2929.9 L677.6,2930.5 L679.0,2931.1 L680.5,2931.7 L682.0,2932.3 L683.4,2932.8 L684.9,2933.4 L686.4,2933.9 L687.8,2934.5 L689.3,2935.0 L690.8,2935.5 L692.2,2936.1 L693.7,2936.6 L695.1,2937.1 L696.6,2937.6 L698.1,2938.1 L699.5,2938.5 L701.0,2939.0 L702.5,2939.5 L703.9,2940.0 L705.4,2940.4 L706.8,2940.9 L708.3,2941.3 L709.8,2941.7 L711.2,2942.2 L712.7,2942.6 L714.2,2943.0 L715.6,2943.4 L717.1,2943.8 L718.5,2944.2 L720.0,2944.6 L721.5,2945.0 L722.9,2945.4 L724.4,2945.8 L725.9,2946.1 L727.3,2946.5 L728.8,2946.9 L730.3,2947.2 L731.7,2947.6 L733.2,2947.9 L734.6,2948.3 L736.1,2948.6 L737.6,2949.0 L739.0,2949.3 L740.5,2949.6 L742.0,2949.9 L743.4,2950.3 L744.9,2950.6 L746.3,2950.9 L747.8,2951.2 L749.3,2951.5 L750.7,2951.8 L752.2,2952.1 L753.7,2952.4 L755.1,2952.6 L756.6,2952.9 L758.0,2953.2 L759.5,2953.5 L761.0,2953.8 L762.4,2954.0 L763.9,2954.3 L765.4,2954.5 L766.8,2954.8 L768.3,2955.1 L769.8,2955.3 L771.2,2955.6 L772.7,2955.8 L774.1,2956.0 L775.6,2956.3 L777.1,2956.5 L778.5,2956.8 L780.0,2957.0 L781.5,2957.2 L782.9,2957.4 L784.4,2957.7 L785.8,2957.9 L787.3,2958.1 L788.8,2958.3 L790.2,2958.5 L791.7,2958.7 L793.2,2958.9 L794.6,2959.1 L796.1,2959.3 L797.6,2959.5 L799.0,2959.7 L800.5,2959.9 L801.9,2960.1 L803.4,2960.3 L804.9,2960.5 L806.3,2960.7 L807.8,2960.9 L809.3,2961.0 L810.7,2961.2 L812.2,2961.4 L813.6,2961.6 L815.1,2961.8 L816.6,2961.9 L818.0,2962.1 L819.5,2962.3 L821.0,2962.4 L822.4,2962.6 L823.9,2962.8 L825.3,2962.9 L826.8,2963.1 L828.3,2963.2 L829.7,2963.4 L831.2,2963.5 L832.7,2963.7 L834.1,2963.8 L835.6,2964.0 L837.1,2964.1 L838.5,2964.3 L840.0,2964.4 L841.4,2964.6 L842.9,2964.7 L844.4,2964.8 L845.8,2965.0 L847.3,2965.1 L848.8,2965.3 L850.2,2965.4 L851.7,2965.5 L853.1,2965.6 L854.6,2965.8 L856.1,2965.9 L857.5,2966.0 L859.0,2966.2 L860.5,2966.3 L861.9,2966.4 L863.4,2966.5 L864.8,2966.6 L866.3,2966.8 L867.8,2966.9 L869.2,2967.0 L870.7,2967.1 L872.2,2967.2 L873.6,2967.3 L875.1,2967.5 L876.6,2967.6 L878.0,2967.7 L879.5,2967.8 L880.9,2967.9 L882.4,2968.0 L883.9,2968.1 L885.3,2968.2 L886.8,2968.3 L888.3,2968.4 L889.7,2968.5 L891.2,2968.6 L892.6,2968.7 L894.1,2968.8 L895.6,2968.9 L897.0,2969.0 L898.5,2969.1 L900.0,2969.2 L901.4,2969.3 L902.9,2969.4 L904.4,2969.5 L905.8,2969.6 L907.3,2969.7 L908.7,2969.7 L910.2,2969.8 L911.7,2969.9 L913.1,2970.0 L914.6,2970.1 L916.1,2970.2 L917.5,2970.3 L919.0,2970.3 L920.4,2970.4 L921.9,2970.5 L923.4,2970.6 L924.8,2970.7 L926.3,2970.8 L927.8,2970.8 L929.2,2970.9 L930.7,2971.0 L932.1,2971.1 L933.6,2971.1 L935.1,2971.2 L936.5,2971.3 L938.0,2971.4 L939.5,2971.4 L940.9,2971.5 L942.4,2971.6 L943.9,2971.7 L945.3,2971.7 L946.8,2971.8 L948.2,2971.9 L949.7,2971.9 L951.2,2972.0 L952.6,2972.1 L954.1,2972.1 L955.6,2972.2 L957.0,2972.3 L958.5,2972.3 L959.9,2972.4 L961.4,2972.5 L962.9,2972.5 L964.3,2972.6 L965.8,2972.7 L967.3,2972.7 L968.7,2972.8 L970.2,2972.9 L971.6,2972.9 L973.1,2973.0 L974.6,2973.0 L976.0,2973.1 L977.5,2973.2" fill="none" stroke="#000" stroke-width="3.5" stroke-linejoin="round" clip-path="url(#clipg)"/>
<path d="M246.0,2955.2 L247.5,2955.0 L248.9,2954.8 L250.4,2954.6 L251.9,2954.4 L253.3,2954.2 L254.8,2953.9 L256.2,2953.7 L257.7,2953.5 L259.2,2953.3 L260.6,2953.0 L262.1,2952.8 L263.6,2952.6 L265.0,2952.3 L266.5,2952.1 L267.9,2951.8 L269.4,2951.6 L270.9,2951.3 L272.3,2951.1 L273.8,2950.8 L275.3,2950.6 L276.7,2950.3 L278.2,2950.0 L279.6,2949.8 L281.1,2949.5 L282.6,2949.2 L284.0,2949.0 L285.5,2948.7 L287.0,2948.4 L288.4,2948.1 L289.9,2947.8 L291.4,2947.5 L292.8,2947.2 L294.3,2946.9 L295.7,2946.6 L297.2,2946.3 L298.7,2946.0 L300.1,2945.7 L301.6,2945.4 L303.1,2945.0 L304.5,2944.7 L306.0,2944.4 L307.4,2944.1 L308.9,2943.7 L310.4,2943.4 L311.8,2943.0 L313.3,2942.7 L314.8,2942.3 L316.2,2942.0 L317.7,2941.6 L319.1,2941.2 L320.6,2940.9 L322.1,2940.5 L323.5,2940.1 L325.0,2939.7 L326.5,2939.3 L327.9,2938.9 L329.4,2938.5 L330.9,2938.1 L332.3,2937.7 L333.8,2937.3 L335.2,2936.8 L336.7,2936.4 L338.2,2936.0 L339.6,2935.5 L341.1,2935.1 L342.6,2934.6 L344.0,2934.2 L345.5,2933.7 L346.9,2933.3 L348.4,2932.8 L349.9,2932.3 L351.3,2931.8 L352.8,2931.3 L354.3,2930.8 L355.7,2930.3 L357.2,2929.8 L358.7,2929.3 L360.1,2928.7 L361.6,2928.2 L363.0,2927.7 L364.5,2927.1 L366.0,2926.5 L367.4,2926.0 L368.9,2925.4 L370.4,2924.8 L371.8,2924.2 L373.3,2923.6 L374.7,2923.0 L376.2,2922.4 L377.7,2921.8 L379.1,2921.1 L380.6,2920.5 L382.1,2919.8 L383.5,2919.2 L385.0,2918.5 L386.4,2917.8 L387.9,2917.1 L389.4,2916.5 L390.8,2915.7 L392.3,2915.0 L393.8,2914.3 L395.2,2913.6 L396.7,2912.8 L398.2,2912.0 L399.6,2911.3 L401.1,2910.5 L402.5,2909.7 L404.0,2908.9 L405.5,2908.1 L406.9,2907.2 L408.4,2906.4 L409.9,2905.5 L411.3,2904.7 L412.8,2903.8 L414.2,2902.9 L415.7,2902.0 L417.2,2901.1 L418.6,2900.1 L420.1,2899.2 L421.6,2898.2 L423.0,2897.2 L424.5,2896.2 L425.9,2895.2 L427.4,2894.2 L428.9,2893.2 L430.3,2892.1 L431.8,2891.0 L433.3,2890.0 L434.7,2888.9 L436.2,2887.7 L437.7,2886.6 L439.1,2885.4 L440.6,2884.3 L442.0,2883.1 L443.5,2881.9 L445.0,2880.7 L446.4,2879.4 L447.9,2878.2 L449.4,2876.9 L450.8,2875.6 L452.3,2874.3 L453.7,2872.9 L455.2,2871.6 L456.7,2870.2 L458.1,2868.8 L459.6,2867.4 L461.1,2865.9 L462.5,2864.5 L464.0,2863.0 L465.5,2861.5 L466.9,2859.9 L468.4,2858.4 L469.8,2856.8 L471.3,2855.2 L472.8,2853.6 L474.2,2852.0 L475.7,2850.3 L477.2,2848.6 L478.6,2846.9 L480.1,2845.1 L481.5,2843.4 L483.0,2841.6 L484.5,2839.8 L485.9,2837.9 L487.4,2836.1 L488.9,2834.2 L490.3,2832.3 L491.8,2830.4 L493.2,2828.4 L494.7,2826.4 L496.2,2824.4 L497.6,2822.4 L499.1,2820.3 L500.6,2818.2 L502.0,2816.1 L503.5,2814.0 L505.0,2811.8 L506.4,2809.6 L507.9,2807.4 L509.3,2805.2 L510.8,2803.0 L512.3,2800.7 L513.7,2798.4 L515.2,2796.1 L516.7,2793.7 L518.1,2791.4 L519.6,2789.0 L521.0,2786.6 L522.5,2784.2 L524.0,2781.8 L525.4,2779.3 L526.9,2776.8 L528.4,2774.4 L529.8,2771.9 L531.3,2769.4 L532.7,2766.8 L534.2,2764.3 L535.7,2761.8 L537.1,2759.2 L538.6,2756.7 L540.1,2754.1 L541.5,2751.6 L543.0,2749.0 L544.5,2746.5 L545.9,2743.9 L547.4,2741.4 L548.8,2738.8 L550.3,2736.3 L551.8,2733.8 L553.2,2731.3 L554.7,2728.8 L556.2,2726.4 L557.6,2723.9 L559.1,2721.5 L560.5,2719.1 L562.0,2716.8 L563.5,2714.5 L564.9,2712.2 L566.4,2709.9 L567.9,2707.7 L569.3,2705.6 L570.8,2703.5 L572.2,2701.4 L573.7,2699.4 L575.2,2697.5 L576.6,2695.6 L578.1,2693.7 L579.6,2692.0 L581.0,2690.3 L582.5,2688.7 L584.0,2687.1 L585.4,2685.6 L586.9,2684.2 L588.3,2682.9 L589.8,2681.7 L591.3,2680.5 L592.7,2679.5 L594.2,2678.5 L595.7,2677.7 L597.1,2676.9 L598.6,2676.2 L600.0,2675.6 L601.5,2675.1 L603.0,2674.7 L604.4,2674.4 L605.9,2674.2 L607.4,2674.1 L608.8,2674.1 L610.3,2674.2 L611.8,2674.4 L613.2,2674.7 L614.7,2675.1 L616.1,2675.6 L617.6,2676.2 L619.1,2676.9 L620.5,2677.7 L622.0,2678.5 L623.5,2679.5 L624.9,2680.5 L626.4,2681.7 L627.8,2682.9 L629.3,2684.2 L630.8,2685.6 L632.2,2687.1 L633.7,2688.7 L635.2,2690.3 L636.6,2692.0 L638.1,2693.7 L639.5,2695.6 L641.0,2697.5 L642.5,2699.4 L643.9,2701.4 L645.4,2703.5 L646.9,2705.6 L648.3,2707.7 L649.8,2709.9 L651.3,2712.2 L652.7,2714.5 L654.2,2716.8 L655.6,2719.1 L657.1,2721.5 L658.6,2723.9 L660.0,2726.4 L661.5,2728.8 L663.0,2731.3 L664.4,2733.8 L665.9,2736.3 L667.3,2738.8 L668.8,2741.4 L670.3,2743.9 L671.7,2746.5 L673.2,2749.0 L674.7,2751.6 L676.1,2754.1 L677.6,2756.7 L679.0,2759.2 L680.5,2761.8 L682.0,2764.3 L683.4,2766.8 L684.9,2769.4 L686.4,2771.9 L687.8,2774.4 L689.3,2776.8 L690.8,2779.3 L692.2,2781.8 L693.7,2784.2 L695.1,2786.6 L696.6,2789.0 L698.1,2791.4 L699.5,2793.7 L701.0,2796.1 L702.5,2798.4 L703.9,2800.7 L705.4,2803.0 L706.8,2805.2 L708.3,2807.4 L709.8,2809.6 L711.2,2811.8 L712.7,2814.0 L714.2,2816.1 L715.6,2818.2 L717.1,2820.3 L718.5,2822.4 L720.0,2824.4 L721.5,2826.4 L722.9,2828.4 L724.4,2830.4 L725.9,2832.3 L727.3,2834.2 L728.8,2836.1 L730.3,2837.9 L731.7,2839.8 L733.2,2841.6 L734.6,2843.4 L736.1,2845.1 L737.6,2846.9 L739.0,2848.6 L740.5,2850.3 L742.0,2852.0 L743.4,2853.6 L744.9,2855.2 L746.3,2856.8 L747.8,2858.4 L749.3,2859.9 L750.7,2861.5 L752.2,2863.0 L753.7,2864.5 L755.1,2865.9 L756.6,2867.4 L758.0,2868.8 L759.5,2870.2 L761.0,2871.6 L762.4,2872.9 L763.9,2874.3 L765.4,2875.6 L766.8,2876.9 L768.3,2878.2 L769.8,2879.4 L771.2,2880.7 L772.7,2881.9 L774.1,2883.1 L775.6,2884.3 L777.1,2885.4 L778.5,2886.6 L780.0,2887.7 L781.5,2888.9 L782.9,2890.0 L784.4,2891.0 L785.8,2892.1 L787.3,2893.2 L788.8,2894.2 L790.2,2895.2 L791.7,2896.2 L793.2,2897.2 L794.6,2898.2 L796.1,2899.2 L797.6,2900.1 L799.0,2901.1 L800.5,2902.0 L801.9,2902.9 L803.4,2903.8 L804.9,2904.7 L806.3,2905.5 L807.8,2906.4 L809.3,2907.2 L810.7,2908.1 L812.2,2908.9 L813.6,2909.7 L815.1,2910.5 L816.6,2911.3 L818.0,2912.0 L819.5,2912.8 L821.0,2913.6 L822.4,2914.3 L823.9,2915.0 L825.3,2915.7 L826.8,2916.5 L828.3,2917.1 L829.7,2917.8 L831.2,2918.5 L832.7,2919.2 L834.1,2919.8 L835.6,2920.5 L837.1,2921.1 L838.5,2921.8 L840.0,2922.4 L841.4,2923.0 L842.9,2923.6 L844.4,2924.2 L845.8,2924.8 L847.3,2925.4 L848.8,2926.0 L850.2,2926.5 L851.7,2927.1 L853.1,2927.7 L854.6,2928.2 L856.1,2928.7 L857.5,2929.3 L859.0,2929.8 L860.5,2930.3 L861.9,2930.8 L863.4,2931.3 L864.8,2931.8 L866.3,2932.3 L867.8,2932.8 L869.2,2933.3 L870.7,2933.7 L872.2,2934.2 L873.6,2934.6 L875.1,2935.1 L876.6,2935.5 L878.0,2936.0 L879.5,2936.4 L880.9,2936.8 L882.4,2937.3 L883.9,2937.7 L885.3,2938.1 L886.8,2938.5 L888.3,2938.9 L889.7,2939.3 L891.2,2939.7 L892.6,2940.1 L894.1,2940.5 L895.6,2940.9 L897.0,2941.2 L898.5,2941.6 L900.0,2942.0 L901.4,2942.3 L902.9,2942.7 L904.4,2943.0 L905.8,2943.4 L907.3,2943.7 L908.7,2944.1 L910.2,2944.4 L911.7,2944.7 L913.1,2945.0 L914.6,2945.4 L916.1,2945.7 L917.5,2946.0 L919.0,2946.3 L920.4,2946.6 L921.9,2946.9 L923.4,2947.2 L924.8,2947.5 L926.3,2947.8 L927.8,2948.1 L929.2,2948.4 L930.7,2948.7 L932.1,2949.0 L933.6,2949.2 L935.1,2949.5 L936.5,2949.8 L938.0,2950.0 L939.5,2950.3 L940.9,2950.6 L942.4,2950.8 L943.9,2951.1 L945.3,2951.3 L946.8,2951.6 L948.2,2951.8 L949.7,2952.1 L951.2,2952.3 L952.6,2952.6 L954.1,2952.8 L955.6,2953.0 L957.0,2953.3 L958.5,2953.5 L959.9,2953.7 L961.4,2953.9 L962.9,2954.2 L964.3,2954.4 L965.8,2954.6 L967.3,2954.8 L968.7,2955.0 L970.2,2955.2 L971.6,2955.4 L973.1,2955.6 L974.6,2955.9 L976.0,2956.1 L977.5,2956.3" fill="none" stroke="#000" stroke-width="3.5" stroke-linejoin="round" clip-path="url(#clipg)"/>
<path d="M246.0,2970.5 L247.5,2970.4 L248.9,2970.3 L250.4,2970.2 L251.9,2970.2 L253.3,2970.1 L254.8,2970.0 L256.2,2969.9 L257.7,2969.8 L259.2,2969.8 L260.6,2969.7 L262.1,2969.6 L263.6,2969.5 L265.0,2969.5 L266.5,2969.4 L267.9,2969.3 L269.4,2969.2 L270.9,2969.1 L272.3,2969.0 L273.8,2969.0 L275.3,2968.9 L276.7,2968.8 L278.2,2968.7 L279.6,2968.6 L281.1,2968.5 L282.6,2968.4 L284.0,2968.3 L285.5,2968.2 L287.0,2968.2 L288.4,2968.1 L289.9,2968.0 L291.4,2967.9 L292.8,2967.8 L294.3,2967.7 L295.7,2967.6 L297.2,2967.5 L298.7,2967.4 L300.1,2967.3 L301.6,2967.2 L303.1,2967.1 L304.5,2967.0 L306.0,2966.9 L307.4,2966.8 L308.9,2966.7 L310.4,2966.6 L311.8,2966.5 L313.3,2966.3 L314.8,2966.2 L316.2,2966.1 L317.7,2966.0 L319.1,2965.9 L320.6,2965.8 L322.1,2965.7 L323.5,2965.6 L325.0,2965.4 L326.5,2965.3 L327.9,2965.2 L329.4,2965.1 L330.9,2965.0 L332.3,2964.8 L333.8,2964.7 L335.2,2964.6 L336.7,2964.5 L338.2,2964.3 L339.6,2964.2 L341.1,2964.1 L342.6,2964.0 L344.0,2963.8 L345.5,2963.7 L346.9,2963.6 L348.4,2963.4 L349.9,2963.3 L351.3,2963.2 L352.8,2963.0 L354.3,2962.9 L355.7,2962.7 L357.2,2962.6 L358.7,2962.4 L360.1,2962.3 L361.6,2962.1 L363.0,2962.0 L364.5,2961.8 L366.0,2961.7 L367.4,2961.5 L368.9,2961.4 L370.4,2961.2 L371.8,2961.1 L373.3,2960.9 L374.7,2960.7 L376.2,2960.6 L377.7,2960.4 L379.1,2960.2 L380.6,2960.1 L382.1,2959.9 L383.5,2959.7 L385.0,2959.6 L386.4,2959.4 L387.9,2959.2 L389.4,2959.0 L390.8,2958.8 L392.3,2958.7 L393.8,2958.5 L395.2,2958.3 L396.7,2958.1 L398.2,2957.9 L399.6,2957.7 L401.1,2957.5 L402.5,2957.3 L404.0,2957.1 L405.5,2956.9 L406.9,2956.7 L408.4,2956.5 L409.9,2956.3 L411.3,2956.1 L412.8,2955.8 L414.2,2955.6 L415.7,2955.4 L417.2,2955.2 L418.6,2955.0 L420.1,2954.7 L421.6,2954.5 L423.0,2954.3 L424.5,2954.0 L425.9,2953.8 L427.4,2953.6 L428.9,2953.3 L430.3,2953.1 L431.8,2952.8 L433.3,2952.6 L434.7,2952.3 L436.2,2952.1 L437.7,2951.8 L439.1,2951.5 L440.6,2951.3 L442.0,2951.0 L443.5,2950.7 L445.0,2950.4 L446.4,2950.2 L447.9,2949.9 L449.4,2949.6 L450.8,2949.3 L452.3,2949.0 L453.7,2948.7 L455.2,2948.4 L456.7,2948.1 L458.1,2947.8 L459.6,2947.5 L461.1,2947.2 L462.5,2946.8 L464.0,2946.5 L465.5,2946.2 L466.9,2945.9 L468.4,2945.5 L469.8,2945.2 L471.3,2944.8 L472.8,2944.5 L474.2,2944.1 L475.7,2943.8 L477.2,2943.4 L478.6,2943.0 L480.1,2942.7 L481.5,2942.3 L483.0,2941.9 L484.5,2941.5 L485.9,2941.1 L487.4,2940.7 L488.9,2940.3 L490.3,2939.9 L491.8,2939.5 L493.2,2939.1 L494.7,2938.7 L496.2,2938.2 L497.6,2937.8 L499.1,2937.3 L500.6,2936.9 L502.0,2936.4 L503.5,2936.0 L505.0,2935.5 L506.4,2935.0 L507.9,2934.6 L509.3,2934.1 L510.8,2933.6 L512.3,2933.1 L513.7,2932.6 L515.2,2932.1 L516.7,2931.5 L518.1,2931.0 L519.6,2930.5 L521.0,2929.9 L522.5,2929.4 L524.0,2928.8 L525.4,2928.3 L526.9,2927.7 L528.4,2927.1 L529.8,2926.5 L531.3,2925.9 L532.7,2925.3 L534.2,2924.7 L535.7,2924.1 L537.1,2923.4 L538.6,2922.8 L540.1,2922.1 L541.5,2921.5 L543.0,2920.8 L544.5,2920.1 L545.9,2919.4 L547.4,2918.7 L548.8,2918.0 L550.3,2917.3 L551.8,2916.5 L553.2,2915.8 L554.7,2915.0 L556.2,2914.3 L557.6,2913.5 L559.1,2912.7 L560.5,2911.9 L562.0,2911.1 L563.5,2910.3 L564.9,2909.4 L566.4,2908.6 L567.9,2907.7 L569.3,2906.8 L570.8,2905.9 L572.2,2905.0 L573.7,2904.1 L575.2,2903.2 L576.6,2902.2 L578.1,2901.3 L579.6,2900.3 L581.0,2899.3 L582.5,2898.3 L584.0,2897.3 L585.4,2896.3 L586.9,2895.2 L588.3,2894.1 L589.8,2893.1 L591.3,2892.0 L592.7,2890.8 L594.2,2889.7 L595.7,2888.6 L597.1,2887.4 L598.6,2886.2 L600.0,2885.0 L601.5,2883.8 L603.0,2882.6 L604.4,2881.3 L605.9,2880.0 L607.4,2878.7 L608.8,2877.4 L610.3,2876.1 L611.8,2874.8 L613.2,2873.4 L614.7,2872.0 L616.1,2870.6 L617.6,2869.2 L619.1,2867.7 L620.5,2866.2 L622.0,2864.7 L623.5,2863.2 L624.9,2861.7 L626.4,2860.2 L627.8,2858.6 L629.3,2857.0 L630.8,2855.4 L632.2,2853.7 L633.7,2852.1 L635.2,2850.4 L636.6,2848.7 L638.1,2847.0 L639.5,2845.2 L641.0,2843.4 L642.5,2841.6 L643.9,2839.8 L645.4,2838.0 L646.9,2836.1 L648.3,2834.3 L649.8,2832.4 L651.3,2830.5 L652.7,2828.5 L654.2,2826.6 L655.6,2824.6 L657.1,2822.6 L658.6,2820.6 L660.0,2818.6 L661.5,2816.5 L663.0,2814.5 L664.4,2812.4 L665.9,2810.3 L667.3,2808.2 L668.8,2806.0 L670.3,2803.9 L671.7,2801.8 L673.2,2799.6 L674.7,2797.4 L676.1,2795.2 L677.6,2793.1 L679.0,2790.9 L680.5,2788.7 L682.0,2786.5 L683.4,2784.3 L684.9,2782.1 L686.4,2779.8 L687.8,2777.6 L689.3,2775.4 L690.8,2773.3 L692.2,2771.1 L693.7,2768.9 L695.1,2766.7 L696.6,2764.6 L698.1,2762.4 L699.5,2760.3 L701.0,2758.2 L702.5,2756.2 L703.9,2754.1 L705.4,2752.1 L706.8,2750.1 L708.3,2748.2 L709.8,2746.2 L711.2,2744.3 L712.7,2742.5 L714.2,2740.7 L715.6,2738.9 L717.1,2737.2 L718.5,2735.6 L720.0,2734.0 L721.5,2732.4 L722.9,2730.9 L724.4,2729.5 L725.9,2728.1 L727.3,2726.8 L728.8,2725.6 L730.3,2724.4 L731.7,2723.3 L733.2,2722.3 L734.6,2721.3 L736.1,2720.5 L737.6,2719.7 L739.0,2718.9 L740.5,2718.3 L742.0,2717.8 L743.4,2717.3 L744.9,2716.9 L746.3,2716.6 L747.8,2716.4 L749.3,2716.3 L750.7,2716.2 L752.2,2716.3 L753.7,2716.4 L755.1,2716.6 L756.6,2716.9 L758.0,2717.3 L759.5,2717.8 L761.0,2718.3 L762.4,2718.9 L763.9,2719.7 L765.4,2720.5 L766.8,2721.3 L768.3,2722.3 L769.8,2723.3 L771.2,2724.4 L772.7,2725.6 L774.1,2726.8 L775.6,2728.1 L777.1,2729.5 L778.5,2730.9 L780.0,2732.4 L781.5,2734.0 L782.9,2735.6 L784.4,2737.2 L785.8,2738.9 L787.3,2740.7 L788.8,2742.5 L790.2,2744.3 L791.7,2746.2 L793.2,2748.2 L794.6,2750.1 L796.1,2752.1 L797.6,2754.1 L799.0,2756.2 L800.5,2758.2 L801.9,2760.3 L803.4,2762.4 L804.9,2764.6 L806.3,2766.7 L807.8,2768.9 L809.3,2771.1 L810.7,2773.3 L812.2,2775.4 L813.6,2777.6 L815.1,2779.8 L816.6,2782.1 L818.0,2784.3 L819.5,2786.5 L821.0,2788.7 L822.4,2790.9 L823.9,2793.1 L825.3,2795.2 L826.8,2797.4 L828.3,2799.6 L829.7,2801.8 L831.2,2803.9 L832.7,2806.0 L834.1,2808.2 L835.6,2810.3 L837.1,2812.4 L838.5,2814.5 L840.0,2816.5 L841.4,2818.6 L842.9,2820.6 L844.4,2822.6 L845.8,2824.6 L847.3,2826.6 L848.8,2828.5 L850.2,2830.5 L851.7,2832.4 L853.1,2834.3 L854.6,2836.1 L856.1,2838.0 L857.5,2839.8 L859.0,2841.6 L860.5,2843.4 L861.9,2845.2 L863.4,2847.0 L864.8,2848.7 L866.3,2850.4 L867.8,2852.1 L869.2,2853.7 L870.7,2855.4 L872.2,2857.0 L873.6,2858.6 L875.1,2860.2 L876.6,2861.7 L878.0,2863.2 L879.5,2864.7 L880.9,2866.2 L882.4,2867.7 L883.9,2869.2 L885.3,2870.6 L886.8,2872.0 L888.3,2873.4 L889.7,2874.8 L891.2,2876.1 L892.6,2877.4 L894.1,2878.7 L895.6,2880.0 L897.0,2881.3 L898.5,2882.6 L900.0,2883.8 L901.4,2885.0 L902.9,2886.2 L904.4,2887.4 L905.8,2888.6 L907.3,2889.7 L908.7,2890.8 L910.2,2892.0 L911.7,2893.1 L913.1,2894.1 L914.6,2895.2 L916.1,2896.3 L917.5,2897.3 L919.0,2898.3 L920.4,2899.3 L921.9,2900.3 L923.4,2901.3 L924.8,2902.2 L926.3,2903.2 L927.8,2904.1 L929.2,2905.0 L930.7,2905.9 L932.1,2906.8 L933.6,2907.7 L935.1,2908.6 L936.5,2909.4 L938.0,2910.3 L939.5,2911.1 L940.9,2911.9 L942.4,2912.7 L943.9,2913.5 L945.3,2914.3 L946.8,2915.0 L948.2,2915.8 L949.7,2916.5 L951.2,2917.3 L952.6,2918.0 L954.1,2918.7 L955.6,2919.4 L957.0,2920.1 L958.5,2920.8 L959.9,2921.5 L961.4,2922.1 L962.9,2922.8 L964.3,2923.4 L965.8,2924.1 L967.3,2924.7 L968.7,2925.3 L970.2,2925.9 L971.6,2926.5 L973.1,2927.1 L974.6,2927.7 L976.0,2928.3 L977.5,2928.8" fill="none" stroke="#000" stroke-width="3.5" stroke-linejoin="round" clip-path="url(#clipg)"/>
<path d="M245.0,2914.0 L263.7,2907.0 L282.4,2885.9 L298.8,2867.2 L318.7,2850.8 L336.3,2827.4 L355.0,2806.4 L371.4,2778.3 L390.1,2750.2 L397.1,2740.8 L408.8,2708.1 L428.7,2670.6 L446.3,2642.5 L465.0,2612.1 L476.7,2588.7 L500.1,2548.9 L521.2,2541.9 L539.9,2520.8 L556.3,2496.2 L575.0,2498.6 L591.4,2486.9 L612.0,2481.0 L629.7,2490.4 L648.4,2497.4 L667.2,2516.1 L685.9,2502.1 L704.6,2520.8 L721.0,2539.5 L739.7,2562.9 L758.5,2580.5 L774.8,2605.1 L795.9,2642.5 L814.6,2680.0 L833.4,2717.4 L849.7,2743.2 L868.5,2783.0 L887.2,2811.0 L905.9,2834.4 L922.3,2864.9 L941.0,2881.3 L959.7,2895.3 L978.0,2916.4" fill="none" stroke="#0057D0" stroke-width="8" stroke-linejoin="round" clip-path="url(#clipg)"/>
<circle cx="263.7" cy="2907.0" r="2.8" fill="#4B0082"/>
<circle cx="282.4" cy="2885.9" r="2.8" fill="#4B0082"/>
<circle cx="298.8" cy="2867.2" r="2.8" fill="#4B0082"/>
<circle cx="318.7" cy="2850.8" r="2.8" fill="#4B0082"/>
<circle cx="336.3" cy="2827.4" r="2.8" fill="#4B0082"/>
<circle cx="355.0" cy="2806.4" r="2.8" fill="#4B0082"/>
<circle cx="371.4" cy="2778.3" r="2.8" fill="#4B0082"/>
<circle cx="390.1" cy="2750.2" r="2.8" fill="#4B0082"/>
<circle cx="397.1" cy="2740.8" r="2.8" fill="#4B0082"/>
<circle cx="408.8" cy="2708.1" r="2.8" fill="#4B0082"/>
<circle cx="428.7" cy="2670.6" r="2.8" fill="#4B0082"/>
<circle cx="446.3" cy="2642.5" r="2.8" fill="#4B0082"/>
<circle cx="465.0" cy="2612.1" r="2.8" fill="#4B0082"/>
<circle cx="476.7" cy="2588.7" r="2.8" fill="#4B0082"/>
<circle cx="500.1" cy="2548.9" r="2.8" fill="#4B0082"/>
<circle cx="521.2" cy="2541.9" r="2.8" fill="#4B0082"/>
<circle cx="539.9" cy="2520.8" r="2.8" fill="#4B0082"/>
<circle cx="556.3" cy="2496.2" r="2.8" fill="#4B0082"/>
<circle cx="575.0" cy="2498.6" r="2.8" fill="#4B0082"/>
<circle cx="591.4" cy="2486.9" r="2.8" fill="#4B0082"/>
<circle cx="612.0" cy="2481.0" r="2.8" fill="#4B0082"/>
<circle cx="629.7" cy="2490.4" r="2.8" fill="#4B0082"/>
<circle cx="648.4" cy="2497.4" r="2.8" fill="#4B0082"/>
<circle cx="667.2" cy="2516.1" r="2.8" fill="#4B0082"/>
<circle cx="685.9" cy="2502.1" r="2.8" fill="#4B0082"/>
<circle cx="704.6" cy="2520.8" r="2.8" fill="#4B0082"/>
<circle cx="721.0" cy="2539.5" r="2.8" fill="#4B0082"/>
<circle cx="739.7" cy="2562.9" r="2.8" fill="#4B0082"/>
<circle cx="758.5" cy="2580.5" r="2.8" fill="#4B0082"/>
<circle cx="774.8" cy="2605.1" r="2.8" fill="#4B0082"/>
<circle cx="795.9" cy="2642.5" r="2.8" fill="#4B0082"/>
<circle cx="814.6" cy="2680.0" r="2.8" fill="#4B0082"/>
<circle cx="833.4" cy="2717.4" r="2.8" fill="#4B0082"/>
<circle cx="849.7" cy="2743.2" r="2.8" fill="#4B0082"/>
<circle cx="868.5" cy="2783.0" r="2.8" fill="#4B0082"/>
<circle cx="887.2" cy="2811.0" r="2.8" fill="#4B0082"/>
<circle cx="905.9" cy="2834.4" r="2.8" fill="#4B0082"/>
<circle cx="922.3" cy="2864.9" r="2.8" fill="#4B0082"/>
<circle cx="941.0" cy="2881.3" r="2.8" fill="#4B0082"/>
<circle cx="959.7" cy="2895.3" r="2.8" fill="#4B0082"/>
<path d="M266.1,2888.3 L269.5,2886.0 L274.2,2883.0 L279.9,2879.3 L286.1,2875.3 L292.4,2871.1 L298.5,2867.0 L303.9,2863.3 L308.2,2860.2 L311.3,2857.7 L313.7,2855.8 L315.4,2854.1 L316.8,2852.6 L318.2,2851.0 L319.8,2849.1 L321.8,2846.8 L324.6,2843.8 L328.2,2840.0 L332.6,2835.5 L337.4,2830.6 L342.4,2825.4 L347.4,2820.1 L352.1,2815.1 L356.3,2810.4 L359.7,2806.4 L362.2,2803.1 L363.9,2800.4 L365.2,2798.2 L366.1,2796.1 L367.0,2794.0 L368.0,2791.7 L369.4,2788.8 L371.4,2785.3 L374.0,2780.9 L377.2,2775.9 L380.6,2770.3 L384.3,2764.5 L387.9,2758.7 L391.4,2753.0 L394.5,2747.8 L397.1,2743.2 L399.2,2739.3 L400.8,2736.0 L402.1,2733.0 L403.3,2730.3 L404.4,2727.6 L405.6,2724.6 L407.0,2721.3 L408.8,2717.4 L411.1,2712.8 L413.7,2707.6 L416.6,2702.0 L419.5,2696.2 L422.4,2690.4 L425.2,2684.9 L427.8,2679.8 L429.9,2675.3 L431.5,2671.6 L432.7,2668.6 L433.7,2666.1 L434.4,2663.7 L435.2,2661.4 L436.2,2658.8 L437.5,2655.7 L439.3,2651.9 L441.6,2647.2 L444.4,2641.8 L447.6,2635.8 L450.9,2629.6 L454.2,2623.5 L457.4,2617.5 L460.3,2612.1 L462.7,2607.4 L464.4,2603.6 L465.7,2600.4 L466.5,2597.6 L467.3,2595.1 L468.1,2592.7 L469.2,2590.2 L470.9,2587.3 L473.2,2584.0 L476.4,2580.0 L480.4,2575.6 L484.9,2570.9 L489.7,2566.0 L494.5,2561.2 L499.2,2556.6 L503.5,2552.5 L507.1,2548.9 L510.1,2546.1 L512.3,2543.8 L514.2,2542.1 L516.0,2540.5 L517.8,2538.9 L519.9,2537.2 L522.5,2535.2 L525.9,2532.5 L530.2,2529.2 L535.3,2525.4 L541.0,2521.2 L546.9,2516.8 L552.9,2512.4 L558.6,2508.2 L563.7,2504.3 L568.0,2500.9 L571.4,2498.0 L574.2,2495.3 L576.4,2492.8 L578.4,2490.6 L580.2,2488.5 L582.1,2486.6 L584.2,2484.9 L586.7,2483.4 L589.6,2481.9 L592.7,2480.6 L595.9,2479.5 L599.2,2478.6 L602.5,2477.8 L605.8,2477.3 L609.0,2476.9 L612.0,2476.8 L614.9,2476.9 L617.6,2477.2 L620.3,2477.8 L623.0,2478.5 L625.5,2479.4 L628.1,2480.6 L630.7,2481.9 L633.2,2483.4 L635.6,2485.1 L637.8,2487.1 L639.9,2489.3 L641.9,2491.7 L644.2,2494.2 L646.7,2496.8 L649.6,2499.4 L653.1,2502.1 L657.4,2504.9 L662.3,2507.9 L667.7,2511.0 L673.3,2514.2 L679.0,2517.4 L684.5,2520.4 L689.6,2523.1 L694.1,2525.5 L697.9,2527.4 L701.1,2528.8 L703.9,2529.9 L706.6,2530.9 L709.2,2531.9 L712.0,2533.2 L715.1,2534.9 L718.7,2537.2 L722.9,2540.2 L727.7,2543.6 L732.9,2547.5 L738.2,2551.7 L743.4,2555.9 L748.3,2560.1 L752.6,2564.0 L756.1,2567.6 L758.7,2570.7 L760.5,2573.5 L761.8,2576.0 L762.8,2578.4 L763.6,2581.0 L764.6,2583.9 L765.9,2587.1 L767.8,2591.0 L770.4,2595.7 L773.4,2601.2 L776.8,2607.1 L780.3,2613.3 L783.8,2619.4 L787.1,2625.4 L790.0,2630.8 L792.4,2635.5 L794.1,2639.3 L795.3,2642.3 L796.0,2644.9 L796.6,2647.2 L797.2,2649.5 L797.9,2652.1 L799.0,2655.1 L800.6,2658.9 L802.8,2663.6 L805.5,2669.0 L808.5,2675.0 L811.7,2681.1 L814.9,2687.3 L817.9,2693.2 L820.6,2698.7 L822.8,2703.4 L824.4,2707.2 L825.4,2710.2 L826.1,2712.8 L826.7,2715.1 L827.3,2717.4 L828.1,2719.9 L829.2,2723.0 L831.0,2726.8 L833.5,2731.5 L836.5,2737.0 L840.0,2742.9 L843.7,2749.2 L847.4,2755.4 L850.9,2761.3 L854.1,2766.7 L856.8,2771.2 L858.8,2774.9 L860.2,2777.7 L861.4,2780.0 L862.3,2782.1 L863.3,2784.1 L864.5,2786.3 L866.2,2788.9 L868.5,2792.3 L871.5,2796.6 L875.1,2801.5 L879.1,2806.9 L883.4,2812.5 L887.7,2818.1 L891.8,2823.4 L895.6,2828.1 L898.9,2832.1 L901.4,2835.2 L903.4,2837.5 L905.0,2839.2 L906.5,2840.7 L908.0,2842.2 L909.9,2843.8 L912.2,2845.8 L915.3,2848.5 L919.2,2851.9 L924.0,2856.0 L929.2,2860.5 L934.8,2865.2 L940.3,2869.8 L945.7,2874.2 L950.7,2878.1 L955.1,2881.3 L958.9,2883.8 L962.5,2885.9 L965.9,2887.7 L969.0,2889.2 L971.8,2890.4 L974.3,2891.3 L976.3,2892.2 L978.0,2893.0" fill="none" stroke="#FF4500" stroke-width="9" stroke-linejoin="round" stroke-dasharray="50,25" clip-path="url(#clipg)"/>
<line x1="269.8" y1="2508.5" x2="350.1" y2="2508.5" stroke="#0057D0" stroke-width="8.3"/>
<circle cx="310.0" cy="2508.5" r="2.6" fill="#4B0082"/>
<line x1="269.8" y1="2559.2" x2="350.1" y2="2559.2" stroke="#FF4500" stroke-width="8.3" stroke-dasharray="50,25"/>
<text x="368.7" y="2520.7" font-size="37.42" text-anchor="start">D2</text>
<text x="368.7" y="2572.3" font-size="37.42" text-anchor="start">Fit Sum</text>
<text x="829.8" y="2535.7" font-size="75.14" text-anchor="start">O1s</text>
<text x="26.5" y="2415.0" font-size="87.00" text-anchor="start">g)</text>
<text x="501.1" y="2417.3" font-size="49.27" text-anchor="start">C−O</text>
<text x="626.5" y="2417.3" font-size="49.27" text-anchor="start">C=O</text>
<clipPath id="cliph"><rect x="1308.8" y="2473.3" width="732.2" height="514.2"/></clipPath>
<rect x="1308.8" y="2473.3" width="732.2" height="514.2" fill="none" stroke="#8c8c8c" stroke-width="1.8"/>
<line x1="1308.8" y1="2979.5" x2="1308.8" y2="2995.5" stroke="#707070" stroke-width="1.8"/>
<text x="1309.3" y="3037.2" font-size="37.00" text-anchor="middle">290</text>
<line x1="1400.3" y1="2983.5" x2="1400.3" y2="2991.5" stroke="#707070" stroke-width="1.8"/>
<line x1="1491.8" y1="2979.5" x2="1491.8" y2="2995.5" stroke="#707070" stroke-width="1.8"/>
<text x="1492.3" y="3037.2" font-size="37.00" text-anchor="middle">288</text>
<line x1="1583.4" y1="2983.5" x2="1583.4" y2="2991.5" stroke="#707070" stroke-width="1.8"/>
<line x1="1674.9" y1="2979.5" x2="1674.9" y2="2995.5" stroke="#707070" stroke-width="1.8"/>
<text x="1675.4" y="3037.2" font-size="37.00" text-anchor="middle">286</text>
<line x1="1766.4" y1="2983.5" x2="1766.4" y2="2991.5" stroke="#707070" stroke-width="1.8"/>
<line x1="1858.0" y1="2979.5" x2="1858.0" y2="2995.5" stroke="#707070" stroke-width="1.8"/>
<text x="1858.5" y="3037.2" font-size="37.00" text-anchor="middle">284</text>
<line x1="1949.5" y1="2983.5" x2="1949.5" y2="2991.5" stroke="#707070" stroke-width="1.8"/>
<line x1="2041.0" y1="2979.5" x2="2041.0" y2="2995.5" stroke="#707070" stroke-width="1.8"/>
<text x="2041.5" y="3037.2" font-size="37.00" text-anchor="middle">282</text>
<line x1="1308.8" y1="2978.4" x2="1316.8" y2="2978.4" stroke="#707070" stroke-width="1.8"/>
<text x="1293.0" y="2994.2" font-size="37" text-anchor="end">0.0×10<tspan font-size="24.5" dy="-13.8">0</tspan></text>
<line x1="1308.8" y1="2932.2" x2="1312.8" y2="2932.2" stroke="#707070" stroke-width="1.8"/>
<line x1="1308.8" y1="2886.0" x2="1316.8" y2="2886.0" stroke="#707070" stroke-width="1.8"/>
<text x="1293.0" y="2901.8" font-size="37" text-anchor="end">1.0×10<tspan font-size="24.5" dy="-13.8">4</tspan></text>
<line x1="1308.8" y1="2839.9" x2="1312.8" y2="2839.9" stroke="#707070" stroke-width="1.8"/>
<line x1="1308.8" y1="2793.7" x2="1316.8" y2="2793.7" stroke="#707070" stroke-width="1.8"/>
<text x="1293.0" y="2809.5" font-size="37" text-anchor="end">2.0×10<tspan font-size="24.5" dy="-13.8">4</tspan></text>
<line x1="1308.8" y1="2747.5" x2="1312.8" y2="2747.5" stroke="#707070" stroke-width="1.8"/>
<line x1="1308.8" y1="2701.3" x2="1316.8" y2="2701.3" stroke="#707070" stroke-width="1.8"/>
<text x="1293.0" y="2717.1" font-size="37" text-anchor="end">3.0×10<tspan font-size="24.5" dy="-13.8">4</tspan></text>
<line x1="1308.8" y1="2655.1" x2="1312.8" y2="2655.1" stroke="#707070" stroke-width="1.8"/>
<line x1="1308.8" y1="2609.0" x2="1316.8" y2="2609.0" stroke="#707070" stroke-width="1.8"/>
<text x="1293.0" y="2624.8" font-size="37" text-anchor="end">4.0×10<tspan font-size="24.5" dy="-13.8">4</tspan></text>
<line x1="1308.8" y1="2562.8" x2="1312.8" y2="2562.8" stroke="#707070" stroke-width="1.8"/>
<line x1="1308.8" y1="2516.6" x2="1316.8" y2="2516.6" stroke="#707070" stroke-width="1.8"/>
<text x="1293.0" y="2532.4" font-size="37" text-anchor="end">5.0×10<tspan font-size="24.5" dy="-13.8">4</tspan></text>
<text x="1508.1" y="3086.4" font-size="37.17" text-anchor="start">Binding Energy (eV)</text>
<text x="0" y="0" font-size="36.5" text-anchor="middle" transform="translate(1155.3,2730.4) rotate(-90)">Intensity (CPS)</text>
<line x1="1612.8" y1="2473.3" x2="1612.8" y2="2987.5" stroke="#000" stroke-width="2" stroke-dasharray="3.8,3.8"/>
<line x1="1657.1" y1="2473.3" x2="1657.1" y2="2987.5" stroke="#000" stroke-width="2" stroke-dasharray="3.8,3.8"/>
<line x1="1819.9" y1="2473.3" x2="1819.9" y2="2987.5" stroke="#000" stroke-width="2" stroke-dasharray="3.8,3.8"/>
<path d="M1308.8,2978.4 L1310.3,2978.4 L1311.7,2978.4 L1313.2,2978.4 L1314.7,2978.4 L1316.1,2978.4 L1317.6,2978.4 L1319.1,2978.4 L1320.5,2978.4 L1322.0,2978.4 L1323.4,2978.4 L1324.9,2978.4 L1326.4,2978.4 L1327.8,2978.4 L1329.3,2978.4 L1330.8,2978.4 L1332.2,2978.4 L1333.7,2978.4 L1335.2,2978.4 L1336.6,2978.4 L1338.1,2978.4 L1339.6,2978.4 L1341.0,2978.4 L1342.5,2978.4 L1343.9,2978.4 L1345.4,2978.4 L1346.9,2978.4 L1348.3,2978.4 L1349.8,2978.4 L1351.3,2978.4 L1352.7,2978.4 L1354.2,2978.4 L1355.7,2978.4 L1357.1,2978.4 L1358.6,2978.4 L1360.1,2978.4 L1361.5,2978.4 L1363.0,2978.4 L1364.4,2978.4 L1365.9,2978.4 L1367.4,2978.4 L1368.8,2978.4 L1370.3,2978.4 L1371.8,2978.4 L1373.2,2978.4 L1374.7,2978.4 L1376.2,2978.4 L1377.6,2978.4 L1379.1,2978.4 L1380.6,2978.4 L1382.0,2978.4 L1383.5,2978.4 L1384.9,2978.4 L1386.4,2978.4 L1387.9,2978.4 L1389.3,2978.4 L1390.8,2978.4 L1392.3,2978.4 L1393.7,2978.4 L1395.2,2978.4 L1396.7,2978.4 L1398.1,2978.4 L1399.6,2978.4 L1401.1,2978.4 L1402.5,2978.4 L1404.0,2978.4 L1405.5,2978.4 L1406.9,2978.4 L1408.4,2978.4 L1409.8,2978.4 L1411.3,2978.4 L1412.8,2978.4 L1414.2,2978.4 L1415.7,2978.4 L1417.2,2978.4 L1418.6,2978.4 L1420.1,2978.4 L1421.6,2978.4 L1423.0,2978.4 L1424.5,2978.4 L1426.0,2978.4 L1427.4,2978.4 L1428.9,2978.4 L1430.3,2978.4 L1431.8,2978.4 L1433.3,2978.4 L1434.7,2978.4 L1436.2,2978.4 L1437.7,2978.4 L1439.1,2978.4 L1440.6,2978.4 L1442.1,2978.4 L1443.5,2978.4 L1445.0,2978.4 L1446.5,2978.4 L1447.9,2978.4 L1449.4,2978.4 L1450.8,2978.4 L1452.3,2978.4 L1453.8,2978.4 L1455.2,2978.4 L1456.7,2978.4 L1458.2,2978.4 L1459.6,2978.4 L1461.1,2978.4 L1462.6,2978.4 L1464.0,2978.4 L1465.5,2978.4 L1467.0,2978.4 L1468.4,2978.4 L1469.9,2978.4 L1471.3,2978.4 L1472.8,2978.4 L1474.3,2978.4 L1475.7,2978.4 L1477.2,2978.4 L1478.7,2978.4 L1480.1,2978.4 L1481.6,2978.4 L1483.1,2978.4 L1484.5,2978.4 L1486.0,2978.4 L1487.5,2978.4 L1488.9,2978.4 L1490.4,2978.4 L1491.8,2978.4 L1493.3,2978.4 L1494.8,2978.4 L1496.2,2978.4 L1497.7,2978.4 L1499.2,2978.4 L1500.6,2978.4 L1502.1,2978.4 L1503.6,2978.4 L1505.0,2978.4 L1506.5,2978.4 L1508.0,2978.4 L1509.4,2978.4 L1510.9,2978.4 L1512.4,2978.4 L1513.8,2978.4 L1515.3,2978.4 L1516.7,2978.4 L1518.2,2978.4 L1519.7,2978.4 L1521.1,2978.4 L1522.6,2978.4 L1524.1,2978.4 L1525.5,2978.4 L1527.0,2978.4 L1528.5,2978.4 L1529.9,2978.4 L1531.4,2978.4 L1532.9,2978.4 L1534.3,2978.4 L1535.8,2978.4 L1537.2,2978.4 L1538.7,2978.4 L1540.2,2978.4 L1541.6,2978.4 L1543.1,2978.4 L1544.6,2978.4 L1546.0,2978.4 L1547.5,2978.4 L1549.0,2978.4 L1550.4,2978.4 L1551.9,2978.4 L1553.4,2978.4 L1554.8,2978.4 L1556.3,2978.4 L1557.7,2978.4 L1559.2,2978.4 L1560.7,2978.4 L1562.1,2978.4 L1563.6,2978.4 L1565.1,2978.4 L1566.5,2978.4 L1568.0,2978.4 L1569.5,2978.4 L1570.9,2978.4 L1572.4,2978.4 L1573.9,2978.4 L1575.3,2978.4 L1576.8,2978.4 L1578.2,2978.4 L1579.7,2978.4 L1581.2,2978.4 L1582.6,2978.4 L1584.1,2978.4 L1585.6,2978.4 L1587.0,2978.4 L1588.5,2978.4 L1590.0,2978.4 L1591.4,2978.4 L1592.9,2978.4 L1594.4,2978.4 L1595.8,2978.4 L1597.3,2978.4 L1598.8,2978.4 L1600.2,2978.4 L1601.7,2978.4 L1603.1,2978.4 L1604.6,2978.4 L1606.1,2978.4 L1607.5,2978.4 L1609.0,2978.4 L1610.5,2978.4 L1611.9,2978.4 L1613.4,2978.4 L1614.9,2978.4 L1616.3,2978.4 L1617.8,2978.4 L1619.3,2978.4 L1620.7,2978.4 L1622.2,2978.4 L1623.6,2978.4 L1625.1,2978.4 L1626.6,2978.4 L1628.0,2978.4 L1629.5,2978.4 L1631.0,2978.4 L1632.4,2978.4 L1633.9,2978.4 L1635.4,2978.4 L1636.8,2978.4 L1638.3,2978.4 L1639.8,2978.4 L1641.2,2978.4 L1642.7,2978.4 L1644.1,2978.4 L1645.6,2978.4 L1647.1,2978.4 L1648.5,2978.4 L1650.0,2978.4 L1651.5,2978.4 L1652.9,2978.4 L1654.4,2978.4 L1655.9,2978.4 L1657.3,2978.4 L1658.8,2978.4 L1660.3,2978.4 L1661.7,2978.4 L1663.2,2978.4 L1664.6,2978.4 L1666.1,2978.4 L1667.6,2978.4 L1669.0,2978.4 L1670.5,2978.4 L1672.0,2978.4 L1673.4,2978.4 L1674.9,2978.4 L1676.4,2978.4 L1677.8,2978.4 L1679.3,2978.4 L1680.8,2978.4 L1682.2,2978.4 L1683.7,2978.4 L1685.2,2978.4 L1686.6,2978.4 L1688.1,2978.4 L1689.5,2978.4 L1691.0,2978.4 L1692.5,2978.4 L1693.9,2978.4 L1695.4,2978.4 L1696.9,2978.4 L1698.3,2978.4 L1699.8,2978.4 L1701.3,2978.4 L1702.7,2978.4 L1704.2,2978.4 L1705.7,2978.4 L1707.1,2978.4 L1708.6,2978.4 L1710.0,2978.4 L1711.5,2978.4 L1713.0,2978.4 L1714.4,2978.4 L1715.9,2978.4 L1717.4,2978.4 L1718.8,2978.4 L1720.3,2978.4 L1721.8,2978.4 L1723.2,2978.4 L1724.7,2978.4 L1726.2,2978.4 L1727.6,2978.4 L1729.1,2978.4 L1730.5,2978.4 L1732.0,2978.4 L1733.5,2978.4 L1734.9,2978.4 L1736.4,2978.4 L1737.9,2978.4 L1739.3,2978.4 L1740.8,2978.4 L1742.3,2978.4 L1743.7,2978.4 L1745.2,2978.4 L1746.7,2978.4 L1748.1,2978.4 L1749.6,2978.4 L1751.0,2978.4 L1752.5,2978.4 L1754.0,2978.4 L1755.4,2978.4 L1756.9,2978.4 L1758.4,2978.4 L1759.8,2978.4 L1761.3,2978.4 L1762.8,2978.4 L1764.2,2978.4 L1765.7,2978.4 L1767.2,2978.4 L1768.6,2978.4 L1770.1,2978.4 L1771.6,2978.4 L1773.0,2978.4 L1774.5,2978.4 L1775.9,2978.4 L1777.4,2978.4 L1778.9,2978.4 L1780.3,2978.4 L1781.8,2978.4 L1783.3,2978.4 L1784.7,2978.4 L1786.2,2978.4 L1787.7,2978.4 L1789.1,2978.4 L1790.6,2978.4 L1792.1,2978.4 L1793.5,2978.4 L1795.0,2978.4 L1796.4,2978.4 L1797.9,2978.4 L1799.4,2978.4 L1800.8,2978.4 L1802.3,2978.4 L1803.8,2978.4 L1805.2,2978.4 L1806.7,2978.4 L1808.2,2978.4 L1809.6,2978.4 L1811.1,2978.4 L1812.6,2978.4 L1814.0,2978.4 L1815.5,2978.4 L1816.9,2978.4 L1818.4,2978.4 L1819.9,2978.4 L1821.3,2978.4 L1822.8,2978.4 L1824.3,2978.4 L1825.7,2978.4 L1827.2,2978.4 L1828.7,2978.4 L1830.1,2978.4 L1831.6,2978.4 L1833.1,2978.4 L1834.5,2978.4 L1836.0,2978.4 L1837.4,2978.4 L1838.9,2978.4 L1840.4,2978.4 L1841.8,2978.4 L1843.3,2978.4 L1844.8,2978.4 L1846.2,2978.4 L1847.7,2978.4 L1849.2,2978.4 L1850.6,2978.4 L1852.1,2978.4 L1853.6,2978.4 L1855.0,2978.4 L1856.5,2978.4 L1858.0,2978.4 L1859.4,2978.4 L1860.9,2978.4 L1862.3,2978.4 L1863.8,2978.4 L1865.3,2978.4 L1866.7,2978.4 L1868.2,2978.4 L1869.7,2978.4 L1871.1,2978.4 L1872.6,2978.4 L1874.1,2978.4 L1875.5,2978.4 L1877.0,2978.4 L1878.5,2978.4 L1879.9,2978.4 L1881.4,2978.4 L1882.8,2978.4 L1884.3,2978.4 L1885.8,2978.4 L1887.2,2978.4 L1888.7,2978.4 L1890.2,2978.4 L1891.6,2978.4 L1893.1,2978.4 L1894.6,2978.4 L1896.0,2978.4 L1897.5,2978.4 L1899.0,2978.4 L1900.4,2978.4 L1901.9,2978.4 L1903.3,2978.4 L1904.8,2978.4 L1906.3,2978.4 L1907.7,2978.4 L1909.2,2978.4 L1910.7,2978.4 L1912.1,2978.4 L1913.6,2978.4 L1915.1,2978.4 L1916.5,2978.4 L1918.0,2978.4 L1919.5,2978.4 L1920.9,2978.4 L1922.4,2978.4 L1923.8,2978.4 L1925.3,2978.4 L1926.8,2978.4 L1928.2,2978.4 L1929.7,2978.4 L1931.2,2978.4 L1932.6,2978.4 L1934.1,2978.4 L1935.6,2978.4 L1937.0,2978.4 L1938.5,2978.4 L1940.0,2978.4 L1941.4,2978.4 L1942.9,2978.4 L1944.3,2978.4 L1945.8,2978.4 L1947.3,2978.4 L1948.7,2978.4 L1950.2,2978.4 L1951.7,2978.4 L1953.1,2978.4 L1954.6,2978.4 L1956.1,2978.4 L1957.5,2978.4 L1959.0,2978.4 L1960.5,2978.4 L1961.9,2978.4 L1963.4,2978.4 L1964.9,2978.4 L1966.3,2978.4 L1967.8,2978.4 L1969.2,2978.4 L1970.7,2978.4 L1972.2,2978.4 L1973.6,2978.4 L1975.1,2978.4 L1976.6,2978.4 L1978.0,2978.4 L1979.5,2978.4 L1981.0,2978.4 L1982.4,2978.4 L1983.9,2978.4 L1985.4,2978.4 L1986.8,2978.4 L1988.3,2978.4 L1989.7,2978.4 L1991.2,2978.4 L1992.7,2978.4 L1994.1,2978.4 L1995.6,2978.4 L1997.1,2978.4 L1998.5,2978.4 L2000.0,2978.4 L2001.5,2978.4 L2002.9,2978.4 L2004.4,2978.4 L2005.9,2978.4 L2007.3,2978.4 L2008.8,2978.4 L2010.2,2978.4 L2011.7,2978.4 L2013.2,2978.4 L2014.6,2978.4 L2016.1,2978.4 L2017.6,2978.4 L2019.0,2978.4 L2020.5,2978.4 L2022.0,2978.4 L2023.4,2978.4 L2024.9,2978.4 L2026.4,2978.4 L2027.8,2978.4 L2029.3,2978.4 L2030.7,2978.4 L2032.2,2978.4 L2033.7,2978.4 L2035.1,2978.4 L2036.6,2978.4 L2038.1,2978.4 L2039.5,2978.4 L2041.0,2978.4" fill="none" stroke="#000" stroke-width="3.5" stroke-linejoin="round" clip-path="url(#cliph)"/>
<path d="M1308.8,2973.0 L1310.3,2973.0 L1311.7,2973.0 L1313.2,2973.0 L1314.7,2973.0 L1316.1,2973.0 L1317.6,2973.0 L1319.1,2973.0 L1320.5,2973.0 L1322.0,2973.0 L1323.4,2973.0 L1324.9,2973.0 L1326.4,2973.0 L1327.8,2973.0 L1329.3,2973.0 L1330.8,2973.0 L1332.2,2973.0 L1333.7,2973.0 L1335.2,2973.0 L1336.6,2973.0 L1338.1,2973.0 L1339.6,2973.1 L1341.0,2973.1 L1342.5,2973.1 L1343.9,2973.1 L1345.4,2973.1 L1346.9,2973.1 L1348.3,2973.1 L1349.8,2973.1 L1351.3,2973.1 L1352.7,2973.1 L1354.2,2973.1 L1355.7,2973.1 L1357.1,2973.1 L1358.6,2973.1 L1360.1,2973.2 L1361.5,2973.2 L1363.0,2973.2 L1364.4,2973.2 L1365.9,2973.2 L1367.4,2973.2 L1368.8,2973.2 L1370.3,2973.2 L1371.8,2973.2 L1373.2,2973.2 L1374.7,2973.3 L1376.2,2973.3 L1377.6,2973.3 L1379.1,2973.3 L1380.6,2973.3 L1382.0,2973.3 L1383.5,2973.3 L1384.9,2973.3 L1386.4,2973.4 L1387.9,2973.4 L1389.3,2973.4 L1390.8,2973.4 L1392.3,2973.4 L1393.7,2973.4 L1395.2,2973.5 L1396.7,2973.5 L1398.1,2973.5 L1399.6,2973.5 L1401.1,2973.5 L1402.5,2973.5 L1404.0,2973.6 L1405.5,2973.6 L1406.9,2973.6 L1408.4,2973.6 L1409.8,2973.6 L1411.3,2973.7 L1412.8,2973.7 L1414.2,2973.7 L1415.7,2973.7 L1417.2,2973.8 L1418.6,2973.8 L1420.1,2973.8 L1421.6,2973.8 L1423.0,2973.9 L1424.5,2973.9 L1426.0,2973.9 L1427.4,2973.9 L1428.9,2974.0 L1430.3,2974.0 L1431.8,2974.0 L1433.3,2974.1 L1434.7,2974.1 L1436.2,2974.1 L1437.7,2974.2 L1439.1,2974.2 L1440.6,2974.2 L1442.1,2974.3 L1443.5,2974.3 L1445.0,2974.3 L1446.5,2974.4 L1447.9,2974.4 L1449.4,2974.4 L1450.8,2974.5 L1452.3,2974.5 L1453.8,2974.5 L1455.2,2974.6 L1456.7,2974.6 L1458.2,2974.7 L1459.6,2974.7 L1461.1,2974.7 L1462.6,2974.8 L1464.0,2974.8 L1465.5,2974.9 L1467.0,2974.9 L1468.4,2974.9 L1469.9,2975.0 L1471.3,2975.0 L1472.8,2975.1 L1474.3,2975.1 L1475.7,2975.1 L1477.2,2975.2 L1478.7,2975.2 L1480.1,2975.3 L1481.6,2975.3 L1483.1,2975.4 L1484.5,2975.4 L1486.0,2975.5 L1487.5,2975.5 L1488.9,2975.5 L1490.4,2975.6 L1491.8,2975.6 L1493.3,2975.7 L1494.8,2975.7 L1496.2,2975.8 L1497.7,2975.8 L1499.2,2975.9 L1500.6,2975.9 L1502.1,2975.9 L1503.6,2976.0 L1505.0,2976.0 L1506.5,2976.1 L1508.0,2976.1 L1509.4,2976.2 L1510.9,2976.2 L1512.4,2976.2 L1513.8,2976.3 L1515.3,2976.3 L1516.7,2976.4 L1518.2,2976.4 L1519.7,2976.4 L1521.1,2976.5 L1522.6,2976.5 L1524.1,2976.6 L1525.5,2976.6 L1527.0,2976.6 L1528.5,2976.7 L1529.9,2976.7 L1531.4,2976.8 L1532.9,2976.8 L1534.3,2976.8 L1535.8,2976.9 L1537.2,2976.9 L1538.7,2976.9 L1540.2,2977.0 L1541.6,2977.0 L1543.1,2977.0 L1544.6,2977.1 L1546.0,2977.1 L1547.5,2977.1 L1549.0,2977.2 L1550.4,2977.2 L1551.9,2977.2 L1553.4,2977.3 L1554.8,2977.3 L1556.3,2977.3 L1557.7,2977.3 L1559.2,2977.4 L1560.7,2977.4 L1562.1,2977.4 L1563.6,2977.4 L1565.1,2977.5 L1566.5,2977.5 L1568.0,2977.5 L1569.5,2977.5 L1570.9,2977.6 L1572.4,2977.6 L1573.9,2977.6 L1575.3,2977.6 L1576.8,2977.7 L1578.2,2977.7 L1579.7,2977.7 L1581.2,2977.7 L1582.6,2977.7 L1584.1,2977.7 L1585.6,2977.8 L1587.0,2977.8 L1588.5,2977.8 L1590.0,2977.8 L1591.4,2977.8 L1592.9,2977.9 L1594.4,2977.9 L1595.8,2977.9 L1597.3,2977.9 L1598.8,2977.9 L1600.2,2977.9 L1601.7,2977.9 L1603.1,2978.0 L1604.6,2978.0 L1606.1,2978.0 L1607.5,2978.0 L1609.0,2978.0 L1610.5,2978.0 L1611.9,2978.0 L1613.4,2978.0 L1614.9,2978.0 L1616.3,2978.1 L1617.8,2978.1 L1619.3,2978.1 L1620.7,2978.1 L1622.2,2978.1 L1623.6,2978.1 L1625.1,2978.1 L1626.6,2978.1 L1628.0,2978.1 L1629.5,2978.1 L1631.0,2978.1 L1632.4,2978.2 L1633.9,2978.2 L1635.4,2978.2 L1636.8,2978.2 L1638.3,2978.2 L1639.8,2978.2 L1641.2,2978.2 L1642.7,2978.2 L1644.1,2978.2 L1645.6,2978.2 L1647.1,2978.2 L1648.5,2978.2 L1650.0,2978.2 L1651.5,2978.2 L1652.9,2978.2 L1654.4,2978.2 L1655.9,2978.3 L1657.3,2978.3 L1658.8,2978.3 L1660.3,2978.3 L1661.7,2978.3 L1663.2,2978.3 L1664.6,2978.3 L1666.1,2978.3 L1667.6,2978.3 L1669.0,2978.3 L1670.5,2978.3 L1672.0,2978.3 L1673.4,2978.3 L1674.9,2978.3 L1676.4,2978.3 L1677.8,2978.3 L1679.3,2978.3 L1680.8,2978.3 L1682.2,2978.3 L1683.7,2978.3 L1685.2,2978.3 L1686.6,2978.3 L1688.1,2978.3 L1689.5,2978.3 L1691.0,2978.3 L1692.5,2978.3 L1693.9,2978.3 L1695.4,2978.3 L1696.9,2978.3 L1698.3,2978.3 L1699.8,2978.3 L1701.3,2978.3 L1702.7,2978.3 L1704.2,2978.3 L1705.7,2978.3 L1707.1,2978.4 L1708.6,2978.4 L1710.0,2978.4 L1711.5,2978.4 L1713.0,2978.4 L1714.4,2978.4 L1715.9,2978.4 L1717.4,2978.4 L1718.8,2978.4 L1720.3,2978.4 L1721.8,2978.4 L1723.2,2978.4 L1724.7,2978.4 L1726.2,2978.4 L1727.6,2978.4 L1729.1,2978.4 L1730.5,2978.4 L1732.0,2978.4 L1733.5,2978.4 L1734.9,2978.4 L1736.4,2978.4 L1737.9,2978.4 L1739.3,2978.4 L1740.8,2978.4 L1742.3,2978.4 L1743.7,2978.4 L1745.2,2978.4 L1746.7,2978.4 L1748.1,2978.4 L1749.6,2978.4 L1751.0,2978.4 L1752.5,2978.4 L1754.0,2978.4 L1755.4,2978.4 L1756.9,2978.4 L1758.4,2978.4 L1759.8,2978.4 L1761.3,2978.4 L1762.8,2978.4 L1764.2,2978.4 L1765.7,2978.4 L1767.2,2978.4 L1768.6,2978.4 L1770.1,2978.4 L1771.6,2978.4 L1773.0,2978.4 L1774.5,2978.4 L1775.9,2978.4 L1777.4,2978.4 L1778.9,2978.4 L1780.3,2978.4 L1781.8,2978.4 L1783.3,2978.4 L1784.7,2978.4 L1786.2,2978.4 L1787.7,2978.4 L1789.1,2978.4 L1790.6,2978.4 L1792.1,2978.4 L1793.5,2978.4 L1795.0,2978.4 L1796.4,2978.4 L1797.9,2978.4 L1799.4,2978.4 L1800.8,2978.4 L1802.3,2978.4 L1803.8,2978.4 L1805.2,2978.4 L1806.7,2978.4 L1808.2,2978.4 L1809.6,2978.4 L1811.1,2978.4 L1812.6,2978.4 L1814.0,2978.4 L1815.5,2978.4 L1816.9,2978.4 L1818.4,2978.4 L1819.9,2978.4 L1821.3,2978.4 L1822.8,2978.4 L1824.3,2978.4 L1825.7,2978.4 L1827.2,2978.4 L1828.7,2978.4 L1830.1,2978.4 L1831.6,2978.4 L1833.1,2978.4 L1834.5,2978.4 L1836.0,2978.4 L1837.4,2978.4 L1838.9,2978.4 L1840.4,2978.4 L1841.8,2978.4 L1843.3,2978.4 L1844.8,2978.4 L1846.2,2978.4 L1847.7,2978.4 L1849.2,2978.4 L1850.6,2978.4 L1852.1,2978.4 L1853.6,2978.4 L1855.0,2978.4 L1856.5,2978.4 L1858.0,2978.4 L1859.4,2978.4 L1860.9,2978.4 L1862.3,2978.4 L1863.8,2978.4 L1865.3,2978.4 L1866.7,2978.4 L1868.2,2978.4 L1869.7,2978.4 L1871.1,2978.4 L1872.6,2978.4 L1874.1,2978.4 L1875.5,2978.4 L1877.0,2978.4 L1878.5,2978.4 L1879.9,2978.4 L1881.4,2978.4 L1882.8,2978.4 L1884.3,2978.4 L1885.8,2978.4 L1887.2,2978.4 L1888.7,2978.4 L1890.2,2978.4 L1891.6,2978.4 L1893.1,2978.4 L1894.6,2978.4 L1896.0,2978.4 L1897.5,2978.4 L1899.0,2978.4 L1900.4,2978.4 L1901.9,2978.4 L1903.3,2978.4 L1904.8,2978.4 L1906.3,2978.4 L1907.7,2978.4 L1909.2,2978.4 L1910.7,2978.4 L1912.1,2978.4 L1913.6,2978.4 L1915.1,2978.4 L1916.5,2978.4 L1918.0,2978.4 L1919.5,2978.4 L1920.9,2978.4 L1922.4,2978.4 L1923.8,2978.4 L1925.3,2978.4 L1926.8,2978.4 L1928.2,2978.4 L1929.7,2978.4 L1931.2,2978.4 L1932.6,2978.4 L1934.1,2978.4 L1935.6,2978.4 L1937.0,2978.4 L1938.5,2978.4 L1940.0,2978.4 L1941.4,2978.4 L1942.9,2978.4 L1944.3,2978.4 L1945.8,2978.4 L1947.3,2978.4 L1948.7,2978.4 L1950.2,2978.4 L1951.7,2978.4 L1953.1,2978.4 L1954.6,2978.4 L1956.1,2978.4 L1957.5,2978.4 L1959.0,2978.4 L1960.5,2978.4 L1961.9,2978.4 L1963.4,2978.4 L1964.9,2978.4 L1966.3,2978.4 L1967.8,2978.4 L1969.2,2978.4 L1970.7,2978.4 L1972.2,2978.4 L1973.6,2978.4 L1975.1,2978.4 L1976.6,2978.4 L1978.0,2978.4 L1979.5,2978.4 L1981.0,2978.4 L1982.4,2978.4 L1983.9,2978.4 L1985.4,2978.4 L1986.8,2978.4 L1988.3,2978.4 L1989.7,2978.4 L1991.2,2978.4 L1992.7,2978.4 L1994.1,2978.4 L1995.6,2978.4 L1997.1,2978.4 L1998.5,2978.4 L2000.0,2978.4 L2001.5,2978.4 L2002.9,2978.4 L2004.4,2978.4 L2005.9,2978.4 L2007.3,2978.4 L2008.8,2978.4 L2010.2,2978.4 L2011.7,2978.4 L2013.2,2978.4 L2014.6,2978.4 L2016.1,2978.4 L2017.6,2978.4 L2019.0,2978.4 L2020.5,2978.4 L2022.0,2978.4 L2023.4,2978.4 L2024.9,2978.4 L2026.4,2978.4 L2027.8,2978.4 L2029.3,2978.4 L2030.7,2978.4 L2032.2,2978.4 L2033.7,2978.4 L2035.1,2978.4 L2036.6,2978.4 L2038.1,2978.4 L2039.5,2978.4 L2041.0,2978.4" fill="none" stroke="#000" stroke-width="3.5" stroke-linejoin="round" clip-path="url(#cliph)"/>
<path d="M1308.8,2977.1 L1310.3,2977.1 L1311.7,2977.1 L1313.2,2977.1 L1314.7,2977.0 L1316.1,2977.0 L1317.6,2977.0 L1319.1,2977.0 L1320.5,2977.0 L1322.0,2977.0 L1323.4,2977.0 L1324.9,2977.0 L1326.4,2977.0 L1327.8,2977.0 L1329.3,2977.0 L1330.8,2977.0 L1332.2,2976.9 L1333.7,2976.9 L1335.2,2976.9 L1336.6,2976.9 L1338.1,2976.9 L1339.6,2976.9 L1341.0,2976.9 L1342.5,2976.9 L1343.9,2976.9 L1345.4,2976.9 L1346.9,2976.9 L1348.3,2976.8 L1349.8,2976.8 L1351.3,2976.8 L1352.7,2976.8 L1354.2,2976.8 L1355.7,2976.8 L1357.1,2976.8 L1358.6,2976.8 L1360.1,2976.8 L1361.5,2976.8 L1363.0,2976.7 L1364.4,2976.7 L1365.9,2976.7 L1367.4,2976.7 L1368.8,2976.7 L1370.3,2976.7 L1371.8,2976.7 L1373.2,2976.7 L1374.7,2976.7 L1376.2,2976.6 L1377.6,2976.6 L1379.1,2976.6 L1380.6,2976.6 L1382.0,2976.6 L1383.5,2976.6 L1384.9,2976.6 L1386.4,2976.6 L1387.9,2976.6 L1389.3,2976.5 L1390.8,2976.5 L1392.3,2976.5 L1393.7,2976.5 L1395.2,2976.5 L1396.7,2976.5 L1398.1,2976.5 L1399.6,2976.4 L1401.1,2976.4 L1402.5,2976.4 L1404.0,2976.4 L1405.5,2976.4 L1406.9,2976.4 L1408.4,2976.4 L1409.8,2976.3 L1411.3,2976.3 L1412.8,2976.3 L1414.2,2976.3 L1415.7,2976.3 L1417.2,2976.3 L1418.6,2976.3 L1420.1,2976.2 L1421.6,2976.2 L1423.0,2976.2 L1424.5,2976.2 L1426.0,2976.2 L1427.4,2976.2 L1428.9,2976.1 L1430.3,2976.1 L1431.8,2976.1 L1433.3,2976.1 L1434.7,2976.1 L1436.2,2976.1 L1437.7,2976.0 L1439.1,2976.0 L1440.6,2976.0 L1442.1,2976.0 L1443.5,2976.0 L1445.0,2975.9 L1446.5,2975.9 L1447.9,2975.9 L1449.4,2975.9 L1450.8,2975.9 L1452.3,2975.9 L1453.8,2975.8 L1455.2,2975.8 L1456.7,2975.8 L1458.2,2975.8 L1459.6,2975.7 L1461.1,2975.7 L1462.6,2975.7 L1464.0,2975.7 L1465.5,2975.7 L1467.0,2975.6 L1468.4,2975.6 L1469.9,2975.6 L1471.3,2975.6 L1472.8,2975.5 L1474.3,2975.5 L1475.7,2975.5 L1477.2,2975.5 L1478.7,2975.4 L1480.1,2975.4 L1481.6,2975.4 L1483.1,2975.4 L1484.5,2975.3 L1486.0,2975.3 L1487.5,2975.3 L1488.9,2975.3 L1490.4,2975.2 L1491.8,2975.2 L1493.3,2975.2 L1494.8,2975.1 L1496.2,2975.1 L1497.7,2975.1 L1499.2,2975.1 L1500.6,2975.0 L1502.1,2975.0 L1503.6,2975.0 L1505.0,2974.9 L1506.5,2974.9 L1508.0,2974.9 L1509.4,2974.8 L1510.9,2974.8 L1512.4,2974.8 L1513.8,2974.7 L1515.3,2974.7 L1516.7,2974.7 L1518.2,2974.6 L1519.7,2974.6 L1521.1,2974.6 L1522.6,2974.5 L1524.1,2974.5 L1525.5,2974.4 L1527.0,2974.4 L1528.5,2974.4 L1529.9,2974.3 L1531.4,2974.3 L1532.9,2974.2 L1534.3,2974.2 L1535.8,2974.2 L1537.2,2974.1 L1538.7,2974.1 L1540.2,2974.0 L1541.6,2974.0 L1543.1,2973.9 L1544.6,2973.9 L1546.0,2973.8 L1547.5,2973.8 L1549.0,2973.7 L1550.4,2973.7 L1551.9,2973.6 L1553.4,2973.6 L1554.8,2973.5 L1556.3,2973.5 L1557.7,2973.4 L1559.2,2973.4 L1560.7,2973.3 L1562.1,2973.3 L1563.6,2973.2 L1565.1,2973.1 L1566.5,2973.1 L1568.0,2973.0 L1569.5,2973.0 L1570.9,2972.9 L1572.4,2972.8 L1573.9,2972.8 L1575.3,2972.7 L1576.8,2972.6 L1578.2,2972.6 L1579.7,2972.5 L1581.2,2972.4 L1582.6,2972.3 L1584.1,2972.3 L1585.6,2972.2 L1587.0,2972.1 L1588.5,2972.0 L1590.0,2972.0 L1591.4,2971.9 L1592.9,2971.8 L1594.4,2971.7 L1595.8,2971.6 L1597.3,2971.5 L1598.8,2971.4 L1600.2,2971.3 L1601.7,2971.3 L1603.1,2971.2 L1604.6,2971.1 L1606.1,2971.0 L1607.5,2970.9 L1609.0,2970.8 L1610.5,2970.7 L1611.9,2970.5 L1613.4,2970.4 L1614.9,2970.3 L1616.3,2970.2 L1617.8,2970.1 L1619.3,2970.0 L1620.7,2969.9 L1622.2,2969.7 L1623.6,2969.6 L1625.1,2969.5 L1626.6,2969.3 L1628.0,2969.2 L1629.5,2969.1 L1631.0,2968.9 L1632.4,2968.8 L1633.9,2968.6 L1635.4,2968.5 L1636.8,2968.3 L1638.3,2968.2 L1639.8,2968.0 L1641.2,2967.8 L1642.7,2967.7 L1644.1,2967.5 L1645.6,2967.3 L1647.1,2967.1 L1648.5,2966.9 L1650.0,2966.8 L1651.5,2966.6 L1652.9,2966.4 L1654.4,2966.1 L1655.9,2965.9 L1657.3,2965.7 L1658.8,2965.5 L1660.3,2965.3 L1661.7,2965.0 L1663.2,2964.8 L1664.6,2964.5 L1666.1,2964.3 L1667.6,2964.0 L1669.0,2963.7 L1670.5,2963.5 L1672.0,2963.2 L1673.4,2962.9 L1674.9,2962.6 L1676.4,2962.3 L1677.8,2962.0 L1679.3,2961.6 L1680.8,2961.3 L1682.2,2960.9 L1683.7,2960.6 L1685.2,2960.2 L1686.6,2959.8 L1688.1,2959.4 L1689.5,2959.0 L1691.0,2958.6 L1692.5,2958.2 L1693.9,2957.7 L1695.4,2957.2 L1696.9,2956.8 L1698.3,2956.3 L1699.8,2955.8 L1701.3,2955.2 L1702.7,2954.7 L1704.2,2954.1 L1705.7,2953.5 L1707.1,2952.9 L1708.6,2952.3 L1710.0,2951.6 L1711.5,2950.9 L1713.0,2950.2 L1714.4,2949.5 L1715.9,2948.7 L1717.4,2947.9 L1718.8,2947.1 L1720.3,2946.3 L1721.8,2945.4 L1723.2,2944.4 L1724.7,2943.5 L1726.2,2942.5 L1727.6,2941.4 L1729.1,2940.3 L1730.5,2939.2 L1732.0,2938.0 L1733.5,2936.7 L1734.9,2935.4 L1736.4,2934.0 L1737.9,2932.6 L1739.3,2931.1 L1740.8,2929.5 L1742.3,2927.8 L1743.7,2926.0 L1745.2,2924.2 L1746.7,2922.2 L1748.1,2920.2 L1749.6,2918.0 L1751.0,2915.7 L1752.5,2913.2 L1754.0,2910.6 L1755.4,2907.9 L1756.9,2905.0 L1758.4,2901.9 L1759.8,2898.6 L1761.3,2895.0 L1762.8,2891.3 L1764.2,2887.3 L1765.7,2883.1 L1767.2,2878.5 L1768.6,2873.7 L1770.1,2868.6 L1771.6,2863.1 L1773.0,2857.2 L1774.5,2850.9 L1775.9,2844.3 L1777.4,2837.2 L1778.9,2829.6 L1780.3,2821.5 L1781.8,2812.9 L1783.3,2803.8 L1784.7,2794.0 L1786.2,2783.8 L1787.7,2772.9 L1789.1,2761.3 L1790.6,2749.2 L1792.1,2736.4 L1793.5,2722.9 L1795.0,2708.9 L1796.4,2694.2 L1797.9,2679.1 L1799.4,2663.4 L1800.8,2647.3 L1802.3,2630.9 L1803.8,2614.4 L1805.2,2597.9 L1806.7,2581.7 L1808.2,2565.9 L1809.6,2550.8 L1811.1,2536.8 L1812.6,2524.0 L1814.0,2512.9 L1815.5,2503.6 L1816.9,2496.6 L1818.4,2491.8 L1819.9,2489.6 L1821.3,2489.9 L1822.8,2492.8 L1824.3,2498.1 L1825.7,2505.8 L1827.2,2515.5 L1828.7,2527.1 L1830.1,2540.2 L1831.6,2554.5 L1833.1,2569.8 L1834.5,2585.7 L1836.0,2602.0 L1837.4,2618.6 L1838.9,2635.0 L1840.4,2651.4 L1841.8,2667.3 L1843.3,2682.9 L1844.8,2698.0 L1846.2,2712.5 L1847.7,2726.4 L1849.2,2739.6 L1850.6,2752.3 L1852.1,2764.3 L1853.6,2775.6 L1855.0,2786.4 L1856.5,2796.5 L1858.0,2806.1 L1859.4,2815.1 L1860.9,2823.6 L1862.3,2831.5 L1863.8,2839.0 L1865.3,2846.0 L1866.7,2852.5 L1868.2,2858.7 L1869.7,2864.5 L1871.1,2869.9 L1872.6,2875.0 L1874.1,2879.7 L1875.5,2884.2 L1877.0,2888.3 L1878.5,2892.3 L1879.9,2895.9 L1881.4,2899.4 L1882.8,2902.6 L1884.3,2905.7 L1885.8,2908.6 L1887.2,2911.3 L1888.7,2913.8 L1890.2,2916.3 L1891.6,2918.5 L1893.1,2920.7 L1894.6,2922.7 L1896.0,2924.7 L1897.5,2926.5 L1899.0,2928.2 L1900.4,2929.9 L1901.9,2931.5 L1903.3,2933.0 L1904.8,2934.4 L1906.3,2935.7 L1907.7,2937.0 L1909.2,2938.3 L1910.7,2939.5 L1912.1,2940.6 L1913.6,2941.7 L1915.1,2942.7 L1916.5,2943.7 L1918.0,2944.7 L1919.5,2945.6 L1920.9,2946.5 L1922.4,2947.3 L1923.8,2948.1 L1925.3,2948.9 L1926.8,2949.7 L1928.2,2950.4 L1929.7,2951.1 L1931.2,2951.8 L1932.6,2952.4 L1934.1,2953.1 L1935.6,2953.7 L1937.0,2954.2 L1938.5,2954.8 L1940.0,2955.4 L1941.4,2955.9 L1942.9,2956.4 L1944.3,2956.9 L1945.8,2957.4 L1947.3,2957.8 L1948.7,2958.3 L1950.2,2958.7 L1951.7,2959.1 L1953.1,2959.5 L1954.6,2959.9 L1956.1,2960.3 L1957.5,2960.7 L1959.0,2961.0 L1960.5,2961.4 L1961.9,2961.7 L1963.4,2962.0 L1964.9,2962.3 L1966.3,2962.7 L1967.8,2963.0 L1969.2,2963.3 L1970.7,2963.5 L1972.2,2963.8 L1973.6,2964.1 L1975.1,2964.3 L1976.6,2964.6 L1978.0,2964.8 L1979.5,2965.1 L1981.0,2965.3 L1982.4,2965.5 L1983.9,2965.8 L1985.4,2966.0 L1986.8,2966.2 L1988.3,2966.4 L1989.7,2966.6 L1991.2,2966.8 L1992.7,2967.0 L1994.1,2967.2 L1995.6,2967.4 L1997.1,2967.5 L1998.5,2967.7 L2000.0,2967.9 L2001.5,2968.0 L2002.9,2968.2 L2004.4,2968.4 L2005.9,2968.5 L2007.3,2968.7 L2008.8,2968.8 L2010.2,2969.0 L2011.7,2969.1 L2013.2,2969.2 L2014.6,2969.4 L2016.1,2969.5 L2017.6,2969.6 L2019.0,2969.8 L2020.5,2969.9 L2022.0,2970.0 L2023.4,2970.1 L2024.9,2970.2 L2026.4,2970.4 L2027.8,2970.5 L2029.3,2970.6 L2030.7,2970.7 L2032.2,2970.8 L2033.7,2970.9 L2035.1,2971.0 L2036.6,2971.1 L2038.1,2971.2 L2039.5,2971.3 L2041.0,2971.4" fill="none" stroke="#000" stroke-width="3.5" stroke-linejoin="round" clip-path="url(#cliph)"/>
<path d="M1308.8,2978.3 L1310.3,2978.3 L1311.7,2978.3 L1313.2,2978.3 L1314.7,2978.3 L1316.1,2978.3 L1317.6,2978.3 L1319.1,2978.3 L1320.5,2978.3 L1322.0,2978.3 L1323.4,2978.3 L1324.9,2978.3 L1326.4,2978.3 L1327.8,2978.3 L1329.3,2978.3 L1330.8,2978.3 L1332.2,2978.3 L1333.7,2978.3 L1335.2,2978.3 L1336.6,2978.3 L1338.1,2978.3 L1339.6,2978.3 L1341.0,2978.3 L1342.5,2978.3 L1343.9,2978.3 L1345.4,2978.3 L1346.9,2978.3 L1348.3,2978.3 L1349.8,2978.3 L1351.3,2978.3 L1352.7,2978.3 L1354.2,2978.3 L1355.7,2978.3 L1357.1,2978.3 L1358.6,2978.3 L1360.1,2978.3 L1361.5,2978.3 L1363.0,2978.3 L1364.4,2978.3 L1365.9,2978.3 L1367.4,2978.3 L1368.8,2978.3 L1370.3,2978.3 L1371.8,2978.3 L1373.2,2978.3 L1374.7,2978.3 L1376.2,2978.3 L1377.6,2978.3 L1379.1,2978.3 L1380.6,2978.3 L1382.0,2978.3 L1383.5,2978.3 L1384.9,2978.3 L1386.4,2978.3 L1387.9,2978.3 L1389.3,2978.3 L1390.8,2978.3 L1392.3,2978.3 L1393.7,2978.3 L1395.2,2978.3 L1396.7,2978.3 L1398.1,2978.3 L1399.6,2978.3 L1401.1,2978.3 L1402.5,2978.3 L1404.0,2978.3 L1405.5,2978.3 L1406.9,2978.3 L1408.4,2978.3 L1409.8,2978.2 L1411.3,2978.2 L1412.8,2978.2 L1414.2,2978.2 L1415.7,2978.2 L1417.2,2978.2 L1418.6,2978.2 L1420.1,2978.2 L1421.6,2978.2 L1423.0,2978.2 L1424.5,2978.2 L1426.0,2978.2 L1427.4,2978.2 L1428.9,2978.2 L1430.3,2978.2 L1431.8,2978.2 L1433.3,2978.2 L1434.7,2978.2 L1436.2,2978.2 L1437.7,2978.2 L1439.1,2978.2 L1440.6,2978.2 L1442.1,2978.2 L1443.5,2978.2 L1445.0,2978.2 L1446.5,2978.2 L1447.9,2978.2 L1449.4,2978.2 L1450.8,2978.2 L1452.3,2978.2 L1453.8,2978.2 L1455.2,2978.2 L1456.7,2978.1 L1458.2,2978.1 L1459.6,2978.1 L1461.1,2978.1 L1462.6,2978.1 L1464.0,2978.1 L1465.5,2978.1 L1467.0,2978.1 L1468.4,2978.1 L1469.9,2978.1 L1471.3,2978.1 L1472.8,2978.1 L1474.3,2978.1 L1475.7,2978.1 L1477.2,2978.1 L1478.7,2978.1 L1480.1,2978.1 L1481.6,2978.0 L1483.1,2978.0 L1484.5,2978.0 L1486.0,2978.0 L1487.5,2978.0 L1488.9,2978.0 L1490.4,2978.0 L1491.8,2978.0 L1493.3,2978.0 L1494.8,2978.0 L1496.2,2978.0 L1497.7,2977.9 L1499.2,2977.9 L1500.6,2977.9 L1502.1,2977.9 L1503.6,2977.9 L1505.0,2977.9 L1506.5,2977.9 L1508.0,2977.9 L1509.4,2977.8 L1510.9,2977.8 L1512.4,2977.8 L1513.8,2977.8 L1515.3,2977.8 L1516.7,2977.8 L1518.2,2977.7 L1519.7,2977.7 L1521.1,2977.7 L1522.6,2977.7 L1524.1,2977.6 L1525.5,2977.6 L1527.0,2977.6 L1528.5,2977.6 L1529.9,2977.5 L1531.4,2977.5 L1532.9,2977.5 L1534.3,2977.4 L1535.8,2977.4 L1537.2,2977.4 L1538.7,2977.3 L1540.2,2977.3 L1541.6,2977.3 L1543.1,2977.2 L1544.6,2977.2 L1546.0,2977.1 L1547.5,2977.1 L1549.0,2977.0 L1550.4,2976.9 L1551.9,2976.9 L1553.4,2976.8 L1554.8,2976.7 L1556.3,2976.7 L1557.7,2976.6 L1559.2,2976.5 L1560.7,2976.4 L1562.1,2976.3 L1563.6,2976.2 L1565.1,2976.1 L1566.5,2975.9 L1568.0,2975.8 L1569.5,2975.7 L1570.9,2975.5 L1572.4,2975.3 L1573.9,2975.1 L1575.3,2974.9 L1576.8,2974.7 L1578.2,2974.5 L1579.7,2974.2 L1581.2,2973.9 L1582.6,2973.6 L1584.1,2973.3 L1585.6,2972.9 L1587.0,2972.5 L1588.5,2972.1 L1590.0,2971.6 L1591.4,2971.1 L1592.9,2970.6 L1594.4,2970.0 L1595.8,2969.3 L1597.3,2968.7 L1598.8,2968.0 L1600.2,2967.3 L1601.7,2966.5 L1603.1,2965.8 L1604.6,2965.1 L1606.1,2964.5 L1607.5,2963.9 L1609.0,2963.5 L1610.5,2963.2 L1611.9,2963.0 L1613.4,2963.0 L1614.9,2963.2 L1616.3,2963.5 L1617.8,2963.9 L1619.3,2964.5 L1620.7,2965.1 L1622.2,2965.8 L1623.6,2966.5 L1625.1,2967.3 L1626.6,2968.0 L1628.0,2968.7 L1629.5,2969.3 L1631.0,2970.0 L1632.4,2970.6 L1633.9,2971.1 L1635.4,2971.6 L1636.8,2972.1 L1638.3,2972.5 L1639.8,2972.9 L1641.2,2973.3 L1642.7,2973.6 L1644.1,2973.9 L1645.6,2974.2 L1647.1,2974.5 L1648.5,2974.7 L1650.0,2974.9 L1651.5,2975.1 L1652.9,2975.3 L1654.4,2975.5 L1655.9,2975.7 L1657.3,2975.8 L1658.8,2975.9 L1660.3,2976.1 L1661.7,2976.2 L1663.2,2976.3 L1664.6,2976.4 L1666.1,2976.5 L1667.6,2976.6 L1669.0,2976.7 L1670.5,2976.7 L1672.0,2976.8 L1673.4,2976.9 L1674.9,2976.9 L1676.4,2977.0 L1677.8,2977.1 L1679.3,2977.1 L1680.8,2977.2 L1682.2,2977.2 L1683.7,2977.3 L1685.2,2977.3 L1686.6,2977.3 L1688.1,2977.4 L1689.5,2977.4 L1691.0,2977.4 L1692.5,2977.5 L1693.9,2977.5 L1695.4,2977.5 L1696.9,2977.6 L1698.3,2977.6 L1699.8,2977.6 L1701.3,2977.6 L1702.7,2977.7 L1704.2,2977.7 L1705.7,2977.7 L1707.1,2977.7 L1708.6,2977.8 L1710.0,2977.8 L1711.5,2977.8 L1713.0,2977.8 L1714.4,2977.8 L1715.9,2977.8 L1717.4,2977.9 L1718.8,2977.9 L1720.3,2977.9 L1721.8,2977.9 L1723.2,2977.9 L1724.7,2977.9 L1726.2,2977.9 L1727.6,2977.9 L1729.1,2978.0 L1730.5,2978.0 L1732.0,2978.0 L1733.5,2978.0 L1734.9,2978.0 L1736.4,2978.0 L1737.9,2978.0 L1739.3,2978.0 L1740.8,2978.0 L1742.3,2978.0 L1743.7,2978.0 L1745.2,2978.1 L1746.7,2978.1 L1748.1,2978.1 L1749.6,2978.1 L1751.0,2978.1 L1752.5,2978.1 L1754.0,2978.1 L1755.4,2978.1 L1756.9,2978.1 L1758.4,2978.1 L1759.8,2978.1 L1761.3,2978.1 L1762.8,2978.1 L1764.2,2978.1 L1765.7,2978.1 L1767.2,2978.1 L1768.6,2978.1 L1770.1,2978.2 L1771.6,2978.2 L1773.0,2978.2 L1774.5,2978.2 L1775.9,2978.2 L1777.4,2978.2 L1778.9,2978.2 L1780.3,2978.2 L1781.8,2978.2 L1783.3,2978.2 L1784.7,2978.2 L1786.2,2978.2 L1787.7,2978.2 L1789.1,2978.2 L1790.6,2978.2 L1792.1,2978.2 L1793.5,2978.2 L1795.0,2978.2 L1796.4,2978.2 L1797.9,2978.2 L1799.4,2978.2 L1800.8,2978.2 L1802.3,2978.2 L1803.8,2978.2 L1805.2,2978.2 L1806.7,2978.2 L1808.2,2978.2 L1809.6,2978.2 L1811.1,2978.2 L1812.6,2978.2 L1814.0,2978.2 L1815.5,2978.2 L1816.9,2978.3 L1818.4,2978.3 L1819.9,2978.3 L1821.3,2978.3 L1822.8,2978.3 L1824.3,2978.3 L1825.7,2978.3 L1827.2,2978.3 L1828.7,2978.3 L1830.1,2978.3 L1831.6,2978.3 L1833.1,2978.3 L1834.5,2978.3 L1836.0,2978.3 L1837.4,2978.3 L1838.9,2978.3 L1840.4,2978.3 L1841.8,2978.3 L1843.3,2978.3 L1844.8,2978.3 L1846.2,2978.3 L1847.7,2978.3 L1849.2,2978.3 L1850.6,2978.3 L1852.1,2978.3 L1853.6,2978.3 L1855.0,2978.3 L1856.5,2978.3 L1858.0,2978.3 L1859.4,2978.3 L1860.9,2978.3 L1862.3,2978.3 L1863.8,2978.3 L1865.3,2978.3 L1866.7,2978.3 L1868.2,2978.3 L1869.7,2978.3 L1871.1,2978.3 L1872.6,2978.3 L1874.1,2978.3 L1875.5,2978.3 L1877.0,2978.3 L1878.5,2978.3 L1879.9,2978.3 L1881.4,2978.3 L1882.8,2978.3 L1884.3,2978.3 L1885.8,2978.3 L1887.2,2978.3 L1888.7,2978.3 L1890.2,2978.3 L1891.6,2978.3 L1893.1,2978.3 L1894.6,2978.3 L1896.0,2978.3 L1897.5,2978.3 L1899.0,2978.3 L1900.4,2978.3 L1901.9,2978.3 L1903.3,2978.3 L1904.8,2978.3 L1906.3,2978.3 L1907.7,2978.3 L1909.2,2978.3 L1910.7,2978.3 L1912.1,2978.3 L1913.6,2978.3 L1915.1,2978.3 L1916.5,2978.3 L1918.0,2978.3 L1919.5,2978.3 L1920.9,2978.3 L1922.4,2978.3 L1923.8,2978.3 L1925.3,2978.3 L1926.8,2978.3 L1928.2,2978.3 L1929.7,2978.3 L1931.2,2978.3 L1932.6,2978.3 L1934.1,2978.3 L1935.6,2978.3 L1937.0,2978.3 L1938.5,2978.3 L1940.0,2978.3 L1941.4,2978.3 L1942.9,2978.3 L1944.3,2978.3 L1945.8,2978.3 L1947.3,2978.3 L1948.7,2978.3 L1950.2,2978.3 L1951.7,2978.3 L1953.1,2978.3 L1954.6,2978.3 L1956.1,2978.3 L1957.5,2978.3 L1959.0,2978.3 L1960.5,2978.3 L1961.9,2978.3 L1963.4,2978.3 L1964.9,2978.3 L1966.3,2978.4 L1967.8,2978.4 L1969.2,2978.4 L1970.7,2978.4 L1972.2,2978.4 L1973.6,2978.4 L1975.1,2978.4 L1976.6,2978.4 L1978.0,2978.4 L1979.5,2978.4 L1981.0,2978.4 L1982.4,2978.4 L1983.9,2978.4 L1985.4,2978.4 L1986.8,2978.4 L1988.3,2978.4 L1989.7,2978.4 L1991.2,2978.4 L1992.7,2978.4 L1994.1,2978.4 L1995.6,2978.4 L1997.1,2978.4 L1998.5,2978.4 L2000.0,2978.4 L2001.5,2978.4 L2002.9,2978.4 L2004.4,2978.4 L2005.9,2978.4 L2007.3,2978.4 L2008.8,2978.4 L2010.2,2978.4 L2011.7,2978.4 L2013.2,2978.4 L2014.6,2978.4 L2016.1,2978.4 L2017.6,2978.4 L2019.0,2978.4 L2020.5,2978.4 L2022.0,2978.4 L2023.4,2978.4 L2024.9,2978.4 L2026.4,2978.4 L2027.8,2978.4 L2029.3,2978.4 L2030.7,2978.4 L2032.2,2978.4 L2033.7,2978.4 L2035.1,2978.4 L2036.6,2978.4 L2038.1,2978.4 L2039.5,2978.4 L2041.0,2978.4" fill="none" stroke="#000" stroke-width="3.5" stroke-linejoin="round" clip-path="url(#cliph)"/>
<path d="M1308.8,2978.4 L1310.3,2978.4 L1311.7,2978.4 L1313.2,2978.4 L1314.7,2978.4 L1316.1,2978.4 L1317.6,2978.4 L1319.1,2978.4 L1320.5,2978.4 L1322.0,2978.4 L1323.4,2978.4 L1324.9,2978.4 L1326.4,2978.4 L1327.8,2978.4 L1329.3,2978.4 L1330.8,2978.4 L1332.2,2978.4 L1333.7,2978.4 L1335.2,2978.4 L1336.6,2978.4 L1338.1,2978.4 L1339.6,2978.4 L1341.0,2978.4 L1342.5,2978.4 L1343.9,2978.4 L1345.4,2978.4 L1346.9,2978.4 L1348.3,2978.4 L1349.8,2978.3 L1351.3,2978.3 L1352.7,2978.3 L1354.2,2978.3 L1355.7,2978.3 L1357.1,2978.3 L1358.6,2978.3 L1360.1,2978.3 L1361.5,2978.3 L1363.0,2978.3 L1364.4,2978.3 L1365.9,2978.3 L1367.4,2978.3 L1368.8,2978.3 L1370.3,2978.3 L1371.8,2978.3 L1373.2,2978.3 L1374.7,2978.3 L1376.2,2978.3 L1377.6,2978.3 L1379.1,2978.3 L1380.6,2978.3 L1382.0,2978.3 L1383.5,2978.3 L1384.9,2978.3 L1386.4,2978.3 L1387.9,2978.3 L1389.3,2978.3 L1390.8,2978.3 L1392.3,2978.3 L1393.7,2978.3 L1395.2,2978.3 L1396.7,2978.3 L1398.1,2978.3 L1399.6,2978.3 L1401.1,2978.3 L1402.5,2978.3 L1404.0,2978.3 L1405.5,2978.3 L1406.9,2978.3 L1408.4,2978.3 L1409.8,2978.3 L1411.3,2978.3 L1412.8,2978.3 L1414.2,2978.3 L1415.7,2978.3 L1417.2,2978.3 L1418.6,2978.3 L1420.1,2978.3 L1421.6,2978.3 L1423.0,2978.3 L1424.5,2978.3 L1426.0,2978.3 L1427.4,2978.3 L1428.9,2978.3 L1430.3,2978.3 L1431.8,2978.3 L1433.3,2978.3 L1434.7,2978.3 L1436.2,2978.3 L1437.7,2978.3 L1439.1,2978.3 L1440.6,2978.3 L1442.1,2978.3 L1443.5,2978.3 L1445.0,2978.3 L1446.5,2978.3 L1447.9,2978.3 L1449.4,2978.3 L1450.8,2978.3 L1452.3,2978.3 L1453.8,2978.3 L1455.2,2978.3 L1456.7,2978.3 L1458.2,2978.3 L1459.6,2978.3 L1461.1,2978.3 L1462.6,2978.3 L1464.0,2978.3 L1465.5,2978.3 L1467.0,2978.3 L1468.4,2978.3 L1469.9,2978.3 L1471.3,2978.3 L1472.8,2978.3 L1474.3,2978.3 L1475.7,2978.3 L1477.2,2978.3 L1478.7,2978.3 L1480.1,2978.3 L1481.6,2978.2 L1483.1,2978.2 L1484.5,2978.2 L1486.0,2978.2 L1487.5,2978.2 L1488.9,2978.2 L1490.4,2978.2 L1491.8,2978.2 L1493.3,2978.2 L1494.8,2978.2 L1496.2,2978.2 L1497.7,2978.2 L1499.2,2978.2 L1500.6,2978.2 L1502.1,2978.2 L1503.6,2978.2 L1505.0,2978.2 L1506.5,2978.2 L1508.0,2978.2 L1509.4,2978.2 L1510.9,2978.2 L1512.4,2978.2 L1513.8,2978.2 L1515.3,2978.2 L1516.7,2978.2 L1518.2,2978.2 L1519.7,2978.2 L1521.1,2978.2 L1522.6,2978.1 L1524.1,2978.1 L1525.5,2978.1 L1527.0,2978.1 L1528.5,2978.1 L1529.9,2978.1 L1531.4,2978.1 L1532.9,2978.1 L1534.3,2978.1 L1535.8,2978.1 L1537.2,2978.1 L1538.7,2978.1 L1540.2,2978.1 L1541.6,2978.1 L1543.1,2978.1 L1544.6,2978.0 L1546.0,2978.0 L1547.5,2978.0 L1549.0,2978.0 L1550.4,2978.0 L1551.9,2978.0 L1553.4,2978.0 L1554.8,2978.0 L1556.3,2978.0 L1557.7,2977.9 L1559.2,2977.9 L1560.7,2977.9 L1562.1,2977.9 L1563.6,2977.9 L1565.1,2977.9 L1566.5,2977.9 L1568.0,2977.8 L1569.5,2977.8 L1570.9,2977.8 L1572.4,2977.8 L1573.9,2977.8 L1575.3,2977.7 L1576.8,2977.7 L1578.2,2977.7 L1579.7,2977.7 L1581.2,2977.6 L1582.6,2977.6 L1584.1,2977.6 L1585.6,2977.6 L1587.0,2977.5 L1588.5,2977.5 L1590.0,2977.5 L1591.4,2977.4 L1592.9,2977.4 L1594.4,2977.3 L1595.8,2977.3 L1597.3,2977.3 L1598.8,2977.2 L1600.2,2977.1 L1601.7,2977.1 L1603.1,2977.0 L1604.6,2977.0 L1606.1,2976.9 L1607.5,2976.8 L1609.0,2976.7 L1610.5,2976.7 L1611.9,2976.6 L1613.4,2976.5 L1614.9,2976.4 L1616.3,2976.3 L1617.8,2976.1 L1619.3,2976.0 L1620.7,2975.9 L1622.2,2975.7 L1623.6,2975.5 L1625.1,2975.4 L1626.6,2975.2 L1628.0,2975.0 L1629.5,2974.8 L1631.0,2974.5 L1632.4,2974.3 L1633.9,2974.0 L1635.4,2973.7 L1636.8,2973.4 L1638.3,2973.1 L1639.8,2972.7 L1641.2,2972.4 L1642.7,2972.0 L1644.1,2971.6 L1645.6,2971.2 L1647.1,2970.9 L1648.5,2970.5 L1650.0,2970.2 L1651.5,2969.9 L1652.9,2969.7 L1654.4,2969.5 L1655.9,2969.3 L1657.3,2969.3 L1658.8,2969.3 L1660.3,2969.4 L1661.7,2969.6 L1663.2,2969.8 L1664.6,2970.1 L1666.1,2970.4 L1667.6,2970.8 L1669.0,2971.1 L1670.5,2971.5 L1672.0,2971.9 L1673.4,2972.3 L1674.9,2972.6 L1676.4,2973.0 L1677.8,2973.3 L1679.3,2973.6 L1680.8,2973.9 L1682.2,2974.2 L1683.7,2974.5 L1685.2,2974.7 L1686.6,2974.9 L1688.1,2975.1 L1689.5,2975.3 L1691.0,2975.5 L1692.5,2975.7 L1693.9,2975.8 L1695.4,2976.0 L1696.9,2976.1 L1698.3,2976.2 L1699.8,2976.3 L1701.3,2976.4 L1702.7,2976.5 L1704.2,2976.6 L1705.7,2976.7 L1707.1,2976.8 L1708.6,2976.9 L1710.0,2976.9 L1711.5,2977.0 L1713.0,2977.1 L1714.4,2977.1 L1715.9,2977.2 L1717.4,2977.2 L1718.8,2977.3 L1720.3,2977.3 L1721.8,2977.4 L1723.2,2977.4 L1724.7,2977.5 L1726.2,2977.5 L1727.6,2977.5 L1729.1,2977.6 L1730.5,2977.6 L1732.0,2977.6 L1733.5,2977.6 L1734.9,2977.7 L1736.4,2977.7 L1737.9,2977.7 L1739.3,2977.7 L1740.8,2977.8 L1742.3,2977.8 L1743.7,2977.8 L1745.2,2977.8 L1746.7,2977.8 L1748.1,2977.9 L1749.6,2977.9 L1751.0,2977.9 L1752.5,2977.9 L1754.0,2977.9 L1755.4,2977.9 L1756.9,2977.9 L1758.4,2978.0 L1759.8,2978.0 L1761.3,2978.0 L1762.8,2978.0 L1764.2,2978.0 L1765.7,2978.0 L1767.2,2978.0 L1768.6,2978.0 L1770.1,2978.0 L1771.6,2978.0 L1773.0,2978.1 L1774.5,2978.1 L1775.9,2978.1 L1777.4,2978.1 L1778.9,2978.1 L1780.3,2978.1 L1781.8,2978.1 L1783.3,2978.1 L1784.7,2978.1 L1786.2,2978.1 L1787.7,2978.1 L1789.1,2978.1 L1790.6,2978.1 L1792.1,2978.1 L1793.5,2978.1 L1795.0,2978.2 L1796.4,2978.2 L1797.9,2978.2 L1799.4,2978.2 L1800.8,2978.2 L1802.3,2978.2 L1803.8,2978.2 L1805.2,2978.2 L1806.7,2978.2 L1808.2,2978.2 L1809.6,2978.2 L1811.1,2978.2 L1812.6,2978.2 L1814.0,2978.2 L1815.5,2978.2 L1816.9,2978.2 L1818.4,2978.2 L1819.9,2978.2 L1821.3,2978.2 L1822.8,2978.2 L1824.3,2978.2 L1825.7,2978.2 L1827.2,2978.2 L1828.7,2978.2 L1830.1,2978.2 L1831.6,2978.2 L1833.1,2978.2 L1834.5,2978.3 L1836.0,2978.3 L1837.4,2978.3 L1838.9,2978.3 L1840.4,2978.3 L1841.8,2978.3 L1843.3,2978.3 L1844.8,2978.3 L1846.2,2978.3 L1847.7,2978.3 L1849.2,2978.3 L1850.6,2978.3 L1852.1,2978.3 L1853.6,2978.3 L1855.0,2978.3 L1856.5,2978.3 L1858.0,2978.3 L1859.4,2978.3 L1860.9,2978.3 L1862.3,2978.3 L1863.8,2978.3 L1865.3,2978.3 L1866.7,2978.3 L1868.2,2978.3 L1869.7,2978.3 L1871.1,2978.3 L1872.6,2978.3 L1874.1,2978.3 L1875.5,2978.3 L1877.0,2978.3 L1878.5,2978.3 L1879.9,2978.3 L1881.4,2978.3 L1882.8,2978.3 L1884.3,2978.3 L1885.8,2978.3 L1887.2,2978.3 L1888.7,2978.3 L1890.2,2978.3 L1891.6,2978.3 L1893.1,2978.3 L1894.6,2978.3 L1896.0,2978.3 L1897.5,2978.3 L1899.0,2978.3 L1900.4,2978.3 L1901.9,2978.3 L1903.3,2978.3 L1904.8,2978.3 L1906.3,2978.3 L1907.7,2978.3 L1909.2,2978.3 L1910.7,2978.3 L1912.1,2978.3 L1913.6,2978.3 L1915.1,2978.3 L1916.5,2978.3 L1918.0,2978.3 L1919.5,2978.3 L1920.9,2978.3 L1922.4,2978.3 L1923.8,2978.3 L1925.3,2978.3 L1926.8,2978.3 L1928.2,2978.3 L1929.7,2978.3 L1931.2,2978.3 L1932.6,2978.3 L1934.1,2978.3 L1935.6,2978.3 L1937.0,2978.3 L1938.5,2978.3 L1940.0,2978.3 L1941.4,2978.3 L1942.9,2978.3 L1944.3,2978.3 L1945.8,2978.3 L1947.3,2978.3 L1948.7,2978.3 L1950.2,2978.3 L1951.7,2978.3 L1953.1,2978.3 L1954.6,2978.3 L1956.1,2978.3 L1957.5,2978.3 L1959.0,2978.3 L1960.5,2978.3 L1961.9,2978.3 L1963.4,2978.3 L1964.9,2978.3 L1966.3,2978.4 L1967.8,2978.4 L1969.2,2978.4 L1970.7,2978.4 L1972.2,2978.4 L1973.6,2978.4 L1975.1,2978.4 L1976.6,2978.4 L1978.0,2978.4 L1979.5,2978.4 L1981.0,2978.4 L1982.4,2978.4 L1983.9,2978.4 L1985.4,2978.4 L1986.8,2978.4 L1988.3,2978.4 L1989.7,2978.4 L1991.2,2978.4 L1992.7,2978.4 L1994.1,2978.4 L1995.6,2978.4 L1997.1,2978.4 L1998.5,2978.4 L2000.0,2978.4 L2001.5,2978.4 L2002.9,2978.4 L2004.4,2978.4 L2005.9,2978.4 L2007.3,2978.4 L2008.8,2978.4 L2010.2,2978.4 L2011.7,2978.4 L2013.2,2978.4 L2014.6,2978.4 L2016.1,2978.4 L2017.6,2978.4 L2019.0,2978.4 L2020.5,2978.4 L2022.0,2978.4 L2023.4,2978.4 L2024.9,2978.4 L2026.4,2978.4 L2027.8,2978.4 L2029.3,2978.4 L2030.7,2978.4 L2032.2,2978.4 L2033.7,2978.4 L2035.1,2978.4 L2036.6,2978.4 L2038.1,2978.4 L2039.5,2978.4 L2041.0,2978.4" fill="none" stroke="#000" stroke-width="3.5" stroke-linejoin="round" clip-path="url(#cliph)"/>
<path d="M1308.0,2968.0 L1318.5,2969.2 L1333.6,2971.0 L1350.5,2972.8 L1366.5,2973.9 L1380.9,2974.1 L1395.0,2973.8 L1409.6,2973.2 L1425.0,2972.7 L1442.3,2972.2 L1460.9,2971.7 L1479.1,2971.1 L1495.2,2970.4 L1509.1,2969.6 L1521.6,2968.8 L1532.5,2967.8 L1542.1,2966.9 L1549.6,2965.8 L1555.2,2964.7 L1560.2,2963.5 L1565.5,2962.2 L1571.3,2960.8 L1577.2,2959.4 L1583.0,2957.9 L1588.9,2956.3 L1594.7,2954.5 L1600.6,2952.5 L1606.4,2950.7 L1612.3,2949.3 L1618.1,2948.6 L1624.0,2948.3 L1629.8,2948.2 L1635.7,2948.1 L1641.7,2948.0 L1647.8,2948.0 L1653.8,2948.0 L1659.1,2948.1 L1663.4,2948.3 L1667.1,2948.6 L1670.7,2949.0 L1675.0,2949.3 L1679.6,2950.2 L1684.3,2951.6 L1689.9,2952.1 L1697.4,2950.5 L1708.2,2945.9 L1721.3,2939.3 L1734.2,2931.8 L1744.2,2924.7 L1750.0,2918.9 L1753.3,2913.5 L1755.5,2907.2 L1758.3,2899.0 L1761.8,2888.6 L1765.4,2876.7 L1769.0,2863.1 L1772.3,2847.5 L1775.4,2829.1 L1778.4,2808.4 L1781.3,2786.8 L1784.0,2765.6 L1786.5,2744.8 L1788.8,2723.9 L1791.1,2703.3 L1793.4,2683.6 L1795.7,2665.1 L1798.0,2647.4 L1800.4,2630.2 L1802.7,2613.4 L1805.1,2596.4 L1807.5,2579.3 L1809.8,2563.6 L1812.1,2550.2 L1814.2,2538.9 L1816.3,2529.2 L1818.3,2522.4 L1820.3,2519.8 L1822.4,2522.6 L1824.5,2529.9 L1826.5,2539.7 L1828.5,2550.2 L1830.3,2561.2 L1832.1,2573.5 L1833.8,2587.0 L1835.5,2601.7 L1837.2,2617.4 L1838.9,2634.2 L1840.6,2652.3 L1842.5,2671.9 L1844.7,2694.3 L1847.1,2718.8 L1849.5,2743.3 L1851.9,2765.6 L1854.2,2785.5 L1856.4,2804.0 L1858.7,2820.9 L1861.2,2835.8 L1864.0,2848.1 L1866.9,2858.2 L1870.0,2867.0 L1872.9,2875.6 L1875.6,2883.7 L1878.1,2891.1 L1880.9,2898.3 L1884.6,2906.0 L1889.7,2914.8 L1895.6,2924.1 L1901.9,2933.2 L1908.1,2941.1 L1913.9,2947.7 L1919.8,2953.5 L1925.6,2958.3 L1931.5,2962.2 L1935.8,2964.7 L1939.2,2966.0 L1944.6,2966.8 L1954.9,2968.0 L1974.0,2969.9 L1999.4,2971.9 L2024.1,2973.8 L2041.0,2975.0" fill="none" stroke="#0057D0" stroke-width="8" stroke-linejoin="round" clip-path="url(#cliph)"/>
<path d="M1308.0,2970.4 L1313.4,2970.4 L1320.5,2970.4 L1328.9,2970.4 L1338.4,2970.5 L1348.4,2970.5 L1358.6,2970.5 L1368.7,2970.4 L1378.2,2970.4 L1387.5,2970.3 L1396.9,2970.1 L1406.4,2969.9 L1416.0,2969.7 L1425.7,2969.5 L1435.3,2969.3 L1444.8,2969.0 L1454.3,2968.7 L1463.9,2968.4 L1474.0,2968.0 L1484.2,2967.6 L1494.3,2967.2 L1504.0,2966.8 L1513.0,2966.3 L1521.1,2966.0 L1528.0,2965.7 L1533.4,2965.5 L1537.3,2965.5 L1540.3,2965.5 L1542.6,2965.5 L1544.7,2965.5 L1547.0,2965.3 L1549.9,2965.0 L1553.8,2964.5 L1558.7,2963.7 L1564.5,2962.6 L1570.7,2961.3 L1577.2,2959.9 L1583.6,2958.5 L1589.9,2957.2 L1595.6,2956.0 L1600.6,2955.2 L1604.7,2954.5 L1608.3,2954.1 L1611.5,2953.8 L1614.3,2953.5 L1617.1,2953.4 L1619.9,2953.2 L1622.9,2953.1 L1626.3,2952.8 L1630.2,2952.5 L1634.4,2952.1 L1638.9,2951.8 L1643.4,2951.4 L1647.8,2951.1 L1652.0,2950.8 L1655.8,2950.6 L1659.1,2950.5 L1661.7,2950.5 L1663.8,2950.6 L1665.4,2950.8 L1666.8,2951.1 L1668.2,2951.3 L1669.8,2951.5 L1671.6,2951.6 L1674.0,2951.6 L1676.8,2951.7 L1679.8,2951.8 L1683.0,2951.9 L1686.3,2951.9 L1689.9,2951.8 L1693.8,2951.4 L1697.8,2950.6 L1702.1,2949.3 L1706.9,2947.5 L1712.3,2945.3 L1718.1,2942.7 L1724.0,2939.8 L1729.9,2936.7 L1735.3,2933.5 L1740.2,2930.3 L1744.2,2927.1 L1747.3,2924.0 L1749.7,2921.0 L1751.5,2918.0 L1753.0,2914.9 L1754.2,2911.5 L1755.4,2907.8 L1756.7,2903.7 L1758.3,2899.0 L1760.0,2893.9 L1761.8,2888.5 L1763.6,2882.7 L1765.4,2876.6 L1767.2,2870.1 L1769.0,2863.0 L1770.7,2855.5 L1772.3,2847.5 L1773.9,2838.7 L1775.4,2829.1 L1777.0,2819.0 L1778.4,2808.4 L1779.9,2797.6 L1781.3,2786.8 L1782.7,2776.0 L1784.0,2765.6 L1785.3,2755.3 L1786.5,2745.1 L1787.7,2734.8 L1788.8,2724.6 L1790.0,2714.4 L1791.1,2704.1 L1792.2,2693.9 L1793.4,2683.6 L1794.5,2673.3 L1795.7,2662.9 L1796.9,2652.4 L1798.1,2642.0 L1799.3,2631.6 L1800.5,2621.4 L1801.6,2611.4 L1802.7,2601.7 L1803.8,2592.2 L1804.9,2582.7 L1805.9,2573.4 L1806.9,2564.3 L1807.9,2555.4 L1808.9,2547.0 L1809.9,2539.0 L1810.9,2531.5 L1811.9,2524.1 L1812.9,2516.5 L1813.9,2509.0 L1814.9,2502.1 L1816.0,2496.1 L1817.0,2491.3 L1818.0,2488.2 L1819.1,2487.0 L1820.2,2488.3 L1821.4,2491.6 L1822.6,2496.6 L1823.9,2502.8 L1825.1,2509.9 L1826.3,2517.3 L1827.4,2524.7 L1828.5,2531.5 L1829.5,2538.0 L1830.4,2544.6 L1831.3,2551.4 L1832.1,2558.4 L1833.0,2565.8 L1833.8,2573.4 L1834.6,2581.5 L1835.5,2590.0 L1836.4,2599.1 L1837.2,2608.6 L1838.0,2618.5 L1838.9,2628.8 L1839.7,2639.3 L1840.6,2650.1 L1841.5,2661.0 L1842.5,2671.9 L1843.6,2683.2 L1844.7,2695.1 L1845.9,2707.2 L1847.1,2719.5 L1848.3,2731.7 L1849.5,2743.5 L1850.7,2754.9 L1851.9,2765.6 L1853.0,2775.6 L1854.2,2785.3 L1855.3,2794.6 L1856.4,2803.6 L1857.6,2812.2 L1858.7,2820.4 L1860.0,2828.3 L1861.2,2835.8 L1862.5,2842.8 L1863.7,2849.2 L1864.9,2855.3 L1866.2,2860.9 L1867.6,2866.4 L1869.1,2871.8 L1870.9,2877.1 L1872.9,2882.6 L1875.3,2888.2 L1878.0,2894.0 L1880.9,2899.7 L1883.9,2905.3 L1887.1,2910.7 L1890.2,2915.8 L1893.3,2920.5 L1896.4,2924.7 L1899.2,2928.4 L1901.9,2931.7 L1904.6,2934.5 L1907.3,2937.1 L1910.1,2939.4 L1913.1,2941.6 L1916.3,2943.7 L1919.8,2945.8 L1923.6,2947.8 L1927.7,2949.7 L1932.1,2951.5 L1936.6,2953.2 L1941.2,2954.7 L1945.8,2956.1 L1950.4,2957.4 L1954.9,2958.7 L1959.1,2959.7 L1963.3,2960.6 L1967.3,2961.4 L1971.4,2962.1 L1975.6,2962.7 L1980.1,2963.3 L1984.8,2963.9 L1990.0,2964.5 L1995.9,2965.2 L2002.8,2965.9 L2010.2,2966.6 L2017.7,2967.2 L2024.9,2967.8 L2031.5,2968.4 L2037.0,2968.8 L2041.0,2969.2" fill="none" stroke="#FF4500" stroke-width="9" stroke-linejoin="round" stroke-dasharray="50,25" clip-path="url(#cliph)"/>
<line x1="1331.9" y1="2507.6" x2="1414.2" y2="2507.6" stroke="#0057D0" stroke-width="8.3"/>
<line x1="1331.9" y1="2558.5" x2="1414.2" y2="2558.5" stroke="#FF4500" stroke-width="8.3" stroke-dasharray="50,25"/>
<text x="1432.4" y="2520.8" font-size="37.79" text-anchor="start">D2</text>
<text x="1432.4" y="2572.6" font-size="37.79" text-anchor="start">Fit Sum</text>
<text x="1902.2" y="2532.6" font-size="76.57" text-anchor="start">C1s</text>
<text x="1060.3" y="2416.0" font-size="87.00" text-anchor="start">h)</text>
<text x="1506.5" y="2418.3" font-size="49.98" text-anchor="start">C=OC−O</text>
<text x="1741.0" y="2419.1" font-size="49.31" text-anchor="start">C=C−C</text>
</svg></body></html>
